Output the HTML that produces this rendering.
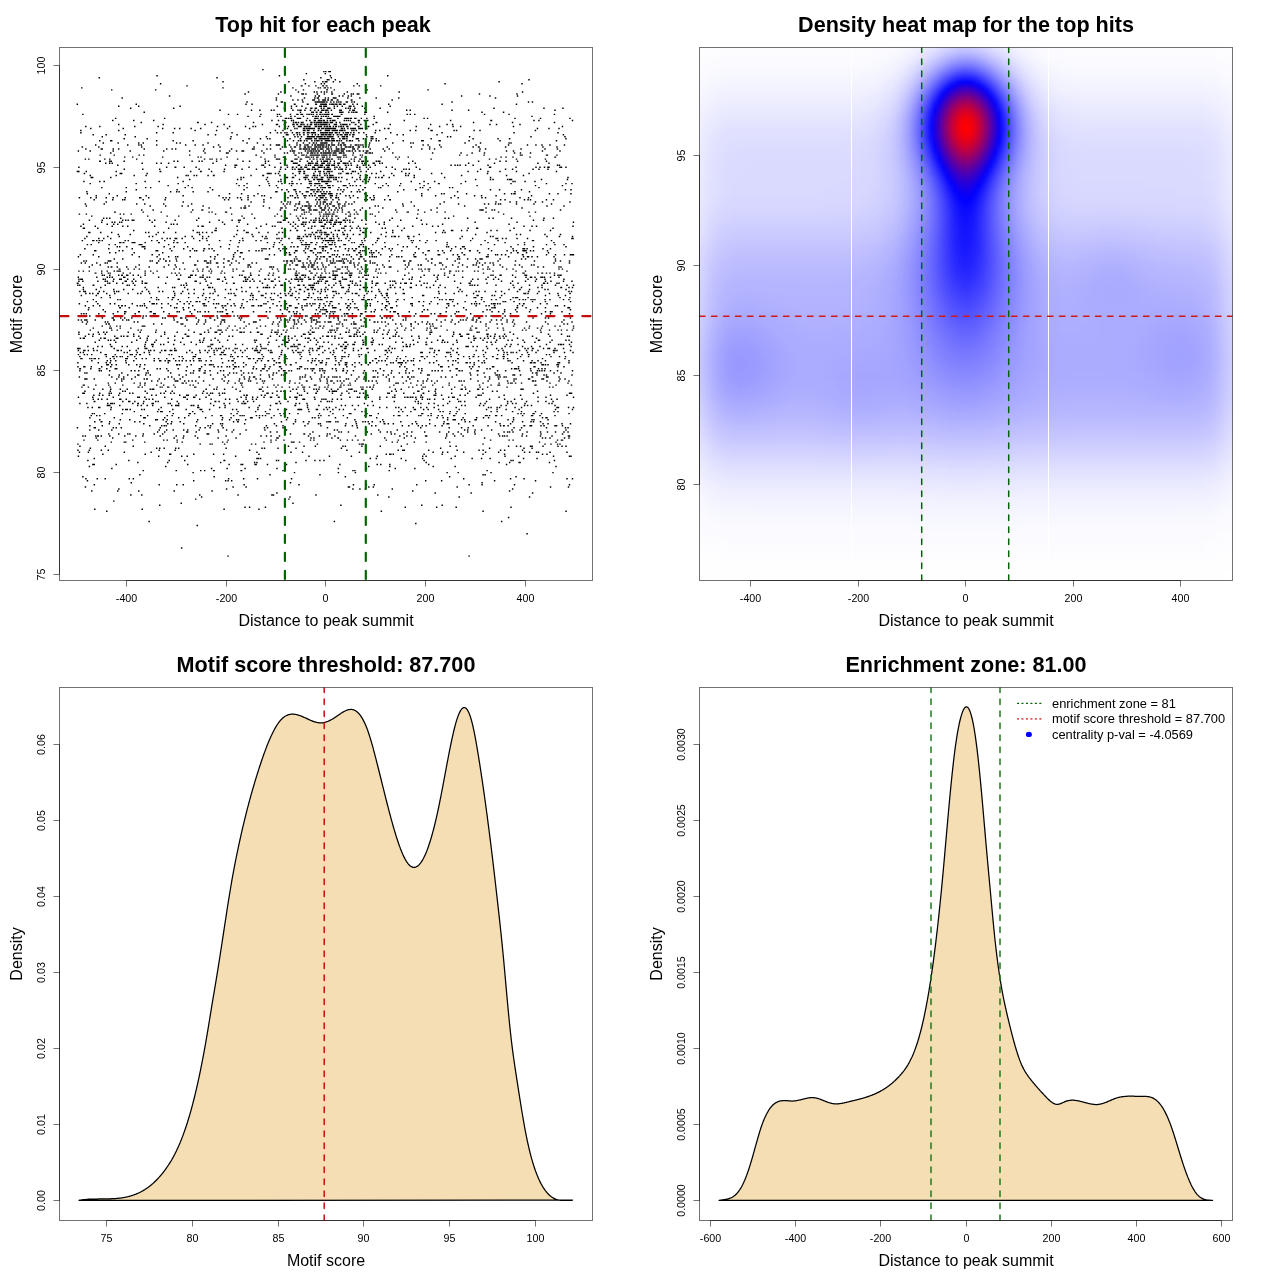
<!DOCTYPE html>
<html><head><meta charset="utf-8"><title>Motif centrality plots</title>
<style>html,body{margin:0;padding:0;background:#fff;width:1280px;height:1280px;overflow:hidden}svg{display:block}</style>
</head><body>
<svg width="1280" height="1280" viewBox="0 0 1280 1280" font-family='"Liberation Sans", Arial, sans-serif'><path d="M262.2 69.6h1.45m59.5 2h1.45m0.5 0h1.45m1.6 0h1.45m0 0h1.45m-25.4 2h1.45m17.5 0h1.45m-169.7 2.1h1.45m120.9 0h1.45m49.5 0h1.45m55.9 0h1.45m-289.9 2h1.45m116.3 0h1.45m102.4 0h1.45m9 0h1.45m-28.9 2h1.45m22 0h1.45m0.1 0h1.45m5 0h1.45m192.2 0h1.45m-307.4 2.1h1.45m64.4 0h1.45m24.5 0h1.45m6.6 0h1.45m1 0h1.45m-0.4 0h1.45m-1 0h1.45m5.1 0h1.45m5 0h1.45m157.8 0h1.45m-339.9 2h1.45m143.3 0h1.45m14.5 0h1.45m1.6 0h1.45m31.5 0h1.45m86.3 0h1.45m75.5 0h1.45m-336.4 2.1h1.45m112.9 0h1.45m-0.9 0h1.45m5.5 0h1.45m5.5 0h1.45m5.5 0h1.45m-0.9 0h1.45m1.5 0h1.45m-0.9 0h1.45m25.5 0h1.45m4.1 0h1.45m19.9 0h1.45m-300.4 2h1.45m139.8 0h1.45m68.4 0h1.45m24 0h1.45m0.6 0h1.45m2.5 0h1.45m-0.4 0h1.45m1 0h1.45m1.6 0h1.45m-220.6 2h1.45m42.5 0h1.45m138.8 0h1.45m6.1 0h1.45m21.9 0h1.45m-0.9 0h1.45m5.5 0h1.45m31.4 0h1.45m59.5 0h1.45m-181.1 2.1h1.45m31 0h1.45m16.1 0h1.45m14.4 0h1.45m1.1 0h1.45m3 0h1.45m1.6 0h1.45m1 0h1.45m3.6 0h1.45m14 0h1.45m50.4 0h1.45m121.9 0h1.45m-278.9 2h1.45m31.9 0h1.45m22.1 0h1.45m0 0h1.45m1.1 0h1.45m9.9 0h1.45m5.6 0h1.45m6 0h1.45m-0.9 0h1.45m10.5 0h1.45m5.6 0h1.45m0.5 0h1.45m2.6 0h1.45m0 0h1.45m119.2 0h1.45m36.1 0h1.45m-348.9 2h1.45m119.9 0h1.45m23 0h1.45m2 0h1.45m-0.9 0h1.45m18.5 0h1.45m2.1 0h1.45m4 0h1.45m1.6 0h1.45m108.8 0h1.45m26.9 0h1.45m26.1 0h1.45m-396.8 2.1h1.45m152.8 0h1.45m26.6 0h1.45m8.9 0h1.45m1.1 0h1.45m-0.5 0h1.45m5.6 0h1.45m1.5 0h1.45m3.6 0h1.45m0 0h1.45m-0.4 0h1.45m10.5 0h1.45m10.6 0h1.45m14.9 0h1.45m21.1 0h1.45m95.3 0h1.45m-220.6 2h1.45m15.1 0h1.45m3.6 0h1.45m3 0h1.45m9 0h1.45m0 0h1.45m3.1 0h1.45m2.5 0h1.45m-0.4 0h1.45m0 0h1.45m1.1 0h1.45m-1 0h1.45m1.6 0h1.45m-0.5 0h1.45m3.6 0h1.45m-1 0h1.45m12.1 0h1.45m-1 0h1.45m38.9 0h1.45m-146.6 2h1.45m32.9 0h1.45m-0.4 0h1.45m19.1 0h1.45m10.9 0h1.45m0.1 0h1.45m0 0h1.45m-0.9 0h1.45m-1 0h1.45m0.1 0h1.45m-0.5 0h1.45m-0.9 0h1.45m0 0h1.45m-0.9 0h1.45m-1 0h1.45m0.6 0h1.45m2.5 0h1.45m1.6 0h1.45m1.5 0h1.45m0.6 0h1.45m0.5 0h1.45m4.1 0h1.45m-0.5 0h1.45m3.1 0h1.45m1 0h1.45m96.3 0h1.45m75 0h1.45m2.5 0h1.45m-456.6 2.1h1.45m57.5 0h1.45m108.3 0h1.45m4.6 0h1.45m40.9 0h1.45m-0.9 0h1.45m11 0h1.45m-0.9 0h1.45m6.4 0h1.45m-0.9 0h1.45m3 0h1.45m0.1 0h1.45m-0.5 0h1.45m0.1 0h1.45m0 0h1.45m2.1 0h1.45m0.5 0h1.45m-0.9 0h1.45m-1 0h1.45m-0.4 0h1.45m0.5 0h1.45m-0.9 0h1.45m-1 0h1.45m1.1 0h1.45m0 0h1.45m1.6 0h1.45m-0.5 0h1.45m6.6 0h1.45m3 0h1.45m29.9 0h1.45m52 0h1.45m72.9 0h1.45m-399.2 2h1.45m18.5 0h1.45m40 0h1.45m95.8 0h1.45m12.6 0h1.45m3.6 0h1.45m4 0h1.45m16.5 0h1.45m0 0h1.45m1.1 0h1.45m0 0h1.45m-0.4 0h1.45m6.5 0h1.45m1.6 0h1.45m3.5 0h1.45m5.6 0h1.45m0 0h1.45m1.6 0h1.45m7 0h1.45m26.4 0h1.45m-260.9 2h1.45m41.5 0h1.45m109.3 0h1.45m5.6 0h1.45m13 0h1.45m3.6 0h1.45m-0.6 0h1.45m2.1 0h1.45m-1 0h1.45m-0.9 0h1.45m3.5 0h1.45m1.1 0h1.45m2.5 0h1.45m-0.9 0h1.45m0 0h1.45m3.1 0h1.45m10 0h1.45m1.1 0h1.45m0.5 0h1.45m3.1 0h1.45m8.5 0h1.45m13.9 0h1.45m112.4 0h1.45m48.5 0h1.45m17.5 0h1.45m-344.3 2.1h1.45m30 0h1.45m6.9 0h1.45m10.1 0h1.45m1.1 0h1.45m17.5 0h1.45m3.6 0h1.45m0.5 0h1.45m-0.4 0h1.45m2.5 0h1.45m4.1 0h1.45m2.9 0h1.45m2.1 0h1.45m2 0h1.45m-0.9 0h1.45m0 0h1.45m0.6 0h1.45m-1 0h1.45m-0.4 0h1.45m-1 0h1.45m2.1 0h1.45m7 0h1.45m0.1 0h1.45m7 0h1.45m1.6 0h1.45m0 0h1.45m50.9 0h1.45m2.1 0h1.45m40.4 0h1.45m15.1 0h1.45m84.9 0h1.45m-412.2 2h1.45m154.8 0h1.45m9.9 0h1.45m0.1 0h1.45m1.5 0h1.45m-0.9 0h1.45m2 0h1.45m-0.4 0h1.45m3 0h1.45m1.1 0h1.45m10 0h1.45m-0.9 0h1.45m-0.5 0h1.45m0.1 0h1.45m4.5 0h1.45m1.6 0h1.45m0.5 0h1.45m0.6 0h1.45m-0.5 0h1.45m6.6 0h1.45m0 0h1.45m19.9 0h1.45m92.9 0h1.45m20.1 0h1.45m-422.2 2.1h1.45m144.2 0h1.45m7.6 0h1.45m21.9 0h1.45m15.1 0h1.45m0.6 0h1.45m9.5 0h1.45m5.1 0h1.45m-0.5 0h1.45m1.6 0h1.45m0 0h1.45m3.1 0h1.45m0.5 0h1.45m-0.9 0h1.45m0.5 0h1.45m0.5 0h1.45m2 0h1.45m1.6 0h1.45m-0.5 0h1.45m0.6 0h1.45m0.5 0h1.45m0.1 0h1.45m-0.5 0h1.45m-0.9 0h1.45m-0.5 0h1.45m1.6 0h1.45m-1 0h1.45m7.6 0h1.45m-1 0h1.45m21.6 0h1.45m40.9 0h1.45m1.6 0h1.45m3 0h1.45m68.4 0h1.45m23 0h1.45m44 0h1.45m-307.9 2h1.45m10.4 0h1.45m16.1 0h1.45m2.1 0h1.45m8.5 0h1.45m2.6 0h1.45m7 0h1.45m8 0h1.45m1 0h1.45m-0.4 0h1.45m0.5 0h1.45m1.6 0h1.45m0.5 0h1.45m0.6 0h1.45m-0.5 0h1.45m0.6 0h1.45m4 0h1.45m-0.4 0h1.45m0 0h1.45m-0.9 0h1.45m-1 0h1.45m-0.4 0h1.45m0 0h1.45m32.9 0h1.45m156.4 0h1.45m-417.8 2h1.45m47.5 0h1.45m119.3 0h1.45m-0.4 0h1.45m0.6 0h1.45m0.5 0h1.45m-0.4 0h1.45m4.5 0h1.45m-0.4 0h1.45m0 0h1.45m-0.9 0h1.45m5.5 0h1.45m6 0h1.45m0 0h1.45m0.1 0h1.45m1.5 0h1.45m-0.9 0h1.45m4.5 0h1.45m0.1 0h1.45m-1 0h1.45m0.1 0h1.45m5.5 0h1.45m5.6 0h1.45m-1 0h1.45m-0.4 0h1.45m-0.5 0h1.45m-0.4 0h1.45m0.5 0h1.45m-0.9 0h1.45m-1 0h1.45m2.1 0h1.45m-0.5 0h1.45m4.1 0h1.45m4 0h1.45m5.9 0h1.45m48.5 0h1.45m2 0h1.45m86 0h1.45m24 0h1.45m28 0h1.45m-458.6 2.1h1.45m19.5 0h1.45m18.5 0h1.45m116.8 0h1.45m5.1 0h1.45m3 0h1.45m7.1 0h1.45m0.5 0h1.45m11.6 0h1.45m2 0h1.45m3 0h1.45m-0.5 0h1.45m1.6 0h1.45m-0.5 0h1.45m0.1 0h1.45m-1 0h1.45m0.6 0h1.45m-0.5 0h1.45m1.6 0h1.45m1.5 0h1.45m0.6 0h1.45m0 0h1.45m-0.4 0h1.45m8 0h1.45m0.6 0h1.45m0.5 0h1.45m0.6 0h1.45m6.5 0h1.45m-0.4 0h1.45m3.5 0h1.45m1.4 0h1.45m-0.9 0h1.45m35.1 0h1.45m44.9 0h1.45m38.9 0h1.45m-0.9 0h1.45m41 0h1.45m3.5 0h1.45m32.1 0h1.45m-432.7 2h1.45m55 0h1.45m-1 0h1.45m12 0h1.45m40.5 0h1.45m30.9 0h1.45m6.1 0h1.45m0.6 0h1.45m-0.5 0h1.45m0.6 0h1.45m1.5 0h1.45m0.1 0h1.45m6.5 0h1.45m-0.5 0h1.45m1 0h1.45m-0.9 0h1.45m0.5 0h1.45m-0.4 0h1.45m0 0h1.45m-0.4 0h1.45m-0.5 0h1.45m-0.9 0h1.45m0.5 0h1.45m-0.9 0h1.45m-0.5 0h1.45m-0.4 0h1.45m0 0h1.45m1.1 0h1.45m-0.5 0h1.45m-0.4 0h1.45m2.5 0h1.45m2.1 0h1.45m10.5 0h1.45m0.6 0h1.45m3.5 0h1.45m15.9 0h1.45m-0.9 0h1.45m95.4 0h1.45m37.5 0h1.45m40.5 0h1.45m-437.2 2h1.45m43 0h1.45m40.4 0h1.45m17.6 0h1.45m36.9 0h1.45m12.6 0h1.45m-0.5 0h1.45m5.6 0h1.45m7 0h1.45m-0.4 0h1.45m1.5 0h1.45m-0.9 0h1.45m2 0h1.45m-0.4 0h1.45m0.5 0h1.45m2.1 0h1.45m1.5 0h1.45m-0.4 0h1.45m1.9 0h1.45m0.1 0h1.45m-1 0h1.45m0.6 0h1.45m0.5 0h1.45m-0.4 0h1.45m-1 0h1.45m-0.4 0h1.45m-1 0h1.45m-0.4 0h1.45m-0.5 0h1.45m-0.4 0h1.45m1 0h1.45m3.6 0h1.45m-1 0h1.45m-0.4 0h1.45m-1 0h1.45m3.1 0h1.45m0.5 0h1.45m-0.9 0h1.45m-0.5 0h1.45m0.1 0h1.45m-1 0h1.45m-0.9 0h1.45m1.5 0h1.45m4.1 0h1.45m-1 0h1.45m3.6 0h1.45m10.9 0h1.45m15.6 0h1.45m38.9 0h1.45m15 0h1.45m4.1 0h1.45m35.9 0h1.45m5.1 0h1.45m22 0h1.45m-435.6 2.1h1.45m12.5 0h1.45m33.5 0h1.45m22 0h1.45m57.9 0h1.45m10.6 0h1.45m14.5 0h1.45m6.1 0h1.45m1 0h1.45m22.4 0h1.45m4.6 0h1.45m1.6 0h1.45m4 0h1.45m3.1 0h1.45m0 0h1.45m-0.4 0h1.45m2 0h1.45m-0.9 0h1.45m-1 0h1.45m0.1 0h1.45m0.5 0h1.45m-0.4 0h1.45m3.9 0h1.45m-0.9 0h1.45m-1 0h1.45m0.6 0h1.45m-1 0h1.45m0.1 0h1.45m-0.5 0h1.45m1.6 0h1.45m-1 0h1.45m0.6 0h1.45m-1 0h1.45m0.6 0h1.45m-0.5 0h1.45m1.6 0h1.45m1 0h1.45m-0.9 0h1.45m1 0h1.45m0.6 0h1.45m-1 0h1.45m0.6 0h1.45m2 0h1.45m-0.9 0h1.45m-1 0h1.45m9.1 0h1.45m-1 0h1.45m6.6 0h1.45m0.4 0h1.45m46.1 0h1.45m21.9 0h1.45m12 0h1.45m6.1 0h1.45m51.4 0h1.45m47.5 0h1.45m-473.1 2h1.45m31 0h1.45m38 0h1.45m10.5 0h1.45m3.6 0h1.45m10 0h1.45m8.1 0h1.45m25.4 0h1.45m20.6 0h1.45m33.4 0h1.45m1.6 0h1.45m6 0h1.45m0.6 0h1.45m5 0h1.45m-0.4 0h1.45m0.5 0h1.45m0.1 0h1.45m-1 0h1.45m-0.9 0h1.45m0 0h1.45m-0.4 0h1.45m-0.1 0h1.45m0.1 0h1.45m2.5 0h1.45m-0.9 0h1.45m-1 0h1.45m1.1 0h1.45m-0.5 0h1.45m-0.9 0h1.45m0.5 0h1.45m0.1 0h1.45m-0.5 0h1.45m-0.4 0h1.45m-1 0h1.45m-0.9 0h1.45m-1 0h1.45m-0.9 0h1.45m-0.5 0h1.45m0.1 0h1.45m-1 0h1.45m-0.9 0h1.45m-1 0h1.45m-0.9 0h1.45m4.5 0h1.45m-0.4 0h1.45m0.5 0h1.45m2.1 0h1.45m1.5 0h1.45m0.1 0h1.45m0 0h1.45m-0.4 0h1.45m-1 0h1.45m2.1 0h1.45m-0.5 0h1.45m-0.9 0h1.45m-1 0h1.45m0.1 0h1.45m3 0h1.45m16.4 0h1.45m2.1 0h1.45m-0.9 0h1.45m38.4 0h1.45m107.4 0h1.45m10 0h1.45m8.6 0h1.45m-479.6 2h1.45m36.5 0h1.45m74.9 0h1.45m20 0h1.45m57.4 0h1.45m6.1 0h1.45m6.5 0h1.45m11.1 0h1.45m0 0h1.45m1.1 0h1.45m0 0h1.45m3.5 0h1.45m3 0h1.45m0.6 0h1.45m-1 0h1.45m3.1 0h1.45m0 0h1.45m-0.9 0h1.45m0 0h1.45m-0.9 0h1.45m1.5 0h1.45m-0.9 0h1.45m0 0h1.45m-0.9 0h1.45m-1 0h1.45m-0.9 0h1.45m-0.5 0h1.45m-0.9 0h1.45m1 0h1.45m0.1 0h1.45m-0.5 0h1.45m-0.9 0h1.45m0.5 0h1.45m5.6 0h1.45m0.5 0h1.45m1.1 0h1.45m17.9 0h1.45m2.6 0h1.45m29 0h1.45m4.1 0h1.45m13.9 0h1.45m-0.5 0h1.45m20.6 0h1.45m1 0h1.45m16.1 0h1.45m4.4 0h1.45m54 0h1.45m-456 2.1h1.45m74.3 0h1.45m15.1 0h1.45m57.4 0h1.45m36.9 0h1.45m5.6 0h1.45m2.1 0h1.45m2.5 0h1.45m0.6 0h1.45m4 0h1.45m2.6 0h1.45m-0.5 0h1.45m0.6 0h1.45m2.5 0h1.45m-0.9 0h1.45m2 0h1.45m0.1 0h1.45m1 0h1.45m-0 0h1.45m-1 0h1.45m-0.9 0h1.45m-0.5 0h1.45m-0.9 0h1.45m4 0h1.45m-0.9 0h1.45m-0.5 0h1.45m-0.4 0h1.45m-1 0h1.45m0.1 0h1.45m-0.5 0h1.45m-0.4 0h1.45m0.5 0h1.45m-0.9 0h1.45m-1 0h1.45m0.1 0h1.45m-1 0h1.45m1.6 0h1.45m-1 0h1.45m-0.4 0h1.45m1 0h1.45m2.6 0h1.45m1 0h1.45m0.1 0h1.45m-0.5 0h1.45m1.1 0h1.45m1.5 0h1.45m3.6 0h1.45m3.5 0h1.45m9.9 0h1.45m14.1 0h1.45m49.9 0h1.45m70.5 0h1.45m42.5 0h1.45m-466.2 2h1.45m11.5 0h1.45m17.6 0h1.45m81.4 0h1.45m6 0h1.45m20.1 0h1.45m47.9 0h1.45m-0.4 0h1.45m-1 0h1.45m4.6 0h1.45m2 0h1.45m1.1 0h1.45m2.5 0h1.45m2.6 0h1.45m2.9 0h1.45m1.6 0h1.45m1.5 0h1.45m1.6 0h1.45m-1 0h1.45m-0.9 0h1.45m-0.5 0h1.45m-0.9 0h1.45m0.5 0h1.45m-0.9 0h1.45m-1 0h1.45m0.6 0h1.45m-0.5 0h1.45m-0.9 0h1.45m-1 0h1.45m1.1 0h1.45m2.5 0h1.45m-0.9 0h1.45m1 0h1.45m-0.9 0h1.45m-0.5 0h1.45m1.6 0h1.45m-1 0h1.45m0.1 0h1.45m-1 0h1.45m1.1 0h1.45m1.5 0h1.45m-0.4 0h1.45m11 0h1.45m29.4 0h1.45m4.6 0h1.45m32.4 0h1.45m124.9 0h1.45m-462.6 2h1.45m31.5 0h1.45m94.4 0h1.45m33.9 0h1.45m15.6 0h1.45m10 0h1.45m1.6 0h1.45m2 0h1.45m4.6 0h1.45m-1 0h1.45m-0.9 0h1.45m-0.5 0h1.45m0.1 0h1.45m-0.6 0h1.45m-0.4 0h1.45m-1 0h1.45m-0.4 0h1.45m1 0h1.45m0.1 0h1.45m0 0h1.45m-0.4 0h1.45m-1 0h1.45m-0.9 0h1.45m1 0h1.45m-0.9 0h1.45m1 0h1.45m0.1 0h1.45m0 0h1.45m0.1 0h1.45m-0.5 0h1.45m4.1 0h1.45m2.5 0h1.45m-0.9 0h1.45m0 0h1.45m0.6 0h1.45m-0.5 0h1.45m4.1 0h1.45m12.5 0h1.45m2.9 0h1.45m0.1 0h1.45m73.4 0h1.45m1.6 0h1.45m17.5 0h1.45m60 0h1.45m32.5 0h1.45m-442.2 2.1h1.45m21.5 0h1.45m81.9 0h1.45m17.1 0h1.45m9.9 0h1.45m5.6 0h1.45m1 0h1.45m18.6 0h1.45m9 0h1.45m4.1 0h1.45m-0.5 0h1.45m-0.9 0h1.45m0 0h1.45m-0.4 0h1.45m-0.5 0h1.45m-0.9 0h1.45m1.9 0h1.45m0.1 0h1.45m1.5 0h1.45m-0.4 0h1.45m-0.5 0h1.45m-0.4 0h1.45m0 0h1.45m-0.4 0h1.45m-0.5 0h1.45m-0.4 0h1.45m-0.5 0h1.45m-0.4 0h1.45m1.5 0h1.45m-0.9 0h1.45m0 0h1.45m4.6 0h1.45m1.5 0h1.45m-0.4 0h1.45m-0.5 0h1.45m0.6 0h1.45m8 0h1.45m-0.4 0h1.45m-0.5 0h1.45m3.6 0h1.45m6.4 0h1.45m0.1 0h1.45m2 0h1.45m8.1 0h1.45m43.9 0h1.45m40.5 0h1.45m23.5 0h1.45m10.1 0h1.45m54.9 0h1.45m-467.6 2h1.45m9.5 0h1.45m-0.5 0h1.45m43.5 0h1.45m15.1 0h1.45m18.5 0h1.45m48.5 0h1.45m42.9 0h1.45m4.6 0h1.45m3.5 0h1.45m0.6 0h1.45m-1 0h1.45m2.1 0h1.45m1 0h1.45m3.5 0h1.45m1.5 0h1.45m0.6 0h1.45m-1 0h1.45m0.1 0h1.45m1 0h1.45m-0.9 0h1.45m2 0h1.45m-0.9 0h1.45m-1 0h1.45m-0.4 0h1.45m-0.5 0h1.45m-0.4 0h1.45m-1 0h1.45m0.6 0h1.45m-1 0h1.45m-0.9 0h1.45m-1 0h1.45m-0.4 0h1.45m1 0h1.45m-0.9 0h1.45m0.5 0h1.45m0.6 0h1.45m4 0h1.45m1.1 0h1.45m-0.5 0h1.45m0.6 0h1.45m5 0h1.45m10.9 0h1.45m3.6 0h1.45m1.1 0h1.45m23 0h1.45m17.1 0h1.45m-0.1 0h1.45m14.5 0h1.45m-0.4 0h1.45m27.5 0h1.45m29.5 0h1.45m55 0h1.45m-454.7 2.1h1.45m13.5 0h1.45m19.1 0h1.45m3.1 0h1.45m31.9 0h1.45m2.1 0h1.45m26.4 0h1.45m37.6 0h1.45m8.9 0h1.45m38.1 0h1.45m5 0h1.45m4.6 0h1.45m2.4 0h1.45m-0.9 0h1.45m1 0h1.45m3.1 0h1.45m0 0h1.45m0.1 0h1.45m0 0h1.45m-0.9 0h1.45m-0.5 0h1.45m3.6 0h1.45m5.5 0h1.45m2.1 0h1.45m0 0h1.45m24.4 0h1.45m21.6 0h1.45m16.6 0h1.45m1 0h1.45m50.4 0h1.45m14 0h1.45m27.1 0h1.45m0.5 0h1.45m-416.8 2h1.45m30.6 0h1.45m9.6 0h1.45m1 0h1.45m14 0h1.45m27.5 0h1.45m8.1 0h1.45m6.4 0h1.45m14.1 0h1.45m43.4 0h1.45m5.6 0h1.45m4.5 0h1.45m0.1 0h1.45m0 0h1.45m8.6 0h1.45m6 0h1.45m1.6 0h1.45m-1 0h1.45m3.1 0h1.45m0.5 0h1.45m-0.4 0h1.45m2.9 0h1.45m1.1 0h1.45m-1 0h1.45m0.6 0h1.45m-0.5 0h1.45m0.1 0h1.45m-0.5 0h1.45m-0.4 0h1.45m0 0h1.45m-0.9 0h1.45m1 0h1.45m0.6 0h1.45m-0.5 0h1.45m1.1 0h1.45m-0.5 0h1.45m0.1 0h1.45m2.5 0h1.45m0.6 0h1.45m-0.5 0h1.45m1.1 0h1.45m-0.5 0h1.45m-0.9 0h1.45m4 0h1.45m3.1 0h1.45m-0.5 0h1.45m-0.9 0h1.45m0.5 0h1.45m0.6 0h1.45m0.5 0h1.45m4.9 0h1.45m52.5 0h1.45m3.5 0h1.45m10.1 0h1.45m35 0h1.45m31 0h1.45m17.5 0h1.45m7 0h1.45m4.6 0h1.45m6.5 0h1.45m13.1 0h1.45m-483.6 2h1.45m15 0h1.45m41.5 0h1.45m70.4 0h1.45m5 0h1.45m32.6 0h1.45m26.9 0h1.45m2.1 0h1.45m3.5 0h1.45m2.1 0h1.45m-0.5 0h1.45m3.1 0h1.45m3 0h1.45m-0.4 0h1.45m1 0h1.45m-0.4 0h1.45m0.5 0h1.45m2.5 0h1.45m-1 0h1.45m-0.9 0h1.45m-1 0h1.45m-0.9 0h1.45m0.5 0h1.45m0.1 0h1.45m0.5 0h1.45m-0.4 0h1.45m-1 0h1.45m0.6 0h1.45m-1 0h1.45m0.6 0h1.45m1 0h1.45m4.1 0h1.45m3.5 0h1.45m2.6 0h1.45m0 0h1.45m0.6 0h1.45m-1 0h1.45m-0.4 0h1.45m0.5 0h1.45m-0.4 0h1.45m3.5 0h1.45m-0.4 0h1.45m2.5 0h1.45m3.9 0h1.45m17.1 0h1.45m22.6 0h1.45m16.9 0h1.45m10 0h1.45m30.6 0h1.45m3.9 0h1.45m-0.9 0h1.45m25.1 0h1.45m35.9 0h1.45m12.6 0h1.45m-472.6 2.1h1.45m14 0h1.45m-1 0h1.45m-1 0h1.45m9.6 0h1.45m4 0h1.45m24.1 0h1.45m21 0h1.45m4 0h1.45m2.1 0h1.45m27.4 0h1.45m25.6 0h1.45m19.5 0h1.45m0.1 0h1.45m11.4 0h1.45m2.1 0h1.45m8.5 0h1.45m10.1 0h1.45m6.5 0h1.45m-0.4 0h1.45m1 0h1.45m-0.9 0h1.45m-0.5 0h1.45m0.1 0h1.45m-1 0h1.45m0.6 0h1.45m-1 0h1.45m1 0h1.45m-1 0h1.45m-0.4 0h1.45m0 0h1.45m-0.9 0h1.45m1 0h1.45m1.1 0h1.45m-1 0h1.45m-0.9 0h1.45m0 0h1.45m2.6 0h1.45m-0.5 0h1.45m-0.9 0h1.45m-1 0h1.45m1.1 0h1.45m3.5 0h1.45m-0.4 0h1.45m-0.5 0h1.45m-0.9 0h1.45m1 0h1.45m-0.4 0h1.45m0 0h1.45m-0.9 0h1.45m7 0h1.45m-0.9 0h1.45m-0.5 0h1.45m2.1 0h1.45m10.9 0h1.45m11.6 0h1.45m4.5 0h1.45m31.1 0h1.45m6.4 0h1.45m3.5 0h1.45m44 0h1.45m4.1 0h1.45m34 0h1.45m22.5 0h1.45m11 0h1.45m-480.5 2h1.45m10.4 0h1.45m21.5 0h1.45m15.6 0h1.45m32 0h1.45m24.5 0h1.45m12.5 0h1.45m15 0h1.45m8.1 0h1.45m5.5 0h1.45m4.1 0h1.45m0 0h1.45m16.9 0h1.45m27.1 0h1.45m0.6 0h1.45m-1 0h1.45m0.1 0h1.45m9.5 0h1.45m1.1 0h1.45m0.5 0h1.45m0.1 0h1.45m0.4 0h1.45m-0.9 0h1.45m0.5 0h1.45m-0.9 0h1.45m0.5 0h1.45m-0.9 0h1.45m-1 0h1.45m2.6 0h1.45m1 0h1.45m1.6 0h1.45m-1 0h1.45m1.1 0h1.45m1 0h1.45m0.1 0h1.45m0 0h1.45m0.1 0h1.45m1 0h1.45m-0.9 0h1.45m-0.5 0h1.45m-0.9 0h1.45m2 0h1.45m0.6 0h1.45m-1 0h1.45m-0.9 0h1.45m1 0h1.45m1.6 0h1.45m2.5 0h1.45m-0.9 0h1.45m2 0h1.45m1.6 0h1.45m-0.6 0h1.45m-0.9 0h1.45m15.5 0h1.45m93.4 0h1.45m25.5 0h1.45m5.5 0h1.45m27.5 0h1.45m16.1 0h1.45m-450.7 2h1.45m92.9 0h1.45m20 0h1.45m0.1 0h1.45m34.4 0h1.45m19.1 0h1.45m1.5 0h1.45m5.1 0h1.45m3.5 0h1.45m1.1 0h1.45m4.5 0h1.45m-0.9 0h1.45m1.5 0h1.45m-0.9 0h1.45m-0.1 0h1.45m0.6 0h1.45m1 0h1.45m-0.9 0h1.45m1.5 0h1.45m-0.9 0h1.45m0.5 0h1.45m0.1 0h1.45m-1 0h1.45m0.1 0h1.45m-0.5 0h1.45m-0.9 0h1.45m-0.5 0h1.45m0.1 0h1.45m1 0h1.45m0.1 0h1.45m-0.5 0h1.45m2.1 0h1.45m-0.5 0h1.45m-0.4 0h1.45m0.5 0h1.45m-0.9 0h1.45m8 0h1.45m10.6 0h1.45m0 0h1.45m0.9 0h1.45m-0.9 0h1.45m-0.9 0h1.45m0.5 0h1.45m19.1 0h1.45m38.4 0h1.45m27 0h1.45m9.6 0h1.45m10.9 0h1.45m28.6 0h1.45m4.5 0h1.45m8.6 0h1.45m-431.8 2.1h1.45m12.6 0h1.45m23.5 0h1.45m3.1 0h1.45m44.5 0h1.45m64.9 0h1.45m-1.1 0h1.45m17.1 0h1.45m18.6 0h1.45m-1 0h1.45m-0.9 0h1.45m4.5 0h1.45m0.1 0h1.45m-1 0h1.45m1.1 0h1.45m2.5 0h1.45m-0.4 0h1.45m-0.6 0h1.45m0.1 0h1.45m-0.5 0h1.45m-0.4 0h1.45m-0.5 0h1.45m-0.4 0h1.45m-1 0h1.45m-0.4 0h1.45m1 0h1.45m0.1 0h1.45m0 0h1.45m-0.9 0h1.45m-1 0h1.45m-0.9 0h1.45m-1 0h1.45m1.1 0h1.45m-0.5 0h1.45m1.1 0h1.45m-0.5 0h1.45m-0.4 0h1.45m0 0h1.45m5.6 0h1.45m0 0h1.45m-0.9 0h1.45m-1 0h1.45m5.6 0h1.45m6 0h1.45m0.6 0h1.45m95.8 0h1.45m6 0h1.45m15.5 0h1.45m35 0h1.45m0.1 0h1.45m23 0h1.45m-0.5 0h1.45m8.1 0h1.45m-433.7 2h1.45m6.5 0h1.45m28.5 0h1.45m34.1 0h1.45m1.4 0h1.45m24.6 0h1.45m32.4 0h1.45m12.6 0h1.45m7 0h1.45m13.6 0h1.45m6 0h1.45m-0.4 0h1.45m-0.5 0h1.45m-0.4 0h1.45m1 0h1.45m0.5 0h1.45m2 0h1.45m-0.4 0h1.45m3 0h1.45m-0.9 0h1.45m0 0h1.45m1.1 0h1.45m1.5 0h1.45m6.1 0h1.45m-1 0h1.45m-0.9 0h1.45m-1 0h1.45m-0.9 0h1.45m0 0h1.45m1.6 0h1.45m1 0h1.45m7.1 0h1.45m-0.5 0h1.45m4.6 0h1.45m2 0h1.45m14.4 0h1.45m13.1 0h1.45m2.1 0h1.45m7.5 0h1.45m91.4 0h1.45m3.5 0h1.45m5.5 0h1.45m15.6 0h1.45m23.5 0h1.45m-1 0h1.45m-471.5 2h1.45m2 0h1.45m14.5 0h1.45m3.5 0h1.45m25.5 0h1.45m66.4 0h1.45m4.1 0h1.45m0.5 0h1.45m3.1 0h1.45m3 0h1.45m15.1 0h1.45m25.9 0h1.45m10.1 0h1.45m0 0h1.45m0.1 0h1.45m5 0h1.45m7.6 0h1.45m-0.5 0h1.45m-0.4 0h1.45m2 0h1.45m-0.4 0h1.45m7 0h1.45m2 0h1.45m-1 0h1.45m1.6 0h1.45m2 0h1.45m0.6 0h1.45m-0.5 0h1.45m1.6 0h1.45m-1 0h1.45m-0.4 0h1.45m0 0h1.45m0.6 0h1.45m-0.5 0h1.45m4.6 0h1.45m0.5 0h1.45m9.6 0h1.45m1.5 0h1.45m4.1 0h1.45m-1 0h1.45m35.9 0h1.45m32 0h1.45m56.9 0h1.45m5.1 0h1.45m19 0h1.45m27.5 0h1.45m-447.1 2.1h1.45m-1 0h1.45m8 0h1.45m0.1 0h1.45m11.5 0h1.45m48.5 0h1.45m2.1 0h1.45m13 0h1.45m5.6 0h1.45m1.4 0h1.45m13.1 0h1.45m25 0h1.45m5.1 0h1.45m14.4 0h1.45m1.6 0h1.45m21.5 0h1.45m-0.4 0h1.45m6 0h1.45m6.1 0h1.45m2.9 0h1.45m4.1 0h1.45m2.5 0h1.45m1.1 0h1.45m-0.5 0h1.45m-0.4 0h1.45m0 0h1.45m1.6 0h1.45m2.5 0h1.45m5.1 0h1.45m-1 0h1.45m6.6 0h1.45m3.5 0h1.45m3.1 0h1.45m1.5 0h1.45m0.1 0h1.45m2.9 0h1.45m7.1 0h1.45m0.5 0h1.45m0.1 0h1.45m31.5 0h1.45m64.4 0h1.45m20 0h1.45m4.6 0h1.45m10 0h1.45m27.5 0h1.45m-442.2 2h1.45m2.5 0h1.45m1.1 0h1.45m28.5 0h1.45m13 0h1.45m3.1 0h1.45m6 0h1.45m43 0h1.45m50.9 0h1.45m13.6 0h1.45m3 0h1.45m7.1 0h1.45m-1 0h1.45m0.1 0h1.45m0 0h1.45m10.1 0h1.45m0 0h1.45m-0.4 0h1.45m0.4 0h1.45m1.6 0h1.45m0 0h1.45m3.1 0h1.45m-0.5 0h1.45m-0.4 0h1.45m-1 0h1.45m2.1 0h1.45m0.5 0h1.45m3.1 0h1.45m2 0h1.45m0.1 0h1.45m2.5 0h1.45m-0.4 0h1.45m-0.5 0h1.45m-0.9 0h1.45m0.5 0h1.45m1.6 0h1.45m10 0h1.45m1.1 0h1.45m6.9 0h1.45m-0.4 0h1.45m4 0h1.45m1.1 0h1.45m25 0h1.45m5.1 0h1.45m51.9 0h1.45m24.4 0h1.45m42 0h1.45m9.6 0h1.45m-432.7 2h1.45m106.4 0h1.45m8 0h1.45m0.1 0h1.45m23.9 0h1.45m0.1 0h1.45m4.5 0h1.45m16.1 0h1.45m10 0h1.45m-0.4 0h1.45m5 0h1.45m1.1 0h1.45m0.5 0h1.45m3 0h1.45m-1 0h1.45m0.1 0h1.45m-0.5 0h1.45m1.1 0h1.45m-0.5 0h1.45m-0.4 0h1.45m2.5 0h1.45m0.1 0h1.45m0 0h1.45m1.1 0h1.45m0 0h1.45m-0.4 0h1.45m2.5 0h1.45m5.6 0h1.45m-1 0h1.45m1.1 0h1.45m1.5 0h1.45m4.6 0h1.45m4.5 0h1.45m-0.9 0h1.45m3.4 0h1.45m5.1 0h1.45m74.4 0h1.45m2.5 0h1.45m1.1 0h1.45m1 0h1.45m4.1 0h1.45m6 0h1.45m13.5 0h1.45m68 0h1.45m0.5 0h1.45m-482 2.1h1.45m86.3 0h1.45m7.1 0h1.45m-1 0h1.45m7.1 0h1.45m10.5 0h1.45m37.5 0h1.45m12.5 0h1.45m14.4 0h1.45m8.6 0h1.45m4.6 0h1.45m5 0h1.45m3.6 0h1.45m-1 0h1.45m2.1 0h1.45m3 0h1.45m-0.9 0h1.45m2 0h1.45m0.1 0h1.45m4.9 0h1.45m-0.9 0h1.45m-0.5 0h1.45m2.6 0h1.45m-1 0h1.45m-0.4 0h1.45m-0.5 0h1.45m-0.4 0h1.45m1 0h1.45m1.6 0h1.45m-0.5 0h1.45m-0.9 0h1.45m4.5 0h1.45m0.6 0h1.45m1.5 0h1.45m5.1 0h1.45m9 0h1.45m-0.9 0h1.45m1 0h1.45m5.1 0h1.45m2.4 0h1.45m14.6 0h1.45m4.5 0h1.45m22.6 0h1.45m71.8 0h1.45m-0.4 0h1.45m24 0h1.45m18.5 0h1.45m2.5 0h1.45m3.1 0h1.45m2 0h1.45m-0.4 0h1.45m9.5 0h1.45m0.1 0h1.45m3 0h1.45m-443.1 2h1.45m17 0h1.45m15.5 0h1.45m38 0h1.45m8.5 0h1.45m14 0h1.45m16.1 0h1.45m12.9 0h1.45m22.6 0h1.45m3.5 0h1.45m5.6 0h1.45m1 0h1.45m2.1 0h1.45m-0.5 0h1.45m0.1 0h1.45m0.5 0h1.45m3.1 0h1.45m0 0h1.45m-0.9 0h1.45m1.4 0h1.45m0.6 0h1.45m-0.5 0h1.45m-0.9 0h1.45m0.5 0h1.45m5.1 0h1.45m-1 0h1.45m0.1 0h1.45m-1 0h1.45m-0.9 0h1.45m-0.5 0h1.45m0.1 0h1.45m-1 0h1.45m3.1 0h1.45m2.5 0h1.45m0.6 0h1.45m-0.5 0h1.45m-0.9 0h1.45m2 0h1.45m2.6 0h1.45m8.5 0h1.45m6.9 0h1.45m25.6 0h1.45m7.1 0h1.45m1 0h1.45m1.6 0h1.45m9 0h1.45m59.4 0h1.45m23.5 0h1.45m5.6 0h1.45m19 0h1.45m4.5 0h1.45m7.5 0h1.45m-472 2.1h1.45m0 0h1.45m6 0h1.45m28.5 0h1.45m42.5 0h1.45m-1 0h1.45m28.6 0h1.45m8.5 0h1.45m-1 0h1.45m9 0h1.45m11.1 0h1.45m53.9 0h1.45m18.1 0h1.45m0 0h1.45m2.1 0h1.45m-1 0h1.45m9.5 0h1.45m2 0h1.45m0.1 0h1.45m2 0h1.45m2.1 0h1.45m-0.5 0h1.45m-0.4 0h1.45m-1 0h1.45m0.6 0h1.45m9.5 0h1.45m8.1 0h1.45m-1 0h1.45m-0.9 0h1.45m0.5 0h1.45m4.1 0h1.45m4 0h1.45m12.9 0h1.45m19.6 0h1.45m64.9 0h1.45m8.1 0h1.45m8.9 0h1.45m10.6 0h1.45m15 0h1.45m38.5 0h1.45m-473.5 2h1.45m34.4 0h1.45m0 0h1.45m24 0h1.45m118.8 0h1.45m-0.9 0h1.45m-0.9 0h1.45m-0.5 0h1.45m0.1 0h1.45m3 0h1.45m1.6 0h1.45m13 0h1.45m5.1 0h1.45m3 0h1.45m-0.9 0h1.45m7.9 0h1.45m4.6 0h1.45m3 0h1.45m0.6 0h1.45m1.5 0h1.45m8.1 0h1.45m0.5 0h1.45m4.1 0h1.45m0 0h1.45m-0.9 0h1.45m1.5 0h1.45m5.6 0h1.45m11.9 0h1.45m3.1 0h1.45m14 0h1.45m12.6 0h1.45m2 0h1.45m20.9 0h1.45m8.6 0h1.45m44.4 0h1.45m40.1 0h1.45m-440.2 2h1.45m24.5 0h1.45m16.5 0h1.45m10.5 0h1.45m38.6 0h1.45m0.5 0h1.45m4.6 0h1.45m1 0h1.45m10 0h1.45m4 0h1.45m-0.9 0h1.45m35.5 0h1.45m10.4 0h1.45m-0.9 0h1.45m15.1 0h1.45m14 0h1.45m9.1 0h1.45m0.5 0h1.45m4 0h1.45m0 0h1.45m1.1 0h1.45m1 0h1.45m3.6 0h1.45m1 0h1.45m1.1 0h1.45m-1 0h1.45m0.1 0h1.45m-0.5 0h1.45m26.1 0h1.45m5 0h1.45m-1.1 0h1.45m15.1 0h1.45m8.6 0h1.45m10.5 0h1.45m1.1 0h1.45m4.5 0h1.45m45.9 0h1.45m43.5 0h1.45m15.5 0h1.45m-433.7 2.1h1.45m0 0h1.45m16.6 0h1.45m65.5 0h1.45m61.9 0h1.45m1.1 0h1.45m22.4 0h1.45m17.6 0h1.45m-0.5 0h1.45m3.6 0h1.45m-0.5 0h1.45m9.1 0h1.45m0 0h1.45m0.1 0h1.45m3.9 0h1.45m1.1 0h1.45m0.5 0h1.45m3.1 0h1.45m0 0h1.45m3.1 0h1.45m0.5 0h1.45m-0.9 0h1.45m-0.5 0h1.45m-0.4 0h1.45m0.5 0h1.45m0.6 0h1.45m-1 0h1.45m1.1 0h1.45m1.5 0h1.45m9.1 0h1.45m6 0h1.45m5.6 0h1.45m1.4 0h1.45m4.6 0h1.45m1.5 0h1.45m1.6 0h1.45m-1 0h1.45m5.6 0h1.45m23.5 0h1.45m28.9 0h1.45m44.5 0h1.45m76 0h1.45m-379.8 2h1.45m46.5 0h1.45m2 0h1.45m23.9 0h1.45m13.1 0h1.45m17.1 0h1.45m4.5 0h1.45m1.6 0h1.45m3.9 0h1.45m-0.9 0h1.45m1.5 0h1.45m-0.9 0h1.45m0 0h1.45m0.1 0h1.45m-1 0h1.45m-0.4 0h1.45m4.5 0h1.45m-0.9 0h1.45m3.5 0h1.45m0.6 0h1.45m-1 0h1.45m9.1 0h1.45m8.5 0h1.45m2.1 0h1.45m2.5 0h1.45m3.4 0h1.45m105 0h1.45m13.4 0h1.45m1.1 0h1.45m13.1 0h1.45m0.5 0h1.45m-0.9 0h1.45m0 0h1.45m28.5 0h1.45m24.5 0h1.45m-485 2h1.45m14.4 0h1.45m3 0h1.45m39.5 0h1.45m12.6 0h1.45m22.5 0h1.45m83.3 0h1.45m9.1 0h1.45m1.1 0h1.45m2.5 0h1.45m5.6 0h1.45m16 0h1.45m0.1 0h1.45m6.4 0h1.45m1.6 0h1.45m-0.5 0h1.45m-0.9 0h1.45m0 0h1.45m0.1 0h1.45m0 0h1.45m-0.4 0h1.45m0.5 0h1.45m5.6 0h1.45m1.5 0h1.45m12.6 0h1.45m6.5 0h1.45m3.9 0h1.45m41.6 0h1.45m11.4 0h1.45m9.1 0h1.45m29.5 0h1.45m46 0h1.45m0.5 0h1.45m8.6 0h1.45m8.5 0h1.45m-446.2 2.1h1.45m44.5 0h1.45m40.5 0h1.45m57 0h1.45m9 0h1.45m20.4 0h1.45m11.6 0h1.45m6.1 0h1.45m1 0h1.45m-0.4 0h1.45m2.5 0h1.45m2.6 0h1.45m7 0h1.45m0.1 0h1.45m-1 0h1.45m2 0h1.45m-0.5 0h1.45m-0.9 0h1.45m0 0h1.45m0.1 0h1.45m-1 0h1.45m4.6 0h1.45m-0.5 0h1.45m-0.9 0h1.45m20.5 0h1.45m14.6 0h1.45m8.4 0h1.45m9.6 0h1.45m13 0h1.45m17.6 0h1.45m6.9 0h1.45m9 0h1.45m-0.9 0h1.45m20.5 0h1.45m48.5 0h1.45m34 0h1.45m18 0h1.45m4.6 0h1.45m-405.3 2h1.45m18.6 0h1.45m49.4 0h1.45m3.6 0h1.45m13.9 0h1.45m8.6 0h1.45m5.5 0h1.45m13.6 0h1.45m18 0h1.45m2.5 0h1.45m3 0h1.45m0.6 0h1.45m-1 0h1.45m4.6 0h1.45m-1 0h1.45m-0.4 0h1.45m-1 0h1.45m1.6 0h1.45m9 0h1.45m-0.9 0h1.45m-1 0h1.45m0.1 0h1.45m3 0h1.45m1.1 0h1.45m2 0h1.45m2.6 0h1.45m20.9 0h1.45m4.1 0h1.45m10 0h1.45m22.9 0h1.45m51.6 0h1.45m56.9 0h1.45m25.5 0h1.45m-462.1 2h1.45m23 0h1.45m18 0h1.45m3.5 0h1.45m33.1 0h1.45m5.5 0h1.45m16.5 0h1.45m35.5 0h1.45m29.4 0h1.45m28.1 0h1.45m0.1 0h1.45m6.9 0h1.45m2.1 0h1.45m0.5 0h1.45m0.1 0h1.45m-1 0h1.45m-0.9 0h1.45m2 0h1.45m-0.4 0h1.45m-1 0h1.45m7.1 0h1.45m7 0h1.45m16.1 0h1.45m-1 0h1.45m11.9 0h1.45m0.6 0h1.45m38.1 0h1.45m0.9 0h1.45m6 0h1.45m18.1 0h1.45m1.5 0h1.45m84.9 0h1.45m-404.1 2.1h1.45m39.4 0h1.45m34 0h1.45m30 0h1.45m36.4 0h1.45m3.6 0h1.45m5.6 0h1.45m-1 0h1.45m-0.4 0h1.45m14 0h1.45m-0 0h1.45m-1 0h1.45m0.6 0h1.45m1.5 0h1.45m-0.4 0h1.45m2 0h1.45m14.1 0h1.45m1.5 0h1.45m1.6 0h1.45m13.5 0h1.45m2.6 0h1.45m39.4 0h1.45m10.6 0h1.45m10.9 0h1.45m60.9 0h1.45m7.6 0h1.45m20.5 0h1.45m42.5 0h1.45m4.1 0h1.45m-485.6 2h1.45m38 0h1.45m42.9 0h1.45m4.6 0h1.45m1 0h1.45m12.6 0h1.45m13.4 0h1.45m66.4 0h1.45m-0.4 0h1.45m10.1 0h1.45m6 0h1.45m2.6 0h1.45m5 0h1.45m0.1 0h1.45m4.4 0h1.45m1.6 0h1.45m-0.5 0h1.45m1.1 0h1.45m-1 0h1.45m1.6 0h1.45m1.5 0h1.45m1.6 0h1.45m11.5 0h1.45m7.1 0h1.45m4.5 0h1.45m1.1 0h1.45m36.4 0h1.45m58.4 0h1.45m56 0h1.45m13 0h1.45m-443.6 2h1.45m20.5 0h1.45m118.8 0h1.45m10.6 0h1.45m14.9 0h1.45m37.1 0h1.45m4.5 0h1.45m7.1 0h1.45m-1 0h1.45m2.5 0h1.45m5 0h1.45m-0.4 0h1.45m0.5 0h1.45m-0.4 0h1.45m1.5 0h1.45m-0.4 0h1.45m-1 0h1.45m-0.9 0h1.45m-0.5 0h1.45m3.6 0h1.45m2 0h1.45m23.1 0h1.45m55.4 0h1.45m18.4 0h1.45m1.1 0h1.45m21 0h1.45m36.5 0h1.45m5.6 0h1.45m1 0h1.45m-0.5 0h1.45m33 0h1.45m7.1 0h1.45m11.5 0h1.45m-476.1 2.1h1.45m19.5 0h1.45m27.5 0h1.45m35.5 0h1.45m34.5 0h1.45m27.5 0h1.45m4.6 0h1.45m6.4 0h1.45m1.1 0h1.45m24.5 0h1.45m0.6 0h1.45m3.5 0h1.45m5.1 0h1.45m-1 0h1.45m0.1 0h1.45m2 0h1.45m1.5 0h1.45m1 0h1.45m2.6 0h1.45m-0.5 0h1.45m-0.4 0h1.45m0.5 0h1.45m-0.4 0h1.45m-1 0h1.45m4.6 0h1.45m-0.5 0h1.45m-0.9 0h1.45m-1 0h1.45m2.6 0h1.45m8 0h1.45m2.1 0h1.45m2.5 0h1.45m12.4 0h1.45m5.1 0h1.45m13.1 0h1.45m32 0h1.45m12.4 0h1.45m17.6 0h1.45m18.5 0h1.45m5.5 0h1.45m13.1 0h1.45m34 0h1.45m-453.6 2h1.45m9.9 0h1.45m4 0h1.45m8.6 0h1.45m5.5 0h1.45m10.6 0h1.45m13 0h1.45m-0.4 0h1.45m6.5 0h1.45m15.5 0h1.45m56 0h1.45m1.5 0h1.45m2.1 0h1.45m6.5 0h1.45m1.6 0h1.45m6 0h1.45m21.4 0h1.45m15.6 0h1.45m5.6 0h1.45m-1 0h1.45m1.1 0h1.45m5.5 0h1.45m10.5 0h1.45m2 0h1.45m-0.4 0h1.45m-1 0h1.45m-0.4 0h1.45m1.5 0h1.45m3.6 0h1.45m3.5 0h1.45m-0.9 0h1.45m0.5 0h1.45m10.6 0h1.45m6 0h1.45m10.9 0h1.45m2.6 0h1.45m75.4 0h1.45m5.6 0h1.45m22.4 0h1.45m2.1 0h1.45m33 0h1.45m7.1 0h1.45m-435.8 2h1.45m17.1 0h1.45m8.5 0h1.45m0.6 0h1.45m17 0h1.45m20.5 0h1.45m58 0h1.45m2.5 0h1.45m11.6 0h1.45m5 0h1.45m14.4 0h1.45m50.5 0h1.45m1.6 0h1.45m-0.5 0h1.45m3.1 0h1.45m-1 0h1.45m0.6 0h1.45m4.5 0h1.45m4.6 0h1.45m24.5 0h1.45m0.9 0h1.45m3.1 0h1.45m0.6 0h1.45m9.5 0h1.45m3.6 0h1.45m-1 0h1.45m108.9 0h1.45m3 0h1.45m18 0h1.45m2.1 0h1.45m1 0h1.45m14.5 0h1.45m5.6 0h1.45m-448.7 2.1h1.45m75.5 0h1.45m66.4 0h1.45m11.4 0h1.45m16.1 0h1.45m5.1 0h1.45m1 0h1.45m7.6 0h1.45m6 0h1.45m-0.4 0h1.45m7.9 0h1.45m1.6 0h1.45m1.5 0h1.45m-0.9 0h1.45m0 0h1.45m4.6 0h1.45m4.5 0h1.45m7.1 0h1.45m7 0h1.45m55.4 0h1.45m31.5 0h1.45m50.4 0h1.45m12.6 0h1.45m5 0h1.45m17.5 0h1.45m5.6 0h1.45m26 0h1.45m-486 2h1.45m17.4 0h1.45m31 0h1.45m6.6 0h1.45m17.5 0h1.45m26.5 0h1.45m90.3 0h1.45m2.1 0h1.45m1.6 0h1.45m4.5 0h1.45m1.1 0h1.45m-1 0h1.45m-0.9 0h1.45m8 0h1.45m6.5 0h1.45m2 0h1.45m1.6 0h1.45m2 0h1.45m-0.9 0h1.45m1 0h1.45m-0.4 0h1.45m6 0h1.45m0.1 0h1.45m3.5 0h1.45m2.6 0h1.45m1.5 0h1.45m49.4 0h1.45m36 0h1.45m17 0h1.45m24.5 0h1.45m2.6 0h1.45m5.5 0h1.45m1.6 0h1.45m0.5 0h1.45m14.5 0h1.45m16 0h1.45m16.1 0h1.45m-466.6 2.1h1.45m62.4 0h1.45m14 0h1.45m15.1 0h1.45m4.5 0h1.45m13.5 0h1.45m40.5 0h1.45m2.6 0h1.45m12.9 0h1.45m20.1 0h1.45m8.5 0h1.45m6.1 0h1.45m1 0h1.45m-0.4 0h1.45m-0.5 0h1.45m0.6 0h1.45m-1 0h1.45m0.1 0h1.45m2.9 0h1.45m2.1 0h1.45m-0.5 0h1.45m4.1 0h1.45m1 0h1.45m3.6 0h1.45m0 0h1.45m3.1 0h1.45m2.5 0h1.45m0.6 0h1.45m28.9 0h1.45m1.6 0h1.45m23.5 0h1.45m9.6 0h1.45m48.9 0h1.45m80.9 0h1.45m15.5 0h1.45m-356.3 2h1.45m20 0h1.45m9.1 0h1.45m1.5 0h1.45m-0.9 0h1.45m-0.5 0h1.45m22.4 0h1.45m10.1 0h1.45m-0.4 0h1.45m2.5 0h1.45m10.1 0h1.45m2 0h1.45m6.1 0h1.45m-1 0h1.45m-0.4 0h1.45m8.9 0h1.45m-0.4 0h1.45m2 0h1.45m-0.9 0h1.45m2.5 0h1.45m5.1 0h1.45m-1 0h1.45m1.6 0h1.45m1 0h1.45m19.1 0h1.45m5.9 0h1.45m11.6 0h1.45m52.9 0h1.45m47.4 0h1.45m34.6 0h1.45m-381.8 2h1.45m10 0h1.45m38.1 0h1.45m7.9 0h1.45m-0.9 0h1.45m76.4 0h1.45m12.6 0h1.45m0.5 0h1.45m4.1 0h1.45m-0.5 0h1.45m-0.4 0h1.45m4 0h1.45m0.1 0h1.45m1.4 0h1.45m0.1 0h1.45m0 0h1.45m3.6 0h1.45m0 0h1.45m-0.4 0h1.45m2.5 0h1.45m1.6 0h1.45m2 0h1.45m1.6 0h1.45m3 0h1.45m10.6 0h1.45m4.5 0h1.45m33.9 0h1.45m21.1 0h1.45m11.4 0h1.45m47.5 0h1.45m0.1 0h1.45m0 0h1.45m7.6 0h1.45m1 0h1.45m64.5 0h1.45m-447.2 2.1h1.45m-1 0h1.45m26.6 0h1.45m16.5 0h1.45m28.5 0h1.45m16.5 0h1.45m1.5 0h1.45m12.1 0h1.45m-0.5 0h1.45m76.4 0h1.45m0.6 0h1.45m1.1 0h1.45m8.9 0h1.45m0.6 0h1.45m3 0h1.45m2.1 0h1.45m3 0h1.45m2.1 0h1.45m3.5 0h1.45m4.6 0h1.45m-0.5 0h1.45m5.6 0h1.45m20.9 0h1.45m16.6 0h1.45m9 0h1.45m-0.4 0h1.45m14.9 0h1.45m11 0h1.45m6.6 0h1.45m39.4 0h1.45m11.1 0h1.45m29 0h1.45m5 0h1.45m-457.5 2h1.45m5.5 0h1.45m32.5 0h1.45m2 0h1.45m6 0h1.45m82.9 0h1.45m14.6 0h1.45m19 0h1.45m23.9 0h1.45m11.6 0h1.45m10.1 0h1.45m1 0h1.45m5.1 0h1.45m7.4 0h1.45m2.6 0h1.45m0.5 0h1.45m-0.9 0h1.45m-1 0h1.45m-0.9 0h1.45m-0.5 0h1.45m0.1 0h1.45m1 0h1.45m-0.9 0h1.45m-0.5 0h1.45m10.6 0h1.45m3 0h1.45m2.6 0h1.45m1.5 0h1.45m-0.9 0h1.45m10.9 0h1.45m0.6 0h1.45m44 0h1.45m84.4 0h1.45m-413.3 2h1.45m54.5 0h1.45m18 0h1.45m10.1 0h1.45m61.9 0h1.45m31.4 0h1.45m5.1 0h1.45m13.6 0h1.45m2.5 0h1.45m18.5 0h1.45m1.5 0h1.45m-0.9 0h1.45m1 0h1.45m0.6 0h1.45m2 0h1.45m-0.9 0h1.45m2 0h1.45m-0.4 0h1.45m10.5 0h1.45m0.1 0h1.45m23.4 0h1.45m76.9 0h1.45m75 0h1.45m-427.8 2.1h1.45m1.6 0h1.45m1.5 0h1.45m9.6 0h1.45m76.5 0h1.45m43.9 0h1.45m9.1 0h1.45m29.9 0h1.45m-0.4 0h1.45m9.5 0h1.45m3.6 0h1.45m1.5 0h1.45m8.5 0h1.45m2 0h1.45m2.1 0h1.45m2.5 0h1.45m3.6 0h1.45m5 0h1.45m6.1 0h1.45m7.5 0h1.45m35.9 0h1.45m23.1 0h1.45m26.9 0h1.45m2.1 0h1.45m17.5 0h1.45m20 0h1.45m2.6 0h1.45m17 0h1.45m31 0h1.45m8 0h1.45m-465.5 2h1.45m11.4 0h1.45m19 0h1.45m1.6 0h1.45m1 0h1.45m2.6 0h1.45m0.1 0h1.45m14.4 0h1.45m3.6 0h1.45m19 0h1.45m20.1 0h1.45m20.9 0h1.45m11.6 0h1.45m5 0h1.45m0.1 0h1.45m41.9 0h1.45m0.1 0h1.45m12.5 0h1.45m10.6 0h1.45m1.4 0h1.45m0.6 0h1.45m2 0h1.45m0.6 0h1.45m1 0h1.45m-0.4 0h1.45m1 0h1.45m1.6 0h1.45m-0.5 0h1.45m-0.4 0h1.45m2.5 0h1.45m5.6 0h1.45m0 0h1.45m1.1 0h1.45m1 0h1.45m10.6 0h1.45m3 0h1.45m21.9 0h1.45m9.6 0h1.45m19.1 0h1.45m110.7 0h1.45m8.6 0h1.45m-443.2 2h1.45m9 0h1.45m1.1 0h1.45m3.5 0h1.45m0.6 0h1.45m29 0h1.45m12.5 0h1.45m42 0h1.45m11.5 0h1.45m15.1 0h1.45m37.4 0h1.45m0.6 0h1.45m-0.5 0h1.45m6.1 0h1.45m3.5 0h1.45m8.1 0h1.45m-0.5 0h1.45m0.6 0h1.45m2 0h1.45m2.5 0h1.45m-1 0h1.45m-0.4 0h1.45m3 0h1.45m-0.4 0h1.45m0 0h1.45m3.6 0h1.45m1 0h1.45m0.1 0h1.45m2.5 0h1.45m0.1 0h1.45m0.5 0h1.45m0.1 0h1.45m0 0h1.45m2.6 0h1.45m3 0h1.45m1.6 0h1.45m21.4 0h1.45m7.1 0h1.45m89.4 0h1.45m40.4 0h1.45m55 0h1.45m-491.5 2.1h1.45m22.4 0h1.45m5 0h1.45m2.6 0h1.45m52 0h1.45m1 0h1.45m2.1 0h1.45m45.9 0h1.45m21.6 0h1.45m17.4 0h1.45m22.6 0h1.45m3.5 0h1.45m4.6 0h1.45m0 0h1.45m1.1 0h1.45m17.9 0h1.45m-0.9 0h1.45m4 0h1.45m1.6 0h1.45m0 0h1.45m3.6 0h1.45m24 0h1.45m11.9 0h1.45m3.6 0h1.45m36.6 0h1.45m2.9 0h1.45m14.5 0h1.45m65 0h1.45m-429.6 2h1.45m12.9 0h1.45m15.5 0h1.45m9.1 0h1.45m3.5 0h1.45m25.5 0h1.45m42.1 0h1.45m2.4 0h1.45m-0.4 0h1.45m32.5 0h1.45m22.4 0h1.45m10.1 0h1.45m1.1 0h1.45m16.5 0h1.45m3.6 0h1.45m4.5 0h1.45m6.5 0h1.45m1.5 0h1.45m5.1 0h1.45m-0.5 0h1.45m0.1 0h1.45m8 0h1.45m10.1 0h1.45m-0.5 0h1.45m3.1 0h1.45m6.5 0h1.45m37.9 0h1.45m13.6 0h1.45m18.4 0h1.45m4.1 0h1.45m84.4 0h1.45m6.6 0h1.45m3 0h1.45m35 0h1.45m-491 2h1.45m-0.5 0h1.45m12 0h1.45m69.4 0h1.45m46 0h1.45m38.9 0h1.45m24.1 0h1.45m12 0h1.45m11.6 0h1.45m1.5 0h1.45m11 0h1.45m2 0h1.45m1.1 0h1.45m-1 0h1.45m10.1 0h1.45m0.5 0h1.45m6.6 0h1.45m3.5 0h1.45m1.6 0h1.45m2.5 0h1.45m1.6 0h1.45m13.9 0h1.45m1.6 0h1.45m17.5 0h1.45m62.4 0h1.45m7.1 0h1.45m-0.5 0h1.45m35 0h1.45m37.5 0h1.45m-420.7 2.1h1.45m58 0h1.45m20.4 0h1.45m-0.4 0h1.45m20 0h1.45m5.1 0h1.45m39.9 0h1.45m3.6 0h1.45m5 0h1.45m-0.9 0h1.45m6 0h1.45m11.5 0h1.45m1 0h1.45m-0.9 0h1.45m13 0h1.45m1.6 0h1.45m-0.5 0h1.45m4.1 0h1.45m4 0h1.45m8.6 0h1.45m30.9 0h1.45m7.6 0h1.45m40.4 0h1.45m6.5 0h1.45m-0.4 0h1.45m7.5 0h1.45m4.1 0h1.45m22.4 0h1.45m4.6 0h1.45m11.6 0h1.45m18.5 0h1.45m19 0h1.45m-463.1 2h1.45m-0.5 0h1.45m9.5 0h1.45m9.5 0h1.45m32.5 0h1.45m1.6 0h1.45m8 0h1.45m4.1 0h1.45m10.5 0h1.45m20.1 0h1.45m0.5 0h1.45m2 0h1.45m2.5 0h1.45m4.1 0h1.45m33 0h1.45m0.1 0h1.45m9.4 0h1.45m7.6 0h1.45m9.5 0h1.45m2.1 0h1.45m28.4 0h1.45m2.1 0h1.45m-0.5 0h1.45m1.6 0h1.45m0.5 0h1.45m1.1 0h1.45m-0.5 0h1.45m-0.9 0h1.45m4 0h1.45m10.1 0h1.45m18.5 0h1.45m-0.4 0h1.45m5.4 0h1.45m14.1 0h1.45m5 0h1.45m41.4 0h1.45m5.6 0h1.45m1 0h1.45m40.5 0h1.45m-370.2 2.1h1.45m10.5 0h1.45m24.5 0h1.45m42 0h1.45m35.5 0h1.45m14 0h1.45m23.4 0h1.45m27.1 0h1.45m2.1 0h1.45m0.5 0h1.45m1.5 0h1.45m6 0h1.45m2.1 0h1.45m0.5 0h1.45m-0.9 0h1.45m0 0h1.45m3.1 0h1.45m2.5 0h1.45m4.6 0h1.45m-0.5 0h1.45m1.6 0h1.45m4.5 0h1.45m4.6 0h1.45m-1 0h1.45m19.9 0h1.45m36.6 0h1.45m54.9 0h1.45m39.5 0h1.45m2.5 0h1.45m23 0h1.45m14.1 0h1.45m-475.1 2h1.45m19.5 0h1.45m10 0h1.45m28.5 0h1.45m2 0h1.45m31.1 0h1.45m5.5 0h1.45m9 0h1.45m4.5 0h1.45m24.1 0h1.45m17.5 0h1.45m7.9 0h1.45m2.1 0h1.45m18.1 0h1.45m11 0h1.45m0.1 0h1.45m2.5 0h1.45m1.6 0h1.45m-0.5 0h1.45m1.6 0h1.45m3.4 0h1.45m1.1 0h1.45m0.5 0h1.45m5.6 0h1.45m-1 0h1.45m4.6 0h1.45m2.5 0h1.45m8.6 0h1.45m36.9 0h1.45m4.6 0h1.45m1 0h1.45m-0.4 0h1.45m2 0h1.45m7.6 0h1.45m-0.5 0h1.45m3.6 0h1.45m46.9 0h1.45m26.9 0h1.45m1.1 0h1.45m52.5 0h1.45m11 0h1.45m11.6 0h1.45m-489.1 2h1.45m12.5 0h1.45m3.5 0h1.45m5.5 0h1.45m50 0h1.45m3.6 0h1.45m1.5 0h1.45m3.6 0h1.45m0 0h1.45m4.1 0h1.45m10 0h1.45m7.5 0h1.45m2.5 0h1.45m34.6 0h1.45m20.9 0h1.45m0.6 0h1.45m8.5 0h1.45m0.6 0h1.45m1.5 0h1.45m5.6 0h1.45m7 0h1.45m-0.9 0h1.45m0 0h1.45m0.6 0h1.45m12.4 0h1.45m1.6 0h1.45m1.5 0h1.45m-0.9 0h1.45m-1 0h1.45m1.1 0h1.45m3.5 0h1.45m-0.9 0h1.45m-0.5 0h1.45m1.1 0h1.45m3.5 0h1.45m5.6 0h1.45m3 0h1.45m12.6 0h1.45m11.9 0h1.45m-0.9 0h1.45m-1 0h1.45m28.6 0h1.45m49.9 0h1.45m11 0h1.45m22 0h1.45m0.1 0h1.45m3.5 0h1.45m2.1 0h1.45m9.5 0h1.45m9 0h1.45m43 0h1.45m-0.4 0h1.45m-492.1 2.1h1.45m9 0h1.45m-0.5 0h1.45m1.5 0h1.45m1.1 0h1.45m-1 0h1.45m1.1 0h1.45m21.5 0h1.45m1.6 0h1.45m22 0h1.45m4 0h1.45m6.1 0h1.45m8 0h1.45m24.1 0h1.45m5.9 0h1.45m11.1 0h1.45m9.5 0h1.45m7.6 0h1.45m2 0h1.45m11.6 0h1.45m3.4 0h1.45m18.6 0h1.45m18 0h1.45m1.1 0h1.45m18.9 0h1.45m0.6 0h1.45m0 0h1.45m-0.4 0h1.45m0 0h1.45m0.1 0h1.45m0 0h1.45m0.1 0h1.45m3 0h1.45m-0.9 0h1.45m1 0h1.45m6.1 0h1.45m11.5 0h1.45m1.6 0h1.45m10.9 0h1.45m32.6 0h1.45m0.5 0h1.45m5.1 0h1.45m5.9 0h1.45m7.5 0h1.45m33.1 0h1.45m12.9 0h1.45m11.6 0h1.45m33 0h1.45m-0.5 0h1.45m16.6 0h1.45m-454.2 2h1.45m19.5 0h1.45m-0.4 0h1.45m1 0h1.45m-0.9 0h1.45m7 0h1.45m0.1 0h1.45m-0.4 0h1.45m8.9 0h1.45m12.1 0h1.45m-1 0h1.45m13.1 0h1.45m2 0h1.45m-0.9 0h1.45m6 0h1.45m52.5 0h1.45m26.9 0h1.45m5.6 0h1.45m3.5 0h1.45m11.1 0h1.45m8 0h1.45m3.1 0h1.45m3.5 0h1.45m-0.5 0h1.45m3.5 0h1.45m4.1 0h1.45m4.5 0h1.45m2.6 0h1.45m1 0h1.45m15.6 0h1.45m1 0h1.45m6.6 0h1.45m11.9 0h1.45m7.6 0h1.45m26 0h1.45m11.9 0h1.45m20.1 0h1.45m39.4 0h1.45m15.6 0h1.45m18 0h1.45m28 0h1.45m-468 2h1.45m2.4 0h1.45m16.5 0h1.45m4.6 0h1.45m22.5 0h1.45m0.1 0h1.45m-0.4 0h1.45m25.4 0h1.45m39 0h1.45m19 0h1.45m42.9 0h1.45m7.1 0h1.45m18.1 0h1.45m-0.5 0h1.45m0.6 0h1.45m-0.5 0h1.45m-0.9 0h1.45m0 0h1.45m0.1 0h1.45m4.9 0h1.45m8.1 0h1.45m2.5 0h1.45m-0.4 0h1.45m-0.5 0h1.45m-0.9 0h1.45m1.5 0h1.45m7.6 0h1.45m0 0h1.45m13.6 0h1.45m-0.5 0h1.45m0.6 0h1.45m7.9 0h1.45m23.6 0h1.45m47.9 0h1.45m32.4 0h1.45m12.1 0h1.45m22 0h1.45m5.1 0h1.45m20.5 0h1.45m7 0h1.45m7.6 0h1.45m-448.2 2.1h1.45m1 0h1.45m5.6 0h1.45m14 0h1.45m0.1 0h1.45m-0.4 0h1.45m17.9 0h1.45m8.6 0h1.45m12 0h1.45m31.5 0h1.45m16 0h1.45m33.9 0h1.45m9.6 0h1.45m5.1 0h1.45m1.5 0h1.45m2.1 0h1.45m-1 0h1.45m6.6 0h1.45m1.5 0h1.45m9.5 0h1.45m1 0h1.45m-0.4 0h1.45m0.5 0h1.45m-0.4 0h1.45m-1 0h1.45m7.6 0h1.45m2.5 0h1.45m17.6 0h1.45m-1 0h1.45m2.6 0h1.45m20.4 0h1.45m16.6 0h1.45m2.5 0h1.45m7.6 0h1.45m28.9 0h1.45m0.5 0h1.45m5.6 0h1.45m5.5 0h1.45m0.1 0h1.45m45.4 0h1.45m21 0h1.45m31.1 0h1.45m-482.6 2h1.45m22.5 0h1.45m22 0h1.45m11.1 0h1.45m23.9 0h1.45m12.1 0h1.45m7.5 0h1.45m10 0h1.45m-1 0h1.45m3.1 0h1.45m1.5 0h1.45m15.6 0h1.45m31.4 0h1.45m0.6 0h1.45m0.5 0h1.45m2.1 0h1.45m8 0h1.45m2.6 0h1.45m2 0h1.45m17.6 0h1.45m1 0h1.45m5 0h1.45m-0.5 0h1.45m5.6 0h1.45m-0.5 0h1.45m6.1 0h1.45m-1 0h1.45m12.6 0h1.45m2 0h1.45m2.1 0h1.45m2 0h1.45m-0.9 0h1.45m10.9 0h1.45m12.1 0h1.45m5.5 0h1.45m1.6 0h1.45m25 0h1.45m31.4 0h1.45m7.6 0h1.45m3 0h1.45m22 0h1.45m23 0h1.45m8.6 0h1.45m0 0h1.45m1.1 0h1.45m14.5 0h1.45m6 0h1.45m-457.1 2h1.45m-0.5 0h1.45m22 0h1.45m2.1 0h1.45m32 0h1.45m0 0h1.45m12.6 0h1.45m17 0h1.45m3.1 0h1.45m0.5 0h1.45m5.5 0h1.45m9 0h1.45m22.1 0h1.45m10 0h1.45m5.6 0h1.45m1.4 0h1.45m1.6 0h1.45m17 0h1.45m13.6 0h1.45m0 0h1.45m5.6 0h1.45m5 0h1.45m-0 0h1.45m9.5 0h1.45m1.1 0h1.45m8 0h1.45m1.6 0h1.45m9 0h1.45m4.1 0h1.45m-0.5 0h1.45m4.1 0h1.45m1 0h1.45m0.6 0h1.45m4.9 0h1.45m3.6 0h1.45m13 0h1.45m9.6 0h1.45m24.9 0h1.45m-0.5 0h1.45m7.6 0h1.45m3 0h1.45m6.6 0h1.45m17.5 0h1.45m-0.9 0h1.45m6 0h1.45m12.5 0h1.45m14.1 0h1.45m5 0h1.45m1.5 0h1.45m5.1 0h1.45m0 0h1.45m0.1 0h1.45m3 0h1.45m1.5 0h1.45m12.6 0h1.45m-439.2 2.1h1.45m4.5 0h1.45m17.1 0h1.45m27 0h1.45m70.9 0h1.45m4.1 0h1.45m0 0h1.45m42.9 0h1.45m1.6 0h1.45m3.6 0h1.45m9.5 0h1.45m6.5 0h1.45m3 0h1.45m0.6 0h1.45m-0.5 0h1.45m5.6 0h1.45m29.5 0h1.45m-0.4 0h1.45m8.4 0h1.45m0.6 0h1.45m0.5 0h1.45m3.6 0h1.45m35 0h1.45m6.4 0h1.45m19.6 0h1.45m16.5 0h1.45m16 0h1.45m30.1 0h1.45m5 0h1.45m-1 0h1.45m7.1 0h1.45m20.5 0h1.45m-469.6 2h1.45m11.5 0h1.45m37.5 0h1.45m18.5 0h1.45m5.5 0h1.45m57 0h1.45m14.5 0h1.45m34.4 0h1.45m3.6 0h1.45m9.6 0h1.45m2.5 0h1.45m-0.4 0h1.45m23.9 0h1.45m15.1 0h1.45m0.5 0h1.45m1.6 0h1.45m4.5 0h1.45m2.1 0h1.45m1 0h1.45m6.1 0h1.45m2.5 0h1.45m9.9 0h1.45m7.1 0h1.45m9.6 0h1.45m20.5 0h1.45m10.4 0h1.45m11.1 0h1.45m0 0h1.45m12.1 0h1.45m3 0h1.45m5.1 0h1.45m-1 0h1.45m22 0h1.45m6.1 0h1.45m0.5 0h1.45m2.6 0h1.45m2.5 0h1.45m15.5 0h1.45m-0.9 0h1.45m22 0h1.45m7.5 0h1.45m7.6 0h1.45m4.5 0h1.45m0.1 0h1.45m0 0h1.45m-496.5 2h1.45m18.9 0h1.45m39 0h1.45m16.5 0h1.45m10.1 0h1.45m5.5 0h1.45m0.6 0h1.45m11 0h1.45m19 0h1.45m3 0h1.45m17.1 0h1.45m5 0h1.45m54.4 0h1.45m11.1 0h1.45m-0.9 0h1.45m6.9 0h1.45m2.1 0h1.45m1 0h1.45m-0.4 0h1.45m3.5 0h1.45m-0.4 0h1.45m4.5 0h1.45m1.6 0h1.45m10.5 0h1.45m7.6 0h1.45m0 0h1.45m6.4 0h1.45m1.1 0h1.45m0.6 0h1.45m0.5 0h1.45m12.1 0h1.45m5.5 0h1.45m0.6 0h1.45m1.5 0h1.45m11.1 0h1.45m0 0h1.45m41.4 0h1.45m-0.9 0h1.45m25.9 0h1.45m0.1 0h1.45m19.1 0h1.45m13.5 0h1.45m2.5 0h1.45m-0.4 0h1.45m2 0h1.45m4 0h1.45m15.1 0h1.45m-441.2 2.1h1.45m7 0h1.45m36 0h1.45m2.1 0h1.45m11 0h1.45m37 0h1.45m8 0h1.45m7.1 0h1.45m9.5 0h1.45m20.4 0h1.45m-0.9 0h1.45m0.1 0h1.45m-1 0h1.45m25.1 0h1.45m1 0h1.45m9.1 0h1.45m7.4 0h1.45m-0.9 0h1.45m1.5 0h1.45m5.6 0h1.45m5 0h1.45m7.6 0h1.45m0.5 0h1.45m0.6 0h1.45m5.5 0h1.45m4.1 0h1.45m-1 0h1.45m3.1 0h1.45m60.8 0h1.45m4 0h1.45m-0.9 0h1.45m13.5 0h1.45m9.1 0h1.45m0.5 0h1.45m6.6 0h1.45m6.5 0h1.45m3 0h1.45m-0.9 0h1.45m0 0h1.45m16.6 0h1.45m20 0h1.45m2.5 0h1.45m28.5 0h1.45m-473 2h1.45m1 0h1.45m20.5 0h1.45m-0.5 0h1.45m0 0h1.45m38 0h1.45m0.6 0h1.45m5 0h1.45m5.6 0h1.45m-1 0h1.45m2.1 0h1.45m5.5 0h1.45m19.6 0h1.45m5.4 0h1.45m0.1 0h1.45m3 0h1.45m16.1 0h1.45m-0.5 0h1.45m5.6 0h1.45m46.4 0h1.45m1.1 0h1.45m-0.5 0h1.45m1.6 0h1.45m0 0h1.45m1.1 0h1.45m2.5 0h1.45m-0.9 0h1.45m0 0h1.45m8.1 0h1.45m3.9 0h1.45m10.1 0h1.45m2 0h1.45m1.6 0h1.45m2 0h1.45m0.6 0h1.45m-0.5 0h1.45m0.1 0h1.45m0.5 0h1.45m3.1 0h1.45m1.5 0h1.45m12.6 0h1.45m-0.5 0h1.45m2.9 0h1.45m17.6 0h1.45m13.1 0h1.45m-0.5 0h1.45m3.6 0h1.45m-0.5 0h1.45m15.9 0h1.45m25.6 0h1.45m21 0h1.45m19 0h1.45m16 0h1.45m17.5 0h1.45m19.6 0h1.45m3.5 0h1.45m7.6 0h1.45m-489.6 2.1h1.45m2.5 0h1.45m10 0h1.45m7 0h1.45m0.6 0h1.45m8.5 0h1.45m38 0h1.45m-0.9 0h1.45m24.5 0h1.45m22.5 0h1.45m0 0h1.45m0.6 0h1.45m4.5 0h1.45m-0.4 0h1.45m4.5 0h1.45m6.6 0h1.45m6 0h1.45m11.6 0h1.45m2.9 0h1.45m29.1 0h1.45m4 0h1.45m9.1 0h1.45m2.5 0h1.45m2.1 0h1.45m-1 0h1.45m2 0h1.45m1.5 0h1.45m3.1 0h1.45m7.5 0h1.45m0.1 0h1.45m-1 0h1.45m0.6 0h1.45m7 0h1.45m-0.4 0h1.45m4 0h1.45m-0.4 0h1.45m1.5 0h1.45m3.6 0h1.45m9.9 0h1.45m1.1 0h1.45m0.5 0h1.45m32.6 0h1.45m21.4 0h1.45m6.5 0h1.45m0.1 0h1.45m16.5 0h1.45m16.1 0h1.45m1.4 0h1.45m4.1 0h1.45m3.6 0h1.45m1.5 0h1.45m59.5 0h1.45m14 0h1.45m-478.6 2h1.45m6.5 0h1.45m37.5 0h1.45m28 0h1.45m5.1 0h1.45m18 0h1.45m-0.4 0h1.45m32.9 0h1.45m16.6 0h1.45m0 0h1.45m34.9 0h1.45m2.6 0h1.45m4.6 0h1.45m0 0h1.45m4.6 0h1.45m4 0h1.45m1.5 0h1.45m0 0h1.45m-0.9 0h1.45m7.5 0h1.45m4.6 0h1.45m24 0h1.45m2.1 0h1.45m7.5 0h1.45m8.9 0h1.45m4.1 0h1.45m21.1 0h1.45m2 0h1.45m8.1 0h1.45m1 0h1.45m-0.9 0h1.45m12.4 0h1.45m6 0h1.45m8.6 0h1.45m8.5 0h1.45m9.1 0h1.45m-1 0h1.45m1.1 0h1.45m4.9 0h1.45m9.6 0h1.45m5.1 0h1.45m13.5 0h1.45m3 0h1.45m10.6 0h1.45m1 0h1.45m-446.1 2h1.45m17.5 0h1.45m1.5 0h1.45m-1 0h1.45m4.1 0h1.45m8 0h1.45m7.6 0h1.45m12 0h1.45m13.5 0h1.45m10.6 0h1.45m29.4 0h1.45m-0.9 0h1.45m9 0h1.45m4.6 0h1.45m22.5 0h1.45m1.1 0h1.45m17.9 0h1.45m0.1 0h1.45m0.5 0h1.45m27.1 0h1.45m0 0h1.45m0.1 0h1.45m2 0h1.45m1.6 0h1.45m-0.1 0h1.45m3.1 0h1.45m4.5 0h1.45m1.1 0h1.45m8 0h1.45m5.6 0h1.45m1.5 0h1.45m0.6 0h1.45m6 0h1.45m5.1 0h1.45m21.4 0h1.45m3.6 0h1.45m0 0h1.45m15.1 0h1.45m37.4 0h1.45m10.5 0h1.45m7.6 0h1.45m9.9 0h1.45m8.1 0h1.45m13.1 0h1.45m18 0h1.45m14.5 0h1.45m4 0h1.45m14.1 0h1.45m0.5 0h1.45m-443.1 2.1h1.45m-1 0h1.45m7 0h1.45m4.6 0h1.45m3.6 0h1.45m33.4 0h1.45m4.1 0h1.45m3.5 0h1.45m11.1 0h1.45m4.4 0h1.45m6.1 0h1.45m21 0h1.45m2.1 0h1.45m22.9 0h1.45m10.1 0h1.45m3.5 0h1.45m9.6 0h1.45m0.5 0h1.45m2.1 0h1.45m10.5 0h1.45m6.5 0h1.45m0 0h1.45m1.6 0h1.45m1.5 0h1.45m2.1 0h1.45m11 0h1.45m-0.4 0h1.45m0 0h1.45m6.1 0h1.45m9 0h1.45m3.1 0h1.45m2.5 0h1.45m-0.9 0h1.45m-0.6 0h1.45m7.1 0h1.45m1.5 0h1.45m24.6 0h1.45m5.5 0h1.45m5.1 0h1.45m1 0h1.45m2.4 0h1.45m1.6 0h1.45m0 0h1.45m10.1 0h1.45m1.5 0h1.45m37.5 0h1.45m3.1 0h1.45m0.5 0h1.45m15.6 0h1.45m5 0h1.45m44.5 0h1.45m2 0h1.45m-485 2h1.45m3 0h1.45m4.5 0h1.45m11 0h1.45m4 0h1.45m5.6 0h1.45m1.5 0h1.45m0.1 0h1.45m0 0h1.45m23.5 0h1.45m4.1 0h1.45m5 0h1.45m34.6 0h1.45m3.5 0h1.45m3 0h1.45m5 0h1.45m1.1 0h1.45m9 0h1.45m9.6 0h1.45m8.5 0h1.45m-0.9 0h1.45m14.4 0h1.45m17.6 0h1.45m16.5 0h1.45m11.6 0h1.45m-1 0h1.45m13.5 0h1.45m6.5 0h1.45m-0.4 0h1.45m0.5 0h1.45m-0.9 0h1.45m-1 0h1.45m10.1 0h1.45m-1 0h1.45m9.6 0h1.45m3.5 0h1.45m0.9 0h1.45m7.1 0h1.45m20.6 0h1.45m23 0h1.45m5.4 0h1.45m19.1 0h1.45m-0.5 0h1.45m4.1 0h1.45m1 0h1.45m2.6 0h1.45m10.5 0h1.45m2 0h1.45m13.6 0h1.45m21.5 0h1.45m8 0h1.45m40 0h1.45m-473.1 2h1.45m-1 0h1.45m4.5 0h1.45m5.1 0h1.45m0.5 0h1.45m11.6 0h1.45m5.5 0h1.45m13.5 0h1.45m6.6 0h1.45m17 0h1.45m2.1 0h1.45m2.5 0h1.45m30.5 0h1.45m8.5 0h1.45m2.1 0h1.45m24.5 0h1.45m17.4 0h1.45m2.6 0h1.45m9.1 0h1.45m-1 0h1.45m9.6 0h1.45m-0.5 0h1.45m1.1 0h1.45m10.5 0h1.45m-0.5 0h1.45m3.5 0h1.45m3.6 0h1.45m2.5 0h1.45m2.1 0h1.45m2.5 0h1.45m6.6 0h1.45m-0.5 0h1.45m1.6 0h1.45m-0.5 0h1.45m-0.4 0h1.45m1 0h1.45m-0.9 0h1.45m0 0h1.45m6.1 0h1.45m0.5 0h1.45m15.4 0h1.45m1.1 0h1.45m3.6 0h1.45m21.5 0h1.45m34.4 0h1.45m3.6 0h1.45m32.4 0h1.45m38.1 0h1.45m-0.5 0h1.45m12.5 0h1.45m2.6 0h1.45m-1 0h1.45m2.6 0h1.45m2 0h1.45m3.1 0h1.45m-453.7 2.1h1.45m0.5 0h1.45m4.1 0h1.45m7.5 0h1.45m1.6 0h1.45m-1 0h1.45m3.1 0h1.45m-0.5 0h1.45m4.1 0h1.45m3.6 0h1.45m5.4 0h1.45m30.1 0h1.45m2.5 0h1.45m8.6 0h1.45m0 0h1.45m2.1 0h1.45m5.9 0h1.45m35.1 0h1.45m1 0h1.45m7.1 0h1.45m-1 0h1.45m6.4 0h1.45m8.1 0h1.45m3.1 0h1.45m21 0h1.45m-0.9 0h1.45m0 0h1.45m3.1 0h1.45m-0.5 0h1.45m-0.9 0h1.45m0.5 0h1.45m8.5 0h1.45m4 0h1.45m10.6 0h1.45m-0.5 0h1.45m-0.4 0h1.45m-1 0h1.45m0.1 0h1.45m-1 0h1.45m10.6 0h1.45m0 0h1.45m-0.9 0h1.45m12 0h1.45m0.1 0h1.45m0.4 0h1.45m35.1 0h1.45m17.9 0h1.45m8.5 0h1.45m2.6 0h1.45m5 0h1.45m8.1 0h1.45m35.4 0h1.45m0.6 0h1.45m5.6 0h1.45m-0.5 0h1.45m10.1 0h1.45m11 0h1.45m0 0h1.45m26.5 0h1.45m2.1 0h1.45m0.5 0h1.45m-0.4 0h1.45m-484.1 2h1.45m17 0h1.45m9 0h1.45m1 0h1.45m1.1 0h1.45m10 0h1.45m-0.4 0h1.45m14.5 0h1.45m16.5 0h1.45m7.1 0h1.45m20 0h1.45m0.1 0h1.45m8.5 0h1.45m0.5 0h1.45m-0.5 0h1.45m2.6 0h1.45m1 0h1.45m13.6 0h1.45m6.5 0h1.45m10.6 0h1.45m-1 0h1.45m-0.9 0h1.45m2 0h1.45m28.4 0h1.45m16.1 0h1.45m2.1 0h1.45m3.5 0h1.45m2.1 0h1.45m3.9 0h1.45m3.1 0h1.45m0.5 0h1.45m0.1 0h1.45m0.5 0h1.45m-0.4 0h1.45m-1 0h1.45m2.6 0h1.45m-1 0h1.45m4.1 0h1.45m5.5 0h1.45m6.6 0h1.45m7 0h1.45m2.6 0h1.45m9.4 0h1.45m2.1 0h1.45m33.5 0h1.45m7.1 0h1.45m14.9 0h1.45m9.5 0h1.45m13.1 0h1.45m23.9 0h1.45m6.1 0h1.45m18.5 0h1.45m9.1 0h1.45m3 0h1.45m-0.4 0h1.45m2 0h1.45m4.5 0h1.45m0.1 0h1.45m0.5 0h1.45m4.6 0h1.45m7 0h1.45m-481.5 2h1.45m0.5 0h1.45m0 0h1.45m19.5 0h1.45m0.5 0h1.45m7.1 0h1.45m4.5 0h1.45m0.1 0h1.45m5 0h1.45m4.6 0h1.45m43 0h1.45m-0.5 0h1.45m24.5 0h1.45m11 0h1.45m0.1 0h1.45m5 0h1.45m18.6 0h1.45m0.5 0h1.45m3.6 0h1.45m10.9 0h1.45m-0.9 0h1.45m2 0h1.45m4.6 0h1.45m9.5 0h1.45m4.1 0h1.45m2 0h1.45m0.1 0h1.45m0 0h1.45m0.6 0h1.45m-0.5 0h1.45m0.1 0h1.45m5 0h1.45m0.1 0h1.45m1.9 0h1.45m4.6 0h1.45m1 0h1.45m-0.9 0h1.45m9 0h1.45m0.1 0h1.45m-1 0h1.45m6.1 0h1.45m0.5 0h1.45m0.1 0h1.45m18 0h1.45m-0.4 0h1.45m34.4 0h1.45m5.1 0h1.45m1 0h1.45m24.4 0h1.45m33.6 0h1.45m3.9 0h1.45m6.6 0h1.45m6.1 0h1.45m3.5 0h1.45m28 0h1.45m7 0h1.45m7.1 0h1.45m17.5 0h1.45m-486.5 2.1h1.45m2.5 0h1.45m13.5 0h1.45m6 0h1.45m0.5 0h1.45m4.6 0h1.45m10.5 0h1.45m-0.4 0h1.45m4.5 0h1.45m2.1 0h1.45m5.1 0h1.45m51.4 0h1.45m-0.4 0h1.45m8.4 0h1.45m15.1 0h1.45m19.5 0h1.45m0.6 0h1.45m-0.5 0h1.45m2.1 0h1.45m2.5 0h1.45m4.4 0h1.45m10.1 0h1.45m0.1 0h1.45m5 0h1.45m8.1 0h1.45m8 0h1.45m2.1 0h1.45m14.4 0h1.45m-0.4 0h1.45m1 0h1.45m3.1 0h1.45m-0.5 0h1.45m-0.9 0h1.45m10.5 0h1.45m-0.4 0h1.45m8.5 0h1.45m0.6 0h1.45m6.5 0h1.45m10.4 0h1.45m16.6 0h1.45m1.1 0h1.45m0.5 0h1.45m23.6 0h1.45m14.4 0h1.45m17.5 0h1.45m15.1 0h1.45m28.9 0h1.45m9.6 0h1.45m11.5 0h1.45m8.5 0h1.45m8.6 0h1.45m4 0h1.45m11.1 0h1.45m7 0h1.45m-496 2h1.45m-1 0h1.45m28.5 0h1.45m0.5 0h1.45m5.5 0h1.45m4.6 0h1.45m9 0h1.45m7.6 0h1.45m1.5 0h1.45m0 0h1.45m17.6 0h1.45m19 0h1.45m12.6 0h1.45m9.4 0h1.45m14.1 0h1.45m5.5 0h1.45m-0.9 0h1.45m26.9 0h1.45m26.6 0h1.45m22.4 0h1.45m0.6 0h1.45m0.5 0h1.45m5.6 0h1.45m9 0h1.45m3.1 0h1.45m10.5 0h1.45m2.1 0h1.45m14.9 0h1.45m2.6 0h1.45m-1 0h1.45m-0.4 0h1.45m6 0h1.45m9.1 0h1.45m3.5 0h1.45m2.6 0h1.45m0 0h1.45m3.1 0h1.45m-1 0h1.45m11.4 0h1.45m1.6 0h1.45m32 0h1.45m7.1 0h1.45m-0.5 0h1.45m15.5 0h1.45m22.1 0h1.45m6 0h1.45m24 0h1.45m-0.5 0h1.45m1.6 0h1.45m8 0h1.45m0.6 0h1.45m-482.6 2h1.45m0.5 0h1.45m12 0h1.45m-1 0h1.45m10.1 0h1.45m20.5 0h1.45m0.6 0h1.45m4.1 0h1.45m44.9 0h1.45m1.1 0h1.45m1.5 0h1.45m19.5 0h1.45m58.4 0h1.45m6.6 0h1.45m4 0h1.45m-0.9 0h1.45m-0.5 0h1.45m14.1 0h1.45m0 0h1.45m2.6 0h1.45m-1 0h1.45m3.6 0h1.45m-1 0h1.45m-0.4 0h1.45m0.4 0h1.45m0.1 0h1.45m13.5 0h1.45m3.6 0h1.45m5.5 0h1.45m6.1 0h1.45m-0.5 0h1.45m4.1 0h1.45m1 0h1.45m1.6 0h1.45m13.9 0h1.45m13.1 0h1.45m1 0h1.45m22.1 0h1.45m3.5 0h1.45m10.9 0h1.45m5.1 0h1.45m28.5 0h1.45m0.6 0h1.45m1 0h1.45m1.6 0h1.45m16.9 0h1.45m15.6 0h1.45m15 0h1.45m11 0h1.45m12.1 0h1.45m10 0h1.45m5.1 0h1.45m-491.6 2.1h1.45m16 0h1.45m42.9 0h1.45m11.6 0h1.45m13 0h1.45m0.6 0h1.45m8.5 0h1.45m22.5 0h1.45m-0.5 0h1.45m-0.9 0h1.45m1 0h1.45m27.6 0h1.45m7 0h1.45m5.9 0h1.45m4.6 0h1.45m0.6 0h1.45m-0.5 0h1.45m-0.4 0h1.45m0.5 0h1.45m3.1 0h1.45m14.5 0h1.45m3.1 0h1.45m9.5 0h1.45m4.1 0h1.45m-1 0h1.45m-0.5 0h1.45m-0.5 0h1.45m11.1 0h1.45m4.5 0h1.45m8.6 0h1.45m-1 0h1.45m-0.4 0h1.45m4.5 0h1.45m12.6 0h1.45m0 0h1.45m0.9 0h1.45m3.1 0h1.45m17.1 0h1.45m-1 0h1.45m2.6 0h1.45m4 0h1.45m8.6 0h1.45m-0.5 0h1.45m13.9 0h1.45m2.1 0h1.45m7 0h1.45m5.1 0h1.45m11 0h1.45m55 0h1.45m6 0h1.45m15 0h1.45m2.6 0h1.45m17.5 0h1.45m-0.9 0h1.45m6 0h1.45m2.1 0h1.45m-490.6 2h1.45m11.5 0h1.45m16 0h1.45m8.5 0h1.45m7.6 0h1.45m12.5 0h1.45m39.5 0h1.45m5.1 0h1.45m7.9 0h1.45m9.6 0h1.45m9.5 0h1.45m3.6 0h1.45m4.5 0h1.45m52.9 0h1.45m7.1 0h1.45m-0.4 0h1.45m5.5 0h1.45m-0.4 0h1.45m2.4 0h1.45m1.1 0h1.45m5 0h1.45m2.1 0h1.45m1.5 0h1.45m19.1 0h1.45m10 0h1.45m17.4 0h1.45m7.6 0h1.45m14.1 0h1.45m55.4 0h1.45m47.4 0h1.45m9.1 0h1.45m-1 0h1.45m8.1 0h1.45m14 0h1.45m1.5 0h1.45m16.6 0h1.45m-487.6 2.1h1.45m2.5 0h1.45m0.1 0h1.45m12.5 0h1.45m3 0h1.45m9 0h1.45m1.1 0h1.45m0.5 0h1.45m22.1 0h1.45m5 0h1.45m9 0h1.45m2.1 0h1.45m9.5 0h1.45m7.6 0h1.45m30.9 0h1.45m25.6 0h1.45m2.5 0h1.45m11.4 0h1.45m29.6 0h1.45m4.6 0h1.45m7 0h1.45m12 0h1.45m2 0h1.45m2.6 0h1.45m6 0h1.45m-0.4 0h1.45m0.5 0h1.45m9.6 0h1.45m0.5 0h1.45m17.9 0h1.45m2.1 0h1.45m6.1 0h1.45m-1 0h1.45m57.4 0h1.45m18.6 0h1.45m2 0h1.45m12.6 0h1.45m1.4 0h1.45m4.6 0h1.45m9.1 0h1.45m4.5 0h1.45m14.5 0h1.45m9.6 0h1.45m9 0h1.45m28.5 0h1.45m1.1 0h1.45m-487.1 2h1.45m2.5 0h1.45m1.5 0h1.45m3.5 0h1.45m-0.9 0h1.45m7 0h1.45m6.6 0h1.45m12 0h1.45m8.1 0h1.45m1.6 0h1.45m7.4 0h1.45m23.6 0h1.45m5 0h1.45m6.1 0h1.45m4 0h1.45m8 0h1.45m5 0h1.45m1.6 0h1.45m14 0h1.45m1.1 0h1.45m1.5 0h1.45m16.1 0h1.45m12.9 0h1.45m4.1 0h1.45m1.5 0h1.45m4.6 0h1.45m3 0h1.45m2.1 0h1.45m2.5 0h1.45m5.1 0h1.45m8.5 0h1.45m3 0h1.45m5.5 0h1.45m14.6 0h1.45m1 0h1.45m5.1 0h1.45m5.5 0h1.45m1.6 0h1.45m0 0h1.45m8.6 0h1.45m12.9 0h1.45m3.6 0h1.45m-0.5 0h1.45m7.1 0h1.45m6 0h1.45m-0.4 0h1.45m33.4 0h1.45m5 0h1.45m7.1 0h1.45m18 0h1.45m29.5 0h1.45m18 0h1.45m0.1 0h1.45m1 0h1.45m8 0h1.45m10.6 0h1.45m7 0h1.45m10.6 0h1.45m-490.1 2h1.45m13.5 0h1.45m12 0h1.45m63.5 0h1.45m26.4 0h1.45m14.1 0h1.45m15.5 0h1.45m-0.9 0h1.45m13.5 0h1.45m0.6 0h1.45m-1 0h1.45m6.9 0h1.45m-0.9 0h1.45m-0.4 0h1.45m13.5 0h1.45m6.1 0h1.45m-1 0h1.45m3.1 0h1.45m0 0h1.45m15.6 0h1.45m16.4 0h1.45m5.6 0h1.45m23.5 0h1.45m4.1 0h1.45m9.9 0h1.45m5.1 0h1.45m3 0h1.45m-0.9 0h1.45m33.9 0h1.45m-0.5 0h1.45m41.6 0h1.45m9 0h1.45m-0.5 0h1.45m12.6 0h1.45m1 0h1.45m5.6 0h1.45m42.4 0h1.45m11.6 0h1.45m5.5 0h1.45m-465.6 2.1h1.45m7.5 0h1.45m39.5 0h1.45m4 0h1.45m10.1 0h1.45m3 0h1.45m-0.4 0h1.45m13.5 0h1.45m8.1 0h1.45m6.4 0h1.45m2.1 0h1.45m14 0h1.45m26.6 0h1.45m10.9 0h1.45m3.6 0h1.45m8.5 0h1.45m-0.9 0h1.45m13 0h1.45m2.1 0h1.45m7 0h1.45m-0.9 0h1.45m-1 0h1.45m1.6 0h1.45m4.9 0h1.45m1.1 0h1.45m3 0h1.45m-0.9 0h1.45m0.5 0h1.45m4.1 0h1.45m7 0h1.45m21.1 0h1.45m9.9 0h1.45m7.6 0h1.45m-1 0h1.45m2.1 0h1.45m22.5 0h1.45m20.9 0h1.45m1.6 0h1.45m35 0h1.45m0.1 0h1.45m4.4 0h1.45m-0.9 0h1.45m16.6 0h1.45m11.5 0h1.45m1 0h1.45m0.1 0h1.45m-1 0h1.45m9.1 0h1.45m30.5 0h1.45m8.5 0h1.45m-478.1 2h1.45m23 0h1.45m1 0h1.45m35 0h1.45m0.6 0h1.45m12 0h1.45m4.6 0h1.45m25.9 0h1.45m7.1 0h1.45m14.5 0h1.45m11.6 0h1.45m5.5 0h1.45m1.1 0h1.45m2.4 0h1.45m13.6 0h1.45m0.5 0h1.45m22.1 0h1.45m5.5 0h1.45m0.1 0h1.45m-1 0h1.45m7.5 0h1.45m2 0h1.45m0.6 0h1.45m0 0h1.45m25.1 0h1.45m2.5 0h1.45m8.1 0h1.45m0 0h1.45m-0.9 0h1.45m2.4 0h1.45m0.1 0h1.45m1 0h1.45m13.1 0h1.45m9.5 0h1.45m-0.9 0h1.45m5 0h1.45m33.9 0h1.45m1.1 0h1.45m2.5 0h1.45m2.1 0h1.45m0 0h1.45m0.6 0h1.45m26.9 0h1.45m8.6 0h1.45m3.1 0h1.45m13 0h1.45m7.5 0h1.45m2.1 0h1.45m1 0h1.45m4.1 0h1.45m0.5 0h1.45m0.5 0h1.45m8.6 0h1.45m3.5 0h1.45m12.1 0h1.45m4 0h1.45m-483 2h1.45m7.4 0h1.45m52 0h1.45m29 0h1.45m5.6 0h1.45m2 0h1.45m4.1 0h1.45m-0.5 0h1.45m1.1 0h1.45m7.4 0h1.45m37.1 0h1.45m19.4 0h1.45m10.1 0h1.45m4.5 0h1.45m40 0h1.45m2 0h1.45m0.1 0h1.45m19.5 0h1.45m23.4 0h1.45m7.6 0h1.45m0.1 0h1.45m6.5 0h1.45m21.1 0h1.45m-1 0h1.45m2.9 0h1.45m6.1 0h1.45m20 0h1.45m11.1 0h1.45m9 0h1.45m7 0h1.45m17.6 0h1.45m0.5 0h1.45m-0.9 0h1.45m7 0h1.45m17 0h1.45m11.5 0h1.45m23.6 0h1.45m-492.6 2.1h1.45m17 0h1.45m11 0h1.45m3 0h1.45m16.1 0h1.45m10.6 0h1.45m6.4 0h1.45m-0.9 0h1.45m0 0h1.45m1.1 0h1.45m3.5 0h1.45m5.1 0h1.45m7.5 0h1.45m5.6 0h1.45m3.5 0h1.45m12.5 0h1.45m0 0h1.45m7.6 0h1.45m1.5 0h1.45m0.6 0h1.45m7.5 0h1.45m5.1 0h1.45m6.5 0h1.45m20.4 0h1.45m0.6 0h1.45m5.6 0h1.45m12 0h1.45m10.6 0h1.45m7 0h1.45m1.6 0h1.45m1.4 0h1.45m0.6 0h1.45m3.5 0h1.45m2.6 0h1.45m4.5 0h1.45m7.6 0h1.45m5.5 0h1.45m3.1 0h1.45m3 0h1.45m10.9 0h1.45m1.6 0h1.45m10.6 0h1.45m5.5 0h1.45m20.1 0h1.45m0 0h1.45m15.9 0h1.45m6.6 0h1.45m8 0h1.45m0.1 0h1.45m7.5 0h1.45m12.6 0h1.45m1.5 0h1.45m0.6 0h1.45m1.4 0h1.45m10.6 0h1.45m0.6 0h1.45m0 0h1.45m1.1 0h1.45m1 0h1.45m18 0h1.45m2.6 0h1.45m-1 0h1.45m15 0h1.45m5.1 0h1.45m-463.1 2h1.45m6.5 0h1.45m5 0h1.45m17.5 0h1.45m1.6 0h1.45m-1 0h1.45m1.6 0h1.45m10.5 0h1.45m1.6 0h1.45m0.6 0h1.45m1 0h1.45m24.5 0h1.45m20.5 0h1.45m10 0h1.45m0.5 0h1.45m14.6 0h1.45m-1 0h1.45m1.1 0h1.45m-1 0h1.45m4.1 0h1.45m2.5 0h1.45m5.1 0h1.45m9 0h1.45m0.1 0h1.45m3.4 0h1.45m0.6 0h1.45m-1 0h1.45m-0.9 0h1.45m14 0h1.45m2.6 0h1.45m2.5 0h1.45m3.1 0h1.45m0 0h1.45m9.6 0h1.45m1.5 0h1.45m0.6 0h1.45m3 0h1.45m6.5 0h1.45m4.5 0h1.45m2.1 0h1.45m2 0h1.45m14.1 0h1.45m-0.5 0h1.45m15.1 0h1.45m0.4 0h1.45m1.6 0h1.45m14 0h1.45m-0.4 0h1.45m8.5 0h1.45m14.1 0h1.45m9.4 0h1.45m24 0h1.45m4.1 0h1.45m20.5 0h1.45m8.5 0h1.45m1.6 0h1.45m4 0h1.45m21.5 0h1.45m3.6 0h1.45m31.5 0h1.45m0.5 0h1.45m5.6 0h1.45m-477.1 2h1.45m29.5 0h1.45m-1 0h1.45m7.5 0h1.45m16 0h1.45m13.6 0h1.45m11.5 0h1.45m0.6 0h1.45m5 0h1.45m4.1 0h1.45m25.4 0h1.45m6.1 0h1.45m16 0h1.45m1.6 0h1.45m24.9 0h1.45m16.1 0h1.45m6.5 0h1.45m0.1 0h1.45m3.5 0h1.45m15.5 0h1.45m3 0h1.45m8.1 0h1.45m-1 0h1.45m-0.4 0h1.45m0 0h1.45m9.6 0h1.45m-1 0h1.45m1.6 0h1.45m3 0h1.45m0.6 0h1.45m26.9 0h1.45m4.1 0h1.45m0 0h1.45m52.9 0h1.45m15.6 0h1.45m26.9 0h1.45m0.6 0h1.45m-0.4 0h1.45m20.5 0h1.45m-1 0h1.45m7.1 0h1.45m10 0h1.45m6.5 0h1.45m21.1 0h1.45m0 0h1.45m-482.5 2.1h1.45m13.4 0h1.45m79 0h1.45m9.5 0h1.45m30 0h1.45m52.9 0h1.45m5.1 0h1.45m14.5 0h1.45m12 0h1.45m3 0h1.45m0.6 0h1.45m0.5 0h1.45m0.1 0h1.45m12.5 0h1.45m7.1 0h1.45m8 0h1.45m15.4 0h1.45m5.1 0h1.45m3.6 0h1.45m35.9 0h1.45m2 0h1.45m37.1 0h1.45m19.4 0h1.45m1.6 0h1.45m13.1 0h1.45m9.5 0h1.45m13.5 0h1.45m38.5 0h1.45m-466.6 2h1.45m11 0h1.45m5.5 0h1.45m-0.4 0h1.45m11.5 0h1.45m-0.9 0h1.45m9.5 0h1.45m-0.5 0h1.45m11.1 0h1.45m12 0h1.45m0.6 0h1.45m9.5 0h1.45m6.1 0h1.45m1 0h1.45m3.5 0h1.45m2 0h1.45m7.6 0h1.45m1 0h1.45m0.6 0h1.45m-1 0h1.45m8.6 0h1.45m19.5 0h1.45m11.4 0h1.45m2.1 0h1.45m17.6 0h1.45m-1 0h1.45m2.6 0h1.45m2 0h1.45m21.5 0h1.45m5 0h1.45m-0.4 0h1.45m2 0h1.45m0.6 0h1.45m0.5 0h1.45m29.1 0h1.45m-1 0h1.45m3.9 0h1.45m1.6 0h1.45m14.6 0h1.45m2 0h1.45m0.1 0h1.45m12.5 0h1.45m11.6 0h1.45m22.4 0h1.45m9 0h1.45m0.6 0h1.45m22.9 0h1.45m7.6 0h1.45m5.1 0h1.45m4.5 0h1.45m11 0h1.45m11.1 0h1.45m14.5 0h1.45m3.5 0h1.45m0.1 0h1.45m8.5 0h1.45m-482 2h1.45m1 0h1.45m1 0h1.45m11 0h1.45m13 0h1.45m10.1 0h1.45m9 0h1.45m17 0h1.45m0.1 0h1.45m12.5 0h1.45m21.1 0h1.45m33.4 0h1.45m-0.4 0h1.45m53.4 0h1.45m10.6 0h1.45m0.5 0h1.45m2.1 0h1.45m13.9 0h1.45m1.1 0h1.45m3.5 0h1.45m0.6 0h1.45m3.5 0h1.45m2.1 0h1.45m9.5 0h1.45m0.6 0h1.45m0 0h1.45m3.1 0h1.45m7 0h1.45m-0.4 0h1.45m34.4 0h1.45m-0.9 0h1.45m16 0h1.45m13.9 0h1.45m2.1 0h1.45m4 0h1.45m-0.9 0h1.45m13 0h1.45m14.1 0h1.45m30.9 0h1.45m6.1 0h1.45m29.5 0h1.45m7.5 0h1.45m17.6 0h1.45m-481.2 2.1h1.45m8.5 0h1.45m36.1 0h1.45m4.6 0h1.45m1.4 0h1.45m6.1 0h1.45m13 0h1.45m33 0h1.45m9.5 0h1.45m2.1 0h1.45m2.5 0h1.45m-0.4 0h1.45m10.5 0h1.45m2.1 0h1.45m9 0h1.45m13.4 0h1.45m14.1 0h1.45m-0.9 0h1.45m5.5 0h1.45m4.1 0h1.45m2 0h1.45m3.6 0h1.45m4 0h1.45m0.1 0h1.45m10.4 0h1.45m6.1 0h1.45m1.5 0h1.45m2.6 0h1.45m3 0h1.45m2.6 0h1.45m1.5 0h1.45m6.1 0h1.45m6.5 0h1.45m6.9 0h1.45m3.1 0h1.45m5.6 0h1.45m5 0h1.45m-0.9 0h1.45m1.5 0h1.45m7.1 0h1.45m14 0h1.45m25.9 0h1.45m8.1 0h1.45m6 0h1.45m0.1 0h1.45m24.4 0h1.45m3.6 0h1.45m12.6 0h1.45m11.5 0h1.45m28.5 0h1.45m0.5 0h1.45m13.1 0h1.45m0.5 0h1.45m-465.6 2h1.45m8.5 0h1.45m-0.5 0h1.45m6.1 0h1.45m2.5 0h1.45m5.6 0h1.45m9.6 0h1.45m18.4 0h1.45m1.1 0h1.45m7 0h1.45m5.6 0h1.45m-1 0h1.45m-0.9 0h1.45m2.5 0h1.45m9.1 0h1.45m12.4 0h1.45m-0.9 0h1.45m5.5 0h1.45m20.1 0h1.45m-1 0h1.45m0.6 0h1.45m24.9 0h1.45m8.1 0h1.45m1.5 0h1.45m8.1 0h1.45m8 0h1.45m1.1 0h1.45m7 0h1.45m-0 0h1.45m5.5 0h1.45m9.1 0h1.45m3 0h1.45m2.6 0h1.45m-1 0h1.45m12.6 0h1.45m10.5 0h1.45m15.9 0h1.45m-0.9 0h1.45m3.1 0h1.45m2 0h1.45m14.1 0h1.45m59.9 0h1.45m4.5 0h1.45m4 0h1.45m-0.4 0h1.45m21.5 0h1.45m29 0h1.45m11 0h1.45m1.6 0h1.45m20.5 0h1.45m-493.5 2.1h1.45m1.5 0h1.45m2 0h1.45m0.1 0h1.45m-1 0h1.45m7 0h1.45m17 0h1.45m-0.9 0h1.45m7 0h1.45m2.6 0h1.45m0.5 0h1.45m44 0h1.45m11.1 0h1.45m-1 0h1.45m10.1 0h1.45m5.4 0h1.45m7.6 0h1.45m6 0h1.45m-0.4 0h1.45m0 0h1.45m14.6 0h1.45m17.9 0h1.45m19.6 0h1.45m4.5 0h1.45m1.1 0h1.45m2.5 0h1.45m-0.4 0h1.45m2 0h1.45m5.1 0h1.45m5.5 0h1.45m0.5 0h1.45m-0.5 0h1.45m0.6 0h1.45m20.5 0h1.45m4.6 0h1.45m0.5 0h1.45m13.1 0h1.45m7.4 0h1.45m21.6 0h1.45m9 0h1.45m1.1 0h1.45m29.4 0h1.45m7 0h1.45m5.6 0h1.45m7 0h1.45m1.1 0h1.45m1.5 0h1.45m4.6 0h1.45m-0.5 0h1.45m2.1 0h1.45m13.4 0h1.45m3.6 0h1.45m3.1 0h1.45m4.5 0h1.45m5 0h1.45m49 0h1.45m-483 2h1.45m3.5 0h1.45m16.5 0h1.45m1 0h1.45m25 0h1.45m2.1 0h1.45m38 0h1.45m-1 0h1.45m19.1 0h1.45m5.9 0h1.45m14.1 0h1.45m2 0h1.45m18.1 0h1.45m8 0h1.45m0.1 0h1.45m-0.5 0h1.45m15.9 0h1.45m4.6 0h1.45m7.1 0h1.45m5 0h1.45m2.6 0h1.45m6 0h1.45m4.1 0h1.45m3.9 0h1.45m-0.4 0h1.45m0.5 0h1.45m3.6 0h1.45m2 0h1.45m0.1 0h1.45m-0.5 0h1.45m7.6 0h1.45m12.5 0h1.45m9.1 0h1.45m8.4 0h1.45m-0.9 0h1.45m1.5 0h1.45m2.6 0h1.45m2 0h1.45m28.6 0h1.45m5.5 0h1.45m3.9 0h1.45m12.1 0h1.45m8.5 0h1.45m6.1 0h1.45m16 0h1.45m3 0h1.45m8.1 0h1.45m15.5 0h1.45m4.1 0h1.45m12.5 0h1.45m17.5 0h1.45m15 0h1.45m8.6 0h1.45m-487.1 2h1.45m18.5 0h1.45m1 0h1.45m-1 0h1.45m43 0h1.45m6.6 0h1.45m18 0h1.45m0.1 0h1.45m12.5 0h1.45m6 0h1.45m15 0h1.45m27.1 0h1.45m21.9 0h1.45m4.1 0h1.45m15 0h1.45m0.6 0h1.45m3.5 0h1.45m13 0h1.45m19.5 0h1.45m0.6 0h1.45m2 0h1.45m7.6 0h1.45m1 0h1.45m-0.4 0h1.45m-0.5 0h1.45m30.9 0h1.45m6.1 0h1.45m3.6 0h1.45m8.5 0h1.45m-0.9 0h1.45m5.5 0h1.45m6.9 0h1.45m1.6 0h1.45m1.5 0h1.45m21.1 0h1.45m29.4 0h1.45m9.6 0h1.45m3.6 0h1.45m11 0h1.45m32 0h1.45m14.5 0h1.45m2.1 0h1.45m-466.7 2.1h1.45m6.5 0h1.45m5.1 0h1.45m2 0h1.45m20.6 0h1.45m-0.4 0h1.45m0 0h1.45m39 0h1.45m31.4 0h1.45m9.6 0h1.45m4.5 0h1.45m9.6 0h1.45m12.9 0h1.45m3.6 0h1.45m11.5 0h1.45m6.1 0h1.45m6 0h1.45m16.1 0h1.45m7.4 0h1.45m-0.9 0h1.45m2 0h1.45m6.6 0h1.45m9.5 0h1.45m17.1 0h1.45m0.5 0h1.45m1.6 0h1.45m17.9 0h1.45m14.6 0h1.45m8 0h1.45m17.9 0h1.45m1.1 0h1.45m6.5 0h1.45m29.6 0h1.45m12.4 0h1.45m26.1 0h1.45m14.5 0h1.45m11.5 0h1.45m11.1 0h1.45m3.5 0h1.45m12.1 0h1.45m-481.7 2h1.45m15 0h1.45m0.1 0h1.45m7.5 0h1.45m9.1 0h1.45m78.4 0h1.45m15.5 0h1.45m11.1 0h1.45m2.5 0h1.45m11.4 0h1.45m32.6 0h1.45m1.1 0h1.45m2.5 0h1.45m13.5 0h1.45m2 0h1.45m1.1 0h1.45m3 0h1.45m12.6 0h1.45m-1 0h1.45m-0.9 0h1.45m7.5 0h1.45m5.6 0h1.45m0.5 0h1.45m2.1 0h1.45m18.9 0h1.45m16.1 0h1.45m7 0h1.45m6.6 0h1.45m11.9 0h1.45m1.5 0h1.45m3.1 0h1.45m-1 0h1.45m0.1 0h1.45m32.5 0h1.45m3.6 0h1.45m-0.5 0h1.45m10.5 0h1.45m7.6 0h1.45m4 0h1.45m20 0h1.45m3.1 0h1.45m7 0h1.45m2.5 0h1.45m30.6 0h1.45m-484.7 2h1.45m20 0h1.45m4.1 0h1.45m19.5 0h1.45m1.6 0h1.45m13.5 0h1.45m31 0h1.45m18 0h1.45m8.5 0h1.45m0.1 0h1.45m0 0h1.45m3.6 0h1.45m5 0h1.45m3.1 0h1.45m33.4 0h1.45m4.6 0h1.45m4 0h1.45m2.1 0h1.45m22 0h1.45m18 0h1.45m0 0h1.45m-0.4 0h1.45m0.5 0h1.45m1.1 0h1.45m11 0h1.45m6.6 0h1.45m-1 0h1.45m14.9 0h1.45m2.1 0h1.45m4.6 0h1.45m4 0h1.45m4.6 0h1.45m8 0h1.45m5.1 0h1.45m13.9 0h1.45m3 0h1.45m14.6 0h1.45m21.5 0h1.45m0.1 0h1.45m13.4 0h1.45m15.6 0h1.45m17.5 0h1.45m2.1 0h1.45m13 0h1.45m7.5 0h1.45m7.1 0h1.45m2 0h1.45m4.1 0h1.45m4 0h1.45m-495 2.1h1.45m17.9 0h1.45m4 0h1.45m1.6 0h1.45m20 0h1.45m10.6 0h1.45m14 0h1.45m7.5 0h1.45m11.1 0h1.45m15.5 0h1.45m9 0h1.45m2.5 0h1.45m5.1 0h1.45m0 0h1.45m4.1 0h1.45m16.5 0h1.45m0.1 0h1.45m1 0h1.45m5.1 0h1.45m5.4 0h1.45m-0.4 0h1.45m11.5 0h1.45m2.1 0h1.45m-0.5 0h1.45m0.6 0h1.45m6.5 0h1.45m21.1 0h1.45m2.4 0h1.45m0.1 0h1.45m13 0h1.45m1.1 0h1.45m3 0h1.45m9.1 0h1.45m-1 0h1.45m1.1 0h1.45m6.5 0h1.45m1.1 0h1.45m4 0h1.45m7.9 0h1.45m1.1 0h1.45m10.1 0h1.45m7 0h1.45m31.9 0h1.45m0.1 0h1.45m20.5 0h1.45m22.1 0h1.45m0.4 0h1.45m29.6 0h1.45m29.5 0h1.45m-463.6 2h1.45m8.5 0h1.45m3 0h1.45m4.5 0h1.45m4.6 0h1.45m27 0h1.45m29.5 0h1.45m19.1 0h1.45m-1 0h1.45m13.1 0h1.45m-0.6 0h1.45m17.6 0h1.45m39.4 0h1.45m-0.4 0h1.45m13.5 0h1.45m3.1 0h1.45m20.5 0h1.45m0.1 0h1.45m3 0h1.45m-0.4 0h1.45m28.4 0h1.45m12.6 0h1.45m0.5 0h1.45m5.1 0h1.45m18.4 0h1.45m3.1 0h1.45m7 0h1.45m32.9 0h1.45m22.1 0h1.45m4.5 0h1.45m-0.9 0h1.45m5.5 0h1.45m0.1 0h1.45m16.9 0h1.45m-0.4 0h1.45m5.6 0h1.45m8 0h1.45m7.5 0h1.45m33.5 0h1.45m11.6 0h1.45m-477.6 2h1.45m6 0h1.45m20.5 0h1.45m5 0h1.45m1.1 0h1.45m2 0h1.45m-0.9 0h1.45m4.6 0h1.45m3.5 0h1.45m8 0h1.45m11.5 0h1.45m12.1 0h1.45m11 0h1.45m0.1 0h1.45m38.9 0h1.45m2.1 0h1.45m36.4 0h1.45m7.6 0h1.45m4.5 0h1.45m1.6 0h1.45m5 0h1.45m5.1 0h1.45m19.9 0h1.45m2.6 0h1.45m0 0h1.45m2.1 0h1.45m1.5 0h1.45m13.1 0h1.45m0 0h1.45m1.6 0h1.45m-1 0h1.45m1.6 0h1.45m1.5 0h1.45m31.4 0h1.45m0.6 0h1.45m2.1 0h1.45m11.5 0h1.45m5.6 0h1.45m19.9 0h1.45m11 0h1.45m6.6 0h1.45m0 0h1.45m10.1 0h1.45m12.4 0h1.45m1.6 0h1.45m2.6 0h1.45m3.5 0h1.45m2.1 0h1.45m1.5 0h1.45m25 0h1.45m16 0h1.45m16.1 0h1.45m0.5 0h1.45m-490.5 2.1h1.45m1.5 0h1.45m-0.5 0h1.45m15 0h1.45m2 0h1.45m-0.9 0h1.45m-1 0h1.45m9.6 0h1.45m0 0h1.45m21.1 0h1.45m5.5 0h1.45m19.5 0h1.45m13.1 0h1.45m19.9 0h1.45m9.6 0h1.45m51.4 0h1.45m15.6 0h1.45m2 0h1.45m2.1 0h1.45m12 0h1.45m1.1 0h1.45m-0.5 0h1.45m4 0h1.45m4.5 0h1.45m13.1 0h1.45m2.5 0h1.45m1.6 0h1.45m28.9 0h1.45m9.6 0h1.45m5 0h1.45m10.6 0h1.45m16 0h1.45m6.4 0h1.45m40.1 0h1.45m4 0h1.45m0.1 0h1.45m3.4 0h1.45m2.6 0h1.45m2.1 0h1.45m4.5 0h1.45m4.6 0h1.45m2.5 0h1.45m12 0h1.45m17.5 0h1.45m-438.6 2h1.45m7.5 0h1.45m1 0h1.45m2.1 0h1.45m21 0h1.45m9 0h1.45m7.6 0h1.45m17 0h1.45m23.6 0h1.45m2.4 0h1.45m6.1 0h1.45m5.5 0h1.45m8.1 0h1.45m25.5 0h1.45m0.4 0h1.45m18.6 0h1.45m5.1 0h1.45m4.5 0h1.45m6.6 0h1.45m12 0h1.45m4.5 0h1.45m45 0h1.45m8.9 0h1.45m38.6 0h1.45m22.9 0h1.45m3.6 0h1.45m-1 0h1.45m12.1 0h1.45m16 0h1.45m7.5 0h1.45m12.1 0h1.45m10 0h1.45m2.6 0h1.45m9.5 0h1.45m14 0h1.45m-0.5 0h1.45m11.1 0h1.45m12.5 0h1.45m1.6 0h1.45m-475.2 2h1.45m19 0h1.45m14.6 0h1.45m12.5 0h1.45m7.5 0h1.45m12.1 0h1.45m11 0h1.45m9.1 0h1.45m7.5 0h1.45m1 0h1.45m15.5 0h1.45m34.1 0h1.45m12.4 0h1.45m16.1 0h1.45m0 0h1.45m18.6 0h1.45m8.4 0h1.45m4.6 0h1.45m3 0h1.45m15.1 0h1.45m0 0h1.45m7.1 0h1.45m7 0h1.45m0.6 0h1.45m4.4 0h1.45m0.1 0h1.45m21.5 0h1.45m5.6 0h1.45m13.5 0h1.45m6.9 0h1.45m4.1 0h1.45m9 0h1.45m1.1 0h1.45m1.5 0h1.45m8.1 0h1.45m12.5 0h1.45m14.5 0h1.45m2.6 0h1.45m3 0h1.45m27.5 0h1.45m9 0h1.45m13.6 0h1.45m20 0h1.45m-462.6 2.1h1.45m33.4 0h1.45m5.1 0h1.45m0 0h1.45m6.1 0h1.45m1.5 0h1.45m8.6 0h1.45m9 0h1.45m10.6 0h1.45m13.4 0h1.45m0.1 0h1.45m21.5 0h1.45m5.6 0h1.45m16.4 0h1.45m6.1 0h1.45m12.5 0h1.45m10.6 0h1.45m3 0h1.45m0.1 0h1.45m14.9 0h1.45m14.1 0h1.45m5.5 0h1.45m3.1 0h1.45m3 0h1.45m3.6 0h1.45m0 0h1.45m7.1 0h1.45m-1 0h1.45m7.4 0h1.45m5.6 0h1.45m1.6 0h1.45m22.5 0h1.45m2.6 0h1.45m2 0h1.45m10.9 0h1.45m-0.9 0h1.45m25 0h1.45m37.5 0h1.45m13.1 0h1.45m3 0h1.45m5.5 0h1.45m27 0h1.45m10.6 0h1.45m0.5 0h1.45m-0.4 0h1.45m0.5 0h1.45m4.6 0h1.45m-483.1 2h1.45m8.5 0h1.45m3 0h1.45m7.5 0h1.45m-0.9 0h1.45m9 0h1.45m3.6 0h1.45m16 0h1.45m6.5 0h1.45m54 0h1.45m0.5 0h1.45m11.1 0h1.45m32.9 0h1.45m2.6 0h1.45m16.5 0h1.45m5.1 0h1.45m4 0h1.45m0.1 0h1.45m0.5 0h1.45m-0.9 0h1.45m0.5 0h1.45m6.1 0h1.45m13.9 0h1.45m1.1 0h1.45m17 0h1.45m-0.4 0h1.45m2 0h1.45m-0.4 0h1.45m41.9 0h1.45m12.1 0h1.45m1.5 0h1.45m-0.4 0h1.45m1 0h1.45m54.9 0h1.45m-0.9 0h1.45m-0.5 0h1.45m-0.9 0h1.45m3.5 0h1.45m2.6 0h1.45m7.9 0h1.45m17.1 0h1.45m3.6 0h1.45m11 0h1.45m7.5 0h1.45m7 0h1.45m29.6 0h1.45m-494.6 2h1.45m-1 0h1.45m0.1 0h1.45m12 0h1.45m19.5 0h1.45m22.5 0h1.45m5.5 0h1.45m0.1 0h1.45m26.5 0h1.45m35.5 0h1.45m3 0h1.45m1.1 0h1.45m0.5 0h1.45m4.1 0h1.45m1.5 0h1.45m4.6 0h1.45m0.5 0h1.45m8.6 0h1.45m4 0h1.45m2.1 0h1.45m4.4 0h1.45m0.6 0h1.45m0.5 0h1.45m20.6 0h1.45m8.5 0h1.45m10.6 0h1.45m0.9 0h1.45m4.1 0h1.45m0 0h1.45m8.1 0h1.45m6 0h1.45m6.6 0h1.45m0 0h1.45m6.1 0h1.45m6.5 0h1.45m4.1 0h1.45m-0.6 0h1.45m19.1 0h1.45m2.5 0h1.45m1.1 0h1.45m33.9 0h1.45m0.5 0h1.45m17.6 0h1.45m5 0h1.45m28.5 0h1.45m7.6 0h1.45m4 0h1.45m21.5 0h1.45m1.6 0h1.45m3 0h1.45m-0.9 0h1.45m9 0h1.45m3 0h1.45m0.1 0h1.45m4 0h1.45m7.1 0h1.45m-486.6 2.1h1.45m4 0h1.45m-0.4 0h1.45m2 0h1.45m4 0h1.45m2 0h1.45m18.6 0h1.45m-0.5 0h1.45m1.6 0h1.45m7 0h1.45m5.1 0h1.45m11 0h1.45m0.5 0h1.45m2.1 0h1.45m6 0h1.45m1.6 0h1.45m-0.5 0h1.45m3.1 0h1.45m0 0h1.45m1.6 0h1.45m0 0h1.45m12.1 0h1.45m8.5 0h1.45m4 0h1.45m2.5 0h1.45m3.6 0h1.45m1.5 0h1.45m5.6 0h1.45m7.5 0h1.45m6.1 0h1.45m3 0h1.45m8.1 0h1.45m0 0h1.45m-0.1 0h1.45m1.6 0h1.45m6.6 0h1.45m1 0h1.45m9.6 0h1.45m9 0h1.45m2.1 0h1.45m5.5 0h1.45m4.6 0h1.45m2.4 0h1.45m2.6 0h1.45m6.5 0h1.45m7.1 0h1.45m7.5 0h1.45m9.6 0h1.45m3.5 0h1.45m14.9 0h1.45m9.1 0h1.45m-0.4 0h1.45m1.5 0h1.45m11.6 0h1.45m30.9 0h1.45m2.5 0h1.45m-0.9 0h1.45m12.5 0h1.45m21.6 0h1.45m5.4 0h1.45m14.1 0h1.45m3.1 0h1.45m15 0h1.45m5.5 0h1.45m4.1 0h1.45m4.5 0h1.45m14 0h1.45m0.1 0h1.45m0.5 0h1.45m12.1 0h1.45m-491.6 2h1.45m1.5 0h1.45m16 0h1.45m22 0h1.45m1.6 0h1.45m8.5 0h1.45m5.6 0h1.45m3.5 0h1.45m9.5 0h1.45m25.1 0h1.45m4 0h1.45m6.6 0h1.45m5.9 0h1.45m5.1 0h1.45m6 0h1.45m0.1 0h1.45m10.5 0h1.45m6.1 0h1.45m13.9 0h1.45m0.1 0h1.45m9.5 0h1.45m0.1 0h1.45m8 0h1.45m10.6 0h1.45m3 0h1.45m-0.4 0h1.45m0.5 0h1.45m7.1 0h1.45m11.9 0h1.45m6.1 0h1.45m2 0h1.45m9.6 0h1.45m21.9 0h1.45m17.6 0h1.45m2.5 0h1.45m28.1 0h1.45m0 0h1.45m5.9 0h1.45m3.1 0h1.45m11 0h1.45m0.1 0h1.45m0.5 0h1.45m5.1 0h1.45m-1 0h1.45m27 0h1.45m17.1 0h1.45m1.5 0h1.45m2.6 0h1.45m0.5 0h1.45m2 0h1.45m9.6 0h1.45m7 0h1.45m16.5 0h1.45m9.1 0h1.45m7 0h1.45m-496 2.1h1.45m4.5 0h1.45m1.5 0h1.45m3 0h1.45m12 0h1.45m-0.4 0h1.45m7.5 0h1.45m13.6 0h1.45m0.1 0h1.45m-1 0h1.45m2.6 0h1.45m2 0h1.45m-0.9 0h1.45m7.9 0h1.45m18.1 0h1.45m1 0h1.45m22.6 0h1.45m17.4 0h1.45m4.1 0h1.45m-0.5 0h1.45m1.6 0h1.45m0 0h1.45m4.1 0h1.45m29.4 0h1.45m17.6 0h1.45m-1 0h1.45m17.1 0h1.45m8.5 0h1.45m7.5 0h1.45m12.5 0h1.45m14.6 0h1.45m8.5 0h1.45m1.1 0h1.45m22.4 0h1.45m49.9 0h1.45m12.6 0h1.45m6.5 0h1.45m14.1 0h1.45m7.9 0h1.45m12.6 0h1.45m4.6 0h1.45m2.5 0h1.45m13 0h1.45m5.1 0h1.45m-1 0h1.45m16 0h1.45m1.6 0h1.45m-471.1 2h1.45m25 0h1.45m5 0h1.45m-0.5 0h1.45m1.6 0h1.45m2 0h1.45m0.6 0h1.45m4 0h1.45m5.6 0h1.45m43 0h1.45m1.5 0h1.45m9.6 0h1.45m0 0h1.45m-0.9 0h1.45m13.4 0h1.45m19.1 0h1.45m0.5 0h1.45m3.6 0h1.45m-1 0h1.45m2.6 0h1.45m3.5 0h1.45m14.9 0h1.45m14.6 0h1.45m4.6 0h1.45m-1 0h1.45m14.1 0h1.45m31.9 0h1.45m-0.9 0h1.45m5 0h1.45m-0.4 0h1.45m0.5 0h1.45m2.1 0h1.45m9.5 0h1.45m18.9 0h1.45m6.6 0h1.45m8.6 0h1.45m6.5 0h1.45m14.1 0h1.45m-0.1 0h1.45m3 0h1.45m5.6 0h1.45m10 0h1.45m4.1 0h1.45m11 0h1.45m4.1 0h1.45m2.5 0h1.45m-0.9 0h1.45m3.4 0h1.45m4.1 0h1.45m7.1 0h1.45m-1 0h1.45m8.6 0h1.45m-1 0h1.45m-0.9 0h1.45m15 0h1.45m6.5 0h1.45m21 0h1.45m7.1 0h1.45m4.5 0h1.45m-486 2h1.45m-0.5 0h1.45m6.5 0h1.45m0.5 0h1.45m1 0h1.45m-0.4 0h1.45m2 0h1.45m10.1 0h1.45m2.5 0h1.45m10.1 0h1.45m0 0h1.45m7.6 0h1.45m4.6 0h1.45m2.4 0h1.45m6.6 0h1.45m3 0h1.45m6.6 0h1.45m5.5 0h1.45m8.1 0h1.45m8.5 0h1.45m4.1 0h1.45m0 0h1.45m20 0h1.45m11 0h1.45m13.1 0h1.45m0 0h1.45m2.1 0h1.45m3.4 0h1.45m0.1 0h1.45m1 0h1.45m8.6 0h1.45m5 0h1.45m6.6 0h1.45m12 0h1.45m10.5 0h1.45m2 0h1.45m9.6 0h1.45m0.5 0h1.45m5.1 0h1.45m5 0h1.45m31.9 0h1.45m-0.4 0h1.45m9.1 0h1.45m8.5 0h1.45m2.1 0h1.45m12 0h1.45m9.4 0h1.45m31.6 0h1.45m-1 0h1.45m10.1 0h1.45m15.4 0h1.45m8.6 0h1.45m-0.4 0h1.45m4.5 0h1.45m2.6 0h1.45m8.5 0h1.45m23.5 0h1.45m21 0h1.45m-474.6 2.1h1.45m14 0h1.45m2 0h1.45m3.6 0h1.45m8.5 0h1.45m6.6 0h1.45m19 0h1.45m4 0h1.45m-0.4 0h1.45m3 0h1.45m1.6 0h1.45m0 0h1.45m4.6 0h1.45m2 0h1.45m1.6 0h1.45m2.5 0h1.45m2.6 0h1.45m2 0h1.45m4.1 0h1.45m0.4 0h1.45m3.6 0h1.45m3.5 0h1.45m16.1 0h1.45m2 0h1.45m-0.9 0h1.45m-1 0h1.45m22.9 0h1.45m2.6 0h1.45m5.1 0h1.45m-1 0h1.45m4.1 0h1.45m-1 0h1.45m8.6 0h1.45m22 0h1.45m3 0h1.45m1 0h1.45m2.6 0h1.45m2 0h1.45m12.1 0h1.45m3.5 0h1.45m30.4 0h1.45m4.6 0h1.45m1.6 0h1.45m2 0h1.45m9.6 0h1.45m6 0h1.45m2.6 0h1.45m2 0h1.45m0.6 0h1.45m5 0h1.45m15.4 0h1.45m10.1 0h1.45m3.5 0h1.45m1.1 0h1.45m21.4 0h1.45m4.1 0h1.45m22.6 0h1.45m0.5 0h1.45m12 0h1.45m7.1 0h1.45m4.5 0h1.45m6 0h1.45m22.1 0h1.45m-492.6 2h1.45m19 0h1.45m6.5 0h1.45m2.5 0h1.45m14.6 0h1.45m40.5 0h1.45m52.9 0h1.45m11.1 0h1.45m7 0h1.45m10.6 0h1.45m19.4 0h1.45m1.1 0h1.45m-0.5 0h1.45m14.6 0h1.45m14 0h1.45m7.5 0h1.45m0 0h1.45m3.1 0h1.45m11 0h1.45m5.1 0h1.45m0 0h1.45m6.6 0h1.45m3 0h1.45m5.6 0h1.45m1.9 0h1.45m-0.9 0h1.45m5 0h1.45m12.6 0h1.45m1 0h1.45m3.6 0h1.45m0 0h1.45m-0.9 0h1.45m-0.5 0h1.45m-0.4 0h1.45m2 0h1.45m22.4 0h1.45m2.6 0h1.45m23 0h1.45m6.6 0h1.45m-0.5 0h1.45m1.6 0h1.45m2.5 0h1.45m6.5 0h1.45m1.1 0h1.45m26 0h1.45m17 0h1.45m-0.4 0h1.45m1 0h1.45m-0.5 0h1.45m4.6 0h1.45m15.5 0h1.45m0.1 0h1.45m8 0h1.45m-463.6 2h1.45m0 0h1.45m2 0h1.45m3.1 0h1.45m11 0h1.45m6.6 0h1.45m2.1 0h1.45m3 0h1.45m30.5 0h1.45m-0.5 0h1.45m0.6 0h1.45m10 0h1.45m12.5 0h1.45m3 0h1.45m0.1 0h1.45m0.5 0h1.45m18.6 0h1.45m11.5 0h1.45m17.4 0h1.45m7.6 0h1.45m10.6 0h1.45m3 0h1.45m-0.9 0h1.45m23.9 0h1.45m8.1 0h1.45m8 0h1.45m2.6 0h1.45m4.5 0h1.45m-0.4 0h1.45m4.5 0h1.45m7.6 0h1.45m5.4 0h1.45m17.1 0h1.45m13 0h1.45m11.1 0h1.45m23.4 0h1.45m12.5 0h1.45m20.1 0h1.45m66.4 0h1.45m0 0h1.45m0.6 0h1.45m1 0h1.45m7.6 0h1.45m0 0h1.45m-482 2.1h1.45m4.5 0h1.45m-0.5 0h1.45m5 0h1.45m9 0h1.45m7.6 0h1.45m27.5 0h1.45m46 0h1.45m13 0h1.45m11 0h1.45m2.6 0h1.45m2 0h1.45m4.1 0h1.45m1 0h1.45m3.6 0h1.45m0 0h1.45m1.1 0h1.45m3.5 0h1.45m8.6 0h1.45m9.9 0h1.45m3.6 0h1.45m8 0h1.45m-0.4 0h1.45m18 0h1.45m0.1 0h1.45m43.9 0h1.45m6.6 0h1.45m43.4 0h1.45m3.6 0h1.45m34.4 0h1.45m0 0h1.45m5.1 0h1.45m19.5 0h1.45m1.6 0h1.45m4.9 0h1.45m12.1 0h1.45m-0.4 0h1.45m23.5 0h1.45m14 0h1.45m-0.5 0h1.45m21.6 0h1.45m4.5 0h1.45m-485.5 2h1.45m-1 0h1.45m9 0h1.45m7 0h1.45m-1 0h1.45m5.6 0h1.45m7 0h1.45m0.1 0h1.45m26 0h1.45m11.5 0h1.45m1.6 0h1.45m5 0h1.45m10.1 0h1.45m19.5 0h1.45m-0.4 0h1.45m31.9 0h1.45m18.1 0h1.45m1.9 0h1.45m4.6 0h1.45m0 0h1.45m3.6 0h1.45m11 0h1.45m14.6 0h1.45m0.5 0h1.45m4.1 0h1.45m1 0h1.45m2.1 0h1.45m0.4 0h1.45m-0.4 0h1.45m4.5 0h1.45m0.6 0h1.45m-1 0h1.45m8.6 0h1.45m2 0h1.45m6.1 0h1.45m35.4 0h1.45m25.1 0h1.45m10.5 0h1.45m1.6 0h1.45m32.9 0h1.45m-0.5 0h1.45m12.6 0h1.45m14.4 0h1.45m1.6 0h1.45m20.1 0h1.45m1.5 0h1.45m0 0h1.45m-0.9 0h1.45m0.5 0h1.45m10.6 0h1.45m6.5 0h1.45m2 0h1.45m1.6 0h1.45m-466.6 2h1.45m18 0h1.45m0.5 0h1.45m7 0h1.45m20.1 0h1.45m2.1 0h1.45m2.5 0h1.45m7.5 0h1.45m19 0h1.45m16.6 0h1.45m6 0h1.45m4.1 0h1.45m-1 0h1.45m4 0h1.45m3.5 0h1.45m9.1 0h1.45m1.5 0h1.45m16.1 0h1.45m18.4 0h1.45m4.6 0h1.45m10.5 0h1.45m3.1 0h1.45m0 0h1.45m2.6 0h1.45m1 0h1.45m19.5 0h1.45m6 0h1.45m1.6 0h1.45m0.5 0h1.45m10.1 0h1.45m5 0h1.45m-0.9 0h1.45m2.5 0h1.45m4.6 0h1.45m9.5 0h1.45m7.4 0h1.45m1.1 0h1.45m6.6 0h1.45m6.5 0h1.45m12.6 0h1.45m5.5 0h1.45m7.6 0h1.45m8.9 0h1.45m1.5 0h1.45m1.6 0h1.45m2.5 0h1.45m6.6 0h1.45m7.5 0h1.45m-0.9 0h1.45m1 0h1.45m13.6 0h1.45m-0.6 0h1.45m18.1 0h1.45m6.6 0h1.45m12.5 0h1.45m10 0h1.45m5 0h1.45m0.6 0h1.45m1 0h1.45m1.1 0h1.45m4.5 0h1.45m5.6 0h1.45m13.5 0h1.45m-489 2.1h1.45m0.5 0h1.45m33.5 0h1.45m22.9 0h1.45m0.6 0h1.45m21 0h1.45m18.6 0h1.45m1 0h1.45m9.5 0h1.45m-0.5 0h1.45m11.1 0h1.45m10.5 0h1.45m2.6 0h1.45m1.5 0h1.45m5.6 0h1.45m3.5 0h1.45m2.1 0h1.45m19.9 0h1.45m1.6 0h1.45m8.5 0h1.45m27 0h1.45m8 0h1.45m20.6 0h1.45m15.5 0h1.45m12.9 0h1.45m12.1 0h1.45m6.6 0h1.45m5 0h1.45m2.1 0h1.45m10 0h1.45m47.9 0h1.45m12.5 0h1.45m9.6 0h1.45m36 0h1.45m2 0h1.45m-0.5 0h1.45m15.6 0h1.45m5.5 0h1.45m-453.1 2h1.45m8.5 0h1.45m7 0h1.45m8.6 0h1.45m-0.4 0h1.45m5.4 0h1.45m3.1 0h1.45m27.5 0h1.45m5.6 0h1.45m22.9 0h1.45m11.6 0h1.45m3 0h1.45m12.1 0h1.45m17.4 0h1.45m7.1 0h1.45m2.5 0h1.45m7.1 0h1.45m1 0h1.45m-0.9 0h1.45m19.5 0h1.45m14.5 0h1.45m28.5 0h1.45m30.4 0h1.45m3.6 0h1.45m37.9 0h1.45m0.1 0h1.45m26 0h1.45m12.6 0h1.45m5.5 0h1.45m17 0h1.45m0.1 0h1.45m0.5 0h1.45m12 0h1.45m0.1 0h1.45m4.5 0h1.45m15 0h1.45m5.6 0h1.45m1 0h1.45m24.1 0h1.45m-494.1 2h1.45m31 0h1.45m5.5 0h1.45m3.5 0h1.45m10.1 0h1.45m31.5 0h1.45m2 0h1.45m9.6 0h1.45m15 0h1.45m24.5 0h1.45m17.5 0h1.45m4.1 0h1.45m2.5 0h1.45m-0.4 0h1.45m13.4 0h1.45m29.1 0h1.45m1 0h1.45m1.1 0h1.45m4 0h1.45m9.5 0h1.45m1.5 0h1.45m2.6 0h1.45m3 0h1.45m0.6 0h1.45m0.5 0h1.45m1.6 0h1.45m17.5 0h1.45m4.1 0h1.45m7.4 0h1.45m0.1 0h1.45m1.5 0h1.45m7.1 0h1.45m6 0h1.45m7.1 0h1.45m4 0h1.45m-0.9 0h1.45m2 0h1.45m0.6 0h1.45m25.9 0h1.45m3 0h1.45m5.1 0h1.45m31.4 0h1.45m3.1 0h1.45m7.1 0h1.45m0.5 0h1.45m2.6 0h1.45m0.5 0h1.45m24.5 0h1.45m-0.9 0h1.45m12.5 0h1.45m0 0h1.45m9.6 0h1.45m-475.6 2.1h1.45m-0.5 0h1.45m-0.4 0h1.45m6 0h1.45m21 0h1.45m3.5 0h1.45m0.6 0h1.45m6.5 0h1.45m11.1 0h1.45m1 0h1.45m-1 0h1.45m10.6 0h1.45m4 0h1.45m8.1 0h1.45m4.5 0h1.45m31.5 0h1.45m7.5 0h1.45m16.1 0h1.45m3.5 0h1.45m3.1 0h1.45m5.5 0h1.45m2.9 0h1.45m10.6 0h1.45m10.6 0h1.45m14 0h1.45m10.1 0h1.45m6.9 0h1.45m5.6 0h1.45m18 0h1.45m0.6 0h1.45m7 0h1.45m5.6 0h1.45m23.9 0h1.45m19.1 0h1.45m16.4 0h1.45m41.5 0h1.45m17.5 0h1.45m7.6 0h1.45m14 0h1.45m0.5 0h1.45m11.1 0h1.45m-0.5 0h1.45m11 0h1.45m0.1 0h1.45m15 0h1.45m3.6 0h1.45m-444.7 2h1.45m28.5 0h1.45m4.5 0h1.45m16.1 0h1.45m-0.5 0h1.45m0.1 0h1.45m5.5 0h1.45m2.6 0h1.45m2 0h1.45m2.1 0h1.45m6.4 0h1.45m19.1 0h1.45m3 0h1.45m9.1 0h1.45m8 0h1.45m0.6 0h1.45m10.4 0h1.45m0.6 0h1.45m24 0h1.45m15.1 0h1.45m-1 0h1.45m12 0h1.45m5.5 0h1.45m2.1 0h1.45m-0.5 0h1.45m4.1 0h1.45m1.5 0h1.45m2.1 0h1.45m10 0h1.45m11.9 0h1.45m2.1 0h1.45m2.6 0h1.45m11.5 0h1.45m15.6 0h1.45m10 0h1.45m3.9 0h1.45m2.1 0h1.45m3.5 0h1.45m4.1 0h1.45m20.5 0h1.45m0.6 0h1.45m1.5 0h1.45m12.5 0h1.45m8.6 0h1.45m18 0h1.45m5 0h1.45m17.1 0h1.45m-1 0h1.45m-1 0h1.45m0.6 0h1.45m10 0h1.45m10.6 0h1.45m8.5 0h1.45m-462.1 2.1h1.45m5.5 0h1.45m17.5 0h1.45m4.6 0h1.45m3.1 0h1.45m-1.1 0h1.45m14.6 0h1.45m19.5 0h1.45m-0.4 0h1.45m1.5 0h1.45m10.6 0h1.45m27.9 0h1.45m6.1 0h1.45m4 0h1.45m0.1 0h1.45m13.4 0h1.45m5.1 0h1.45m24.5 0h1.45m4.1 0h1.45m3 0h1.45m26 0h1.45m-1 0h1.45m5.1 0h1.45m6.5 0h1.45m6.6 0h1.45m25.9 0h1.45m17.1 0h1.45m-0.5 0h1.45m0.1 0h1.45m3.5 0h1.45m6.1 0h1.45m10.9 0h1.45m10 0h1.45m13.1 0h1.45m32.4 0h1.45m14.6 0h1.45m7.6 0h1.45m1 0h1.45m0.1 0h1.45m2 0h1.45m4.5 0h1.45m27 0h1.45m16.6 0h1.45m-486.1 2h1.45m-0.5 0h1.45m10 0h1.45m11.5 0h1.45m12.6 0h1.45m16 0h1.45m3.1 0h1.45m10.5 0h1.45m5.5 0h1.45m8.6 0h1.45m15 0h1.45m1.6 0h1.45m14.9 0h1.45m30.6 0h1.45m30.9 0h1.45m2.6 0h1.45m22.5 0h1.45m11 0h1.45m0 0h1.45m11.1 0h1.45m11 0h1.45m1.6 0h1.45m3 0h1.45m0.6 0h1.45m21.9 0h1.45m18.6 0h1.45m21.5 0h1.45m3.1 0h1.45m9.9 0h1.45m15 0h1.45m11.6 0h1.45m15.9 0h1.45m10.1 0h1.45m5.6 0h1.45m0 0h1.45m34 0h1.45m-0.5 0h1.45m18.6 0h1.45m14 0h1.45m-491 2h1.45m5 0h1.45m20.5 0h1.45m26.5 0h1.45m-0.9 0h1.45m2 0h1.45m16.5 0h1.45m0.5 0h1.45m4.1 0h1.45m-0.5 0h1.45m5.1 0h1.45m18 0h1.45m-0.9 0h1.45m-1 0h1.45m20 0h1.45m14 0h1.45m8.6 0h1.45m18.4 0h1.45m3.6 0h1.45m7 0h1.45m4.6 0h1.45m6 0h1.45m7.1 0h1.45m3.5 0h1.45m0.1 0h1.45m3.5 0h1.45m8.5 0h1.45m4 0h1.45m1.6 0h1.45m10.5 0h1.45m-0.4 0h1.45m18.5 0h1.45m0.6 0h1.45m2.5 0h1.45m1.4 0h1.45m-0.9 0h1.45m1.6 0h1.45m15 0h1.45m17.6 0h1.45m2.5 0h1.45m8.9 0h1.45m0.6 0h1.45m16 0h1.45m10.6 0h1.45m9 0h1.45m13.5 0h1.45m6.1 0h1.45m18 0h1.45m41 0h1.45m2 0h1.45m-460.6 2.1h1.45m7.5 0h1.45m6.5 0h1.45m8.1 0h1.45m5.5 0h1.45m21.5 0h1.45m0.6 0h1.45m0 0h1.45m51 0h1.45m6.5 0h1.45m1.1 0h1.45m6.5 0h1.45m10.1 0h1.45m21.9 0h1.45m0.1 0h1.45m30.5 0h1.45m2.1 0h1.45m6 0h1.45m8.5 0h1.45m1 0h1.45m1.1 0h1.45m6.5 0h1.45m3.1 0h1.45m5 0h1.45m9.6 0h1.45m0.5 0h1.45m-0.4 0h1.45m8.5 0h1.45m-0.4 0h1.45m7.9 0h1.45m21.6 0h1.45m4.5 0h1.45m19.1 0h1.45m12.4 0h1.45m14.5 0h1.45m8.1 0h1.45m-0.5 0h1.45m2.1 0h1.45m10.5 0h1.45m-0.5 0h1.45m2.6 0h1.45m37 0h1.45m-1 0h1.45m0.1 0h1.45m-439.6 2h1.45m23.9 0h1.45m11 0h1.45m1.1 0h1.45m18.5 0h1.45m19 0h1.45m5.1 0h1.45m29.9 0h1.45m35.1 0h1.45m21.4 0h1.45m12.6 0h1.45m2.5 0h1.45m1.6 0h1.45m5 0h1.45m12.6 0h1.45m11.4 0h1.45m10.6 0h1.45m1.5 0h1.45m-0.4 0h1.45m0 0h1.45m0.1 0h1.45m9 0h1.45m6.1 0h1.45m0.5 0h1.45m33.9 0h1.45m3.1 0h1.45m20.1 0h1.45m-1 0h1.45m-0.9 0h1.45m8.4 0h1.45m5 0h1.45m33.1 0h1.45m21.4 0h1.45m3.1 0h1.45m39 0h1.45m-456.1 2h1.45m0 0h1.45m14 0h1.45m8 0h1.45m0.6 0h1.45m7 0h1.45m8.6 0h1.45m1.6 0h1.45m12.9 0h1.45m12.1 0h1.45m2 0h1.45m5.1 0h1.45m2 0h1.45m27 0h1.45m3 0h1.45m2.1 0h1.45m0.5 0h1.45m5.1 0h1.45m2 0h1.45m0.6 0h1.45m40.9 0h1.45m-0.4 0h1.45m3 0h1.45m23.6 0h1.45m8.5 0h1.45m7 0h1.45m-1 0h1.45m14.6 0h1.45m8 0h1.45m5.6 0h1.45m9.5 0h1.45m2.1 0h1.45m22.9 0h1.45m0.1 0h1.45m13 0h1.45m8.6 0h1.45m7.9 0h1.45m-1 0h1.45m10.6 0h1.45m14.5 0h1.45m14.6 0h1.45m13.9 0h1.45m49 0h1.45m34.6 0h1.45m-0.5 0h1.45m-0.4 0h1.45m-479.2 2.1h1.45m4 0h1.45m2.1 0h1.45m5 0h1.45m8.1 0h1.45m31.5 0h1.45m3 0h1.45m22.1 0h1.45m5.5 0h1.45m0.1 0h1.45m6.5 0h1.45m11.5 0h1.45m9 0h1.45m23.1 0h1.45m1 0h1.45m-0.9 0h1.45m12.9 0h1.45m2.1 0h1.45m10.5 0h1.45m21.1 0h1.45m0.5 0h1.45m38 0h1.45m24 0h1.45m-0.9 0h1.45m-0.6 0h1.45m25.6 0h1.45m25 0h1.45m11.4 0h1.45m0.1 0h1.45m4.5 0h1.45m17.1 0h1.45m3.5 0h1.45m11.5 0h1.45m-0.4 0h1.45m0.5 0h1.45m21.6 0h1.45m15 0h1.45m28.5 0h1.45m15 0h1.45m-490 2h1.45m12.9 0h1.45m19 0h1.45m23.1 0h1.45m0.1 0h1.45m4 0h1.45m18.5 0h1.45m17.5 0h1.45m0.1 0h1.45m7 0h1.45m-0.4 0h1.45m9.9 0h1.45m33.6 0h1.45m3.5 0h1.45m5.1 0h1.45m3.4 0h1.45m5.1 0h1.45m5 0h1.45m-0.4 0h1.45m5.5 0h1.45m-0.9 0h1.45m9.5 0h1.45m3.6 0h1.45m-0.5 0h1.45m-0.9 0h1.45m-1 0h1.45m16 0h1.45m34 0h1.45m6.1 0h1.45m0.5 0h1.45m4.1 0h1.45m1.9 0h1.45m10.1 0h1.45m5.5 0h1.45m4.6 0h1.45m0.5 0h1.45m8.6 0h1.45m1 0h1.45m-0.9 0h1.45m1 0h1.45m-0.9 0h1.45m0.5 0h1.45m1.6 0h1.45m3.5 0h1.45m0.4 0h1.45m24.6 0h1.45m2.5 0h1.45m0.1 0h1.45m20.5 0h1.45m21.5 0h1.45m37.5 0h1.45m6.5 0h1.45m26.1 0h1.45m-481.7 2h1.45m3.5 0h1.45m2.1 0h1.45m4 0h1.45m11.1 0h1.45m-0.5 0h1.45m4.1 0h1.45m18.5 0h1.45m1.5 0h1.45m2.1 0h1.45m17.5 0h1.45m14.1 0h1.45m11 0h1.45m10 0h1.45m13 0h1.45m2.6 0h1.45m6 0h1.45m7.6 0h1.45m5 0h1.45m2.4 0h1.45m28.1 0h1.45m9.1 0h1.45m5 0h1.45m-0.9 0h1.45m-0.5 0h1.45m9 0h1.45m5.5 0h1.45m0.6 0h1.45m0.5 0h1.45m5.1 0h1.45m3.5 0h1.45m2.6 0h1.45m36.9 0h1.45m35.1 0h1.45m4.5 0h1.45m3.9 0h1.45m0.6 0h1.45m3.5 0h1.45m7.1 0h1.45m13 0h1.45m30.5 0h1.45m13.6 0h1.45m8.5 0h1.45m6 0h1.45m28 0h1.45m4.1 0h1.45m-464.2 2.1h1.45m-1 0h1.45m26.6 0h1.45m4.5 0h1.45m-0.4 0h1.45m3.6 0h1.45m7.5 0h1.45m10.5 0h1.45m1 0h1.45m17.6 0h1.45m36.4 0h1.45m-0.9 0h1.45m2 0h1.45m17.6 0h1.45m4 0h1.45m2.6 0h1.45m4.5 0h1.45m24.4 0h1.45m7.1 0h1.45m31.5 0h1.45m5 0h1.45m0.6 0h1.45m1 0h1.45m38.9 0h1.45m20.6 0h1.45m19.6 0h1.45m1.5 0h1.45m29.9 0h1.45m7.6 0h1.45m0.5 0h1.45m2.6 0h1.45m20.4 0h1.45m19.6 0h1.45m2.1 0h1.45m14 0h1.45m10 0h1.45m6.5 0h1.45m5.6 0h1.45m-474.6 2h1.45m5.5 0h1.45m19.5 0h1.45m1.5 0h1.45m0.1 0h1.45m0.5 0h1.45m17.1 0h1.45m3.6 0h1.45m-1 0h1.45m3.6 0h1.45m7.4 0h1.45m-0.4 0h1.45m13.5 0h1.45m0.6 0h1.45m7 0h1.45m30.5 0h1.45m12 0h1.45m4.1 0h1.45m11 0h1.45m0.6 0h1.45m0 0h1.45m28.9 0h1.45m-0.4 0h1.45m2.1 0h1.45m14 0h1.45m2.1 0h1.45m6 0h1.45m56 0h1.45m52.4 0h1.45m1.1 0h1.45m6.4 0h1.45m4 0h1.45m12.1 0h1.45m31.4 0h1.45m3.1 0h1.45m21.1 0h1.45m3.5 0h1.45m2 0h1.45m7.6 0h1.45m22.5 0h1.45m1.5 0h1.45m-446.1 2h1.45m-0.5 0h1.45m0 0h1.45m8.6 0h1.45m16.5 0h1.45m2.1 0h1.45m4.5 0h1.45m4 0h1.45m17.6 0h1.45m2.5 0h1.45m0.1 0h1.45m0 0h1.45m11.1 0h1.45m0.5 0h1.45m-0.9 0h1.45m3 0h1.45m14 0h1.45m10 0h1.45m32.9 0h1.45m9.6 0h1.45m23.1 0h1.45m-1 0h1.45m10.6 0h1.45m9.9 0h1.45m21.1 0h1.45m2.5 0h1.45m5.6 0h1.45m4.5 0h1.45m7.9 0h1.45m4.1 0h1.45m63.4 0h1.45m3.6 0h1.45m17 0h1.45m2.1 0h1.45m12.9 0h1.45m2.6 0h1.45m16.1 0h1.45m3.5 0h1.45m17 0h1.45m1.6 0h1.45m2.5 0h1.45m22 0h1.45m-468.5 2.1h1.45m2.9 0h1.45m5 0h1.45m-0.4 0h1.45m10 0h1.45m48.5 0h1.45m35.1 0h1.45m-0.5 0h1.45m19.5 0h1.45m4 0h1.45m22.6 0h1.45m7.4 0h1.45m48.1 0h1.45m17.4 0h1.45m1.6 0h1.45m5 0h1.45m42.4 0h1.45m5.6 0h1.45m7.6 0h1.45m1.5 0h1.45m5.1 0h1.45m6.5 0h1.45m6.1 0h1.45m4.4 0h1.45m6 0h1.45m20.6 0h1.45m30.9 0h1.45m1.1 0h1.45m4.6 0h1.45m1 0h1.45m14 0h1.45m5.1 0h1.45m34 0h1.45m0 0h1.45m8.6 0h1.45m3.5 0h1.45m-464.1 2h1.45m10.5 0h1.45m1.5 0h1.45m0.1 0h1.45m1.5 0h1.45m10.1 0h1.45m1.1 0h1.45m12.9 0h1.45m12.6 0h1.45m12 0h1.45m12.6 0h1.45m-1 0h1.45m-0.5 0h1.45m6.5 0h1.45m21.6 0h1.45m2.5 0h1.45m19.9 0h1.45m10.6 0h1.45m6.6 0h1.45m7 0h1.45m10.1 0h1.45m-0.5 0h1.45m-0.4 0h1.45m0 0h1.45m5.6 0h1.45m6.4 0h1.45m-0.4 0h1.45m5 0h1.45m2.1 0h1.45m4 0h1.45m5.1 0h1.45m2.5 0h1.45m10.1 0h1.45m44.9 0h1.45m11.6 0h1.45m-0.5 0h1.45m6.9 0h1.45m3.1 0h1.45m9 0h1.45m19.1 0h1.45m25.9 0h1.45m9.1 0h1.45m7.6 0h1.45m11.5 0h1.45m35 0h1.45m15.5 0h1.45m-439.6 2.1h1.45m21.9 0h1.45m1.6 0h1.45m0 0h1.45m6.1 0h1.45m21.5 0h1.45m8.5 0h1.45m34 0h1.45m16.1 0h1.45m8.4 0h1.45m42.1 0h1.45m19.9 0h1.45m30.1 0h1.45m2 0h1.45m31.9 0h1.45m2.6 0h1.45m6.6 0h1.45m27.9 0h1.45m1.5 0h1.45m5.6 0h1.45m5.5 0h1.45m32.5 0h1.45m4.6 0h1.45m14 0h1.45m7.5 0h1.45m12.5 0h1.45m17.1 0h1.45m2.5 0h1.45m-467.1 2h1.45m0.5 0h1.45m9 0h1.45m16.1 0h1.45m49.5 0h1.45m14.5 0h1.45m-0.4 0h1.45m3 0h1.45m35 0h1.45m4.5 0h1.45m28.4 0h1.45m0.6 0h1.45m9.6 0h1.45m2.5 0h1.45m4.1 0h1.45m7 0h1.45m20 0h1.45m12 0h1.45m15.1 0h1.45m0 0h1.45m14.6 0h1.45m9.9 0h1.45m42.1 0h1.45m-0.6 0h1.45m7 0h1.45m17.1 0h1.45m5 0h1.45m7.6 0h1.45m51.4 0h1.45m1.6 0h1.45m1.5 0h1.45m7.6 0h1.45m-0.5 0h1.45m6 0h1.45m26.1 0h1.45m-479.2 2h1.45m4 0h1.45m1.6 0h1.45m39.5 0h1.45m5.5 0h1.45m18.1 0h1.45m3.5 0h1.45m15.1 0h1.45m21.9 0h1.45m7.1 0h1.45m-0.5 0h1.45m10.6 0h1.45m5 0h1.45m0.6 0h1.45m0.5 0h1.45m10.9 0h1.45m1.6 0h1.45m1.6 0h1.45m1.5 0h1.45m7.1 0h1.45m5.5 0h1.45m36 0h1.45m1 0h1.45m6.6 0h1.45m13 0h1.45m20.1 0h1.45m3.4 0h1.45m0.1 0h1.45m21 0h1.45m3.1 0h1.45m0 0h1.45m6.1 0h1.45m10 0h1.45m0.6 0h1.45m5.9 0h1.45m1.5 0h1.45m5.6 0h1.45m2.5 0h1.45m10.1 0h1.45m-0.5 0h1.45m29.5 0h1.45m0.1 0h1.45m1 0h1.45m4.6 0h1.45m-0.5 0h1.45m3.6 0h1.45m19.5 0h1.45m7.5 0h1.45m-0.4 0h1.45m6 0h1.45m13.5 0h1.45m-466.6 2.1h1.45m23 0h1.45m28 0h1.45m0 0h1.45m18.1 0h1.45m12.5 0h1.45m4.6 0h1.45m19.4 0h1.45m15.6 0h1.45m7 0h1.45m18.1 0h1.45m0 0h1.45m5.9 0h1.45m10.6 0h1.45m14.6 0h1.45m23.4 0h1.45m1.1 0h1.45m2.5 0h1.45m15.1 0h1.45m10.5 0h1.45m27.9 0h1.45m59 0h1.45m4.5 0h1.45m3.1 0h1.45m14 0h1.45m12.1 0h1.45m5.4 0h1.45m3.6 0h1.45m23.5 0h1.45m27.5 0h1.45m2.1 0h1.45m-0.5 0h1.45m-448.6 2h1.45m19 0h1.45m8 0h1.45m24.5 0h1.45m0.1 0h1.45m4.5 0h1.45m2.6 0h1.45m29 0h1.45m23 0h1.45m6 0h1.45m5.6 0h1.45m0.5 0h1.45m5.6 0h1.45m39.4 0h1.45m7.6 0h1.45m57.9 0h1.45m26.4 0h1.45m45.5 0h1.45m16.5 0h1.45m4.1 0h1.45m0 0h1.45m-0.9 0h1.45m5 0h1.45m1.6 0h1.45m9 0h1.45m-0.4 0h1.45m30.4 0h1.45m4.1 0h1.45m17 0h1.45m0.5 0h1.45m12.6 0h1.45m-454.7 2h1.45m5 0h1.45m-0.9 0h1.45m6.5 0h1.45m23.6 0h1.45m3.6 0h1.45m24.9 0h1.45m4.1 0h1.45m7 0h1.45m15.1 0h1.45m35.4 0h1.45m2.6 0h1.45m-1 0h1.45m41.9 0h1.45m12.6 0h1.45m6.6 0h1.45m4 0h1.45m16.5 0h1.45m0.5 0h1.45m0.1 0h1.45m4 0h1.45m0.6 0h1.45m16.5 0h1.45m5.6 0h1.45m1 0h1.45m1.4 0h1.45m2.6 0h1.45m6.6 0h1.45m2 0h1.45m15.6 0h1.45m13.5 0h1.45m26.9 0h1.45m19.6 0h1.45m3 0h1.45m24.5 0h1.45m15.6 0h1.45m8.5 0h1.45m7 0h1.45m1 0h1.45m5.6 0h1.45m-432.7 2.1h1.45m8.5 0h1.45m23.1 0h1.45m22.5 0h1.45m2 0h1.45m11.1 0h1.45m27.4 0h1.45m6.6 0h1.45m0.5 0h1.45m20.6 0h1.45m28.4 0h1.45m17.6 0h1.45m13 0h1.45m9 0h1.45m0.5 0h1.45m24.1 0h1.45m9 0h1.45m11.4 0h1.45m13.6 0h1.45m-0.9 0h1.45m2 0h1.45m3.6 0h1.45m17.5 0h1.45m3.1 0h1.45m11.4 0h1.45m12.5 0h1.45m2.1 0h1.45m0 0h1.45m8.6 0h1.45m39.9 0h1.45m9.1 0h1.45m31 0h1.45m3.5 0h1.45m12.6 0h1.45m7 0h1.45m-482.1 2h1.45m11 0h1.45m46 0h1.45m10.5 0h1.45m1.1 0h1.45m0.5 0h1.45m28.1 0h1.45m10.9 0h1.45m1.1 0h1.45m10 0h1.45m42.9 0h1.45m8.6 0h1.45m5.1 0h1.45m20.5 0h1.45m14.5 0h1.45m23 0h1.45m5.6 0h1.45m3 0h1.45m13.4 0h1.45m2.6 0h1.45m25.1 0h1.45m5 0h1.45m8.1 0h1.45m2.5 0h1.45m2.4 0h1.45m7.6 0h1.45m5.5 0h1.45m29.6 0h1.45m13.4 0h1.45m11.1 0h1.45m1.6 0h1.45m-1 0h1.45m2.6 0h1.45m14.5 0h1.45m-1 0h1.45m4.1 0h1.45m0 0h1.45m8 0h1.45m1.6 0h1.45m9.5 0h1.45m0.1 0h1.45m4.5 0h1.45m-486.5 2h1.45m15.4 0h1.45m-0.5 0h1.45m16.6 0h1.45m1.5 0h1.45m3.6 0h1.45m37.5 0h1.45m38.5 0h1.45m3.5 0h1.45m3.5 0h1.45m11.6 0h1.45m39.9 0h1.45m1.6 0h1.45m14 0h1.45m43 0h1.45m28.5 0h1.45m61.9 0h1.45m27 0h1.45m11 0h1.45m5.1 0h1.45m44.4 0h1.45m6.1 0h1.45m23.5 0h1.45m17.5 0h1.45m1.1 0h1.45m-479.7 2.1h1.45m7.5 0h1.45m11.6 0h1.45m46 0h1.45m6 0h1.45m5.1 0h1.45m9 0h1.45m2.6 0h1.45m10 0h1.45m17.5 0h1.45m7 0h1.45m5.6 0h1.45m11 0h1.45m17.4 0h1.45m20.1 0h1.45m46.5 0h1.45m1.5 0h1.45m39.9 0h1.45m17.1 0h1.45m65.9 0h1.45m1.6 0h1.45m6 0h1.45m5 0h1.45m8.6 0h1.45m19 0h1.45m6.5 0h1.45m44.5 0h1.45m-409.8 2h1.45m5.6 0h1.45m20.6 0h1.45m-0.5 0h1.45m7.1 0h1.45m20.9 0h1.45m12.1 0h1.45m36.9 0h1.45m5.1 0h1.45m34.4 0h1.45m24.6 0h1.45m1 0h1.45m5.6 0h1.45m17.4 0h1.45m11.6 0h1.45m5.5 0h1.45m2.1 0h1.45m15 0h1.45m3.1 0h1.45m11.4 0h1.45m13.5 0h1.45m7.6 0h1.45m8 0h1.45m8.1 0h1.45m5.5 0h1.45m28 0h1.45m2.1 0h1.45m0.5 0h1.45m2 0h1.45m12.6 0h1.45m12 0h1.45m5.5 0h1.45m6.6 0h1.45m7 0h1.45m2.6 0h1.45m-460.7 2h1.45m8.5 0h1.45m7.6 0h1.45m0.6 0h1.45m12 0h1.45m9.5 0h1.45m7 0h1.45m43 0h1.45m0 0h1.45m30.1 0h1.45m48.9 0h1.45m12.1 0h1.45m-1 0h1.45m4.1 0h1.45m15.9 0h1.45m1.1 0h1.45m39.9 0h1.45m18.6 0h1.45m2 0h1.45m7.6 0h1.45m41.4 0h1.45m5 0h1.45m6.6 0h1.45m12.5 0h1.45m22 0h1.45m22.5 0h1.45m17 0h1.45m20.1 0h1.45m-481.1 2.1h1.45m1 0h1.45m9 0h1.45m0.5 0h1.45m-0.9 0h1.45m1.5 0h1.45m7.1 0h1.45m13.5 0h1.45m9.6 0h1.45m5.6 0h1.45m15.9 0h1.45m14.6 0h1.45m6 0h1.45m10.1 0h1.45m29.4 0h1.45m33.4 0h1.45m4.1 0h1.45m3.1 0h1.45m7 0h1.45m27.6 0h1.45m9.4 0h1.45m6.1 0h1.45m6.5 0h1.45m19.1 0h1.45m42.9 0h1.45m5.6 0h1.45m3 0h1.45m12.9 0h1.45m-0.4 0h1.45m18.5 0h1.45m6.6 0h1.45m7 0h1.45m35 0h1.45m1.6 0h1.45m0.5 0h1.45m1.1 0h1.45m13.5 0h1.45m3 0h1.45m12.5 0h1.45m10.1 0h1.45m15 0h1.45m-0.4 0h1.45m-474.7 2h1.45m15 0h1.45m60 0h1.45m7.6 0h1.45m13 0h1.45m19 0h1.45m16.5 0h1.45m39.4 0h1.45m-0.9 0h1.45m-0.9 0h1.45m31.5 0h1.45m1.5 0h1.45m16.5 0h1.45m4.6 0h1.45m-1 0h1.45m44.9 0h1.45m18.1 0h1.45m9.6 0h1.45m28.9 0h1.45m37.4 0h1.45m56.5 0h1.45m1.6 0h1.45m3 0h1.45m13.1 0h1.45m3 0h1.45m-486.5 2.1h1.45m12.4 0h1.45m33.5 0h1.45m29.5 0h1.45m2.1 0h1.45m8.5 0h1.45m49.5 0h1.45m41.4 0h1.45m3.6 0h1.45m6.5 0h1.45m25.1 0h1.45m1.9 0h1.45m25.1 0h1.45m5.5 0h1.45m3.6 0h1.45m4 0h1.45m4.6 0h1.45m20.9 0h1.45m10.6 0h1.45m90.8 0h1.45m17.1 0h1.45m2.5 0h1.45m43 0h1.45m2.5 0h1.45m-0.4 0h1.45m-452.7 2h1.45m11.5 0h1.45m0.1 0h1.45m17.5 0h1.45m31 0h1.45m3.6 0h1.45m38.9 0h1.45m3.1 0h1.45m35.4 0h1.45m5.6 0h1.45m19 0h1.45m0.1 0h1.45m-0.5 0h1.45m4.1 0h1.45m91.3 0h1.45m3.6 0h1.45m15.5 0h1.45m10.4 0h1.45m22.1 0h1.45m88.4 0h1.45m15 0h1.45m-479.5 2h1.45m120.8 0h1.45m8.5 0h1.45m0.5 0h1.45m11.1 0h1.45m25.5 0h1.45m2.6 0h1.45m60.3 0h1.45m40.6 0h1.45m0.5 0h1.45m-0.4 0h1.45m-0.5 0h1.45m42.4 0h1.45m74.4 0h1.45m60.5 0h1.45m4.5 0h1.45m5.1 0h1.45m1 0h1.45m-481.5 2.1h1.45m23.9 0h1.45m26.5 0h1.45m153.8 0h1.45m14.1 0h1.45m9.9 0h1.45m26.1 0h1.45m1 0h1.45m15.1 0h1.45m16.9 0h1.45m19.6 0h1.45m47.4 0h1.45m4.5 0h1.45m51 0h1.45m6.5 0h1.45m2.6 0h1.45m8.5 0h1.45m0.1 0h1.45m9.5 0h1.45m13.5 0h1.45m2.6 0h1.45m2.5 0h1.45m-477.1 2h1.45m64.9 0h1.45m1.6 0h1.45m3 0h1.45m10.1 0h1.45m1.5 0h1.45m46 0h1.45m34.4 0h1.45m1.1 0h1.45m12 0h1.45m16.6 0h1.45m43.9 0h1.45m97.8 0h1.45m47.5 0h1.45m33 0h1.45m6.6 0h1.45m-455.6 2h1.45m10 0h1.45m10.5 0h1.45m5.5 0h1.45m49.5 0h1.45m14.5 0h1.45m73 0h1.45m95.8 0h1.45m49.9 0h1.45m3.1 0h1.45m0.1 0h1.45m22.9 0h1.45m27 0h1.45m20.5 0h1.45m2.6 0h1.45m16 0h1.45m2.6 0h1.45m16.5 0h1.45m-444.6 2.1h1.45m7.5 0h1.45m34.5 0h1.45m25.4 0h1.45m104.3 0h1.45m32.6 0h1.45m10.1 0h1.45m55.4 0h1.45m72.3 0h1.45m8.1 0h1.45m3.5 0h1.45m14.6 0h1.45m20.4 0h1.45m11.6 0h1.45m24.5 0h1.45m3.6 0h1.45m5.5 0h1.45m0.5 0h1.45m10.1 0h1.45m15.5 0h1.45m-465.6 2h1.45m40.9 0h1.45m23.1 0h1.45m-0.5 0h1.45m21.6 0h1.45m18.4 0h1.45m8.6 0h1.45m33.9 0h1.45m125.9 0h1.45m2 0h1.45m-0.4 0h1.45m1 0h1.45m29.4 0h1.45m16.6 0h1.45m39.4 0h1.45m20.1 0h1.45m36.5 0h1.45m3 0h1.45m-470 2h1.45m78.8 0h1.45m21.6 0h1.45m4 0h1.45m47 0h1.45m71.9 0h1.45m19 0h1.45m20.5 0h1.45m24.4 0h1.45m44 0h1.45m2 0h1.45m27.6 0h1.45m48.4 0h1.45m12.1 0h1.45m33.5 0h1.45m14.5 0h1.45m0.1 0h1.45m-478.2 2.1h1.45m161.2 0h1.45m0.1 0h1.45m0.6 0h1.45m108.3 0h1.45m4.6 0h1.45m23.5 0h1.45m19.9 0h1.45m27.1 0h1.45m19.5 0h1.45m8 0h1.45m7.1 0h1.45m32 0h1.45m12 0h1.45m-450.6 2h1.45m39.5 0h1.45m38.9 0h1.45m14.1 0h1.45m37.9 0h1.45m-0.9 0h1.45m50.4 0h1.45m0.6 0h1.45m26 0h1.45m7.5 0h1.45m3.5 0h1.45m2.6 0h1.45m80.4 0h1.45m16.9 0h1.45m85.5 0h1.45m0.5 0h1.45m40 0h1.45m-418.1 2h1.45m28.4 0h1.45m51.5 0h1.45m32.5 0h1.45m0.9 0h1.45m37.6 0h1.45m128.8 0h1.45m71.4 0h1.45m9.1 0h1.45m8 0h1.45m-0.5 0h1.45m28 0h1.45m-458.1 2.1h1.45m0 0h1.45m20.5 0h1.45m70 0h1.45m40 0h1.45m10.5 0h1.45m0.1 0h1.45m11 0h1.45m-0.4 0h1.45m9.9 0h1.45m17.6 0h1.45m51.9 0h1.45m35.9 0h1.45m2.1 0h1.45m7.6 0h1.45m37.4 0h1.45m76.4 0h1.45m-418.6 2h1.45m74.9 0h1.45m201.6 0h1.45m19.6 0h1.45m41.9 0h1.45m20.5 0h1.45m99.4 0h1.45m-445.6 2h1.45m98.3 0h1.45m14.1 0h1.45m16.5 0h1.45m30.4 0h1.45m60 0h1.45m26.6 0h1.45m27.4 0h1.45m18.1 0h1.45m-273 2.1h1.45m31.5 0h1.45m23 0h1.45m2.5 0h1.45m7.5 0h1.45m-0.9 0h1.45m25.5 0h1.45m-0.9 0h1.45m39.9 0h1.45m68.5 0h1.45m0.5 0h1.45m32.9 0h1.45m96.4 0h1.45m-295.4 2h1.45m99.9 0h1.45m42.5 0h1.45m15.5 0h1.45m90.3 0h1.45m9.6 0h1.45m31.4 0h1.45m60.5 0h1.45m-414.6 2.1h1.45m128.7 0h1.45m48.5 0h1.45m161.7 0h1.45m0.6 0h1.45m-403.7 2h1.45m129.8 0h1.45m129.8 0h1.45m102.8 0h1.45m65 0h1.45m-431.6 2h1.45m9.9 0h1.45m6.5 0h1.45m22.6 0h1.45m2.6 0h1.45m93.8 0h1.45m13.6 0h1.45m12.4 0h1.45m32.6 0h1.45m170.7 0h1.45m45.4 0h1.45m12.1 0h1.45m41.5 0h1.45m4 0h1.45m-486.5 2.1h1.45m104.8 0h1.45m30.5 0h1.45m1 0h1.45m2.1 0h1.45m192.6 0h1.45m14.5 0h1.45m51.5 0h1.45m39.5 0h1.45m-405.7 2h1.45m157.8 0h1.45m190.1 0h1.45m-389.2 2h1.45m63.4 0h1.45m16.1 0h1.45m5 0h1.45m59.5 0h1.45m53.4 0h1.45m53 0h1.45m11.5 0h1.45m6.4 0h1.45m41.1 0h1.45m50.9 0h1.45m11.5 0h1.45m31 0h1.45m53.5 0h1.45m-485.5 2.1h1.45m146.2 0h1.45m11.6 0h1.45m100.8 0h1.45m-0.4 0h1.45m17.9 0h1.45m3.1 0h1.45m82.4 0h1.45m91.9 0h1.45m16.5 0h1.45m-451.1 2h1.45m106.3 0h1.45m124.9 0h1.45m5.5 0h1.45m4.1 0h1.45m25.4 0h1.45m118.9 0h1.45m-422.3 2h1.45m24.5 0h1.45m19.6 0h1.45m34 0h1.45m36.4 0h1.45m199.2 0h1.45m95.4 0h1.45m-234.1 2.1h1.45m156.8 0h1.45m34.5 0h1.45m60 0h1.45m-403.2 2h1.45m9.5 0h1.45m56.5 0h1.45m36.9 0h1.45m32.4 0h1.45m0.1 0h1.45m41 0h1.45m60.4 0h1.45m-177.6 2h1.45m86.9 0h1.45m97.4 0h1.45m68.9 0h1.45m68.9 0h1.45m-335.3 2.1h1.45m91.8 0h1.45m-176.6 2h1.45m66 2.1h1.45m110.3 0h1.45m-134.7 2h1.45m179.7 0h1.45m79.4 0h1.45m19 0h1.45m-198.6 2h1.45m3.1 0h1.45m14.4 0h1.45m138.4 0h1.45m29.9 0h1.45m18.1 0h1.45m53.4 0h1.45m-417.7 2.1h1.45m46 0h1.45m80.4 0h1.45m33.4 0h1.45m-153.6 2h1.45m273.1 0h1.45m100.3 0h1.45m81.5 0h1.45m-58.9 6.1h1.45m-360.9 4.1h1.45m183.8 0h1.45m165.8 0h1.45m-87.3 2h1.45m-220 2h1.45m328.4 8.2h1.45m-346.9 14.2h1.45m45 8.2h1.45m239.6 0h1.45" stroke="#000" stroke-width="1.45" fill="none"/><clipPath id="c1"><rect x="59.5" y="47.5" width="533.0" height="533.0"/></clipPath><g clip-path="url(#c1)"><path d="M60.3 316.1H592.5" stroke="#c80c0c" stroke-width="2.2" stroke-dasharray="8.2 9.8" stroke-linecap="round" fill="none"/><path d="M284.9 579.0V47.5" stroke="#006400" stroke-width="2.2" stroke-dasharray="8.2 9.8" stroke-linecap="round" fill="none"/><path d="M365.8 579.0V47.5" stroke="#006400" stroke-width="2.2" stroke-dasharray="8.2 9.8" stroke-linecap="round" fill="none"/></g>
<rect x="59.5" y="47.5" width="533.0" height="533.0" fill="none" stroke="#000" stroke-opacity="0.55" stroke-width="1"/>
<clipPath id="c2h"><rect x="699.5" y="47.5" width="533.0" height="533.0"/></clipPath><clipPath id="c2f"><rect x="888.5" y="47.5" width="156.0" height="272.0"/></clipPath><g clip-path="url(#c2h)"><filter id="fhm" x="-10%" y="-10%" width="120%" height="120%" color-interpolation-filters="sRGB"><feGaussianBlur stdDeviation="4.5"/></filter><style>#hm rect{width:10.12px;height:10.12px}</style><g filter="url(#fhm)" style="shape-rendering:crispEdges"><g id="hm"><g transform="translate(0 28.5)"><rect x="680.5" fill="#fefeff"/><rect x="690.0" fill="#fefeff"/><rect x="699.5" fill="#fefeff"/><rect x="709.0" fill="#fdfdff"/><rect x="718.5" fill="#fdfdff"/><rect x="728.1" fill="#fdfdff"/><rect x="737.6" fill="#fdfdff"/><rect x="747.1" fill="#fdfdff"/><rect x="756.6" fill="#fdfdff"/><rect x="766.1" fill="#fdfdff"/><rect x="775.6" fill="#fdfdff"/><rect x="785.2" fill="#fdfdff"/><rect x="794.7" fill="#fdfdff"/><rect x="804.2" fill="#fdfdff"/><rect x="813.7" fill="#fdfdff"/><rect x="823.2" fill="#fdfdff"/><rect x="832.8" fill="#fdfdff"/><rect x="842.3" fill="#fdfdff"/><rect x="851.8" fill="#fdfdff"/><rect x="861.3" fill="#fdfdff"/><rect x="870.8" fill="#fcfcff"/><rect x="880.3" fill="#fcfcff"/><rect x="889.9" fill="#fafaff"/><rect x="899.4" fill="#f8f8ff"/><rect x="908.9" fill="#f4f4ff"/><rect x="918.4" fill="#eeeeff"/><rect x="927.9" fill="#e5e5ff"/><rect x="937.4" fill="#dbdbff"/><rect x="947.0" fill="#d2d2ff"/><rect x="956.5" fill="#cbcbff"/><rect x="966.0" fill="#ccccff"/><rect x="975.5" fill="#d3d3ff"/><rect x="985.0" fill="#ddddff"/><rect x="994.6" fill="#e6e6ff"/><rect x="1004.1" fill="#eeeeff"/><rect x="1013.6" fill="#f4f4ff"/><rect x="1023.1" fill="#f8f8ff"/><rect x="1032.6" fill="#fafaff"/><rect x="1042.1" fill="#fcfcff"/><rect x="1051.7" fill="#fcfcff"/><rect x="1061.2" fill="#fdfdff"/><rect x="1070.7" fill="#fdfdff"/><rect x="1080.2" fill="#fdfdff"/><rect x="1089.7" fill="#fdfdff"/><rect x="1099.2" fill="#fdfdff"/><rect x="1108.8" fill="#fdfdff"/><rect x="1118.3" fill="#fdfdff"/><rect x="1127.8" fill="#fdfdff"/><rect x="1137.3" fill="#fdfdff"/><rect x="1146.8" fill="#fdfdff"/><rect x="1156.4" fill="#fdfdff"/><rect x="1165.9" fill="#fdfdff"/><rect x="1175.4" fill="#fdfdff"/><rect x="1184.9" fill="#fdfdff"/><rect x="1194.4" fill="#fdfdff"/><rect x="1203.9" fill="#fdfdff"/><rect x="1213.5" fill="#fdfdff"/><rect x="1223.0" fill="#fefeff"/><rect x="1232.5" fill="#fefeff"/><rect x="1242.0" fill="#fefeff"/></g><g transform="translate(0 38.0)"><rect x="680.5" fill="#fefeff"/><rect x="690.0" fill="#fefeff"/><rect x="699.5" fill="#fefeff"/><rect x="709.0" fill="#fdfdff"/><rect x="718.5" fill="#fdfdff"/><rect x="728.1" fill="#fdfdff"/><rect x="737.6" fill="#fdfdff"/><rect x="747.1" fill="#fdfdff"/><rect x="756.6" fill="#fdfdff"/><rect x="766.1" fill="#fdfdff"/><rect x="775.6" fill="#fdfdff"/><rect x="785.2" fill="#fdfdff"/><rect x="794.7" fill="#fdfdff"/><rect x="804.2" fill="#fdfdff"/><rect x="813.7" fill="#fdfdff"/><rect x="823.2" fill="#fdfdff"/><rect x="832.8" fill="#fdfdff"/><rect x="842.3" fill="#fdfdff"/><rect x="851.8" fill="#fdfdff"/><rect x="861.3" fill="#fdfdff"/><rect x="870.8" fill="#fcfcff"/><rect x="880.3" fill="#fcfcff"/><rect x="889.9" fill="#fafaff"/><rect x="899.4" fill="#f8f8ff"/><rect x="908.9" fill="#f4f4ff"/><rect x="918.4" fill="#eeeeff"/><rect x="927.9" fill="#e5e5ff"/><rect x="937.4" fill="#dbdbff"/><rect x="947.0" fill="#d2d2ff"/><rect x="956.5" fill="#cbcbff"/><rect x="966.0" fill="#ccccff"/><rect x="975.5" fill="#d3d3ff"/><rect x="985.0" fill="#ddddff"/><rect x="994.6" fill="#e6e6ff"/><rect x="1004.1" fill="#eeeeff"/><rect x="1013.6" fill="#f4f4ff"/><rect x="1023.1" fill="#f8f8ff"/><rect x="1032.6" fill="#fafaff"/><rect x="1042.1" fill="#fcfcff"/><rect x="1051.7" fill="#fcfcff"/><rect x="1061.2" fill="#fdfdff"/><rect x="1070.7" fill="#fdfdff"/><rect x="1080.2" fill="#fdfdff"/><rect x="1089.7" fill="#fdfdff"/><rect x="1099.2" fill="#fdfdff"/><rect x="1108.8" fill="#fdfdff"/><rect x="1118.3" fill="#fdfdff"/><rect x="1127.8" fill="#fdfdff"/><rect x="1137.3" fill="#fdfdff"/><rect x="1146.8" fill="#fdfdff"/><rect x="1156.4" fill="#fdfdff"/><rect x="1165.9" fill="#fdfdff"/><rect x="1175.4" fill="#fdfdff"/><rect x="1184.9" fill="#fdfdff"/><rect x="1194.4" fill="#fdfdff"/><rect x="1203.9" fill="#fdfdff"/><rect x="1213.5" fill="#fdfdff"/><rect x="1223.0" fill="#fefeff"/><rect x="1232.5" fill="#fefeff"/><rect x="1242.0" fill="#fefeff"/></g><g transform="translate(0 47.5)"><rect x="680.5" fill="#fefeff"/><rect x="690.0" fill="#fefeff"/><rect x="699.5" fill="#fdfdff"/><rect x="709.0" fill="#fdfdff"/><rect x="718.5" fill="#fcfcff"/><rect x="728.1" fill="#fcfcff"/><rect x="737.6" fill="#fcfcff"/><rect x="747.1" fill="#fcfcff"/><rect x="756.6" fill="#fcfcff"/><rect x="766.1" fill="#fcfcff"/><rect x="775.6" fill="#fcfcff"/><rect x="785.2" fill="#fcfcff"/><rect x="794.7" fill="#fcfcff"/><rect x="804.2" fill="#fcfcff"/><rect x="813.7" fill="#fcfcff"/><rect x="823.2" fill="#fcfcff"/><rect x="832.8" fill="#fcfcff"/><rect x="842.3" fill="#fcfcff"/><rect x="851.8" fill="#fcfcff"/><rect x="861.3" fill="#fcfcff"/><rect x="870.8" fill="#fbfbff"/><rect x="880.3" fill="#fafaff"/><rect x="889.9" fill="#f9f9ff"/><rect x="899.4" fill="#f5f5ff"/><rect x="908.9" fill="#f0f0ff"/><rect x="918.4" fill="#e8e8ff"/><rect x="927.9" fill="#ddddff"/><rect x="937.4" fill="#cfcfff"/><rect x="947.0" fill="#c2c2ff"/><rect x="956.5" fill="#babaff"/><rect x="966.0" fill="#babaff"/><rect x="975.5" fill="#c3c3ff"/><rect x="985.0" fill="#d1d1ff"/><rect x="994.6" fill="#dedeff"/><rect x="1004.1" fill="#e8e8ff"/><rect x="1013.6" fill="#f0f0ff"/><rect x="1023.1" fill="#f6f6ff"/><rect x="1032.6" fill="#f9f9ff"/><rect x="1042.1" fill="#fbfbff"/><rect x="1051.7" fill="#fbfbff"/><rect x="1061.2" fill="#fcfcff"/><rect x="1070.7" fill="#fcfcff"/><rect x="1080.2" fill="#fcfcff"/><rect x="1089.7" fill="#fcfcff"/><rect x="1099.2" fill="#fcfcff"/><rect x="1108.8" fill="#fcfcff"/><rect x="1118.3" fill="#fcfcff"/><rect x="1127.8" fill="#fcfcff"/><rect x="1137.3" fill="#fcfcff"/><rect x="1146.8" fill="#fcfcff"/><rect x="1156.4" fill="#fcfcff"/><rect x="1165.9" fill="#fcfcff"/><rect x="1175.4" fill="#fcfcff"/><rect x="1184.9" fill="#fcfcff"/><rect x="1194.4" fill="#fcfcff"/><rect x="1203.9" fill="#fcfcff"/><rect x="1213.5" fill="#fdfdff"/><rect x="1223.0" fill="#fdfdff"/><rect x="1232.5" fill="#fefeff"/><rect x="1242.0" fill="#fefeff"/></g><g transform="translate(0 57.0)"><rect x="680.5" fill="#fdfdff"/><rect x="690.0" fill="#fdfdff"/><rect x="699.5" fill="#fcfcff"/><rect x="709.0" fill="#fbfbff"/><rect x="718.5" fill="#fbfbff"/><rect x="728.1" fill="#fafaff"/><rect x="737.6" fill="#fafaff"/><rect x="747.1" fill="#fafaff"/><rect x="756.6" fill="#fafaff"/><rect x="766.1" fill="#fafaff"/><rect x="775.6" fill="#fafaff"/><rect x="785.2" fill="#fafaff"/><rect x="794.7" fill="#fafaff"/><rect x="804.2" fill="#fafaff"/><rect x="813.7" fill="#fafaff"/><rect x="823.2" fill="#fafaff"/><rect x="832.8" fill="#fafaff"/><rect x="842.3" fill="#fafaff"/><rect x="851.8" fill="#fafaff"/><rect x="861.3" fill="#fafaff"/><rect x="870.8" fill="#f9f9ff"/><rect x="880.3" fill="#f8f8ff"/><rect x="889.9" fill="#f4f4ff"/><rect x="899.4" fill="#efefff"/><rect x="908.9" fill="#e5e5ff"/><rect x="918.4" fill="#d7d7ff"/><rect x="927.9" fill="#c5c5ff"/><rect x="937.4" fill="#aeaeff"/><rect x="947.0" fill="#9999ff"/><rect x="956.5" fill="#8c8cff"/><rect x="966.0" fill="#8d8dff"/><rect x="975.5" fill="#9b9bff"/><rect x="985.0" fill="#b1b1ff"/><rect x="994.6" fill="#c6c6ff"/><rect x="1004.1" fill="#d9d9ff"/><rect x="1013.6" fill="#e6e6ff"/><rect x="1023.1" fill="#efefff"/><rect x="1032.6" fill="#f5f5ff"/><rect x="1042.1" fill="#f8f8ff"/><rect x="1051.7" fill="#f9f9ff"/><rect x="1061.2" fill="#fafaff"/><rect x="1070.7" fill="#fafaff"/><rect x="1080.2" fill="#fafaff"/><rect x="1089.7" fill="#fafaff"/><rect x="1099.2" fill="#fafaff"/><rect x="1108.8" fill="#fafaff"/><rect x="1118.3" fill="#fafaff"/><rect x="1127.8" fill="#fafaff"/><rect x="1137.3" fill="#fafaff"/><rect x="1146.8" fill="#fafaff"/><rect x="1156.4" fill="#fafaff"/><rect x="1165.9" fill="#fafaff"/><rect x="1175.4" fill="#fafaff"/><rect x="1184.9" fill="#fafaff"/><rect x="1194.4" fill="#fafaff"/><rect x="1203.9" fill="#fbfbff"/><rect x="1213.5" fill="#fbfbff"/><rect x="1223.0" fill="#fcfcff"/><rect x="1232.5" fill="#fdfdff"/><rect x="1242.0" fill="#fdfdff"/></g><g transform="translate(0 66.5)"><rect x="680.5" fill="#fcfcff"/><rect x="690.0" fill="#fcfcff"/><rect x="699.5" fill="#fafaff"/><rect x="709.0" fill="#f9f9ff"/><rect x="718.5" fill="#f8f8ff"/><rect x="728.1" fill="#f8f8ff"/><rect x="737.6" fill="#f8f8ff"/><rect x="747.1" fill="#f8f8ff"/><rect x="756.6" fill="#f8f8ff"/><rect x="766.1" fill="#f8f8ff"/><rect x="775.6" fill="#f8f8ff"/><rect x="785.2" fill="#f8f8ff"/><rect x="794.7" fill="#f8f8ff"/><rect x="804.2" fill="#f8f8ff"/><rect x="813.7" fill="#f8f8ff"/><rect x="823.2" fill="#f8f8ff"/><rect x="832.8" fill="#f8f8ff"/><rect x="842.3" fill="#f8f8ff"/><rect x="851.8" fill="#f8f8ff"/><rect x="861.3" fill="#f7f7ff"/><rect x="870.8" fill="#f6f6ff"/><rect x="880.3" fill="#f4f4ff"/><rect x="889.9" fill="#efefff"/><rect x="899.4" fill="#e6e6ff"/><rect x="908.9" fill="#d7d7ff"/><rect x="918.4" fill="#c2c2ff"/><rect x="927.9" fill="#a5a5ff"/><rect x="937.4" fill="#8383ff"/><rect x="947.0" fill="#6363ff"/><rect x="956.5" fill="#4f4fff"/><rect x="966.0" fill="#5050ff"/><rect x="975.5" fill="#6666ff"/><rect x="985.0" fill="#8686ff"/><rect x="994.6" fill="#a7a7ff"/><rect x="1004.1" fill="#c3c3ff"/><rect x="1013.6" fill="#d9d9ff"/><rect x="1023.1" fill="#e7e7ff"/><rect x="1032.6" fill="#efefff"/><rect x="1042.1" fill="#f4f4ff"/><rect x="1051.7" fill="#f6f6ff"/><rect x="1061.2" fill="#f7f7ff"/><rect x="1070.7" fill="#f8f8ff"/><rect x="1080.2" fill="#f8f8ff"/><rect x="1089.7" fill="#f8f8ff"/><rect x="1099.2" fill="#f8f8ff"/><rect x="1108.8" fill="#f8f8ff"/><rect x="1118.3" fill="#f8f8ff"/><rect x="1127.8" fill="#f8f8ff"/><rect x="1137.3" fill="#f8f8ff"/><rect x="1146.8" fill="#f8f8ff"/><rect x="1156.4" fill="#f8f8ff"/><rect x="1165.9" fill="#f8f8ff"/><rect x="1175.4" fill="#f8f8ff"/><rect x="1184.9" fill="#f8f8ff"/><rect x="1194.4" fill="#f8f8ff"/><rect x="1203.9" fill="#f8f8ff"/><rect x="1213.5" fill="#f9f9ff"/><rect x="1223.0" fill="#fbfbff"/><rect x="1232.5" fill="#fcfcff"/><rect x="1242.0" fill="#fcfcff"/></g><g transform="translate(0 76.1)"><rect x="680.5" fill="#fafaff"/><rect x="690.0" fill="#fafaff"/><rect x="699.5" fill="#f8f8ff"/><rect x="709.0" fill="#f7f7ff"/><rect x="718.5" fill="#f6f6ff"/><rect x="728.1" fill="#f5f5ff"/><rect x="737.6" fill="#f5f5ff"/><rect x="747.1" fill="#f5f5ff"/><rect x="756.6" fill="#f5f5ff"/><rect x="766.1" fill="#f5f5ff"/><rect x="775.6" fill="#f5f5ff"/><rect x="785.2" fill="#f5f5ff"/><rect x="794.7" fill="#f5f5ff"/><rect x="804.2" fill="#f5f5ff"/><rect x="813.7" fill="#f5f5ff"/><rect x="823.2" fill="#f5f5ff"/><rect x="832.8" fill="#f5f5ff"/><rect x="842.3" fill="#f5f5ff"/><rect x="851.8" fill="#f5f5ff"/><rect x="861.3" fill="#f4f4ff"/><rect x="870.8" fill="#f3f3ff"/><rect x="880.3" fill="#efefff"/><rect x="889.9" fill="#e8e8ff"/><rect x="899.4" fill="#dbdbff"/><rect x="908.9" fill="#c6c6ff"/><rect x="918.4" fill="#a7a7ff"/><rect x="927.9" fill="#7e7eff"/><rect x="937.4" fill="#4f4fff"/><rect x="947.0" fill="#2222ff"/><rect x="956.5" fill="#0707ff"/><rect x="966.0" fill="#0808ff"/><rect x="975.5" fill="#2626ff"/><rect x="985.0" fill="#5353ff"/><rect x="994.6" fill="#8282ff"/><rect x="1004.1" fill="#aaaaff"/><rect x="1013.6" fill="#c8c8ff"/><rect x="1023.1" fill="#dcdcff"/><rect x="1032.6" fill="#e9e9ff"/><rect x="1042.1" fill="#efefff"/><rect x="1051.7" fill="#f3f3ff"/><rect x="1061.2" fill="#f4f4ff"/><rect x="1070.7" fill="#f5f5ff"/><rect x="1080.2" fill="#f5f5ff"/><rect x="1089.7" fill="#f5f5ff"/><rect x="1099.2" fill="#f5f5ff"/><rect x="1108.8" fill="#f5f5ff"/><rect x="1118.3" fill="#f5f5ff"/><rect x="1127.8" fill="#f5f5ff"/><rect x="1137.3" fill="#f5f5ff"/><rect x="1146.8" fill="#f5f5ff"/><rect x="1156.4" fill="#f5f5ff"/><rect x="1165.9" fill="#f5f5ff"/><rect x="1175.4" fill="#f5f5ff"/><rect x="1184.9" fill="#f5f5ff"/><rect x="1194.4" fill="#f5f5ff"/><rect x="1203.9" fill="#f6f6ff"/><rect x="1213.5" fill="#f7f7ff"/><rect x="1223.0" fill="#f9f9ff"/><rect x="1232.5" fill="#fafaff"/><rect x="1242.0" fill="#fafaff"/></g><g transform="translate(0 85.6)"><rect x="680.5" fill="#f8f8ff"/><rect x="690.0" fill="#f8f8ff"/><rect x="699.5" fill="#f6f6ff"/><rect x="709.0" fill="#f4f4ff"/><rect x="718.5" fill="#f2f2ff"/><rect x="728.1" fill="#f2f2ff"/><rect x="737.6" fill="#f2f2ff"/><rect x="747.1" fill="#f2f2ff"/><rect x="756.6" fill="#f2f2ff"/><rect x="766.1" fill="#f2f2ff"/><rect x="775.6" fill="#f2f2ff"/><rect x="785.2" fill="#f2f2ff"/><rect x="794.7" fill="#f2f2ff"/><rect x="804.2" fill="#f2f2ff"/><rect x="813.7" fill="#f2f2ff"/><rect x="823.2" fill="#f2f2ff"/><rect x="832.8" fill="#f2f2ff"/><rect x="842.3" fill="#f2f2ff"/><rect x="851.8" fill="#f1f1ff"/><rect x="861.3" fill="#f0f0ff"/><rect x="870.8" fill="#eeeeff"/><rect x="880.3" fill="#eaeaff"/><rect x="889.9" fill="#e1e1ff"/><rect x="899.4" fill="#d0d0ff"/><rect x="908.9" fill="#b4b4ff"/><rect x="918.4" fill="#8b8bff"/><rect x="927.9" fill="#5555ff"/><rect x="937.4" fill="#1616ff"/><rect x="947.0" fill="#2400db"/><rect x="956.5" fill="#4700b8"/><rect x="966.0" fill="#4500ba"/><rect x="975.5" fill="#1f00e0"/><rect x="985.0" fill="#1c1cff"/><rect x="994.6" fill="#5959ff"/><rect x="1004.1" fill="#8e8eff"/><rect x="1013.6" fill="#b6b6ff"/><rect x="1023.1" fill="#d1d1ff"/><rect x="1032.6" fill="#e1e1ff"/><rect x="1042.1" fill="#eaeaff"/><rect x="1051.7" fill="#efefff"/><rect x="1061.2" fill="#f1f1ff"/><rect x="1070.7" fill="#f1f1ff"/><rect x="1080.2" fill="#f2f2ff"/><rect x="1089.7" fill="#f2f2ff"/><rect x="1099.2" fill="#f2f2ff"/><rect x="1108.8" fill="#f2f2ff"/><rect x="1118.3" fill="#f2f2ff"/><rect x="1127.8" fill="#f2f2ff"/><rect x="1137.3" fill="#f2f2ff"/><rect x="1146.8" fill="#f2f2ff"/><rect x="1156.4" fill="#f2f2ff"/><rect x="1165.9" fill="#f2f2ff"/><rect x="1175.4" fill="#f2f2ff"/><rect x="1184.9" fill="#f2f2ff"/><rect x="1194.4" fill="#f2f2ff"/><rect x="1203.9" fill="#f3f3ff"/><rect x="1213.5" fill="#f4f4ff"/><rect x="1223.0" fill="#f7f7ff"/><rect x="1232.5" fill="#f8f8ff"/><rect x="1242.0" fill="#f8f8ff"/></g><g transform="translate(0 95.1)"><rect x="680.5" fill="#f6f6ff"/><rect x="690.0" fill="#f6f6ff"/><rect x="699.5" fill="#f4f4ff"/><rect x="709.0" fill="#f1f1ff"/><rect x="718.5" fill="#efefff"/><rect x="728.1" fill="#eeeeff"/><rect x="737.6" fill="#eeeeff"/><rect x="747.1" fill="#eeeeff"/><rect x="756.6" fill="#eeeeff"/><rect x="766.1" fill="#eeeeff"/><rect x="775.6" fill="#eeeeff"/><rect x="785.2" fill="#eeeeff"/><rect x="794.7" fill="#eeeeff"/><rect x="804.2" fill="#eeeeff"/><rect x="813.7" fill="#eeeeff"/><rect x="823.2" fill="#eeeeff"/><rect x="832.8" fill="#eeeeff"/><rect x="842.3" fill="#eeeeff"/><rect x="851.8" fill="#ededff"/><rect x="861.3" fill="#ececff"/><rect x="870.8" fill="#eaeaff"/><rect x="880.3" fill="#e4e4ff"/><rect x="889.9" fill="#d9d9ff"/><rect x="899.4" fill="#c4c4ff"/><rect x="908.9" fill="#a2a2ff"/><rect x="918.4" fill="#6f6fff"/><rect x="927.9" fill="#2d2dff"/><rect x="937.4" fill="#1f00e0"/><rect x="947.0" fill="#65009a"/><rect x="956.5" fill="#90006f"/><rect x="966.0" fill="#8e0071"/><rect x="975.5" fill="#60009f"/><rect x="985.0" fill="#1800e7"/><rect x="994.6" fill="#3333ff"/><rect x="1004.1" fill="#7474ff"/><rect x="1013.6" fill="#a5a5ff"/><rect x="1023.1" fill="#c6c6ff"/><rect x="1032.6" fill="#dadaff"/><rect x="1042.1" fill="#e5e5ff"/><rect x="1051.7" fill="#eaeaff"/><rect x="1061.2" fill="#ececff"/><rect x="1070.7" fill="#ededff"/><rect x="1080.2" fill="#eeeeff"/><rect x="1089.7" fill="#eeeeff"/><rect x="1099.2" fill="#eeeeff"/><rect x="1108.8" fill="#eeeeff"/><rect x="1118.3" fill="#eeeeff"/><rect x="1127.8" fill="#eeeeff"/><rect x="1137.3" fill="#eeeeff"/><rect x="1146.8" fill="#eeeeff"/><rect x="1156.4" fill="#eeeeff"/><rect x="1165.9" fill="#eeeeff"/><rect x="1175.4" fill="#eeeeff"/><rect x="1184.9" fill="#eeeeff"/><rect x="1194.4" fill="#eeeeff"/><rect x="1203.9" fill="#efefff"/><rect x="1213.5" fill="#f1f1ff"/><rect x="1223.0" fill="#f4f4ff"/><rect x="1232.5" fill="#f6f6ff"/><rect x="1242.0" fill="#f6f6ff"/></g><g transform="translate(0 104.6)"><rect x="680.5" fill="#f4f4ff"/><rect x="690.0" fill="#f4f4ff"/><rect x="699.5" fill="#f1f1ff"/><rect x="709.0" fill="#ededff"/><rect x="718.5" fill="#ebebff"/><rect x="728.1" fill="#eaeaff"/><rect x="737.6" fill="#eaeaff"/><rect x="747.1" fill="#eaeaff"/><rect x="756.6" fill="#eaeaff"/><rect x="766.1" fill="#eaeaff"/><rect x="775.6" fill="#eaeaff"/><rect x="785.2" fill="#eaeaff"/><rect x="794.7" fill="#eaeaff"/><rect x="804.2" fill="#eaeaff"/><rect x="813.7" fill="#eaeaff"/><rect x="823.2" fill="#eaeaff"/><rect x="832.8" fill="#eaeaff"/><rect x="842.3" fill="#eaeaff"/><rect x="851.8" fill="#e9e9ff"/><rect x="861.3" fill="#e8e8ff"/><rect x="870.8" fill="#e5e5ff"/><rect x="880.3" fill="#dfdfff"/><rect x="889.9" fill="#d2d2ff"/><rect x="899.4" fill="#babaff"/><rect x="908.9" fill="#9393ff"/><rect x="918.4" fill="#5959ff"/><rect x="927.9" fill="#0d0dff"/><rect x="937.4" fill="#4a00b5"/><rect x="947.0" fill="#9a0065"/><rect x="956.5" fill="#cb0034"/><rect x="966.0" fill="#c90036"/><rect x="975.5" fill="#94006b"/><rect x="985.0" fill="#4200bd"/><rect x="994.6" fill="#1313ff"/><rect x="1004.1" fill="#5e5eff"/><rect x="1013.6" fill="#9696ff"/><rect x="1023.1" fill="#bcbcff"/><rect x="1032.6" fill="#d3d3ff"/><rect x="1042.1" fill="#dfdfff"/><rect x="1051.7" fill="#e5e5ff"/><rect x="1061.2" fill="#e8e8ff"/><rect x="1070.7" fill="#e9e9ff"/><rect x="1080.2" fill="#eaeaff"/><rect x="1089.7" fill="#eaeaff"/><rect x="1099.2" fill="#eaeaff"/><rect x="1108.8" fill="#eaeaff"/><rect x="1118.3" fill="#eaeaff"/><rect x="1127.8" fill="#eaeaff"/><rect x="1137.3" fill="#eaeaff"/><rect x="1146.8" fill="#eaeaff"/><rect x="1156.4" fill="#eaeaff"/><rect x="1165.9" fill="#eaeaff"/><rect x="1175.4" fill="#eaeaff"/><rect x="1184.9" fill="#eaeaff"/><rect x="1194.4" fill="#eaeaff"/><rect x="1203.9" fill="#ebebff"/><rect x="1213.5" fill="#eeeeff"/><rect x="1223.0" fill="#f2f2ff"/><rect x="1232.5" fill="#f4f4ff"/><rect x="1242.0" fill="#f4f4ff"/></g><g transform="translate(0 114.1)"><rect x="680.5" fill="#f2f2ff"/><rect x="690.0" fill="#f2f2ff"/><rect x="699.5" fill="#eeeeff"/><rect x="709.0" fill="#eaeaff"/><rect x="718.5" fill="#e7e7ff"/><rect x="728.1" fill="#e6e6ff"/><rect x="737.6" fill="#e6e6ff"/><rect x="747.1" fill="#e6e6ff"/><rect x="756.6" fill="#e6e6ff"/><rect x="766.1" fill="#e6e6ff"/><rect x="775.6" fill="#e6e6ff"/><rect x="785.2" fill="#e6e6ff"/><rect x="794.7" fill="#e6e6ff"/><rect x="804.2" fill="#e6e6ff"/><rect x="813.7" fill="#e6e6ff"/><rect x="823.2" fill="#e6e6ff"/><rect x="832.8" fill="#e6e6ff"/><rect x="842.3" fill="#e5e5ff"/><rect x="851.8" fill="#e5e5ff"/><rect x="861.3" fill="#e4e4ff"/><rect x="870.8" fill="#e0e0ff"/><rect x="880.3" fill="#d9d9ff"/><rect x="889.9" fill="#cbcbff"/><rect x="899.4" fill="#b2b2ff"/><rect x="908.9" fill="#8888ff"/><rect x="918.4" fill="#4a4aff"/><rect x="927.9" fill="#0700f8"/><rect x="937.4" fill="#64009b"/><rect x="947.0" fill="#bb0044"/><rect x="956.5" fill="#ef0010"/><rect x="966.0" fill="#ec0013"/><rect x="975.5" fill="#b4004b"/><rect x="985.0" fill="#5c00a3"/><rect x="994.6" fill="#0000ff"/><rect x="1004.1" fill="#4f4fff"/><rect x="1013.6" fill="#8b8bff"/><rect x="1023.1" fill="#b4b4ff"/><rect x="1032.6" fill="#cdcdff"/><rect x="1042.1" fill="#dadaff"/><rect x="1051.7" fill="#e1e1ff"/><rect x="1061.2" fill="#e4e4ff"/><rect x="1070.7" fill="#e5e5ff"/><rect x="1080.2" fill="#e6e6ff"/><rect x="1089.7" fill="#e6e6ff"/><rect x="1099.2" fill="#e6e6ff"/><rect x="1108.8" fill="#e6e6ff"/><rect x="1118.3" fill="#e6e6ff"/><rect x="1127.8" fill="#e6e6ff"/><rect x="1137.3" fill="#e6e6ff"/><rect x="1146.8" fill="#e6e6ff"/><rect x="1156.4" fill="#e6e6ff"/><rect x="1165.9" fill="#e6e6ff"/><rect x="1175.4" fill="#e6e6ff"/><rect x="1184.9" fill="#e6e6ff"/><rect x="1194.4" fill="#e6e6ff"/><rect x="1203.9" fill="#e7e7ff"/><rect x="1213.5" fill="#eaeaff"/><rect x="1223.0" fill="#efefff"/><rect x="1232.5" fill="#f2f2ff"/><rect x="1242.0" fill="#f2f2ff"/></g><g transform="translate(0 123.6)"><rect x="680.5" fill="#f0f0ff"/><rect x="690.0" fill="#f0f0ff"/><rect x="699.5" fill="#ececff"/><rect x="709.0" fill="#e6e6ff"/><rect x="718.5" fill="#e3e3ff"/><rect x="728.1" fill="#e2e2ff"/><rect x="737.6" fill="#e2e2ff"/><rect x="747.1" fill="#e2e2ff"/><rect x="756.6" fill="#e2e2ff"/><rect x="766.1" fill="#e2e2ff"/><rect x="775.6" fill="#e2e2ff"/><rect x="785.2" fill="#e2e2ff"/><rect x="794.7" fill="#e2e2ff"/><rect x="804.2" fill="#e2e2ff"/><rect x="813.7" fill="#e2e2ff"/><rect x="823.2" fill="#e2e2ff"/><rect x="832.8" fill="#e2e2ff"/><rect x="842.3" fill="#e2e2ff"/><rect x="851.8" fill="#e1e1ff"/><rect x="861.3" fill="#e0e0ff"/><rect x="870.8" fill="#dcdcff"/><rect x="880.3" fill="#d5d5ff"/><rect x="889.9" fill="#c7c7ff"/><rect x="899.4" fill="#adadff"/><rect x="908.9" fill="#8383ff"/><rect x="918.4" fill="#4545ff"/><rect x="927.9" fill="#0d00f2"/><rect x="937.4" fill="#6b0094"/><rect x="947.0" fill="#c3003c"/><rect x="956.5" fill="#f80007"/><rect x="966.0" fill="#f5000a"/><rect x="975.5" fill="#bb0044"/><rect x="985.0" fill="#62009d"/><rect x="994.6" fill="#0500fa"/><rect x="1004.1" fill="#4a4aff"/><rect x="1013.6" fill="#8787ff"/><rect x="1023.1" fill="#afafff"/><rect x="1032.6" fill="#c8c8ff"/><rect x="1042.1" fill="#d6d6ff"/><rect x="1051.7" fill="#ddddff"/><rect x="1061.2" fill="#e0e0ff"/><rect x="1070.7" fill="#e1e1ff"/><rect x="1080.2" fill="#e2e2ff"/><rect x="1089.7" fill="#e2e2ff"/><rect x="1099.2" fill="#e2e2ff"/><rect x="1108.8" fill="#e2e2ff"/><rect x="1118.3" fill="#e2e2ff"/><rect x="1127.8" fill="#e2e2ff"/><rect x="1137.3" fill="#e2e2ff"/><rect x="1146.8" fill="#e2e2ff"/><rect x="1156.4" fill="#e2e2ff"/><rect x="1165.9" fill="#e2e2ff"/><rect x="1175.4" fill="#e2e2ff"/><rect x="1184.9" fill="#e2e2ff"/><rect x="1194.4" fill="#e2e2ff"/><rect x="1203.9" fill="#e4e4ff"/><rect x="1213.5" fill="#e7e7ff"/><rect x="1223.0" fill="#ededff"/><rect x="1232.5" fill="#f0f0ff"/><rect x="1242.0" fill="#f0f0ff"/></g><g transform="translate(0 133.2)"><rect x="680.5" fill="#efefff"/><rect x="690.0" fill="#efefff"/><rect x="699.5" fill="#eaeaff"/><rect x="709.0" fill="#e4e4ff"/><rect x="718.5" fill="#e0e0ff"/><rect x="728.1" fill="#dfdfff"/><rect x="737.6" fill="#dfdfff"/><rect x="747.1" fill="#dfdfff"/><rect x="756.6" fill="#dfdfff"/><rect x="766.1" fill="#dfdfff"/><rect x="775.6" fill="#dfdfff"/><rect x="785.2" fill="#dfdfff"/><rect x="794.7" fill="#dfdfff"/><rect x="804.2" fill="#dfdfff"/><rect x="813.7" fill="#dfdfff"/><rect x="823.2" fill="#dfdfff"/><rect x="832.8" fill="#dfdfff"/><rect x="842.3" fill="#dedeff"/><rect x="851.8" fill="#dedeff"/><rect x="861.3" fill="#dcdcff"/><rect x="870.8" fill="#d9d9ff"/><rect x="880.3" fill="#d2d2ff"/><rect x="889.9" fill="#c4c4ff"/><rect x="899.4" fill="#ababff"/><rect x="908.9" fill="#8383ff"/><rect x="918.4" fill="#4949ff"/><rect x="927.9" fill="#0500fa"/><rect x="937.4" fill="#5f00a0"/><rect x="947.0" fill="#b4004b"/><rect x="956.5" fill="#e80017"/><rect x="966.0" fill="#e5001a"/><rect x="975.5" fill="#ac0053"/><rect x="985.0" fill="#5600a9"/><rect x="994.6" fill="#0303ff"/><rect x="1004.1" fill="#4e4eff"/><rect x="1013.6" fill="#8787ff"/><rect x="1023.1" fill="#aeaeff"/><rect x="1032.6" fill="#c6c6ff"/><rect x="1042.1" fill="#d3d3ff"/><rect x="1051.7" fill="#d9d9ff"/><rect x="1061.2" fill="#ddddff"/><rect x="1070.7" fill="#dedeff"/><rect x="1080.2" fill="#dedeff"/><rect x="1089.7" fill="#dfdfff"/><rect x="1099.2" fill="#dfdfff"/><rect x="1108.8" fill="#dfdfff"/><rect x="1118.3" fill="#dfdfff"/><rect x="1127.8" fill="#dfdfff"/><rect x="1137.3" fill="#dfdfff"/><rect x="1146.8" fill="#dfdfff"/><rect x="1156.4" fill="#dfdfff"/><rect x="1165.9" fill="#dfdfff"/><rect x="1175.4" fill="#dfdfff"/><rect x="1184.9" fill="#dfdfff"/><rect x="1194.4" fill="#dfdfff"/><rect x="1203.9" fill="#e1e1ff"/><rect x="1213.5" fill="#e5e5ff"/><rect x="1223.0" fill="#ebebff"/><rect x="1232.5" fill="#efefff"/><rect x="1242.0" fill="#efefff"/></g><g transform="translate(0 142.7)"><rect x="680.5" fill="#eeeeff"/><rect x="690.0" fill="#eeeeff"/><rect x="699.5" fill="#e8e8ff"/><rect x="709.0" fill="#e2e2ff"/><rect x="718.5" fill="#dedeff"/><rect x="728.1" fill="#ddddff"/><rect x="737.6" fill="#dcdcff"/><rect x="747.1" fill="#dcdcff"/><rect x="756.6" fill="#dcdcff"/><rect x="766.1" fill="#dcdcff"/><rect x="775.6" fill="#dcdcff"/><rect x="785.2" fill="#dcdcff"/><rect x="794.7" fill="#dcdcff"/><rect x="804.2" fill="#dcdcff"/><rect x="813.7" fill="#dcdcff"/><rect x="823.2" fill="#dcdcff"/><rect x="832.8" fill="#dcdcff"/><rect x="842.3" fill="#dcdcff"/><rect x="851.8" fill="#dbdbff"/><rect x="861.3" fill="#dadaff"/><rect x="870.8" fill="#d7d7ff"/><rect x="880.3" fill="#d0d0ff"/><rect x="889.9" fill="#c3c3ff"/><rect x="899.4" fill="#adadff"/><rect x="908.9" fill="#8989ff"/><rect x="918.4" fill="#5454ff"/><rect x="927.9" fill="#0e0eff"/><rect x="937.4" fill="#4500ba"/><rect x="947.0" fill="#94006b"/><rect x="956.5" fill="#c4003b"/><rect x="966.0" fill="#c1003e"/><rect x="975.5" fill="#8c0073"/><rect x="985.0" fill="#3c00c3"/><rect x="994.6" fill="#1515ff"/><rect x="1004.1" fill="#5959ff"/><rect x="1013.6" fill="#8c8cff"/><rect x="1023.1" fill="#afafff"/><rect x="1032.6" fill="#c5c5ff"/><rect x="1042.1" fill="#d1d1ff"/><rect x="1051.7" fill="#d7d7ff"/><rect x="1061.2" fill="#dadaff"/><rect x="1070.7" fill="#dcdcff"/><rect x="1080.2" fill="#dcdcff"/><rect x="1089.7" fill="#dcdcff"/><rect x="1099.2" fill="#dcdcff"/><rect x="1108.8" fill="#dcdcff"/><rect x="1118.3" fill="#dcdcff"/><rect x="1127.8" fill="#dcdcff"/><rect x="1137.3" fill="#dcdcff"/><rect x="1146.8" fill="#dcdcff"/><rect x="1156.4" fill="#dcdcff"/><rect x="1165.9" fill="#dcdcff"/><rect x="1175.4" fill="#dcdcff"/><rect x="1184.9" fill="#ddddff"/><rect x="1194.4" fill="#ddddff"/><rect x="1203.9" fill="#dfdfff"/><rect x="1213.5" fill="#e3e3ff"/><rect x="1223.0" fill="#e9e9ff"/><rect x="1232.5" fill="#eeeeff"/><rect x="1242.0" fill="#eeeeff"/></g><g transform="translate(0 152.2)"><rect x="680.5" fill="#ededff"/><rect x="690.0" fill="#ededff"/><rect x="699.5" fill="#e7e7ff"/><rect x="709.0" fill="#e1e1ff"/><rect x="718.5" fill="#ddddff"/><rect x="728.1" fill="#dcdcff"/><rect x="737.6" fill="#dbdbff"/><rect x="747.1" fill="#dbdbff"/><rect x="756.6" fill="#dbdbff"/><rect x="766.1" fill="#dbdbff"/><rect x="775.6" fill="#dbdbff"/><rect x="785.2" fill="#dbdbff"/><rect x="794.7" fill="#dbdbff"/><rect x="804.2" fill="#dbdbff"/><rect x="813.7" fill="#dbdbff"/><rect x="823.2" fill="#dbdbff"/><rect x="832.8" fill="#dbdbff"/><rect x="842.3" fill="#dbdbff"/><rect x="851.8" fill="#dadaff"/><rect x="861.3" fill="#d9d9ff"/><rect x="870.8" fill="#d6d6ff"/><rect x="880.3" fill="#d0d0ff"/><rect x="889.9" fill="#c4c4ff"/><rect x="899.4" fill="#b0b0ff"/><rect x="908.9" fill="#9090ff"/><rect x="918.4" fill="#6363ff"/><rect x="927.9" fill="#2626ff"/><rect x="937.4" fill="#2300dc"/><rect x="947.0" fill="#6a0095"/><rect x="956.5" fill="#960069"/><rect x="966.0" fill="#93006c"/><rect x="975.5" fill="#63009c"/><rect x="985.0" fill="#1b00e4"/><rect x="994.6" fill="#2c2cff"/><rect x="1004.1" fill="#6868ff"/><rect x="1013.6" fill="#9494ff"/><rect x="1023.1" fill="#b2b2ff"/><rect x="1032.6" fill="#c5c5ff"/><rect x="1042.1" fill="#d0d0ff"/><rect x="1051.7" fill="#d6d6ff"/><rect x="1061.2" fill="#d9d9ff"/><rect x="1070.7" fill="#dadaff"/><rect x="1080.2" fill="#dbdbff"/><rect x="1089.7" fill="#dbdbff"/><rect x="1099.2" fill="#dbdbff"/><rect x="1108.8" fill="#dbdbff"/><rect x="1118.3" fill="#dbdbff"/><rect x="1127.8" fill="#dbdbff"/><rect x="1137.3" fill="#dbdbff"/><rect x="1146.8" fill="#dbdbff"/><rect x="1156.4" fill="#dbdbff"/><rect x="1165.9" fill="#dbdbff"/><rect x="1175.4" fill="#dbdbff"/><rect x="1184.9" fill="#dbdbff"/><rect x="1194.4" fill="#dcdcff"/><rect x="1203.9" fill="#ddddff"/><rect x="1213.5" fill="#e2e2ff"/><rect x="1223.0" fill="#e9e9ff"/><rect x="1232.5" fill="#ededff"/><rect x="1242.0" fill="#ededff"/></g><g transform="translate(0 161.7)"><rect x="680.5" fill="#ededff"/><rect x="690.0" fill="#ededff"/><rect x="699.5" fill="#e7e7ff"/><rect x="709.0" fill="#e0e0ff"/><rect x="718.5" fill="#dcdcff"/><rect x="728.1" fill="#dbdbff"/><rect x="737.6" fill="#dbdbff"/><rect x="747.1" fill="#dadaff"/><rect x="756.6" fill="#dadaff"/><rect x="766.1" fill="#dadaff"/><rect x="775.6" fill="#dadaff"/><rect x="785.2" fill="#dadaff"/><rect x="794.7" fill="#dadaff"/><rect x="804.2" fill="#dadaff"/><rect x="813.7" fill="#dadaff"/><rect x="823.2" fill="#dadaff"/><rect x="832.8" fill="#dadaff"/><rect x="842.3" fill="#dadaff"/><rect x="851.8" fill="#d9d9ff"/><rect x="861.3" fill="#d8d8ff"/><rect x="870.8" fill="#d5d5ff"/><rect x="880.3" fill="#d0d0ff"/><rect x="889.9" fill="#c5c5ff"/><rect x="899.4" fill="#b4b4ff"/><rect x="908.9" fill="#9999ff"/><rect x="918.4" fill="#7272ff"/><rect x="927.9" fill="#3e3eff"/><rect x="937.4" fill="#0100fe"/><rect x="947.0" fill="#3f00c0"/><rect x="956.5" fill="#670098"/><rect x="966.0" fill="#64009b"/><rect x="975.5" fill="#3800c7"/><rect x="985.0" fill="#0707ff"/><rect x="994.6" fill="#4444ff"/><rect x="1004.1" fill="#7777ff"/><rect x="1013.6" fill="#9c9cff"/><rect x="1023.1" fill="#b6b6ff"/><rect x="1032.6" fill="#c7c7ff"/><rect x="1042.1" fill="#d0d0ff"/><rect x="1051.7" fill="#d6d6ff"/><rect x="1061.2" fill="#d8d8ff"/><rect x="1070.7" fill="#dadaff"/><rect x="1080.2" fill="#dadaff"/><rect x="1089.7" fill="#dadaff"/><rect x="1099.2" fill="#dadaff"/><rect x="1108.8" fill="#dadaff"/><rect x="1118.3" fill="#dadaff"/><rect x="1127.8" fill="#dadaff"/><rect x="1137.3" fill="#dadaff"/><rect x="1146.8" fill="#dadaff"/><rect x="1156.4" fill="#dadaff"/><rect x="1165.9" fill="#dadaff"/><rect x="1175.4" fill="#dadaff"/><rect x="1184.9" fill="#dbdbff"/><rect x="1194.4" fill="#dbdbff"/><rect x="1203.9" fill="#ddddff"/><rect x="1213.5" fill="#e1e1ff"/><rect x="1223.0" fill="#e8e8ff"/><rect x="1232.5" fill="#ededff"/><rect x="1242.0" fill="#ededff"/></g><g transform="translate(0 171.2)"><rect x="680.5" fill="#ededff"/><rect x="690.0" fill="#ededff"/><rect x="699.5" fill="#e7e7ff"/><rect x="709.0" fill="#e0e0ff"/><rect x="718.5" fill="#dcdcff"/><rect x="728.1" fill="#dbdbff"/><rect x="737.6" fill="#dadaff"/><rect x="747.1" fill="#dadaff"/><rect x="756.6" fill="#dadaff"/><rect x="766.1" fill="#dadaff"/><rect x="775.6" fill="#dadaff"/><rect x="785.2" fill="#dadaff"/><rect x="794.7" fill="#dadaff"/><rect x="804.2" fill="#dadaff"/><rect x="813.7" fill="#dadaff"/><rect x="823.2" fill="#dadaff"/><rect x="832.8" fill="#dadaff"/><rect x="842.3" fill="#dadaff"/><rect x="851.8" fill="#d9d9ff"/><rect x="861.3" fill="#d8d8ff"/><rect x="870.8" fill="#d5d5ff"/><rect x="880.3" fill="#d0d0ff"/><rect x="889.9" fill="#c6c6ff"/><rect x="899.4" fill="#b7b7ff"/><rect x="908.9" fill="#a0a0ff"/><rect x="918.4" fill="#7f7fff"/><rect x="927.9" fill="#5353ff"/><rect x="937.4" fill="#1d1dff"/><rect x="947.0" fill="#1a00e5"/><rect x="956.5" fill="#3d00c2"/><rect x="966.0" fill="#3a00c5"/><rect x="975.5" fill="#1300ec"/><rect x="985.0" fill="#2424ff"/><rect x="994.6" fill="#5959ff"/><rect x="1004.1" fill="#8383ff"/><rect x="1013.6" fill="#a3a3ff"/><rect x="1023.1" fill="#b9b9ff"/><rect x="1032.6" fill="#c8c8ff"/><rect x="1042.1" fill="#d1d1ff"/><rect x="1051.7" fill="#d6d6ff"/><rect x="1061.2" fill="#d8d8ff"/><rect x="1070.7" fill="#d9d9ff"/><rect x="1080.2" fill="#dadaff"/><rect x="1089.7" fill="#dadaff"/><rect x="1099.2" fill="#dadaff"/><rect x="1108.8" fill="#dadaff"/><rect x="1118.3" fill="#dadaff"/><rect x="1127.8" fill="#dadaff"/><rect x="1137.3" fill="#dadaff"/><rect x="1146.8" fill="#dadaff"/><rect x="1156.4" fill="#dadaff"/><rect x="1165.9" fill="#dadaff"/><rect x="1175.4" fill="#dadaff"/><rect x="1184.9" fill="#dadaff"/><rect x="1194.4" fill="#dbdbff"/><rect x="1203.9" fill="#ddddff"/><rect x="1213.5" fill="#e1e1ff"/><rect x="1223.0" fill="#e8e8ff"/><rect x="1232.5" fill="#ededff"/><rect x="1242.0" fill="#ededff"/></g><g transform="translate(0 180.8)"><rect x="680.5" fill="#ececff"/><rect x="690.0" fill="#ececff"/><rect x="699.5" fill="#e6e6ff"/><rect x="709.0" fill="#dfdfff"/><rect x="718.5" fill="#dcdcff"/><rect x="728.1" fill="#dadaff"/><rect x="737.6" fill="#dadaff"/><rect x="747.1" fill="#dadaff"/><rect x="756.6" fill="#dadaff"/><rect x="766.1" fill="#dadaff"/><rect x="775.6" fill="#dadaff"/><rect x="785.2" fill="#dadaff"/><rect x="794.7" fill="#dadaff"/><rect x="804.2" fill="#dadaff"/><rect x="813.7" fill="#dadaff"/><rect x="823.2" fill="#dadaff"/><rect x="832.8" fill="#d9d9ff"/><rect x="842.3" fill="#d9d9ff"/><rect x="851.8" fill="#d9d9ff"/><rect x="861.3" fill="#d7d7ff"/><rect x="870.8" fill="#d5d5ff"/><rect x="880.3" fill="#d0d0ff"/><rect x="889.9" fill="#c7c7ff"/><rect x="899.4" fill="#b9b9ff"/><rect x="908.9" fill="#a5a5ff"/><rect x="918.4" fill="#8888ff"/><rect x="927.9" fill="#6262ff"/><rect x="937.4" fill="#3333ff"/><rect x="947.0" fill="#0202ff"/><rect x="956.5" fill="#1d00e2"/><rect x="966.0" fill="#1a00e5"/><rect x="975.5" fill="#0909ff"/><rect x="985.0" fill="#3a3aff"/><rect x="994.6" fill="#6868ff"/><rect x="1004.1" fill="#8c8cff"/><rect x="1013.6" fill="#a8a8ff"/><rect x="1023.1" fill="#bbbbff"/><rect x="1032.6" fill="#c8c8ff"/><rect x="1042.1" fill="#d0d0ff"/><rect x="1051.7" fill="#d5d5ff"/><rect x="1061.2" fill="#d7d7ff"/><rect x="1070.7" fill="#d9d9ff"/><rect x="1080.2" fill="#d9d9ff"/><rect x="1089.7" fill="#d9d9ff"/><rect x="1099.2" fill="#d9d9ff"/><rect x="1108.8" fill="#d9d9ff"/><rect x="1118.3" fill="#d9d9ff"/><rect x="1127.8" fill="#d9d9ff"/><rect x="1137.3" fill="#d9d9ff"/><rect x="1146.8" fill="#dadaff"/><rect x="1156.4" fill="#dadaff"/><rect x="1165.9" fill="#dadaff"/><rect x="1175.4" fill="#dadaff"/><rect x="1184.9" fill="#dadaff"/><rect x="1194.4" fill="#dadaff"/><rect x="1203.9" fill="#dcdcff"/><rect x="1213.5" fill="#e0e0ff"/><rect x="1223.0" fill="#e8e8ff"/><rect x="1232.5" fill="#ececff"/><rect x="1242.0" fill="#ececff"/></g><g transform="translate(0 190.3)"><rect x="680.5" fill="#ececff"/><rect x="690.0" fill="#ececff"/><rect x="699.5" fill="#e6e6ff"/><rect x="709.0" fill="#dfdfff"/><rect x="718.5" fill="#dbdbff"/><rect x="728.1" fill="#d9d9ff"/><rect x="737.6" fill="#d9d9ff"/><rect x="747.1" fill="#d9d9ff"/><rect x="756.6" fill="#d9d9ff"/><rect x="766.1" fill="#d9d9ff"/><rect x="775.6" fill="#d9d9ff"/><rect x="785.2" fill="#d9d9ff"/><rect x="794.7" fill="#d9d9ff"/><rect x="804.2" fill="#d9d9ff"/><rect x="813.7" fill="#d9d9ff"/><rect x="823.2" fill="#d8d8ff"/><rect x="832.8" fill="#d8d8ff"/><rect x="842.3" fill="#d8d8ff"/><rect x="851.8" fill="#d7d7ff"/><rect x="861.3" fill="#d6d6ff"/><rect x="870.8" fill="#d3d3ff"/><rect x="880.3" fill="#ceceff"/><rect x="889.9" fill="#c6c6ff"/><rect x="899.4" fill="#b9b9ff"/><rect x="908.9" fill="#a7a7ff"/><rect x="918.4" fill="#8d8dff"/><rect x="927.9" fill="#6b6bff"/><rect x="937.4" fill="#4141ff"/><rect x="947.0" fill="#1616ff"/><rect x="956.5" fill="#0700f8"/><rect x="966.0" fill="#0400fb"/><rect x="975.5" fill="#1c1cff"/><rect x="985.0" fill="#4848ff"/><rect x="994.6" fill="#7171ff"/><rect x="1004.1" fill="#9191ff"/><rect x="1013.6" fill="#aaaaff"/><rect x="1023.1" fill="#bcbcff"/><rect x="1032.6" fill="#c8c8ff"/><rect x="1042.1" fill="#cfcfff"/><rect x="1051.7" fill="#d4d4ff"/><rect x="1061.2" fill="#d6d6ff"/><rect x="1070.7" fill="#d7d7ff"/><rect x="1080.2" fill="#d8d8ff"/><rect x="1089.7" fill="#d8d8ff"/><rect x="1099.2" fill="#d8d8ff"/><rect x="1108.8" fill="#d8d8ff"/><rect x="1118.3" fill="#d8d8ff"/><rect x="1127.8" fill="#d8d8ff"/><rect x="1137.3" fill="#d8d8ff"/><rect x="1146.8" fill="#d8d8ff"/><rect x="1156.4" fill="#d8d8ff"/><rect x="1165.9" fill="#d8d8ff"/><rect x="1175.4" fill="#d9d9ff"/><rect x="1184.9" fill="#d9d9ff"/><rect x="1194.4" fill="#d9d9ff"/><rect x="1203.9" fill="#dbdbff"/><rect x="1213.5" fill="#e0e0ff"/><rect x="1223.0" fill="#e7e7ff"/><rect x="1232.5" fill="#ececff"/><rect x="1242.0" fill="#ececff"/></g><g transform="translate(0 199.8)"><rect x="680.5" fill="#ebebff"/><rect x="690.0" fill="#ebebff"/><rect x="699.5" fill="#e4e4ff"/><rect x="709.0" fill="#ddddff"/><rect x="718.5" fill="#d9d9ff"/><rect x="728.1" fill="#d7d7ff"/><rect x="737.6" fill="#d7d7ff"/><rect x="747.1" fill="#d7d7ff"/><rect x="756.6" fill="#d7d7ff"/><rect x="766.1" fill="#d7d7ff"/><rect x="775.6" fill="#d7d7ff"/><rect x="785.2" fill="#d7d7ff"/><rect x="794.7" fill="#d7d7ff"/><rect x="804.2" fill="#d7d7ff"/><rect x="813.7" fill="#d7d7ff"/><rect x="823.2" fill="#d6d6ff"/><rect x="832.8" fill="#d6d6ff"/><rect x="842.3" fill="#d6d6ff"/><rect x="851.8" fill="#d5d5ff"/><rect x="861.3" fill="#d4d4ff"/><rect x="870.8" fill="#d1d1ff"/><rect x="880.3" fill="#ccccff"/><rect x="889.9" fill="#c4c4ff"/><rect x="899.4" fill="#b8b8ff"/><rect x="908.9" fill="#a6a6ff"/><rect x="918.4" fill="#8f8fff"/><rect x="927.9" fill="#6f6fff"/><rect x="937.4" fill="#4949ff"/><rect x="947.0" fill="#2121ff"/><rect x="956.5" fill="#0707ff"/><rect x="966.0" fill="#0a0aff"/><rect x="975.5" fill="#2727ff"/><rect x="985.0" fill="#4f4fff"/><rect x="994.6" fill="#7575ff"/><rect x="1004.1" fill="#9393ff"/><rect x="1013.6" fill="#a9a9ff"/><rect x="1023.1" fill="#babaff"/><rect x="1032.6" fill="#c6c6ff"/><rect x="1042.1" fill="#cdcdff"/><rect x="1051.7" fill="#d2d2ff"/><rect x="1061.2" fill="#d4d4ff"/><rect x="1070.7" fill="#d5d5ff"/><rect x="1080.2" fill="#d5d5ff"/><rect x="1089.7" fill="#d5d5ff"/><rect x="1099.2" fill="#d5d5ff"/><rect x="1108.8" fill="#d5d5ff"/><rect x="1118.3" fill="#d6d6ff"/><rect x="1127.8" fill="#d6d6ff"/><rect x="1137.3" fill="#d6d6ff"/><rect x="1146.8" fill="#d6d6ff"/><rect x="1156.4" fill="#d6d6ff"/><rect x="1165.9" fill="#d6d6ff"/><rect x="1175.4" fill="#d7d7ff"/><rect x="1184.9" fill="#d7d7ff"/><rect x="1194.4" fill="#d7d7ff"/><rect x="1203.9" fill="#d9d9ff"/><rect x="1213.5" fill="#dedeff"/><rect x="1223.0" fill="#e6e6ff"/><rect x="1232.5" fill="#ebebff"/><rect x="1242.0" fill="#ebebff"/></g><g transform="translate(0 209.3)"><rect x="680.5" fill="#e9e9ff"/><rect x="690.0" fill="#e9e9ff"/><rect x="699.5" fill="#e2e2ff"/><rect x="709.0" fill="#dadaff"/><rect x="718.5" fill="#d6d6ff"/><rect x="728.1" fill="#d4d4ff"/><rect x="737.6" fill="#d4d4ff"/><rect x="747.1" fill="#d4d4ff"/><rect x="756.6" fill="#d4d4ff"/><rect x="766.1" fill="#d4d4ff"/><rect x="775.6" fill="#d4d4ff"/><rect x="785.2" fill="#d4d4ff"/><rect x="794.7" fill="#d4d4ff"/><rect x="804.2" fill="#d4d4ff"/><rect x="813.7" fill="#d4d4ff"/><rect x="823.2" fill="#d4d4ff"/><rect x="832.8" fill="#d3d3ff"/><rect x="842.3" fill="#d3d3ff"/><rect x="851.8" fill="#d2d2ff"/><rect x="861.3" fill="#d1d1ff"/><rect x="870.8" fill="#ceceff"/><rect x="880.3" fill="#c9c9ff"/><rect x="889.9" fill="#c1c1ff"/><rect x="899.4" fill="#b5b5ff"/><rect x="908.9" fill="#a4a4ff"/><rect x="918.4" fill="#8d8dff"/><rect x="927.9" fill="#7070ff"/><rect x="937.4" fill="#4b4bff"/><rect x="947.0" fill="#2727ff"/><rect x="956.5" fill="#0f0fff"/><rect x="966.0" fill="#1111ff"/><rect x="975.5" fill="#2c2cff"/><rect x="985.0" fill="#5252ff"/><rect x="994.6" fill="#7575ff"/><rect x="1004.1" fill="#9191ff"/><rect x="1013.6" fill="#a7a7ff"/><rect x="1023.1" fill="#b7b7ff"/><rect x="1032.6" fill="#c3c3ff"/><rect x="1042.1" fill="#cacaff"/><rect x="1051.7" fill="#cfcfff"/><rect x="1061.2" fill="#d1d1ff"/><rect x="1070.7" fill="#d2d2ff"/><rect x="1080.2" fill="#d2d2ff"/><rect x="1089.7" fill="#d2d2ff"/><rect x="1099.2" fill="#d2d2ff"/><rect x="1108.8" fill="#d2d2ff"/><rect x="1118.3" fill="#d2d2ff"/><rect x="1127.8" fill="#d2d2ff"/><rect x="1137.3" fill="#d3d3ff"/><rect x="1146.8" fill="#d3d3ff"/><rect x="1156.4" fill="#d3d3ff"/><rect x="1165.9" fill="#d3d3ff"/><rect x="1175.4" fill="#d4d4ff"/><rect x="1184.9" fill="#d4d4ff"/><rect x="1194.4" fill="#d4d4ff"/><rect x="1203.9" fill="#d7d7ff"/><rect x="1213.5" fill="#dbdbff"/><rect x="1223.0" fill="#e4e4ff"/><rect x="1232.5" fill="#e9e9ff"/><rect x="1242.0" fill="#e9e9ff"/></g><g transform="translate(0 218.8)"><rect x="680.5" fill="#e7e7ff"/><rect x="690.0" fill="#e7e7ff"/><rect x="699.5" fill="#e0e0ff"/><rect x="709.0" fill="#d7d7ff"/><rect x="718.5" fill="#d2d2ff"/><rect x="728.1" fill="#d0d0ff"/><rect x="737.6" fill="#d0d0ff"/><rect x="747.1" fill="#d0d0ff"/><rect x="756.6" fill="#d0d0ff"/><rect x="766.1" fill="#d0d0ff"/><rect x="775.6" fill="#d0d0ff"/><rect x="785.2" fill="#d0d0ff"/><rect x="794.7" fill="#d0d0ff"/><rect x="804.2" fill="#d0d0ff"/><rect x="813.7" fill="#d0d0ff"/><rect x="823.2" fill="#d0d0ff"/><rect x="832.8" fill="#d0d0ff"/><rect x="842.3" fill="#cfcfff"/><rect x="851.8" fill="#ceceff"/><rect x="861.3" fill="#cdcdff"/><rect x="870.8" fill="#cacaff"/><rect x="880.3" fill="#c5c5ff"/><rect x="889.9" fill="#bdbdff"/><rect x="899.4" fill="#b1b1ff"/><rect x="908.9" fill="#a0a0ff"/><rect x="918.4" fill="#8a8aff"/><rect x="927.9" fill="#6d6dff"/><rect x="937.4" fill="#4b4bff"/><rect x="947.0" fill="#2929ff"/><rect x="956.5" fill="#1313ff"/><rect x="966.0" fill="#1515ff"/><rect x="975.5" fill="#2e2eff"/><rect x="985.0" fill="#5151ff"/><rect x="994.6" fill="#7373ff"/><rect x="1004.1" fill="#8e8eff"/><rect x="1013.6" fill="#a3a3ff"/><rect x="1023.1" fill="#b3b3ff"/><rect x="1032.6" fill="#bfbfff"/><rect x="1042.1" fill="#c6c6ff"/><rect x="1051.7" fill="#cacaff"/><rect x="1061.2" fill="#cdcdff"/><rect x="1070.7" fill="#cdcdff"/><rect x="1080.2" fill="#cdcdff"/><rect x="1089.7" fill="#cdcdff"/><rect x="1099.2" fill="#ccccff"/><rect x="1108.8" fill="#ccccff"/><rect x="1118.3" fill="#cdcdff"/><rect x="1127.8" fill="#cdcdff"/><rect x="1137.3" fill="#ceceff"/><rect x="1146.8" fill="#cfcfff"/><rect x="1156.4" fill="#cfcfff"/><rect x="1165.9" fill="#cfcfff"/><rect x="1175.4" fill="#d0d0ff"/><rect x="1184.9" fill="#d0d0ff"/><rect x="1194.4" fill="#d1d1ff"/><rect x="1203.9" fill="#d3d3ff"/><rect x="1213.5" fill="#d8d8ff"/><rect x="1223.0" fill="#e1e1ff"/><rect x="1232.5" fill="#e7e7ff"/><rect x="1242.0" fill="#e7e7ff"/></g><g transform="translate(0 228.3)"><rect x="680.5" fill="#e5e5ff"/><rect x="690.0" fill="#e5e5ff"/><rect x="699.5" fill="#ddddff"/><rect x="709.0" fill="#d3d3ff"/><rect x="718.5" fill="#ceceff"/><rect x="728.1" fill="#ccccff"/><rect x="737.6" fill="#cbcbff"/><rect x="747.1" fill="#cbcbff"/><rect x="756.6" fill="#cbcbff"/><rect x="766.1" fill="#cbcbff"/><rect x="775.6" fill="#cbcbff"/><rect x="785.2" fill="#cbcbff"/><rect x="794.7" fill="#cbcbff"/><rect x="804.2" fill="#cbcbff"/><rect x="813.7" fill="#cbcbff"/><rect x="823.2" fill="#cbcbff"/><rect x="832.8" fill="#cbcbff"/><rect x="842.3" fill="#cbcbff"/><rect x="851.8" fill="#cacaff"/><rect x="861.3" fill="#c8c8ff"/><rect x="870.8" fill="#c6c6ff"/><rect x="880.3" fill="#c1c1ff"/><rect x="889.9" fill="#b8b8ff"/><rect x="899.4" fill="#acacff"/><rect x="908.9" fill="#9b9bff"/><rect x="918.4" fill="#8686ff"/><rect x="927.9" fill="#6a6aff"/><rect x="937.4" fill="#4a4aff"/><rect x="947.0" fill="#2a2aff"/><rect x="956.5" fill="#1616ff"/><rect x="966.0" fill="#1818ff"/><rect x="975.5" fill="#2f2fff"/><rect x="985.0" fill="#4f4fff"/><rect x="994.6" fill="#6f6fff"/><rect x="1004.1" fill="#8a8aff"/><rect x="1013.6" fill="#9f9fff"/><rect x="1023.1" fill="#afafff"/><rect x="1032.6" fill="#babaff"/><rect x="1042.1" fill="#c1c1ff"/><rect x="1051.7" fill="#c6c6ff"/><rect x="1061.2" fill="#c8c8ff"/><rect x="1070.7" fill="#c8c8ff"/><rect x="1080.2" fill="#c8c8ff"/><rect x="1089.7" fill="#c7c7ff"/><rect x="1099.2" fill="#c6c6ff"/><rect x="1108.8" fill="#c6c6ff"/><rect x="1118.3" fill="#c6c6ff"/><rect x="1127.8" fill="#c7c7ff"/><rect x="1137.3" fill="#c8c8ff"/><rect x="1146.8" fill="#c9c9ff"/><rect x="1156.4" fill="#cacaff"/><rect x="1165.9" fill="#cbcbff"/><rect x="1175.4" fill="#cbcbff"/><rect x="1184.9" fill="#cbcbff"/><rect x="1194.4" fill="#ccccff"/><rect x="1203.9" fill="#cfcfff"/><rect x="1213.5" fill="#d4d4ff"/><rect x="1223.0" fill="#dfdfff"/><rect x="1232.5" fill="#e5e5ff"/><rect x="1242.0" fill="#e5e5ff"/></g><g transform="translate(0 237.9)"><rect x="680.5" fill="#e3e3ff"/><rect x="690.0" fill="#e3e3ff"/><rect x="699.5" fill="#d9d9ff"/><rect x="709.0" fill="#cfcfff"/><rect x="718.5" fill="#c9c9ff"/><rect x="728.1" fill="#c7c7ff"/><rect x="737.6" fill="#c6c6ff"/><rect x="747.1" fill="#c6c6ff"/><rect x="756.6" fill="#c6c6ff"/><rect x="766.1" fill="#c6c6ff"/><rect x="775.6" fill="#c6c6ff"/><rect x="785.2" fill="#c6c6ff"/><rect x="794.7" fill="#c6c6ff"/><rect x="804.2" fill="#c6c6ff"/><rect x="813.7" fill="#c6c6ff"/><rect x="823.2" fill="#c6c6ff"/><rect x="832.8" fill="#c6c6ff"/><rect x="842.3" fill="#c6c6ff"/><rect x="851.8" fill="#c5c5ff"/><rect x="861.3" fill="#c3c3ff"/><rect x="870.8" fill="#c1c1ff"/><rect x="880.3" fill="#bcbcff"/><rect x="889.9" fill="#b4b4ff"/><rect x="899.4" fill="#a7a7ff"/><rect x="908.9" fill="#9797ff"/><rect x="918.4" fill="#8181ff"/><rect x="927.9" fill="#6767ff"/><rect x="937.4" fill="#4848ff"/><rect x="947.0" fill="#2b2bff"/><rect x="956.5" fill="#1818ff"/><rect x="966.0" fill="#1a1aff"/><rect x="975.5" fill="#2f2fff"/><rect x="985.0" fill="#4d4dff"/><rect x="994.6" fill="#6c6cff"/><rect x="1004.1" fill="#8585ff"/><rect x="1013.6" fill="#9a9aff"/><rect x="1023.1" fill="#aaaaff"/><rect x="1032.6" fill="#b5b5ff"/><rect x="1042.1" fill="#bcbcff"/><rect x="1051.7" fill="#c0c0ff"/><rect x="1061.2" fill="#c2c2ff"/><rect x="1070.7" fill="#c2c2ff"/><rect x="1080.2" fill="#c1c1ff"/><rect x="1089.7" fill="#c0c0ff"/><rect x="1099.2" fill="#bfbfff"/><rect x="1108.8" fill="#bfbfff"/><rect x="1118.3" fill="#c0c0ff"/><rect x="1127.8" fill="#c1c1ff"/><rect x="1137.3" fill="#c2c2ff"/><rect x="1146.8" fill="#c4c4ff"/><rect x="1156.4" fill="#c5c5ff"/><rect x="1165.9" fill="#c5c5ff"/><rect x="1175.4" fill="#c6c6ff"/><rect x="1184.9" fill="#c6c6ff"/><rect x="1194.4" fill="#c7c7ff"/><rect x="1203.9" fill="#cacaff"/><rect x="1213.5" fill="#d0d0ff"/><rect x="1223.0" fill="#dbdbff"/><rect x="1232.5" fill="#e3e3ff"/><rect x="1242.0" fill="#e3e3ff"/></g><g transform="translate(0 247.4)"><rect x="680.5" fill="#e0e0ff"/><rect x="690.0" fill="#e0e0ff"/><rect x="699.5" fill="#d6d6ff"/><rect x="709.0" fill="#cbcbff"/><rect x="718.5" fill="#c5c5ff"/><rect x="728.1" fill="#c2c2ff"/><rect x="737.6" fill="#c1c1ff"/><rect x="747.1" fill="#c1c1ff"/><rect x="756.6" fill="#c1c1ff"/><rect x="766.1" fill="#c1c1ff"/><rect x="775.6" fill="#c1c1ff"/><rect x="785.2" fill="#c1c1ff"/><rect x="794.7" fill="#c1c1ff"/><rect x="804.2" fill="#c1c1ff"/><rect x="813.7" fill="#c1c1ff"/><rect x="823.2" fill="#c1c1ff"/><rect x="832.8" fill="#c1c1ff"/><rect x="842.3" fill="#c1c1ff"/><rect x="851.8" fill="#c0c0ff"/><rect x="861.3" fill="#bfbfff"/><rect x="870.8" fill="#bcbcff"/><rect x="880.3" fill="#b7b7ff"/><rect x="889.9" fill="#afafff"/><rect x="899.4" fill="#a3a3ff"/><rect x="908.9" fill="#9393ff"/><rect x="918.4" fill="#7e7eff"/><rect x="927.9" fill="#6464ff"/><rect x="937.4" fill="#4848ff"/><rect x="947.0" fill="#2c2cff"/><rect x="956.5" fill="#1c1cff"/><rect x="966.0" fill="#1d1dff"/><rect x="975.5" fill="#3131ff"/><rect x="985.0" fill="#4d4dff"/><rect x="994.6" fill="#6969ff"/><rect x="1004.1" fill="#8282ff"/><rect x="1013.6" fill="#9696ff"/><rect x="1023.1" fill="#a5a5ff"/><rect x="1032.6" fill="#b0b0ff"/><rect x="1042.1" fill="#b7b7ff"/><rect x="1051.7" fill="#bbbbff"/><rect x="1061.2" fill="#bdbdff"/><rect x="1070.7" fill="#bdbdff"/><rect x="1080.2" fill="#bbbbff"/><rect x="1089.7" fill="#babaff"/><rect x="1099.2" fill="#b8b8ff"/><rect x="1108.8" fill="#b8b8ff"/><rect x="1118.3" fill="#b9b9ff"/><rect x="1127.8" fill="#babaff"/><rect x="1137.3" fill="#bcbcff"/><rect x="1146.8" fill="#bebeff"/><rect x="1156.4" fill="#bfbfff"/><rect x="1165.9" fill="#c0c0ff"/><rect x="1175.4" fill="#c1c1ff"/><rect x="1184.9" fill="#c1c1ff"/><rect x="1194.4" fill="#c2c2ff"/><rect x="1203.9" fill="#c5c5ff"/><rect x="1213.5" fill="#ccccff"/><rect x="1223.0" fill="#d8d8ff"/><rect x="1232.5" fill="#e0e0ff"/><rect x="1242.0" fill="#e0e0ff"/></g><g transform="translate(0 256.9)"><rect x="680.5" fill="#dedeff"/><rect x="690.0" fill="#dedeff"/><rect x="699.5" fill="#d3d3ff"/><rect x="709.0" fill="#c7c7ff"/><rect x="718.5" fill="#c0c0ff"/><rect x="728.1" fill="#bebeff"/><rect x="737.6" fill="#bdbdff"/><rect x="747.1" fill="#bdbdff"/><rect x="756.6" fill="#bdbdff"/><rect x="766.1" fill="#bdbdff"/><rect x="775.6" fill="#bdbdff"/><rect x="785.2" fill="#bdbdff"/><rect x="794.7" fill="#bdbdff"/><rect x="804.2" fill="#bdbdff"/><rect x="813.7" fill="#bdbdff"/><rect x="823.2" fill="#bdbdff"/><rect x="832.8" fill="#bdbdff"/><rect x="842.3" fill="#bcbcff"/><rect x="851.8" fill="#bcbcff"/><rect x="861.3" fill="#babaff"/><rect x="870.8" fill="#b8b8ff"/><rect x="880.3" fill="#b3b3ff"/><rect x="889.9" fill="#ababff"/><rect x="899.4" fill="#9f9fff"/><rect x="908.9" fill="#9090ff"/><rect x="918.4" fill="#7b7bff"/><rect x="927.9" fill="#6363ff"/><rect x="937.4" fill="#4848ff"/><rect x="947.0" fill="#3030ff"/><rect x="956.5" fill="#2121ff"/><rect x="966.0" fill="#2222ff"/><rect x="975.5" fill="#3333ff"/><rect x="985.0" fill="#4d4dff"/><rect x="994.6" fill="#6767ff"/><rect x="1004.1" fill="#7f7fff"/><rect x="1013.6" fill="#9393ff"/><rect x="1023.1" fill="#a2a2ff"/><rect x="1032.6" fill="#acacff"/><rect x="1042.1" fill="#b3b3ff"/><rect x="1051.7" fill="#b7b7ff"/><rect x="1061.2" fill="#b8b8ff"/><rect x="1070.7" fill="#b8b8ff"/><rect x="1080.2" fill="#b6b6ff"/><rect x="1089.7" fill="#b4b4ff"/><rect x="1099.2" fill="#b3b3ff"/><rect x="1108.8" fill="#b2b2ff"/><rect x="1118.3" fill="#b3b3ff"/><rect x="1127.8" fill="#b5b5ff"/><rect x="1137.3" fill="#b7b7ff"/><rect x="1146.8" fill="#b9b9ff"/><rect x="1156.4" fill="#babaff"/><rect x="1165.9" fill="#bbbbff"/><rect x="1175.4" fill="#bcbcff"/><rect x="1184.9" fill="#bcbcff"/><rect x="1194.4" fill="#bebeff"/><rect x="1203.9" fill="#c1c1ff"/><rect x="1213.5" fill="#c9c9ff"/><rect x="1223.0" fill="#d6d6ff"/><rect x="1232.5" fill="#dedeff"/><rect x="1242.0" fill="#dedeff"/></g><g transform="translate(0 266.4)"><rect x="680.5" fill="#dcdcff"/><rect x="690.0" fill="#dcdcff"/><rect x="699.5" fill="#d1d1ff"/><rect x="709.0" fill="#c4c4ff"/><rect x="718.5" fill="#bdbdff"/><rect x="728.1" fill="#babaff"/><rect x="737.6" fill="#b9b9ff"/><rect x="747.1" fill="#b9b9ff"/><rect x="756.6" fill="#b9b9ff"/><rect x="766.1" fill="#b9b9ff"/><rect x="775.6" fill="#b9b9ff"/><rect x="785.2" fill="#b9b9ff"/><rect x="794.7" fill="#b9b9ff"/><rect x="804.2" fill="#b9b9ff"/><rect x="813.7" fill="#b9b9ff"/><rect x="823.2" fill="#b9b9ff"/><rect x="832.8" fill="#b9b9ff"/><rect x="842.3" fill="#b9b9ff"/><rect x="851.8" fill="#b8b8ff"/><rect x="861.3" fill="#b7b7ff"/><rect x="870.8" fill="#b4b4ff"/><rect x="880.3" fill="#b0b0ff"/><rect x="889.9" fill="#a8a8ff"/><rect x="899.4" fill="#9d9dff"/><rect x="908.9" fill="#8e8eff"/><rect x="918.4" fill="#7a7aff"/><rect x="927.9" fill="#6464ff"/><rect x="937.4" fill="#4b4bff"/><rect x="947.0" fill="#3535ff"/><rect x="956.5" fill="#2727ff"/><rect x="966.0" fill="#2828ff"/><rect x="975.5" fill="#3838ff"/><rect x="985.0" fill="#4f4fff"/><rect x="994.6" fill="#6868ff"/><rect x="1004.1" fill="#7e7eff"/><rect x="1013.6" fill="#9191ff"/><rect x="1023.1" fill="#9f9fff"/><rect x="1032.6" fill="#a9a9ff"/><rect x="1042.1" fill="#b0b0ff"/><rect x="1051.7" fill="#b3b3ff"/><rect x="1061.2" fill="#b4b4ff"/><rect x="1070.7" fill="#b4b4ff"/><rect x="1080.2" fill="#b2b2ff"/><rect x="1089.7" fill="#b0b0ff"/><rect x="1099.2" fill="#aeaeff"/><rect x="1108.8" fill="#aeaeff"/><rect x="1118.3" fill="#aeaeff"/><rect x="1127.8" fill="#b0b0ff"/><rect x="1137.3" fill="#b3b3ff"/><rect x="1146.8" fill="#b5b5ff"/><rect x="1156.4" fill="#b6b6ff"/><rect x="1165.9" fill="#b7b7ff"/><rect x="1175.4" fill="#b8b8ff"/><rect x="1184.9" fill="#b8b8ff"/><rect x="1194.4" fill="#babaff"/><rect x="1203.9" fill="#bdbdff"/><rect x="1213.5" fill="#c6c6ff"/><rect x="1223.0" fill="#d3d3ff"/><rect x="1232.5" fill="#dcdcff"/><rect x="1242.0" fill="#dcdcff"/></g><g transform="translate(0 275.9)"><rect x="680.5" fill="#dadaff"/><rect x="690.0" fill="#dadaff"/><rect x="699.5" fill="#cfcfff"/><rect x="709.0" fill="#c1c1ff"/><rect x="718.5" fill="#babaff"/><rect x="728.1" fill="#b7b7ff"/><rect x="737.6" fill="#b6b6ff"/><rect x="747.1" fill="#b6b6ff"/><rect x="756.6" fill="#b6b6ff"/><rect x="766.1" fill="#b6b6ff"/><rect x="775.6" fill="#b6b6ff"/><rect x="785.2" fill="#b6b6ff"/><rect x="794.7" fill="#b6b6ff"/><rect x="804.2" fill="#b6b6ff"/><rect x="813.7" fill="#b6b6ff"/><rect x="823.2" fill="#b6b6ff"/><rect x="832.8" fill="#b6b6ff"/><rect x="842.3" fill="#b6b6ff"/><rect x="851.8" fill="#b5b5ff"/><rect x="861.3" fill="#b4b4ff"/><rect x="870.8" fill="#b2b2ff"/><rect x="880.3" fill="#adadff"/><rect x="889.9" fill="#a6a6ff"/><rect x="899.4" fill="#9c9cff"/><rect x="908.9" fill="#8d8dff"/><rect x="918.4" fill="#7b7bff"/><rect x="927.9" fill="#6666ff"/><rect x="937.4" fill="#4f4fff"/><rect x="947.0" fill="#3b3bff"/><rect x="956.5" fill="#2f2fff"/><rect x="966.0" fill="#3030ff"/><rect x="975.5" fill="#3e3eff"/><rect x="985.0" fill="#5353ff"/><rect x="994.6" fill="#6a6aff"/><rect x="1004.1" fill="#7e7eff"/><rect x="1013.6" fill="#9090ff"/><rect x="1023.1" fill="#9e9eff"/><rect x="1032.6" fill="#a7a7ff"/><rect x="1042.1" fill="#aeaeff"/><rect x="1051.7" fill="#b1b1ff"/><rect x="1061.2" fill="#b2b2ff"/><rect x="1070.7" fill="#b1b1ff"/><rect x="1080.2" fill="#afafff"/><rect x="1089.7" fill="#adadff"/><rect x="1099.2" fill="#ababff"/><rect x="1108.8" fill="#ababff"/><rect x="1118.3" fill="#acacff"/><rect x="1127.8" fill="#aeaeff"/><rect x="1137.3" fill="#b0b0ff"/><rect x="1146.8" fill="#b2b2ff"/><rect x="1156.4" fill="#b3b3ff"/><rect x="1165.9" fill="#b4b4ff"/><rect x="1175.4" fill="#b4b4ff"/><rect x="1184.9" fill="#b5b5ff"/><rect x="1194.4" fill="#b7b7ff"/><rect x="1203.9" fill="#babaff"/><rect x="1213.5" fill="#c3c3ff"/><rect x="1223.0" fill="#d1d1ff"/><rect x="1232.5" fill="#dbdbff"/><rect x="1242.0" fill="#dbdbff"/></g><g transform="translate(0 285.4)"><rect x="680.5" fill="#d9d9ff"/><rect x="690.0" fill="#d9d9ff"/><rect x="699.5" fill="#cdcdff"/><rect x="709.0" fill="#bfbfff"/><rect x="718.5" fill="#b7b7ff"/><rect x="728.1" fill="#b4b4ff"/><rect x="737.6" fill="#b3b3ff"/><rect x="747.1" fill="#b3b3ff"/><rect x="756.6" fill="#b3b3ff"/><rect x="766.1" fill="#b4b4ff"/><rect x="775.6" fill="#b4b4ff"/><rect x="785.2" fill="#b4b4ff"/><rect x="794.7" fill="#b4b4ff"/><rect x="804.2" fill="#b5b5ff"/><rect x="813.7" fill="#b5b5ff"/><rect x="823.2" fill="#b5b5ff"/><rect x="832.8" fill="#b4b4ff"/><rect x="842.3" fill="#b4b4ff"/><rect x="851.8" fill="#b4b4ff"/><rect x="861.3" fill="#b2b2ff"/><rect x="870.8" fill="#b0b0ff"/><rect x="880.3" fill="#acacff"/><rect x="889.9" fill="#a5a5ff"/><rect x="899.4" fill="#9b9bff"/><rect x="908.9" fill="#8e8eff"/><rect x="918.4" fill="#7d7dff"/><rect x="927.9" fill="#6a6aff"/><rect x="937.4" fill="#5555ff"/><rect x="947.0" fill="#4343ff"/><rect x="956.5" fill="#3939ff"/><rect x="966.0" fill="#3a3aff"/><rect x="975.5" fill="#4646ff"/><rect x="985.0" fill="#5858ff"/><rect x="994.6" fill="#6d6dff"/><rect x="1004.1" fill="#8080ff"/><rect x="1013.6" fill="#9191ff"/><rect x="1023.1" fill="#9d9dff"/><rect x="1032.6" fill="#a6a6ff"/><rect x="1042.1" fill="#acacff"/><rect x="1051.7" fill="#afafff"/><rect x="1061.2" fill="#b0b0ff"/><rect x="1070.7" fill="#afafff"/><rect x="1080.2" fill="#aeaeff"/><rect x="1089.7" fill="#acacff"/><rect x="1099.2" fill="#aaaaff"/><rect x="1108.8" fill="#aaaaff"/><rect x="1118.3" fill="#aaaaff"/><rect x="1127.8" fill="#acacff"/><rect x="1137.3" fill="#aeaeff"/><rect x="1146.8" fill="#afafff"/><rect x="1156.4" fill="#b0b0ff"/><rect x="1165.9" fill="#b1b1ff"/><rect x="1175.4" fill="#b1b1ff"/><rect x="1184.9" fill="#b2b2ff"/><rect x="1194.4" fill="#b4b4ff"/><rect x="1203.9" fill="#b8b8ff"/><rect x="1213.5" fill="#c1c1ff"/><rect x="1223.0" fill="#d0d0ff"/><rect x="1232.5" fill="#d9d9ff"/><rect x="1242.0" fill="#d9d9ff"/></g><g transform="translate(0 295.0)"><rect x="680.5" fill="#d8d8ff"/><rect x="690.0" fill="#d8d8ff"/><rect x="699.5" fill="#cbcbff"/><rect x="709.0" fill="#bdbdff"/><rect x="718.5" fill="#b5b5ff"/><rect x="728.1" fill="#b1b1ff"/><rect x="737.6" fill="#b0b0ff"/><rect x="747.1" fill="#b0b0ff"/><rect x="756.6" fill="#b1b1ff"/><rect x="766.1" fill="#b2b2ff"/><rect x="775.6" fill="#b2b2ff"/><rect x="785.2" fill="#b3b3ff"/><rect x="794.7" fill="#b3b3ff"/><rect x="804.2" fill="#b3b3ff"/><rect x="813.7" fill="#b3b3ff"/><rect x="823.2" fill="#b3b3ff"/><rect x="832.8" fill="#b3b3ff"/><rect x="842.3" fill="#b3b3ff"/><rect x="851.8" fill="#b2b2ff"/><rect x="861.3" fill="#b1b1ff"/><rect x="870.8" fill="#afafff"/><rect x="880.3" fill="#ababff"/><rect x="889.9" fill="#a5a5ff"/><rect x="899.4" fill="#9c9cff"/><rect x="908.9" fill="#8f8fff"/><rect x="918.4" fill="#8080ff"/><rect x="927.9" fill="#6e6eff"/><rect x="937.4" fill="#5c5cff"/><rect x="947.0" fill="#4c4cff"/><rect x="956.5" fill="#4343ff"/><rect x="966.0" fill="#4444ff"/><rect x="975.5" fill="#4e4eff"/><rect x="985.0" fill="#5f5fff"/><rect x="994.6" fill="#7171ff"/><rect x="1004.1" fill="#8383ff"/><rect x="1013.6" fill="#9292ff"/><rect x="1023.1" fill="#9e9eff"/><rect x="1032.6" fill="#a6a6ff"/><rect x="1042.1" fill="#acacff"/><rect x="1051.7" fill="#aeaeff"/><rect x="1061.2" fill="#afafff"/><rect x="1070.7" fill="#afafff"/><rect x="1080.2" fill="#adadff"/><rect x="1089.7" fill="#acacff"/><rect x="1099.2" fill="#aaaaff"/><rect x="1108.8" fill="#aaaaff"/><rect x="1118.3" fill="#aaaaff"/><rect x="1127.8" fill="#ababff"/><rect x="1137.3" fill="#adadff"/><rect x="1146.8" fill="#aeaeff"/><rect x="1156.4" fill="#aeaeff"/><rect x="1165.9" fill="#aeaeff"/><rect x="1175.4" fill="#afafff"/><rect x="1184.9" fill="#afafff"/><rect x="1194.4" fill="#b1b1ff"/><rect x="1203.9" fill="#b6b6ff"/><rect x="1213.5" fill="#bfbfff"/><rect x="1223.0" fill="#cfcfff"/><rect x="1232.5" fill="#d8d8ff"/><rect x="1242.0" fill="#d8d8ff"/></g><g transform="translate(0 304.5)"><rect x="680.5" fill="#d7d7ff"/><rect x="690.0" fill="#d7d7ff"/><rect x="699.5" fill="#cacaff"/><rect x="709.0" fill="#bbbbff"/><rect x="718.5" fill="#b2b2ff"/><rect x="728.1" fill="#aeaeff"/><rect x="737.6" fill="#adadff"/><rect x="747.1" fill="#adadff"/><rect x="756.6" fill="#aeaeff"/><rect x="766.1" fill="#afafff"/><rect x="775.6" fill="#b0b0ff"/><rect x="785.2" fill="#b1b1ff"/><rect x="794.7" fill="#b2b2ff"/><rect x="804.2" fill="#b2b2ff"/><rect x="813.7" fill="#b2b2ff"/><rect x="823.2" fill="#b2b2ff"/><rect x="832.8" fill="#b2b2ff"/><rect x="842.3" fill="#b1b1ff"/><rect x="851.8" fill="#b1b1ff"/><rect x="861.3" fill="#b0b0ff"/><rect x="870.8" fill="#aeaeff"/><rect x="880.3" fill="#ababff"/><rect x="889.9" fill="#a5a5ff"/><rect x="899.4" fill="#9d9dff"/><rect x="908.9" fill="#9191ff"/><rect x="918.4" fill="#8383ff"/><rect x="927.9" fill="#7373ff"/><rect x="937.4" fill="#6363ff"/><rect x="947.0" fill="#5555ff"/><rect x="956.5" fill="#4d4dff"/><rect x="966.0" fill="#4e4eff"/><rect x="975.5" fill="#5757ff"/><rect x="985.0" fill="#6666ff"/><rect x="994.6" fill="#7676ff"/><rect x="1004.1" fill="#8686ff"/><rect x="1013.6" fill="#9494ff"/><rect x="1023.1" fill="#9e9eff"/><rect x="1032.6" fill="#a6a6ff"/><rect x="1042.1" fill="#ababff"/><rect x="1051.7" fill="#aeaeff"/><rect x="1061.2" fill="#afafff"/><rect x="1070.7" fill="#aeaeff"/><rect x="1080.2" fill="#adadff"/><rect x="1089.7" fill="#acacff"/><rect x="1099.2" fill="#ababff"/><rect x="1108.8" fill="#ababff"/><rect x="1118.3" fill="#ababff"/><rect x="1127.8" fill="#ababff"/><rect x="1137.3" fill="#acacff"/><rect x="1146.8" fill="#acacff"/><rect x="1156.4" fill="#acacff"/><rect x="1165.9" fill="#acacff"/><rect x="1175.4" fill="#acacff"/><rect x="1184.9" fill="#acacff"/><rect x="1194.4" fill="#afafff"/><rect x="1203.9" fill="#b4b4ff"/><rect x="1213.5" fill="#bebeff"/><rect x="1223.0" fill="#ceceff"/><rect x="1232.5" fill="#d8d8ff"/><rect x="1242.0" fill="#d8d8ff"/></g><g transform="translate(0 314.0)"><rect x="680.5" fill="#d5d5ff"/><rect x="690.0" fill="#d5d5ff"/><rect x="699.5" fill="#c8c8ff"/><rect x="709.0" fill="#b8b8ff"/><rect x="718.5" fill="#aeaeff"/><rect x="728.1" fill="#aaaaff"/><rect x="737.6" fill="#a9a9ff"/><rect x="747.1" fill="#a9a9ff"/><rect x="756.6" fill="#ababff"/><rect x="766.1" fill="#adadff"/><rect x="775.6" fill="#aeaeff"/><rect x="785.2" fill="#afafff"/><rect x="794.7" fill="#b0b0ff"/><rect x="804.2" fill="#b1b1ff"/><rect x="813.7" fill="#b1b1ff"/><rect x="823.2" fill="#b1b1ff"/><rect x="832.8" fill="#b0b0ff"/><rect x="842.3" fill="#b0b0ff"/><rect x="851.8" fill="#b0b0ff"/><rect x="861.3" fill="#afafff"/><rect x="870.8" fill="#adadff"/><rect x="880.3" fill="#aaaaff"/><rect x="889.9" fill="#a5a5ff"/><rect x="899.4" fill="#9e9eff"/><rect x="908.9" fill="#9494ff"/><rect x="918.4" fill="#8787ff"/><rect x="927.9" fill="#7878ff"/><rect x="937.4" fill="#6a6aff"/><rect x="947.0" fill="#5e5eff"/><rect x="956.5" fill="#5757ff"/><rect x="966.0" fill="#5858ff"/><rect x="975.5" fill="#6060ff"/><rect x="985.0" fill="#6c6cff"/><rect x="994.6" fill="#7b7bff"/><rect x="1004.1" fill="#8989ff"/><rect x="1013.6" fill="#9595ff"/><rect x="1023.1" fill="#9f9fff"/><rect x="1032.6" fill="#a6a6ff"/><rect x="1042.1" fill="#ababff"/><rect x="1051.7" fill="#adadff"/><rect x="1061.2" fill="#aeaeff"/><rect x="1070.7" fill="#aeaeff"/><rect x="1080.2" fill="#aeaeff"/><rect x="1089.7" fill="#adadff"/><rect x="1099.2" fill="#acacff"/><rect x="1108.8" fill="#ababff"/><rect x="1118.3" fill="#ababff"/><rect x="1127.8" fill="#ababff"/><rect x="1137.3" fill="#ababff"/><rect x="1146.8" fill="#aaaaff"/><rect x="1156.4" fill="#a9a9ff"/><rect x="1165.9" fill="#a9a9ff"/><rect x="1175.4" fill="#a8a8ff"/><rect x="1184.9" fill="#a9a9ff"/><rect x="1194.4" fill="#acacff"/><rect x="1203.9" fill="#b1b1ff"/><rect x="1213.5" fill="#bcbcff"/><rect x="1223.0" fill="#ccccff"/><rect x="1232.5" fill="#d7d7ff"/><rect x="1242.0" fill="#d7d7ff"/></g><g transform="translate(0 323.5)"><rect x="680.5" fill="#d4d4ff"/><rect x="690.0" fill="#d4d4ff"/><rect x="699.5" fill="#c5c5ff"/><rect x="709.0" fill="#b5b5ff"/><rect x="718.5" fill="#aaaaff"/><rect x="728.1" fill="#a5a5ff"/><rect x="737.6" fill="#a4a4ff"/><rect x="747.1" fill="#a5a5ff"/><rect x="756.6" fill="#a7a7ff"/><rect x="766.1" fill="#aaaaff"/><rect x="775.6" fill="#acacff"/><rect x="785.2" fill="#aeaeff"/><rect x="794.7" fill="#afafff"/><rect x="804.2" fill="#afafff"/><rect x="813.7" fill="#afafff"/><rect x="823.2" fill="#afafff"/><rect x="832.8" fill="#afafff"/><rect x="842.3" fill="#afafff"/><rect x="851.8" fill="#aeaeff"/><rect x="861.3" fill="#adadff"/><rect x="870.8" fill="#acacff"/><rect x="880.3" fill="#a9a9ff"/><rect x="889.9" fill="#a5a5ff"/><rect x="899.4" fill="#9f9fff"/><rect x="908.9" fill="#9696ff"/><rect x="918.4" fill="#8a8aff"/><rect x="927.9" fill="#7e7eff"/><rect x="937.4" fill="#7171ff"/><rect x="947.0" fill="#6767ff"/><rect x="956.5" fill="#6161ff"/><rect x="966.0" fill="#6161ff"/><rect x="975.5" fill="#6868ff"/><rect x="985.0" fill="#7373ff"/><rect x="994.6" fill="#8080ff"/><rect x="1004.1" fill="#8c8cff"/><rect x="1013.6" fill="#9797ff"/><rect x="1023.1" fill="#a0a0ff"/><rect x="1032.6" fill="#a6a6ff"/><rect x="1042.1" fill="#aaaaff"/><rect x="1051.7" fill="#adadff"/><rect x="1061.2" fill="#aeaeff"/><rect x="1070.7" fill="#aeaeff"/><rect x="1080.2" fill="#adadff"/><rect x="1089.7" fill="#adadff"/><rect x="1099.2" fill="#acacff"/><rect x="1108.8" fill="#acacff"/><rect x="1118.3" fill="#acacff"/><rect x="1127.8" fill="#ababff"/><rect x="1137.3" fill="#aaaaff"/><rect x="1146.8" fill="#a9a9ff"/><rect x="1156.4" fill="#a7a7ff"/><rect x="1165.9" fill="#a6a6ff"/><rect x="1175.4" fill="#a6a6ff"/><rect x="1184.9" fill="#a6a6ff"/><rect x="1194.4" fill="#a9a9ff"/><rect x="1203.9" fill="#afafff"/><rect x="1213.5" fill="#babaff"/><rect x="1223.0" fill="#cbcbff"/><rect x="1232.5" fill="#d6d6ff"/><rect x="1242.0" fill="#d6d6ff"/></g><g transform="translate(0 333.0)"><rect x="680.5" fill="#d2d2ff"/><rect x="690.0" fill="#d2d2ff"/><rect x="699.5" fill="#c3c3ff"/><rect x="709.0" fill="#b1b1ff"/><rect x="718.5" fill="#a6a6ff"/><rect x="728.1" fill="#a0a0ff"/><rect x="737.6" fill="#9f9fff"/><rect x="747.1" fill="#a0a0ff"/><rect x="756.6" fill="#a3a3ff"/><rect x="766.1" fill="#a7a7ff"/><rect x="775.6" fill="#aaaaff"/><rect x="785.2" fill="#acacff"/><rect x="794.7" fill="#adadff"/><rect x="804.2" fill="#aeaeff"/><rect x="813.7" fill="#aeaeff"/><rect x="823.2" fill="#aeaeff"/><rect x="832.8" fill="#adadff"/><rect x="842.3" fill="#adadff"/><rect x="851.8" fill="#adadff"/><rect x="861.3" fill="#acacff"/><rect x="870.8" fill="#ababff"/><rect x="880.3" fill="#a8a8ff"/><rect x="889.9" fill="#a5a5ff"/><rect x="899.4" fill="#9f9fff"/><rect x="908.9" fill="#9797ff"/><rect x="918.4" fill="#8e8eff"/><rect x="927.9" fill="#8383ff"/><rect x="937.4" fill="#7878ff"/><rect x="947.0" fill="#6f6fff"/><rect x="956.5" fill="#6a6aff"/><rect x="966.0" fill="#6a6aff"/><rect x="975.5" fill="#7070ff"/><rect x="985.0" fill="#7a7aff"/><rect x="994.6" fill="#8585ff"/><rect x="1004.1" fill="#8f8fff"/><rect x="1013.6" fill="#9999ff"/><rect x="1023.1" fill="#a1a1ff"/><rect x="1032.6" fill="#a6a6ff"/><rect x="1042.1" fill="#aaaaff"/><rect x="1051.7" fill="#acacff"/><rect x="1061.2" fill="#adadff"/><rect x="1070.7" fill="#adadff"/><rect x="1080.2" fill="#adadff"/><rect x="1089.7" fill="#adadff"/><rect x="1099.2" fill="#acacff"/><rect x="1108.8" fill="#acacff"/><rect x="1118.3" fill="#ababff"/><rect x="1127.8" fill="#ababff"/><rect x="1137.3" fill="#a9a9ff"/><rect x="1146.8" fill="#a7a7ff"/><rect x="1156.4" fill="#a5a5ff"/><rect x="1165.9" fill="#a4a4ff"/><rect x="1175.4" fill="#a3a3ff"/><rect x="1184.9" fill="#a4a4ff"/><rect x="1194.4" fill="#a7a7ff"/><rect x="1203.9" fill="#adadff"/><rect x="1213.5" fill="#b9b9ff"/><rect x="1223.0" fill="#cacaff"/><rect x="1232.5" fill="#d5d5ff"/><rect x="1242.0" fill="#d5d5ff"/></g><g transform="translate(0 342.6)"><rect x="680.5" fill="#d1d1ff"/><rect x="690.0" fill="#d1d1ff"/><rect x="699.5" fill="#c1c1ff"/><rect x="709.0" fill="#aeaeff"/><rect x="718.5" fill="#a2a2ff"/><rect x="728.1" fill="#9c9cff"/><rect x="737.6" fill="#9b9bff"/><rect x="747.1" fill="#9c9cff"/><rect x="756.6" fill="#a0a0ff"/><rect x="766.1" fill="#a4a4ff"/><rect x="775.6" fill="#a7a7ff"/><rect x="785.2" fill="#aaaaff"/><rect x="794.7" fill="#acacff"/><rect x="804.2" fill="#acacff"/><rect x="813.7" fill="#acacff"/><rect x="823.2" fill="#acacff"/><rect x="832.8" fill="#acacff"/><rect x="842.3" fill="#ababff"/><rect x="851.8" fill="#ababff"/><rect x="861.3" fill="#aaaaff"/><rect x="870.8" fill="#a9a9ff"/><rect x="880.3" fill="#a8a8ff"/><rect x="889.9" fill="#a5a5ff"/><rect x="899.4" fill="#a0a0ff"/><rect x="908.9" fill="#9999ff"/><rect x="918.4" fill="#9191ff"/><rect x="927.9" fill="#8787ff"/><rect x="937.4" fill="#7e7eff"/><rect x="947.0" fill="#7777ff"/><rect x="956.5" fill="#7272ff"/><rect x="966.0" fill="#7373ff"/><rect x="975.5" fill="#7878ff"/><rect x="985.0" fill="#8080ff"/><rect x="994.6" fill="#8989ff"/><rect x="1004.1" fill="#9393ff"/><rect x="1013.6" fill="#9b9bff"/><rect x="1023.1" fill="#a1a1ff"/><rect x="1032.6" fill="#a6a6ff"/><rect x="1042.1" fill="#a9a9ff"/><rect x="1051.7" fill="#ababff"/><rect x="1061.2" fill="#acacff"/><rect x="1070.7" fill="#acacff"/><rect x="1080.2" fill="#acacff"/><rect x="1089.7" fill="#acacff"/><rect x="1099.2" fill="#acacff"/><rect x="1108.8" fill="#acacff"/><rect x="1118.3" fill="#ababff"/><rect x="1127.8" fill="#aaaaff"/><rect x="1137.3" fill="#a8a8ff"/><rect x="1146.8" fill="#a6a6ff"/><rect x="1156.4" fill="#a4a4ff"/><rect x="1165.9" fill="#a2a2ff"/><rect x="1175.4" fill="#a2a2ff"/><rect x="1184.9" fill="#a3a3ff"/><rect x="1194.4" fill="#a6a6ff"/><rect x="1203.9" fill="#acacff"/><rect x="1213.5" fill="#b8b8ff"/><rect x="1223.0" fill="#cacaff"/><rect x="1232.5" fill="#d4d4ff"/><rect x="1242.0" fill="#d4d4ff"/></g><g transform="translate(0 352.1)"><rect x="680.5" fill="#d0d0ff"/><rect x="690.0" fill="#d0d0ff"/><rect x="699.5" fill="#c0c0ff"/><rect x="709.0" fill="#acacff"/><rect x="718.5" fill="#a0a0ff"/><rect x="728.1" fill="#9999ff"/><rect x="737.6" fill="#9898ff"/><rect x="747.1" fill="#9a9aff"/><rect x="756.6" fill="#9e9eff"/><rect x="766.1" fill="#a2a2ff"/><rect x="775.6" fill="#a6a6ff"/><rect x="785.2" fill="#a9a9ff"/><rect x="794.7" fill="#ababff"/><rect x="804.2" fill="#ababff"/><rect x="813.7" fill="#ababff"/><rect x="823.2" fill="#ababff"/><rect x="832.8" fill="#aaaaff"/><rect x="842.3" fill="#a9a9ff"/><rect x="851.8" fill="#a9a9ff"/><rect x="861.3" fill="#a8a8ff"/><rect x="870.8" fill="#a8a8ff"/><rect x="880.3" fill="#a7a7ff"/><rect x="889.9" fill="#a4a4ff"/><rect x="899.4" fill="#a1a1ff"/><rect x="908.9" fill="#9b9bff"/><rect x="918.4" fill="#9494ff"/><rect x="927.9" fill="#8c8cff"/><rect x="937.4" fill="#8484ff"/><rect x="947.0" fill="#7e7eff"/><rect x="956.5" fill="#7b7bff"/><rect x="966.0" fill="#7b7bff"/><rect x="975.5" fill="#7f7fff"/><rect x="985.0" fill="#8686ff"/><rect x="994.6" fill="#8e8eff"/><rect x="1004.1" fill="#9696ff"/><rect x="1013.6" fill="#9d9dff"/><rect x="1023.1" fill="#a2a2ff"/><rect x="1032.6" fill="#a6a6ff"/><rect x="1042.1" fill="#a9a9ff"/><rect x="1051.7" fill="#ababff"/><rect x="1061.2" fill="#acacff"/><rect x="1070.7" fill="#acacff"/><rect x="1080.2" fill="#acacff"/><rect x="1089.7" fill="#acacff"/><rect x="1099.2" fill="#acacff"/><rect x="1108.8" fill="#acacff"/><rect x="1118.3" fill="#ababff"/><rect x="1127.8" fill="#aaaaff"/><rect x="1137.3" fill="#a8a8ff"/><rect x="1146.8" fill="#a6a6ff"/><rect x="1156.4" fill="#a4a4ff"/><rect x="1165.9" fill="#a2a2ff"/><rect x="1175.4" fill="#a1a1ff"/><rect x="1184.9" fill="#a2a2ff"/><rect x="1194.4" fill="#a5a5ff"/><rect x="1203.9" fill="#acacff"/><rect x="1213.5" fill="#b7b7ff"/><rect x="1223.0" fill="#c9c9ff"/><rect x="1232.5" fill="#d4d4ff"/><rect x="1242.0" fill="#d4d4ff"/></g><g transform="translate(0 361.6)"><rect x="680.5" fill="#cfcfff"/><rect x="690.0" fill="#cfcfff"/><rect x="699.5" fill="#bfbfff"/><rect x="709.0" fill="#acacff"/><rect x="718.5" fill="#9f9fff"/><rect x="728.1" fill="#9999ff"/><rect x="737.6" fill="#9797ff"/><rect x="747.1" fill="#9999ff"/><rect x="756.6" fill="#9d9dff"/><rect x="766.1" fill="#a2a2ff"/><rect x="775.6" fill="#a6a6ff"/><rect x="785.2" fill="#a9a9ff"/><rect x="794.7" fill="#aaaaff"/><rect x="804.2" fill="#ababff"/><rect x="813.7" fill="#ababff"/><rect x="823.2" fill="#aaaaff"/><rect x="832.8" fill="#a9a9ff"/><rect x="842.3" fill="#a8a8ff"/><rect x="851.8" fill="#a7a7ff"/><rect x="861.3" fill="#a7a7ff"/><rect x="870.8" fill="#a7a7ff"/><rect x="880.3" fill="#a6a6ff"/><rect x="889.9" fill="#a5a5ff"/><rect x="899.4" fill="#a2a2ff"/><rect x="908.9" fill="#9d9dff"/><rect x="918.4" fill="#9898ff"/><rect x="927.9" fill="#9191ff"/><rect x="937.4" fill="#8a8aff"/><rect x="947.0" fill="#8585ff"/><rect x="956.5" fill="#8282ff"/><rect x="966.0" fill="#8383ff"/><rect x="975.5" fill="#8686ff"/><rect x="985.0" fill="#8b8bff"/><rect x="994.6" fill="#9292ff"/><rect x="1004.1" fill="#9999ff"/><rect x="1013.6" fill="#9f9fff"/><rect x="1023.1" fill="#a4a4ff"/><rect x="1032.6" fill="#a7a7ff"/><rect x="1042.1" fill="#a9a9ff"/><rect x="1051.7" fill="#ababff"/><rect x="1061.2" fill="#acacff"/><rect x="1070.7" fill="#acacff"/><rect x="1080.2" fill="#acacff"/><rect x="1089.7" fill="#acacff"/><rect x="1099.2" fill="#acacff"/><rect x="1108.8" fill="#acacff"/><rect x="1118.3" fill="#ababff"/><rect x="1127.8" fill="#aaaaff"/><rect x="1137.3" fill="#a9a9ff"/><rect x="1146.8" fill="#a7a7ff"/><rect x="1156.4" fill="#a5a5ff"/><rect x="1165.9" fill="#a3a3ff"/><rect x="1175.4" fill="#a3a3ff"/><rect x="1184.9" fill="#a3a3ff"/><rect x="1194.4" fill="#a6a6ff"/><rect x="1203.9" fill="#acacff"/><rect x="1213.5" fill="#b8b8ff"/><rect x="1223.0" fill="#c9c9ff"/><rect x="1232.5" fill="#d4d4ff"/><rect x="1242.0" fill="#d4d4ff"/></g><g transform="translate(0 371.1)"><rect x="680.5" fill="#d0d0ff"/><rect x="690.0" fill="#d0d0ff"/><rect x="699.5" fill="#c0c0ff"/><rect x="709.0" fill="#adadff"/><rect x="718.5" fill="#a1a1ff"/><rect x="728.1" fill="#9a9aff"/><rect x="737.6" fill="#9999ff"/><rect x="747.1" fill="#9b9bff"/><rect x="756.6" fill="#9e9eff"/><rect x="766.1" fill="#a3a3ff"/><rect x="775.6" fill="#a6a6ff"/><rect x="785.2" fill="#a9a9ff"/><rect x="794.7" fill="#ababff"/><rect x="804.2" fill="#ababff"/><rect x="813.7" fill="#ababff"/><rect x="823.2" fill="#aaaaff"/><rect x="832.8" fill="#a8a8ff"/><rect x="842.3" fill="#a7a7ff"/><rect x="851.8" fill="#a6a6ff"/><rect x="861.3" fill="#a6a6ff"/><rect x="870.8" fill="#a6a6ff"/><rect x="880.3" fill="#a6a6ff"/><rect x="889.9" fill="#a5a5ff"/><rect x="899.4" fill="#a3a3ff"/><rect x="908.9" fill="#a0a0ff"/><rect x="918.4" fill="#9b9bff"/><rect x="927.9" fill="#9696ff"/><rect x="937.4" fill="#9191ff"/><rect x="947.0" fill="#8c8cff"/><rect x="956.5" fill="#8a8aff"/><rect x="966.0" fill="#8a8aff"/><rect x="975.5" fill="#8d8dff"/><rect x="985.0" fill="#9191ff"/><rect x="994.6" fill="#9797ff"/><rect x="1004.1" fill="#9d9dff"/><rect x="1013.6" fill="#a2a2ff"/><rect x="1023.1" fill="#a6a6ff"/><rect x="1032.6" fill="#a9a9ff"/><rect x="1042.1" fill="#aaaaff"/><rect x="1051.7" fill="#acacff"/><rect x="1061.2" fill="#acacff"/><rect x="1070.7" fill="#adadff"/><rect x="1080.2" fill="#adadff"/><rect x="1089.7" fill="#adadff"/><rect x="1099.2" fill="#adadff"/><rect x="1108.8" fill="#acacff"/><rect x="1118.3" fill="#acacff"/><rect x="1127.8" fill="#ababff"/><rect x="1137.3" fill="#aaaaff"/><rect x="1146.8" fill="#a8a8ff"/><rect x="1156.4" fill="#a7a7ff"/><rect x="1165.9" fill="#a5a5ff"/><rect x="1175.4" fill="#a5a5ff"/><rect x="1184.9" fill="#a6a6ff"/><rect x="1194.4" fill="#a8a8ff"/><rect x="1203.9" fill="#aeaeff"/><rect x="1213.5" fill="#b9b9ff"/><rect x="1223.0" fill="#cacaff"/><rect x="1232.5" fill="#d5d5ff"/><rect x="1242.0" fill="#d5d5ff"/></g><g transform="translate(0 380.6)"><rect x="680.5" fill="#d1d1ff"/><rect x="690.0" fill="#d1d1ff"/><rect x="699.5" fill="#c2c2ff"/><rect x="709.0" fill="#b0b0ff"/><rect x="718.5" fill="#a4a4ff"/><rect x="728.1" fill="#9e9eff"/><rect x="737.6" fill="#9d9dff"/><rect x="747.1" fill="#9f9fff"/><rect x="756.6" fill="#a2a2ff"/><rect x="766.1" fill="#a5a5ff"/><rect x="775.6" fill="#a9a9ff"/><rect x="785.2" fill="#ababff"/><rect x="794.7" fill="#acacff"/><rect x="804.2" fill="#acacff"/><rect x="813.7" fill="#acacff"/><rect x="823.2" fill="#ababff"/><rect x="832.8" fill="#a9a9ff"/><rect x="842.3" fill="#a8a8ff"/><rect x="851.8" fill="#a7a7ff"/><rect x="861.3" fill="#a7a7ff"/><rect x="870.8" fill="#a7a7ff"/><rect x="880.3" fill="#a7a7ff"/><rect x="889.9" fill="#a7a7ff"/><rect x="899.4" fill="#a6a6ff"/><rect x="908.9" fill="#a3a3ff"/><rect x="918.4" fill="#a0a0ff"/><rect x="927.9" fill="#9b9bff"/><rect x="937.4" fill="#9797ff"/><rect x="947.0" fill="#9393ff"/><rect x="956.5" fill="#9292ff"/><rect x="966.0" fill="#9292ff"/><rect x="975.5" fill="#9494ff"/><rect x="985.0" fill="#9898ff"/><rect x="994.6" fill="#9c9cff"/><rect x="1004.1" fill="#a1a1ff"/><rect x="1013.6" fill="#a5a5ff"/><rect x="1023.1" fill="#a8a8ff"/><rect x="1032.6" fill="#ababff"/><rect x="1042.1" fill="#acacff"/><rect x="1051.7" fill="#adadff"/><rect x="1061.2" fill="#aeaeff"/><rect x="1070.7" fill="#aeaeff"/><rect x="1080.2" fill="#aeaeff"/><rect x="1089.7" fill="#aeaeff"/><rect x="1099.2" fill="#aeaeff"/><rect x="1108.8" fill="#aeaeff"/><rect x="1118.3" fill="#aeaeff"/><rect x="1127.8" fill="#adadff"/><rect x="1137.3" fill="#acacff"/><rect x="1146.8" fill="#ababff"/><rect x="1156.4" fill="#aaaaff"/><rect x="1165.9" fill="#a9a9ff"/><rect x="1175.4" fill="#a8a8ff"/><rect x="1184.9" fill="#a9a9ff"/><rect x="1194.4" fill="#ababff"/><rect x="1203.9" fill="#b0b0ff"/><rect x="1213.5" fill="#bbbbff"/><rect x="1223.0" fill="#cbcbff"/><rect x="1232.5" fill="#d6d6ff"/><rect x="1242.0" fill="#d6d6ff"/></g><g transform="translate(0 390.1)"><rect x="680.5" fill="#d4d4ff"/><rect x="690.0" fill="#d4d4ff"/><rect x="699.5" fill="#c5c5ff"/><rect x="709.0" fill="#b4b4ff"/><rect x="718.5" fill="#a9a9ff"/><rect x="728.1" fill="#a4a4ff"/><rect x="737.6" fill="#a3a3ff"/><rect x="747.1" fill="#a4a4ff"/><rect x="756.6" fill="#a6a6ff"/><rect x="766.1" fill="#a9a9ff"/><rect x="775.6" fill="#acacff"/><rect x="785.2" fill="#aeaeff"/><rect x="794.7" fill="#afafff"/><rect x="804.2" fill="#afafff"/><rect x="813.7" fill="#aeaeff"/><rect x="823.2" fill="#adadff"/><rect x="832.8" fill="#ababff"/><rect x="842.3" fill="#a9a9ff"/><rect x="851.8" fill="#a9a9ff"/><rect x="861.3" fill="#a8a8ff"/><rect x="870.8" fill="#a9a9ff"/><rect x="880.3" fill="#aaaaff"/><rect x="889.9" fill="#aaaaff"/><rect x="899.4" fill="#a9a9ff"/><rect x="908.9" fill="#a7a7ff"/><rect x="918.4" fill="#a5a5ff"/><rect x="927.9" fill="#a1a1ff"/><rect x="937.4" fill="#9e9eff"/><rect x="947.0" fill="#9b9bff"/><rect x="956.5" fill="#9999ff"/><rect x="966.0" fill="#9999ff"/><rect x="975.5" fill="#9b9bff"/><rect x="985.0" fill="#9e9eff"/><rect x="994.6" fill="#a2a2ff"/><rect x="1004.1" fill="#a6a6ff"/><rect x="1013.6" fill="#a9a9ff"/><rect x="1023.1" fill="#acacff"/><rect x="1032.6" fill="#aeaeff"/><rect x="1042.1" fill="#afafff"/><rect x="1051.7" fill="#b0b0ff"/><rect x="1061.2" fill="#b0b0ff"/><rect x="1070.7" fill="#b0b0ff"/><rect x="1080.2" fill="#b0b0ff"/><rect x="1089.7" fill="#b0b0ff"/><rect x="1099.2" fill="#b0b0ff"/><rect x="1108.8" fill="#b0b0ff"/><rect x="1118.3" fill="#b0b0ff"/><rect x="1127.8" fill="#b0b0ff"/><rect x="1137.3" fill="#afafff"/><rect x="1146.8" fill="#aeaeff"/><rect x="1156.4" fill="#adadff"/><rect x="1165.9" fill="#adadff"/><rect x="1175.4" fill="#acacff"/><rect x="1184.9" fill="#adadff"/><rect x="1194.4" fill="#afafff"/><rect x="1203.9" fill="#b3b3ff"/><rect x="1213.5" fill="#bdbdff"/><rect x="1223.0" fill="#cdcdff"/><rect x="1232.5" fill="#d7d7ff"/><rect x="1242.0" fill="#d7d7ff"/></g><g transform="translate(0 399.7)"><rect x="680.5" fill="#d6d6ff"/><rect x="690.0" fill="#d6d6ff"/><rect x="699.5" fill="#c9c9ff"/><rect x="709.0" fill="#b9b9ff"/><rect x="718.5" fill="#afafff"/><rect x="728.1" fill="#ababff"/><rect x="737.6" fill="#aaaaff"/><rect x="747.1" fill="#ababff"/><rect x="756.6" fill="#acacff"/><rect x="766.1" fill="#afafff"/><rect x="775.6" fill="#b0b0ff"/><rect x="785.2" fill="#b2b2ff"/><rect x="794.7" fill="#b2b2ff"/><rect x="804.2" fill="#b2b2ff"/><rect x="813.7" fill="#b1b1ff"/><rect x="823.2" fill="#b0b0ff"/><rect x="832.8" fill="#aeaeff"/><rect x="842.3" fill="#adadff"/><rect x="851.8" fill="#acacff"/><rect x="861.3" fill="#acacff"/><rect x="870.8" fill="#acacff"/><rect x="880.3" fill="#adadff"/><rect x="889.9" fill="#aeaeff"/><rect x="899.4" fill="#aeaeff"/><rect x="908.9" fill="#acacff"/><rect x="918.4" fill="#aaaaff"/><rect x="927.9" fill="#a7a7ff"/><rect x="937.4" fill="#a5a5ff"/><rect x="947.0" fill="#a2a2ff"/><rect x="956.5" fill="#a1a1ff"/><rect x="966.0" fill="#a1a1ff"/><rect x="975.5" fill="#a3a3ff"/><rect x="985.0" fill="#a5a5ff"/><rect x="994.6" fill="#a8a8ff"/><rect x="1004.1" fill="#ababff"/><rect x="1013.6" fill="#aeaeff"/><rect x="1023.1" fill="#b0b0ff"/><rect x="1032.6" fill="#b1b1ff"/><rect x="1042.1" fill="#b2b2ff"/><rect x="1051.7" fill="#b3b3ff"/><rect x="1061.2" fill="#b3b3ff"/><rect x="1070.7" fill="#b4b4ff"/><rect x="1080.2" fill="#b4b4ff"/><rect x="1089.7" fill="#b4b4ff"/><rect x="1099.2" fill="#b4b4ff"/><rect x="1108.8" fill="#b4b4ff"/><rect x="1118.3" fill="#b3b3ff"/><rect x="1127.8" fill="#b3b3ff"/><rect x="1137.3" fill="#b3b3ff"/><rect x="1146.8" fill="#b2b2ff"/><rect x="1156.4" fill="#b2b2ff"/><rect x="1165.9" fill="#b1b1ff"/><rect x="1175.4" fill="#b1b1ff"/><rect x="1184.9" fill="#b2b2ff"/><rect x="1194.4" fill="#b3b3ff"/><rect x="1203.9" fill="#b7b7ff"/><rect x="1213.5" fill="#c0c0ff"/><rect x="1223.0" fill="#cfcfff"/><rect x="1232.5" fill="#d9d9ff"/><rect x="1242.0" fill="#d9d9ff"/></g><g transform="translate(0 409.2)"><rect x="680.5" fill="#d9d9ff"/><rect x="690.0" fill="#d9d9ff"/><rect x="699.5" fill="#cdcdff"/><rect x="709.0" fill="#bfbfff"/><rect x="718.5" fill="#b6b6ff"/><rect x="728.1" fill="#b2b2ff"/><rect x="737.6" fill="#b1b1ff"/><rect x="747.1" fill="#b2b2ff"/><rect x="756.6" fill="#b3b3ff"/><rect x="766.1" fill="#b4b4ff"/><rect x="775.6" fill="#b6b6ff"/><rect x="785.2" fill="#b7b7ff"/><rect x="794.7" fill="#b7b7ff"/><rect x="804.2" fill="#b7b7ff"/><rect x="813.7" fill="#b6b6ff"/><rect x="823.2" fill="#b4b4ff"/><rect x="832.8" fill="#b3b3ff"/><rect x="842.3" fill="#b2b2ff"/><rect x="851.8" fill="#b1b1ff"/><rect x="861.3" fill="#b1b1ff"/><rect x="870.8" fill="#b1b1ff"/><rect x="880.3" fill="#b2b2ff"/><rect x="889.9" fill="#b3b3ff"/><rect x="899.4" fill="#b3b3ff"/><rect x="908.9" fill="#b2b2ff"/><rect x="918.4" fill="#b0b0ff"/><rect x="927.9" fill="#aeaeff"/><rect x="937.4" fill="#acacff"/><rect x="947.0" fill="#aaaaff"/><rect x="956.5" fill="#a9a9ff"/><rect x="966.0" fill="#a9a9ff"/><rect x="975.5" fill="#aaaaff"/><rect x="985.0" fill="#acacff"/><rect x="994.6" fill="#afafff"/><rect x="1004.1" fill="#b1b1ff"/><rect x="1013.6" fill="#b3b3ff"/><rect x="1023.1" fill="#b5b5ff"/><rect x="1032.6" fill="#b6b6ff"/><rect x="1042.1" fill="#b7b7ff"/><rect x="1051.7" fill="#b7b7ff"/><rect x="1061.2" fill="#b8b8ff"/><rect x="1070.7" fill="#b8b8ff"/><rect x="1080.2" fill="#b8b8ff"/><rect x="1089.7" fill="#b8b8ff"/><rect x="1099.2" fill="#b8b8ff"/><rect x="1108.8" fill="#b8b8ff"/><rect x="1118.3" fill="#b8b8ff"/><rect x="1127.8" fill="#b8b8ff"/><rect x="1137.3" fill="#b7b7ff"/><rect x="1146.8" fill="#b7b7ff"/><rect x="1156.4" fill="#b7b7ff"/><rect x="1165.9" fill="#b7b7ff"/><rect x="1175.4" fill="#b7b7ff"/><rect x="1184.9" fill="#b7b7ff"/><rect x="1194.4" fill="#b8b8ff"/><rect x="1203.9" fill="#bcbcff"/><rect x="1213.5" fill="#c4c4ff"/><rect x="1223.0" fill="#d2d2ff"/><rect x="1232.5" fill="#dbdbff"/><rect x="1242.0" fill="#dbdbff"/></g><g transform="translate(0 418.7)"><rect x="680.5" fill="#ddddff"/><rect x="690.0" fill="#ddddff"/><rect x="699.5" fill="#d2d2ff"/><rect x="709.0" fill="#c5c5ff"/><rect x="718.5" fill="#bdbdff"/><rect x="728.1" fill="#babaff"/><rect x="737.6" fill="#b9b9ff"/><rect x="747.1" fill="#b9b9ff"/><rect x="756.6" fill="#babaff"/><rect x="766.1" fill="#bbbbff"/><rect x="775.6" fill="#bcbcff"/><rect x="785.2" fill="#bcbcff"/><rect x="794.7" fill="#bcbcff"/><rect x="804.2" fill="#bcbcff"/><rect x="813.7" fill="#bbbbff"/><rect x="823.2" fill="#babaff"/><rect x="832.8" fill="#b9b9ff"/><rect x="842.3" fill="#b8b8ff"/><rect x="851.8" fill="#b7b7ff"/><rect x="861.3" fill="#b7b7ff"/><rect x="870.8" fill="#b8b8ff"/><rect x="880.3" fill="#b9b9ff"/><rect x="889.9" fill="#b9b9ff"/><rect x="899.4" fill="#b9b9ff"/><rect x="908.9" fill="#b8b8ff"/><rect x="918.4" fill="#b7b7ff"/><rect x="927.9" fill="#b6b6ff"/><rect x="937.4" fill="#b4b4ff"/><rect x="947.0" fill="#b3b3ff"/><rect x="956.5" fill="#b2b2ff"/><rect x="966.0" fill="#b2b2ff"/><rect x="975.5" fill="#b3b3ff"/><rect x="985.0" fill="#b4b4ff"/><rect x="994.6" fill="#b6b6ff"/><rect x="1004.1" fill="#b8b8ff"/><rect x="1013.6" fill="#babaff"/><rect x="1023.1" fill="#bbbbff"/><rect x="1032.6" fill="#bcbcff"/><rect x="1042.1" fill="#bcbcff"/><rect x="1051.7" fill="#bdbdff"/><rect x="1061.2" fill="#bdbdff"/><rect x="1070.7" fill="#bdbdff"/><rect x="1080.2" fill="#bdbdff"/><rect x="1089.7" fill="#bdbdff"/><rect x="1099.2" fill="#bdbdff"/><rect x="1108.8" fill="#bdbdff"/><rect x="1118.3" fill="#bdbdff"/><rect x="1127.8" fill="#bdbdff"/><rect x="1137.3" fill="#bdbdff"/><rect x="1146.8" fill="#bdbdff"/><rect x="1156.4" fill="#bdbdff"/><rect x="1165.9" fill="#bdbdff"/><rect x="1175.4" fill="#bdbdff"/><rect x="1184.9" fill="#bdbdff"/><rect x="1194.4" fill="#bebeff"/><rect x="1203.9" fill="#c1c1ff"/><rect x="1213.5" fill="#c9c9ff"/><rect x="1223.0" fill="#d6d6ff"/><rect x="1232.5" fill="#dedeff"/><rect x="1242.0" fill="#dedeff"/></g><g transform="translate(0 428.2)"><rect x="680.5" fill="#e1e1ff"/><rect x="690.0" fill="#e1e1ff"/><rect x="699.5" fill="#d7d7ff"/><rect x="709.0" fill="#cbcbff"/><rect x="718.5" fill="#c5c5ff"/><rect x="728.1" fill="#c2c2ff"/><rect x="737.6" fill="#c1c1ff"/><rect x="747.1" fill="#c1c1ff"/><rect x="756.6" fill="#c2c2ff"/><rect x="766.1" fill="#c2c2ff"/><rect x="775.6" fill="#c3c3ff"/><rect x="785.2" fill="#c3c3ff"/><rect x="794.7" fill="#c3c3ff"/><rect x="804.2" fill="#c3c3ff"/><rect x="813.7" fill="#c2c2ff"/><rect x="823.2" fill="#c1c1ff"/><rect x="832.8" fill="#c0c0ff"/><rect x="842.3" fill="#bfbfff"/><rect x="851.8" fill="#bfbfff"/><rect x="861.3" fill="#bfbfff"/><rect x="870.8" fill="#bfbfff"/><rect x="880.3" fill="#c0c0ff"/><rect x="889.9" fill="#c0c0ff"/><rect x="899.4" fill="#c0c0ff"/><rect x="908.9" fill="#c0c0ff"/><rect x="918.4" fill="#bfbfff"/><rect x="927.9" fill="#bebeff"/><rect x="937.4" fill="#bcbcff"/><rect x="947.0" fill="#bbbbff"/><rect x="956.5" fill="#bbbbff"/><rect x="966.0" fill="#bbbbff"/><rect x="975.5" fill="#bbbbff"/><rect x="985.0" fill="#bdbdff"/><rect x="994.6" fill="#bebeff"/><rect x="1004.1" fill="#bfbfff"/><rect x="1013.6" fill="#c1c1ff"/><rect x="1023.1" fill="#c2c2ff"/><rect x="1032.6" fill="#c2c2ff"/><rect x="1042.1" fill="#c3c3ff"/><rect x="1051.7" fill="#c3c3ff"/><rect x="1061.2" fill="#c3c3ff"/><rect x="1070.7" fill="#c4c4ff"/><rect x="1080.2" fill="#c4c4ff"/><rect x="1089.7" fill="#c4c4ff"/><rect x="1099.2" fill="#c4c4ff"/><rect x="1108.8" fill="#c4c4ff"/><rect x="1118.3" fill="#c4c4ff"/><rect x="1127.8" fill="#c4c4ff"/><rect x="1137.3" fill="#c3c3ff"/><rect x="1146.8" fill="#c3c3ff"/><rect x="1156.4" fill="#c3c3ff"/><rect x="1165.9" fill="#c3c3ff"/><rect x="1175.4" fill="#c3c3ff"/><rect x="1184.9" fill="#c3c3ff"/><rect x="1194.4" fill="#c4c4ff"/><rect x="1203.9" fill="#c7c7ff"/><rect x="1213.5" fill="#ceceff"/><rect x="1223.0" fill="#dadaff"/><rect x="1232.5" fill="#e1e1ff"/><rect x="1242.0" fill="#e1e1ff"/></g><g transform="translate(0 437.7)"><rect x="680.5" fill="#e4e4ff"/><rect x="690.0" fill="#e4e4ff"/><rect x="699.5" fill="#dcdcff"/><rect x="709.0" fill="#d2d2ff"/><rect x="718.5" fill="#ccccff"/><rect x="728.1" fill="#cacaff"/><rect x="737.6" fill="#cacaff"/><rect x="747.1" fill="#cacaff"/><rect x="756.6" fill="#cacaff"/><rect x="766.1" fill="#cacaff"/><rect x="775.6" fill="#cacaff"/><rect x="785.2" fill="#cacaff"/><rect x="794.7" fill="#cacaff"/><rect x="804.2" fill="#cacaff"/><rect x="813.7" fill="#cacaff"/><rect x="823.2" fill="#c9c9ff"/><rect x="832.8" fill="#c8c8ff"/><rect x="842.3" fill="#c8c8ff"/><rect x="851.8" fill="#c7c7ff"/><rect x="861.3" fill="#c7c7ff"/><rect x="870.8" fill="#c8c8ff"/><rect x="880.3" fill="#c8c8ff"/><rect x="889.9" fill="#c8c8ff"/><rect x="899.4" fill="#c8c8ff"/><rect x="908.9" fill="#c8c8ff"/><rect x="918.4" fill="#c7c7ff"/><rect x="927.9" fill="#c6c6ff"/><rect x="937.4" fill="#c5c5ff"/><rect x="947.0" fill="#c4c4ff"/><rect x="956.5" fill="#c4c4ff"/><rect x="966.0" fill="#c4c4ff"/><rect x="975.5" fill="#c4c4ff"/><rect x="985.0" fill="#c5c5ff"/><rect x="994.6" fill="#c6c6ff"/><rect x="1004.1" fill="#c8c8ff"/><rect x="1013.6" fill="#c9c9ff"/><rect x="1023.1" fill="#c9c9ff"/><rect x="1032.6" fill="#cacaff"/><rect x="1042.1" fill="#cacaff"/><rect x="1051.7" fill="#cacaff"/><rect x="1061.2" fill="#cbcbff"/><rect x="1070.7" fill="#cbcbff"/><rect x="1080.2" fill="#cbcbff"/><rect x="1089.7" fill="#cbcbff"/><rect x="1099.2" fill="#cbcbff"/><rect x="1108.8" fill="#cbcbff"/><rect x="1118.3" fill="#cbcbff"/><rect x="1127.8" fill="#cbcbff"/><rect x="1137.3" fill="#cbcbff"/><rect x="1146.8" fill="#cbcbff"/><rect x="1156.4" fill="#cbcbff"/><rect x="1165.9" fill="#cbcbff"/><rect x="1175.4" fill="#cbcbff"/><rect x="1184.9" fill="#cbcbff"/><rect x="1194.4" fill="#ccccff"/><rect x="1203.9" fill="#ceceff"/><rect x="1213.5" fill="#d4d4ff"/><rect x="1223.0" fill="#dedeff"/><rect x="1232.5" fill="#e5e5ff"/><rect x="1242.0" fill="#e5e5ff"/></g><g transform="translate(0 447.2)"><rect x="680.5" fill="#e8e8ff"/><rect x="690.0" fill="#e8e8ff"/><rect x="699.5" fill="#e1e1ff"/><rect x="709.0" fill="#d9d9ff"/><rect x="718.5" fill="#d4d4ff"/><rect x="728.1" fill="#d2d2ff"/><rect x="737.6" fill="#d2d2ff"/><rect x="747.1" fill="#d2d2ff"/><rect x="756.6" fill="#d2d2ff"/><rect x="766.1" fill="#d2d2ff"/><rect x="775.6" fill="#d2d2ff"/><rect x="785.2" fill="#d2d2ff"/><rect x="794.7" fill="#d2d2ff"/><rect x="804.2" fill="#d2d2ff"/><rect x="813.7" fill="#d2d2ff"/><rect x="823.2" fill="#d1d1ff"/><rect x="832.8" fill="#d1d1ff"/><rect x="842.3" fill="#d0d0ff"/><rect x="851.8" fill="#d0d0ff"/><rect x="861.3" fill="#d0d0ff"/><rect x="870.8" fill="#d0d0ff"/><rect x="880.3" fill="#d0d0ff"/><rect x="889.9" fill="#d1d1ff"/><rect x="899.4" fill="#d1d1ff"/><rect x="908.9" fill="#d0d0ff"/><rect x="918.4" fill="#d0d0ff"/><rect x="927.9" fill="#cfcfff"/><rect x="937.4" fill="#ceceff"/><rect x="947.0" fill="#cdcdff"/><rect x="956.5" fill="#cdcdff"/><rect x="966.0" fill="#cdcdff"/><rect x="975.5" fill="#ceceff"/><rect x="985.0" fill="#ceceff"/><rect x="994.6" fill="#cfcfff"/><rect x="1004.1" fill="#d0d0ff"/><rect x="1013.6" fill="#d1d1ff"/><rect x="1023.1" fill="#d1d1ff"/><rect x="1032.6" fill="#d2d2ff"/><rect x="1042.1" fill="#d2d2ff"/><rect x="1051.7" fill="#d2d2ff"/><rect x="1061.2" fill="#d2d2ff"/><rect x="1070.7" fill="#d2d2ff"/><rect x="1080.2" fill="#d2d2ff"/><rect x="1089.7" fill="#d2d2ff"/><rect x="1099.2" fill="#d2d2ff"/><rect x="1108.8" fill="#d2d2ff"/><rect x="1118.3" fill="#d2d2ff"/><rect x="1127.8" fill="#d2d2ff"/><rect x="1137.3" fill="#d2d2ff"/><rect x="1146.8" fill="#d2d2ff"/><rect x="1156.4" fill="#d2d2ff"/><rect x="1165.9" fill="#d2d2ff"/><rect x="1175.4" fill="#d2d2ff"/><rect x="1184.9" fill="#d2d2ff"/><rect x="1194.4" fill="#d3d3ff"/><rect x="1203.9" fill="#d5d5ff"/><rect x="1213.5" fill="#dadaff"/><rect x="1223.0" fill="#e3e3ff"/><rect x="1232.5" fill="#e9e9ff"/><rect x="1242.0" fill="#e9e9ff"/></g><g transform="translate(0 456.8)"><rect x="680.5" fill="#ececff"/><rect x="690.0" fill="#ececff"/><rect x="699.5" fill="#e6e6ff"/><rect x="709.0" fill="#dfdfff"/><rect x="718.5" fill="#dcdcff"/><rect x="728.1" fill="#dadaff"/><rect x="737.6" fill="#dadaff"/><rect x="747.1" fill="#dadaff"/><rect x="756.6" fill="#dadaff"/><rect x="766.1" fill="#dadaff"/><rect x="775.6" fill="#dadaff"/><rect x="785.2" fill="#dadaff"/><rect x="794.7" fill="#dadaff"/><rect x="804.2" fill="#dadaff"/><rect x="813.7" fill="#d9d9ff"/><rect x="823.2" fill="#d9d9ff"/><rect x="832.8" fill="#d9d9ff"/><rect x="842.3" fill="#d9d9ff"/><rect x="851.8" fill="#d8d8ff"/><rect x="861.3" fill="#d8d8ff"/><rect x="870.8" fill="#d9d9ff"/><rect x="880.3" fill="#d9d9ff"/><rect x="889.9" fill="#d9d9ff"/><rect x="899.4" fill="#d9d9ff"/><rect x="908.9" fill="#d8d8ff"/><rect x="918.4" fill="#d8d8ff"/><rect x="927.9" fill="#d7d7ff"/><rect x="937.4" fill="#d7d7ff"/><rect x="947.0" fill="#d6d6ff"/><rect x="956.5" fill="#d6d6ff"/><rect x="966.0" fill="#d6d6ff"/><rect x="975.5" fill="#d6d6ff"/><rect x="985.0" fill="#d7d7ff"/><rect x="994.6" fill="#d7d7ff"/><rect x="1004.1" fill="#d8d8ff"/><rect x="1013.6" fill="#d9d9ff"/><rect x="1023.1" fill="#d9d9ff"/><rect x="1032.6" fill="#d9d9ff"/><rect x="1042.1" fill="#dadaff"/><rect x="1051.7" fill="#dadaff"/><rect x="1061.2" fill="#dadaff"/><rect x="1070.7" fill="#dadaff"/><rect x="1080.2" fill="#dadaff"/><rect x="1089.7" fill="#dadaff"/><rect x="1099.2" fill="#dadaff"/><rect x="1108.8" fill="#dadaff"/><rect x="1118.3" fill="#dadaff"/><rect x="1127.8" fill="#dadaff"/><rect x="1137.3" fill="#dadaff"/><rect x="1146.8" fill="#dadaff"/><rect x="1156.4" fill="#dadaff"/><rect x="1165.9" fill="#dadaff"/><rect x="1175.4" fill="#dadaff"/><rect x="1184.9" fill="#dadaff"/><rect x="1194.4" fill="#dadaff"/><rect x="1203.9" fill="#dcdcff"/><rect x="1213.5" fill="#e1e1ff"/><rect x="1223.0" fill="#e8e8ff"/><rect x="1232.5" fill="#ececff"/><rect x="1242.0" fill="#ececff"/></g><g transform="translate(0 466.3)"><rect x="680.5" fill="#f0f0ff"/><rect x="690.0" fill="#f0f0ff"/><rect x="699.5" fill="#ebebff"/><rect x="709.0" fill="#e6e6ff"/><rect x="718.5" fill="#e3e3ff"/><rect x="728.1" fill="#e1e1ff"/><rect x="737.6" fill="#e1e1ff"/><rect x="747.1" fill="#e1e1ff"/><rect x="756.6" fill="#e1e1ff"/><rect x="766.1" fill="#e1e1ff"/><rect x="775.6" fill="#e1e1ff"/><rect x="785.2" fill="#e1e1ff"/><rect x="794.7" fill="#e1e1ff"/><rect x="804.2" fill="#e1e1ff"/><rect x="813.7" fill="#e1e1ff"/><rect x="823.2" fill="#e1e1ff"/><rect x="832.8" fill="#e0e0ff"/><rect x="842.3" fill="#e0e0ff"/><rect x="851.8" fill="#e0e0ff"/><rect x="861.3" fill="#e0e0ff"/><rect x="870.8" fill="#e0e0ff"/><rect x="880.3" fill="#e0e0ff"/><rect x="889.9" fill="#e0e0ff"/><rect x="899.4" fill="#e0e0ff"/><rect x="908.9" fill="#e0e0ff"/><rect x="918.4" fill="#e0e0ff"/><rect x="927.9" fill="#dfdfff"/><rect x="937.4" fill="#dfdfff"/><rect x="947.0" fill="#dedeff"/><rect x="956.5" fill="#dedeff"/><rect x="966.0" fill="#dedeff"/><rect x="975.5" fill="#dedeff"/><rect x="985.0" fill="#dfdfff"/><rect x="994.6" fill="#dfdfff"/><rect x="1004.1" fill="#e0e0ff"/><rect x="1013.6" fill="#e0e0ff"/><rect x="1023.1" fill="#e0e0ff"/><rect x="1032.6" fill="#e1e1ff"/><rect x="1042.1" fill="#e1e1ff"/><rect x="1051.7" fill="#e1e1ff"/><rect x="1061.2" fill="#e1e1ff"/><rect x="1070.7" fill="#e1e1ff"/><rect x="1080.2" fill="#e1e1ff"/><rect x="1089.7" fill="#e1e1ff"/><rect x="1099.2" fill="#e1e1ff"/><rect x="1108.8" fill="#e1e1ff"/><rect x="1118.3" fill="#e1e1ff"/><rect x="1127.8" fill="#e1e1ff"/><rect x="1137.3" fill="#e1e1ff"/><rect x="1146.8" fill="#e1e1ff"/><rect x="1156.4" fill="#e1e1ff"/><rect x="1165.9" fill="#e1e1ff"/><rect x="1175.4" fill="#e1e1ff"/><rect x="1184.9" fill="#e1e1ff"/><rect x="1194.4" fill="#e2e2ff"/><rect x="1203.9" fill="#e3e3ff"/><rect x="1213.5" fill="#e6e6ff"/><rect x="1223.0" fill="#ececff"/><rect x="1232.5" fill="#f0f0ff"/><rect x="1242.0" fill="#f0f0ff"/></g><g transform="translate(0 475.8)"><rect x="680.5" fill="#f3f3ff"/><rect x="690.0" fill="#f3f3ff"/><rect x="699.5" fill="#efefff"/><rect x="709.0" fill="#ebebff"/><rect x="718.5" fill="#e9e9ff"/><rect x="728.1" fill="#e8e8ff"/><rect x="737.6" fill="#e7e7ff"/><rect x="747.1" fill="#e7e7ff"/><rect x="756.6" fill="#e7e7ff"/><rect x="766.1" fill="#e7e7ff"/><rect x="775.6" fill="#e7e7ff"/><rect x="785.2" fill="#e7e7ff"/><rect x="794.7" fill="#e7e7ff"/><rect x="804.2" fill="#e7e7ff"/><rect x="813.7" fill="#e7e7ff"/><rect x="823.2" fill="#e7e7ff"/><rect x="832.8" fill="#e7e7ff"/><rect x="842.3" fill="#e7e7ff"/><rect x="851.8" fill="#e7e7ff"/><rect x="861.3" fill="#e7e7ff"/><rect x="870.8" fill="#e7e7ff"/><rect x="880.3" fill="#e7e7ff"/><rect x="889.9" fill="#e7e7ff"/><rect x="899.4" fill="#e7e7ff"/><rect x="908.9" fill="#e7e7ff"/><rect x="918.4" fill="#e6e6ff"/><rect x="927.9" fill="#e6e6ff"/><rect x="937.4" fill="#e6e6ff"/><rect x="947.0" fill="#e5e5ff"/><rect x="956.5" fill="#e5e5ff"/><rect x="966.0" fill="#e5e5ff"/><rect x="975.5" fill="#e6e6ff"/><rect x="985.0" fill="#e6e6ff"/><rect x="994.6" fill="#e6e6ff"/><rect x="1004.1" fill="#e6e6ff"/><rect x="1013.6" fill="#e7e7ff"/><rect x="1023.1" fill="#e7e7ff"/><rect x="1032.6" fill="#e7e7ff"/><rect x="1042.1" fill="#e7e7ff"/><rect x="1051.7" fill="#e7e7ff"/><rect x="1061.2" fill="#e7e7ff"/><rect x="1070.7" fill="#e7e7ff"/><rect x="1080.2" fill="#e7e7ff"/><rect x="1089.7" fill="#e7e7ff"/><rect x="1099.2" fill="#e7e7ff"/><rect x="1108.8" fill="#e7e7ff"/><rect x="1118.3" fill="#e7e7ff"/><rect x="1127.8" fill="#e7e7ff"/><rect x="1137.3" fill="#e7e7ff"/><rect x="1146.8" fill="#e7e7ff"/><rect x="1156.4" fill="#e7e7ff"/><rect x="1165.9" fill="#e7e7ff"/><rect x="1175.4" fill="#e7e7ff"/><rect x="1184.9" fill="#e7e7ff"/><rect x="1194.4" fill="#e8e8ff"/><rect x="1203.9" fill="#e9e9ff"/><rect x="1213.5" fill="#ececff"/><rect x="1223.0" fill="#f0f0ff"/><rect x="1232.5" fill="#f3f3ff"/><rect x="1242.0" fill="#f3f3ff"/></g><g transform="translate(0 485.3)"><rect x="680.5" fill="#f6f6ff"/><rect x="690.0" fill="#f6f6ff"/><rect x="699.5" fill="#f3f3ff"/><rect x="709.0" fill="#f0f0ff"/><rect x="718.5" fill="#eeeeff"/><rect x="728.1" fill="#ededff"/><rect x="737.6" fill="#ededff"/><rect x="747.1" fill="#ededff"/><rect x="756.6" fill="#ededff"/><rect x="766.1" fill="#ededff"/><rect x="775.6" fill="#ededff"/><rect x="785.2" fill="#ededff"/><rect x="794.7" fill="#ededff"/><rect x="804.2" fill="#ededff"/><rect x="813.7" fill="#ededff"/><rect x="823.2" fill="#ededff"/><rect x="832.8" fill="#ededff"/><rect x="842.3" fill="#ededff"/><rect x="851.8" fill="#ededff"/><rect x="861.3" fill="#ededff"/><rect x="870.8" fill="#ededff"/><rect x="880.3" fill="#ededff"/><rect x="889.9" fill="#ededff"/><rect x="899.4" fill="#ececff"/><rect x="908.9" fill="#ececff"/><rect x="918.4" fill="#ececff"/><rect x="927.9" fill="#ececff"/><rect x="937.4" fill="#ececff"/><rect x="947.0" fill="#ebebff"/><rect x="956.5" fill="#ebebff"/><rect x="966.0" fill="#ebebff"/><rect x="975.5" fill="#ebebff"/><rect x="985.0" fill="#ececff"/><rect x="994.6" fill="#ececff"/><rect x="1004.1" fill="#ececff"/><rect x="1013.6" fill="#ececff"/><rect x="1023.1" fill="#ededff"/><rect x="1032.6" fill="#ededff"/><rect x="1042.1" fill="#ededff"/><rect x="1051.7" fill="#ededff"/><rect x="1061.2" fill="#ededff"/><rect x="1070.7" fill="#ededff"/><rect x="1080.2" fill="#ededff"/><rect x="1089.7" fill="#ededff"/><rect x="1099.2" fill="#ededff"/><rect x="1108.8" fill="#ededff"/><rect x="1118.3" fill="#ededff"/><rect x="1127.8" fill="#ededff"/><rect x="1137.3" fill="#ededff"/><rect x="1146.8" fill="#ededff"/><rect x="1156.4" fill="#ededff"/><rect x="1165.9" fill="#ededff"/><rect x="1175.4" fill="#ededff"/><rect x="1184.9" fill="#ededff"/><rect x="1194.4" fill="#ededff"/><rect x="1203.9" fill="#eeeeff"/><rect x="1213.5" fill="#f0f0ff"/><rect x="1223.0" fill="#f4f4ff"/><rect x="1232.5" fill="#f6f6ff"/><rect x="1242.0" fill="#f6f6ff"/></g><g transform="translate(0 494.8)"><rect x="680.5" fill="#f8f8ff"/><rect x="690.0" fill="#f8f8ff"/><rect x="699.5" fill="#f6f6ff"/><rect x="709.0" fill="#f3f3ff"/><rect x="718.5" fill="#f2f2ff"/><rect x="728.1" fill="#f1f1ff"/><rect x="737.6" fill="#f1f1ff"/><rect x="747.1" fill="#f1f1ff"/><rect x="756.6" fill="#f1f1ff"/><rect x="766.1" fill="#f1f1ff"/><rect x="775.6" fill="#f1f1ff"/><rect x="785.2" fill="#f1f1ff"/><rect x="794.7" fill="#f1f1ff"/><rect x="804.2" fill="#f1f1ff"/><rect x="813.7" fill="#f1f1ff"/><rect x="823.2" fill="#f1f1ff"/><rect x="832.8" fill="#f1f1ff"/><rect x="842.3" fill="#f1f1ff"/><rect x="851.8" fill="#f1f1ff"/><rect x="861.3" fill="#f1f1ff"/><rect x="870.8" fill="#f1f1ff"/><rect x="880.3" fill="#f1f1ff"/><rect x="889.9" fill="#f1f1ff"/><rect x="899.4" fill="#f1f1ff"/><rect x="908.9" fill="#f1f1ff"/><rect x="918.4" fill="#f1f1ff"/><rect x="927.9" fill="#f1f1ff"/><rect x="937.4" fill="#f0f0ff"/><rect x="947.0" fill="#f0f0ff"/><rect x="956.5" fill="#f0f0ff"/><rect x="966.0" fill="#f0f0ff"/><rect x="975.5" fill="#f0f0ff"/><rect x="985.0" fill="#f0f0ff"/><rect x="994.6" fill="#f1f1ff"/><rect x="1004.1" fill="#f1f1ff"/><rect x="1013.6" fill="#f1f1ff"/><rect x="1023.1" fill="#f1f1ff"/><rect x="1032.6" fill="#f1f1ff"/><rect x="1042.1" fill="#f1f1ff"/><rect x="1051.7" fill="#f1f1ff"/><rect x="1061.2" fill="#f1f1ff"/><rect x="1070.7" fill="#f1f1ff"/><rect x="1080.2" fill="#f1f1ff"/><rect x="1089.7" fill="#f1f1ff"/><rect x="1099.2" fill="#f1f1ff"/><rect x="1108.8" fill="#f1f1ff"/><rect x="1118.3" fill="#f1f1ff"/><rect x="1127.8" fill="#f1f1ff"/><rect x="1137.3" fill="#f1f1ff"/><rect x="1146.8" fill="#f1f1ff"/><rect x="1156.4" fill="#f1f1ff"/><rect x="1165.9" fill="#f1f1ff"/><rect x="1175.4" fill="#f1f1ff"/><rect x="1184.9" fill="#f1f1ff"/><rect x="1194.4" fill="#f2f2ff"/><rect x="1203.9" fill="#f2f2ff"/><rect x="1213.5" fill="#f4f4ff"/><rect x="1223.0" fill="#f6f6ff"/><rect x="1232.5" fill="#f8f8ff"/><rect x="1242.0" fill="#f8f8ff"/></g><g transform="translate(0 504.4)"><rect x="680.5" fill="#fafaff"/><rect x="690.0" fill="#fafaff"/><rect x="699.5" fill="#f8f8ff"/><rect x="709.0" fill="#f6f6ff"/><rect x="718.5" fill="#f5f5ff"/><rect x="728.1" fill="#f5f5ff"/><rect x="737.6" fill="#f5f5ff"/><rect x="747.1" fill="#f5f5ff"/><rect x="756.6" fill="#f5f5ff"/><rect x="766.1" fill="#f5f5ff"/><rect x="775.6" fill="#f5f5ff"/><rect x="785.2" fill="#f5f5ff"/><rect x="794.7" fill="#f5f5ff"/><rect x="804.2" fill="#f5f5ff"/><rect x="813.7" fill="#f5f5ff"/><rect x="823.2" fill="#f5f5ff"/><rect x="832.8" fill="#f5f5ff"/><rect x="842.3" fill="#f5f5ff"/><rect x="851.8" fill="#f5f5ff"/><rect x="861.3" fill="#f5f5ff"/><rect x="870.8" fill="#f5f5ff"/><rect x="880.3" fill="#f5f5ff"/><rect x="889.9" fill="#f5f5ff"/><rect x="899.4" fill="#f5f5ff"/><rect x="908.9" fill="#f5f5ff"/><rect x="918.4" fill="#f4f4ff"/><rect x="927.9" fill="#f4f4ff"/><rect x="937.4" fill="#f4f4ff"/><rect x="947.0" fill="#f4f4ff"/><rect x="956.5" fill="#f4f4ff"/><rect x="966.0" fill="#f4f4ff"/><rect x="975.5" fill="#f4f4ff"/><rect x="985.0" fill="#f4f4ff"/><rect x="994.6" fill="#f4f4ff"/><rect x="1004.1" fill="#f4f4ff"/><rect x="1013.6" fill="#f5f5ff"/><rect x="1023.1" fill="#f5f5ff"/><rect x="1032.6" fill="#f5f5ff"/><rect x="1042.1" fill="#f5f5ff"/><rect x="1051.7" fill="#f5f5ff"/><rect x="1061.2" fill="#f5f5ff"/><rect x="1070.7" fill="#f5f5ff"/><rect x="1080.2" fill="#f5f5ff"/><rect x="1089.7" fill="#f5f5ff"/><rect x="1099.2" fill="#f5f5ff"/><rect x="1108.8" fill="#f5f5ff"/><rect x="1118.3" fill="#f5f5ff"/><rect x="1127.8" fill="#f5f5ff"/><rect x="1137.3" fill="#f5f5ff"/><rect x="1146.8" fill="#f5f5ff"/><rect x="1156.4" fill="#f5f5ff"/><rect x="1165.9" fill="#f5f5ff"/><rect x="1175.4" fill="#f5f5ff"/><rect x="1184.9" fill="#f5f5ff"/><rect x="1194.4" fill="#f5f5ff"/><rect x="1203.9" fill="#f5f5ff"/><rect x="1213.5" fill="#f7f7ff"/><rect x="1223.0" fill="#f9f9ff"/><rect x="1232.5" fill="#fafaff"/><rect x="1242.0" fill="#fafaff"/></g><g transform="translate(0 513.9)"><rect x="680.5" fill="#fbfbff"/><rect x="690.0" fill="#fbfbff"/><rect x="699.5" fill="#fafaff"/><rect x="709.0" fill="#f9f9ff"/><rect x="718.5" fill="#f8f8ff"/><rect x="728.1" fill="#f8f8ff"/><rect x="737.6" fill="#f8f8ff"/><rect x="747.1" fill="#f8f8ff"/><rect x="756.6" fill="#f7f7ff"/><rect x="766.1" fill="#f7f7ff"/><rect x="775.6" fill="#f7f7ff"/><rect x="785.2" fill="#f7f7ff"/><rect x="794.7" fill="#f7f7ff"/><rect x="804.2" fill="#f7f7ff"/><rect x="813.7" fill="#f7f7ff"/><rect x="823.2" fill="#f7f7ff"/><rect x="832.8" fill="#f7f7ff"/><rect x="842.3" fill="#f7f7ff"/><rect x="851.8" fill="#f7f7ff"/><rect x="861.3" fill="#f7f7ff"/><rect x="870.8" fill="#f7f7ff"/><rect x="880.3" fill="#f7f7ff"/><rect x="889.9" fill="#f7f7ff"/><rect x="899.4" fill="#f7f7ff"/><rect x="908.9" fill="#f7f7ff"/><rect x="918.4" fill="#f7f7ff"/><rect x="927.9" fill="#f7f7ff"/><rect x="937.4" fill="#f7f7ff"/><rect x="947.0" fill="#f7f7ff"/><rect x="956.5" fill="#f7f7ff"/><rect x="966.0" fill="#f7f7ff"/><rect x="975.5" fill="#f7f7ff"/><rect x="985.0" fill="#f7f7ff"/><rect x="994.6" fill="#f7f7ff"/><rect x="1004.1" fill="#f7f7ff"/><rect x="1013.6" fill="#f7f7ff"/><rect x="1023.1" fill="#f7f7ff"/><rect x="1032.6" fill="#f7f7ff"/><rect x="1042.1" fill="#f7f7ff"/><rect x="1051.7" fill="#f7f7ff"/><rect x="1061.2" fill="#f7f7ff"/><rect x="1070.7" fill="#f7f7ff"/><rect x="1080.2" fill="#f7f7ff"/><rect x="1089.7" fill="#f7f7ff"/><rect x="1099.2" fill="#f7f7ff"/><rect x="1108.8" fill="#f7f7ff"/><rect x="1118.3" fill="#f7f7ff"/><rect x="1127.8" fill="#f7f7ff"/><rect x="1137.3" fill="#f7f7ff"/><rect x="1146.8" fill="#f7f7ff"/><rect x="1156.4" fill="#f7f7ff"/><rect x="1165.9" fill="#f7f7ff"/><rect x="1175.4" fill="#f8f8ff"/><rect x="1184.9" fill="#f8f8ff"/><rect x="1194.4" fill="#f8f8ff"/><rect x="1203.9" fill="#f8f8ff"/><rect x="1213.5" fill="#f9f9ff"/><rect x="1223.0" fill="#fafaff"/><rect x="1232.5" fill="#fbfbff"/><rect x="1242.0" fill="#fbfbff"/></g><g transform="translate(0 523.4)"><rect x="680.5" fill="#fcfcff"/><rect x="690.0" fill="#fcfcff"/><rect x="699.5" fill="#fbfbff"/><rect x="709.0" fill="#fafaff"/><rect x="718.5" fill="#fafaff"/><rect x="728.1" fill="#fafaff"/><rect x="737.6" fill="#fafaff"/><rect x="747.1" fill="#fafaff"/><rect x="756.6" fill="#fafaff"/><rect x="766.1" fill="#fafaff"/><rect x="775.6" fill="#fafaff"/><rect x="785.2" fill="#fafaff"/><rect x="794.7" fill="#fafaff"/><rect x="804.2" fill="#fafaff"/><rect x="813.7" fill="#fafaff"/><rect x="823.2" fill="#fafaff"/><rect x="832.8" fill="#fafaff"/><rect x="842.3" fill="#fafaff"/><rect x="851.8" fill="#fafaff"/><rect x="861.3" fill="#fafaff"/><rect x="870.8" fill="#fafaff"/><rect x="880.3" fill="#fafaff"/><rect x="889.9" fill="#fafaff"/><rect x="899.4" fill="#fafaff"/><rect x="908.9" fill="#f9f9ff"/><rect x="918.4" fill="#f9f9ff"/><rect x="927.9" fill="#f9f9ff"/><rect x="937.4" fill="#f9f9ff"/><rect x="947.0" fill="#f9f9ff"/><rect x="956.5" fill="#f9f9ff"/><rect x="966.0" fill="#f9f9ff"/><rect x="975.5" fill="#f9f9ff"/><rect x="985.0" fill="#f9f9ff"/><rect x="994.6" fill="#f9f9ff"/><rect x="1004.1" fill="#f9f9ff"/><rect x="1013.6" fill="#f9f9ff"/><rect x="1023.1" fill="#fafaff"/><rect x="1032.6" fill="#fafaff"/><rect x="1042.1" fill="#fafaff"/><rect x="1051.7" fill="#fafaff"/><rect x="1061.2" fill="#fafaff"/><rect x="1070.7" fill="#fafaff"/><rect x="1080.2" fill="#fafaff"/><rect x="1089.7" fill="#fafaff"/><rect x="1099.2" fill="#fafaff"/><rect x="1108.8" fill="#fafaff"/><rect x="1118.3" fill="#fafaff"/><rect x="1127.8" fill="#fafaff"/><rect x="1137.3" fill="#fafaff"/><rect x="1146.8" fill="#fafaff"/><rect x="1156.4" fill="#fafaff"/><rect x="1165.9" fill="#fafaff"/><rect x="1175.4" fill="#fafaff"/><rect x="1184.9" fill="#fafaff"/><rect x="1194.4" fill="#fafaff"/><rect x="1203.9" fill="#fafaff"/><rect x="1213.5" fill="#fbfbff"/><rect x="1223.0" fill="#fcfcff"/><rect x="1232.5" fill="#fcfcff"/><rect x="1242.0" fill="#fcfcff"/></g><g transform="translate(0 532.9)"><rect x="680.5" fill="#fdfdff"/><rect x="690.0" fill="#fdfdff"/><rect x="699.5" fill="#fcfcff"/><rect x="709.0" fill="#fcfcff"/><rect x="718.5" fill="#fbfbff"/><rect x="728.1" fill="#fbfbff"/><rect x="737.6" fill="#fbfbff"/><rect x="747.1" fill="#fbfbff"/><rect x="756.6" fill="#fbfbff"/><rect x="766.1" fill="#fbfbff"/><rect x="775.6" fill="#fbfbff"/><rect x="785.2" fill="#fbfbff"/><rect x="794.7" fill="#fbfbff"/><rect x="804.2" fill="#fbfbff"/><rect x="813.7" fill="#fbfbff"/><rect x="823.2" fill="#fbfbff"/><rect x="832.8" fill="#fbfbff"/><rect x="842.3" fill="#fbfbff"/><rect x="851.8" fill="#fbfbff"/><rect x="861.3" fill="#fbfbff"/><rect x="870.8" fill="#fbfbff"/><rect x="880.3" fill="#fbfbff"/><rect x="889.9" fill="#fbfbff"/><rect x="899.4" fill="#fbfbff"/><rect x="908.9" fill="#fbfbff"/><rect x="918.4" fill="#fbfbff"/><rect x="927.9" fill="#fbfbff"/><rect x="937.4" fill="#fbfbff"/><rect x="947.0" fill="#fbfbff"/><rect x="956.5" fill="#fbfbff"/><rect x="966.0" fill="#fbfbff"/><rect x="975.5" fill="#fbfbff"/><rect x="985.0" fill="#fbfbff"/><rect x="994.6" fill="#fbfbff"/><rect x="1004.1" fill="#fbfbff"/><rect x="1013.6" fill="#fbfbff"/><rect x="1023.1" fill="#fbfbff"/><rect x="1032.6" fill="#fbfbff"/><rect x="1042.1" fill="#fbfbff"/><rect x="1051.7" fill="#fbfbff"/><rect x="1061.2" fill="#fbfbff"/><rect x="1070.7" fill="#fbfbff"/><rect x="1080.2" fill="#fbfbff"/><rect x="1089.7" fill="#fbfbff"/><rect x="1099.2" fill="#fbfbff"/><rect x="1108.8" fill="#fbfbff"/><rect x="1118.3" fill="#fbfbff"/><rect x="1127.8" fill="#fbfbff"/><rect x="1137.3" fill="#fbfbff"/><rect x="1146.8" fill="#fbfbff"/><rect x="1156.4" fill="#fbfbff"/><rect x="1165.9" fill="#fbfbff"/><rect x="1175.4" fill="#fbfbff"/><rect x="1184.9" fill="#fbfbff"/><rect x="1194.4" fill="#fbfbff"/><rect x="1203.9" fill="#fbfbff"/><rect x="1213.5" fill="#fcfcff"/><rect x="1223.0" fill="#fdfdff"/><rect x="1232.5" fill="#fdfdff"/><rect x="1242.0" fill="#fdfdff"/></g><g transform="translate(0 542.4)"><rect x="680.5" fill="#fefeff"/><rect x="690.0" fill="#fefeff"/><rect x="699.5" fill="#fdfdff"/><rect x="709.0" fill="#fdfdff"/><rect x="718.5" fill="#fdfdff"/><rect x="728.1" fill="#fcfcff"/><rect x="737.6" fill="#fcfcff"/><rect x="747.1" fill="#fcfcff"/><rect x="756.6" fill="#fcfcff"/><rect x="766.1" fill="#fcfcff"/><rect x="775.6" fill="#fcfcff"/><rect x="785.2" fill="#fcfcff"/><rect x="794.7" fill="#fcfcff"/><rect x="804.2" fill="#fcfcff"/><rect x="813.7" fill="#fcfcff"/><rect x="823.2" fill="#fcfcff"/><rect x="832.8" fill="#fcfcff"/><rect x="842.3" fill="#fcfcff"/><rect x="851.8" fill="#fcfcff"/><rect x="861.3" fill="#fcfcff"/><rect x="870.8" fill="#fcfcff"/><rect x="880.3" fill="#fcfcff"/><rect x="889.9" fill="#fcfcff"/><rect x="899.4" fill="#fcfcff"/><rect x="908.9" fill="#fcfcff"/><rect x="918.4" fill="#fcfcff"/><rect x="927.9" fill="#fcfcff"/><rect x="937.4" fill="#fcfcff"/><rect x="947.0" fill="#fcfcff"/><rect x="956.5" fill="#fcfcff"/><rect x="966.0" fill="#fcfcff"/><rect x="975.5" fill="#fcfcff"/><rect x="985.0" fill="#fcfcff"/><rect x="994.6" fill="#fcfcff"/><rect x="1004.1" fill="#fcfcff"/><rect x="1013.6" fill="#fcfcff"/><rect x="1023.1" fill="#fcfcff"/><rect x="1032.6" fill="#fcfcff"/><rect x="1042.1" fill="#fcfcff"/><rect x="1051.7" fill="#fcfcff"/><rect x="1061.2" fill="#fcfcff"/><rect x="1070.7" fill="#fcfcff"/><rect x="1080.2" fill="#fcfcff"/><rect x="1089.7" fill="#fcfcff"/><rect x="1099.2" fill="#fcfcff"/><rect x="1108.8" fill="#fcfcff"/><rect x="1118.3" fill="#fcfcff"/><rect x="1127.8" fill="#fcfcff"/><rect x="1137.3" fill="#fcfcff"/><rect x="1146.8" fill="#fcfcff"/><rect x="1156.4" fill="#fcfcff"/><rect x="1165.9" fill="#fcfcff"/><rect x="1175.4" fill="#fcfcff"/><rect x="1184.9" fill="#fcfcff"/><rect x="1194.4" fill="#fcfcff"/><rect x="1203.9" fill="#fdfdff"/><rect x="1213.5" fill="#fdfdff"/><rect x="1223.0" fill="#fdfdff"/><rect x="1232.5" fill="#fefeff"/><rect x="1242.0" fill="#fefeff"/></g><g transform="translate(0 551.9)"><rect x="680.5" fill="#fefeff"/><rect x="690.0" fill="#fefeff"/><rect x="699.5" fill="#fefeff"/><rect x="709.0" fill="#fefeff"/><rect x="718.5" fill="#fdfdff"/><rect x="728.1" fill="#fdfdff"/><rect x="737.6" fill="#fdfdff"/><rect x="747.1" fill="#fdfdff"/><rect x="756.6" fill="#fdfdff"/><rect x="766.1" fill="#fdfdff"/><rect x="775.6" fill="#fdfdff"/><rect x="785.2" fill="#fdfdff"/><rect x="794.7" fill="#fdfdff"/><rect x="804.2" fill="#fdfdff"/><rect x="813.7" fill="#fdfdff"/><rect x="823.2" fill="#fdfdff"/><rect x="832.8" fill="#fdfdff"/><rect x="842.3" fill="#fdfdff"/><rect x="851.8" fill="#fdfdff"/><rect x="861.3" fill="#fdfdff"/><rect x="870.8" fill="#fdfdff"/><rect x="880.3" fill="#fdfdff"/><rect x="889.9" fill="#fdfdff"/><rect x="899.4" fill="#fdfdff"/><rect x="908.9" fill="#fdfdff"/><rect x="918.4" fill="#fdfdff"/><rect x="927.9" fill="#fdfdff"/><rect x="937.4" fill="#fdfdff"/><rect x="947.0" fill="#fdfdff"/><rect x="956.5" fill="#fdfdff"/><rect x="966.0" fill="#fdfdff"/><rect x="975.5" fill="#fdfdff"/><rect x="985.0" fill="#fdfdff"/><rect x="994.6" fill="#fdfdff"/><rect x="1004.1" fill="#fdfdff"/><rect x="1013.6" fill="#fdfdff"/><rect x="1023.1" fill="#fdfdff"/><rect x="1032.6" fill="#fdfdff"/><rect x="1042.1" fill="#fdfdff"/><rect x="1051.7" fill="#fdfdff"/><rect x="1061.2" fill="#fdfdff"/><rect x="1070.7" fill="#fdfdff"/><rect x="1080.2" fill="#fdfdff"/><rect x="1089.7" fill="#fdfdff"/><rect x="1099.2" fill="#fdfdff"/><rect x="1108.8" fill="#fdfdff"/><rect x="1118.3" fill="#fdfdff"/><rect x="1127.8" fill="#fdfdff"/><rect x="1137.3" fill="#fdfdff"/><rect x="1146.8" fill="#fdfdff"/><rect x="1156.4" fill="#fdfdff"/><rect x="1165.9" fill="#fdfdff"/><rect x="1175.4" fill="#fdfdff"/><rect x="1184.9" fill="#fdfdff"/><rect x="1194.4" fill="#fdfdff"/><rect x="1203.9" fill="#fdfdff"/><rect x="1213.5" fill="#fefeff"/><rect x="1223.0" fill="#fefeff"/><rect x="1232.5" fill="#fefeff"/><rect x="1242.0" fill="#fefeff"/></g><g transform="translate(0 561.5)"><rect x="680.5" fill="#fefeff"/><rect x="690.0" fill="#fefeff"/><rect x="699.5" fill="#fefeff"/><rect x="709.0" fill="#fefeff"/><rect x="718.5" fill="#fefeff"/><rect x="728.1" fill="#fefeff"/><rect x="737.6" fill="#fefeff"/><rect x="747.1" fill="#fefeff"/><rect x="756.6" fill="#fefeff"/><rect x="766.1" fill="#fefeff"/><rect x="775.6" fill="#fefeff"/><rect x="785.2" fill="#fefeff"/><rect x="794.7" fill="#fefeff"/><rect x="804.2" fill="#fefeff"/><rect x="813.7" fill="#fefeff"/><rect x="823.2" fill="#fefeff"/><rect x="832.8" fill="#fefeff"/><rect x="842.3" fill="#fefeff"/><rect x="851.8" fill="#fefeff"/><rect x="861.3" fill="#fefeff"/><rect x="870.8" fill="#fefeff"/><rect x="880.3" fill="#fefeff"/><rect x="889.9" fill="#fefeff"/><rect x="899.4" fill="#fefeff"/><rect x="908.9" fill="#fefeff"/><rect x="918.4" fill="#fefeff"/><rect x="927.9" fill="#fefeff"/><rect x="937.4" fill="#fefeff"/><rect x="947.0" fill="#fefeff"/><rect x="956.5" fill="#fefeff"/><rect x="966.0" fill="#fefeff"/><rect x="975.5" fill="#fefeff"/><rect x="985.0" fill="#fefeff"/><rect x="994.6" fill="#fefeff"/><rect x="1004.1" fill="#fefeff"/><rect x="1013.6" fill="#fefeff"/><rect x="1023.1" fill="#fefeff"/><rect x="1032.6" fill="#fefeff"/><rect x="1042.1" fill="#fefeff"/><rect x="1051.7" fill="#fefeff"/><rect x="1061.2" fill="#fefeff"/><rect x="1070.7" fill="#fefeff"/><rect x="1080.2" fill="#fefeff"/><rect x="1089.7" fill="#fefeff"/><rect x="1099.2" fill="#fefeff"/><rect x="1108.8" fill="#fefeff"/><rect x="1118.3" fill="#fefeff"/><rect x="1127.8" fill="#fefeff"/><rect x="1137.3" fill="#fefeff"/><rect x="1146.8" fill="#fefeff"/><rect x="1156.4" fill="#fefeff"/><rect x="1165.9" fill="#fefeff"/><rect x="1175.4" fill="#fefeff"/><rect x="1184.9" fill="#fefeff"/><rect x="1194.4" fill="#fefeff"/><rect x="1203.9" fill="#fefeff"/><rect x="1213.5" fill="#fefeff"/><rect x="1223.0" fill="#fefeff"/><rect x="1232.5" fill="#fefeff"/><rect x="1242.0" fill="#fefeff"/></g><g transform="translate(0 571.0)"><rect x="680.5" fill="#ffffff"/><rect x="690.0" fill="#ffffff"/><rect x="699.5" fill="#ffffff"/><rect x="709.0" fill="#fefeff"/><rect x="718.5" fill="#fefeff"/><rect x="728.1" fill="#fefeff"/><rect x="737.6" fill="#fefeff"/><rect x="747.1" fill="#fefeff"/><rect x="756.6" fill="#fefeff"/><rect x="766.1" fill="#fefeff"/><rect x="775.6" fill="#fefeff"/><rect x="785.2" fill="#fefeff"/><rect x="794.7" fill="#fefeff"/><rect x="804.2" fill="#fefeff"/><rect x="813.7" fill="#fefeff"/><rect x="823.2" fill="#fefeff"/><rect x="832.8" fill="#fefeff"/><rect x="842.3" fill="#fefeff"/><rect x="851.8" fill="#fefeff"/><rect x="861.3" fill="#fefeff"/><rect x="870.8" fill="#fefeff"/><rect x="880.3" fill="#fefeff"/><rect x="889.9" fill="#fefeff"/><rect x="899.4" fill="#fefeff"/><rect x="908.9" fill="#fefeff"/><rect x="918.4" fill="#fefeff"/><rect x="927.9" fill="#fefeff"/><rect x="937.4" fill="#fefeff"/><rect x="947.0" fill="#fefeff"/><rect x="956.5" fill="#fefeff"/><rect x="966.0" fill="#fefeff"/><rect x="975.5" fill="#fefeff"/><rect x="985.0" fill="#fefeff"/><rect x="994.6" fill="#fefeff"/><rect x="1004.1" fill="#fefeff"/><rect x="1013.6" fill="#fefeff"/><rect x="1023.1" fill="#fefeff"/><rect x="1032.6" fill="#fefeff"/><rect x="1042.1" fill="#fefeff"/><rect x="1051.7" fill="#fefeff"/><rect x="1061.2" fill="#fefeff"/><rect x="1070.7" fill="#fefeff"/><rect x="1080.2" fill="#fefeff"/><rect x="1089.7" fill="#fefeff"/><rect x="1099.2" fill="#fefeff"/><rect x="1108.8" fill="#fefeff"/><rect x="1118.3" fill="#fefeff"/><rect x="1127.8" fill="#fefeff"/><rect x="1137.3" fill="#fefeff"/><rect x="1146.8" fill="#fefeff"/><rect x="1156.4" fill="#fefeff"/><rect x="1165.9" fill="#fefeff"/><rect x="1175.4" fill="#fefeff"/><rect x="1184.9" fill="#fefeff"/><rect x="1194.4" fill="#fefeff"/><rect x="1203.9" fill="#fefeff"/><rect x="1213.5" fill="#fefeff"/><rect x="1223.0" fill="#ffffff"/><rect x="1232.5" fill="#ffffff"/><rect x="1242.0" fill="#ffffff"/></g><g transform="translate(0 580.5)"><rect x="680.5" fill="#ffffff"/><rect x="690.0" fill="#ffffff"/><rect x="699.5" fill="#ffffff"/><rect x="709.0" fill="#ffffff"/><rect x="718.5" fill="#fefeff"/><rect x="728.1" fill="#fefeff"/><rect x="737.6" fill="#fefeff"/><rect x="747.1" fill="#fefeff"/><rect x="756.6" fill="#fefeff"/><rect x="766.1" fill="#fefeff"/><rect x="775.6" fill="#fefeff"/><rect x="785.2" fill="#fefeff"/><rect x="794.7" fill="#fefeff"/><rect x="804.2" fill="#fefeff"/><rect x="813.7" fill="#fefeff"/><rect x="823.2" fill="#fefeff"/><rect x="832.8" fill="#fefeff"/><rect x="842.3" fill="#fefeff"/><rect x="851.8" fill="#fefeff"/><rect x="861.3" fill="#fefeff"/><rect x="870.8" fill="#fefeff"/><rect x="880.3" fill="#fefeff"/><rect x="889.9" fill="#fefeff"/><rect x="899.4" fill="#fefeff"/><rect x="908.9" fill="#fefeff"/><rect x="918.4" fill="#fefeff"/><rect x="927.9" fill="#fefeff"/><rect x="937.4" fill="#fefeff"/><rect x="947.0" fill="#fefeff"/><rect x="956.5" fill="#fefeff"/><rect x="966.0" fill="#fefeff"/><rect x="975.5" fill="#fefeff"/><rect x="985.0" fill="#fefeff"/><rect x="994.6" fill="#fefeff"/><rect x="1004.1" fill="#fefeff"/><rect x="1013.6" fill="#fefeff"/><rect x="1023.1" fill="#fefeff"/><rect x="1032.6" fill="#fefeff"/><rect x="1042.1" fill="#fefeff"/><rect x="1051.7" fill="#fefeff"/><rect x="1061.2" fill="#fefeff"/><rect x="1070.7" fill="#fefeff"/><rect x="1080.2" fill="#fefeff"/><rect x="1089.7" fill="#fefeff"/><rect x="1099.2" fill="#fefeff"/><rect x="1108.8" fill="#fefeff"/><rect x="1118.3" fill="#fefeff"/><rect x="1127.8" fill="#fefeff"/><rect x="1137.3" fill="#fefeff"/><rect x="1146.8" fill="#fefeff"/><rect x="1156.4" fill="#fefeff"/><rect x="1165.9" fill="#fefeff"/><rect x="1175.4" fill="#fefeff"/><rect x="1184.9" fill="#fefeff"/><rect x="1194.4" fill="#fefeff"/><rect x="1203.9" fill="#fefeff"/><rect x="1213.5" fill="#ffffff"/><rect x="1223.0" fill="#ffffff"/><rect x="1232.5" fill="#ffffff"/><rect x="1242.0" fill="#ffffff"/></g><g transform="translate(0 590.0)"><rect x="680.5" fill="#ffffff"/><rect x="690.0" fill="#ffffff"/><rect x="699.5" fill="#ffffff"/><rect x="709.0" fill="#ffffff"/><rect x="718.5" fill="#fefeff"/><rect x="728.1" fill="#fefeff"/><rect x="737.6" fill="#fefeff"/><rect x="747.1" fill="#fefeff"/><rect x="756.6" fill="#fefeff"/><rect x="766.1" fill="#fefeff"/><rect x="775.6" fill="#fefeff"/><rect x="785.2" fill="#fefeff"/><rect x="794.7" fill="#fefeff"/><rect x="804.2" fill="#fefeff"/><rect x="813.7" fill="#fefeff"/><rect x="823.2" fill="#fefeff"/><rect x="832.8" fill="#fefeff"/><rect x="842.3" fill="#fefeff"/><rect x="851.8" fill="#fefeff"/><rect x="861.3" fill="#fefeff"/><rect x="870.8" fill="#fefeff"/><rect x="880.3" fill="#fefeff"/><rect x="889.9" fill="#fefeff"/><rect x="899.4" fill="#fefeff"/><rect x="908.9" fill="#fefeff"/><rect x="918.4" fill="#fefeff"/><rect x="927.9" fill="#fefeff"/><rect x="937.4" fill="#fefeff"/><rect x="947.0" fill="#fefeff"/><rect x="956.5" fill="#fefeff"/><rect x="966.0" fill="#fefeff"/><rect x="975.5" fill="#fefeff"/><rect x="985.0" fill="#fefeff"/><rect x="994.6" fill="#fefeff"/><rect x="1004.1" fill="#fefeff"/><rect x="1013.6" fill="#fefeff"/><rect x="1023.1" fill="#fefeff"/><rect x="1032.6" fill="#fefeff"/><rect x="1042.1" fill="#fefeff"/><rect x="1051.7" fill="#fefeff"/><rect x="1061.2" fill="#fefeff"/><rect x="1070.7" fill="#fefeff"/><rect x="1080.2" fill="#fefeff"/><rect x="1089.7" fill="#fefeff"/><rect x="1099.2" fill="#fefeff"/><rect x="1108.8" fill="#fefeff"/><rect x="1118.3" fill="#fefeff"/><rect x="1127.8" fill="#fefeff"/><rect x="1137.3" fill="#fefeff"/><rect x="1146.8" fill="#fefeff"/><rect x="1156.4" fill="#fefeff"/><rect x="1165.9" fill="#fefeff"/><rect x="1175.4" fill="#fefeff"/><rect x="1184.9" fill="#fefeff"/><rect x="1194.4" fill="#fefeff"/><rect x="1203.9" fill="#fefeff"/><rect x="1213.5" fill="#ffffff"/><rect x="1223.0" fill="#ffffff"/><rect x="1232.5" fill="#ffffff"/><rect x="1242.0" fill="#ffffff"/></g></g></g><g clip-path="url(#c2f)"><filter id="fhf" x="-10%" y="-10%" width="120%" height="120%" color-interpolation-filters="sRGB"><feGaussianBlur stdDeviation="1.6"/></filter><style>#hf rect{width:4.60px;height:4.60px}</style><g filter="url(#fhf)" style="shape-rendering:crispEdges"><g id="hf"><g transform="translate(0 35.5)"><rect x="872.5" fill="#fcfcff"/><rect x="876.5" fill="#fcfcff"/><rect x="880.5" fill="#fcfcff"/><rect x="884.5" fill="#fbfbff"/><rect x="888.5" fill="#fbfbff"/><rect x="892.5" fill="#fafaff"/><rect x="896.5" fill="#f9f9ff"/><rect x="900.5" fill="#f8f8ff"/><rect x="904.5" fill="#f7f7ff"/><rect x="908.5" fill="#f5f5ff"/><rect x="912.5" fill="#f3f3ff"/><rect x="916.5" fill="#f1f1ff"/><rect x="920.5" fill="#eeeeff"/><rect x="924.5" fill="#ebebff"/><rect x="928.5" fill="#e8e8ff"/><rect x="932.5" fill="#e4e4ff"/><rect x="936.5" fill="#dfdfff"/><rect x="940.5" fill="#dbdbff"/><rect x="944.5" fill="#d7d7ff"/><rect x="948.5" fill="#d3d3ff"/><rect x="952.5" fill="#cfcfff"/><rect x="956.5" fill="#ccccff"/><rect x="960.5" fill="#cbcbff"/><rect x="964.5" fill="#cbcbff"/><rect x="968.5" fill="#ccccff"/><rect x="972.5" fill="#ceceff"/><rect x="976.5" fill="#d1d1ff"/><rect x="980.5" fill="#d5d5ff"/><rect x="984.5" fill="#d9d9ff"/><rect x="988.5" fill="#ddddff"/><rect x="992.5" fill="#e2e2ff"/><rect x="996.5" fill="#e6e6ff"/><rect x="1000.5" fill="#e9e9ff"/><rect x="1004.5" fill="#ececff"/><rect x="1008.5" fill="#efefff"/><rect x="1012.5" fill="#f2f2ff"/><rect x="1016.5" fill="#f4f4ff"/><rect x="1020.5" fill="#f6f6ff"/><rect x="1024.5" fill="#f7f7ff"/><rect x="1028.5" fill="#f9f9ff"/><rect x="1032.5" fill="#fafaff"/><rect x="1036.5" fill="#fbfbff"/><rect x="1040.5" fill="#fbfbff"/><rect x="1044.5" fill="#fcfcff"/><rect x="1048.5" fill="#fcfcff"/><rect x="1052.5" fill="#fcfcff"/><rect x="1056.5" fill="#fcfcff"/></g><g transform="translate(0 39.5)"><rect x="872.5" fill="#fcfcff"/><rect x="876.5" fill="#fcfcff"/><rect x="880.5" fill="#fcfcff"/><rect x="884.5" fill="#fbfbff"/><rect x="888.5" fill="#fbfbff"/><rect x="892.5" fill="#fafaff"/><rect x="896.5" fill="#f9f9ff"/><rect x="900.5" fill="#f8f8ff"/><rect x="904.5" fill="#f7f7ff"/><rect x="908.5" fill="#f5f5ff"/><rect x="912.5" fill="#f3f3ff"/><rect x="916.5" fill="#f1f1ff"/><rect x="920.5" fill="#eeeeff"/><rect x="924.5" fill="#ebebff"/><rect x="928.5" fill="#e8e8ff"/><rect x="932.5" fill="#e4e4ff"/><rect x="936.5" fill="#dfdfff"/><rect x="940.5" fill="#dbdbff"/><rect x="944.5" fill="#d7d7ff"/><rect x="948.5" fill="#d3d3ff"/><rect x="952.5" fill="#cfcfff"/><rect x="956.5" fill="#ccccff"/><rect x="960.5" fill="#cbcbff"/><rect x="964.5" fill="#cbcbff"/><rect x="968.5" fill="#ccccff"/><rect x="972.5" fill="#ceceff"/><rect x="976.5" fill="#d1d1ff"/><rect x="980.5" fill="#d5d5ff"/><rect x="984.5" fill="#d9d9ff"/><rect x="988.5" fill="#ddddff"/><rect x="992.5" fill="#e2e2ff"/><rect x="996.5" fill="#e6e6ff"/><rect x="1000.5" fill="#e9e9ff"/><rect x="1004.5" fill="#ececff"/><rect x="1008.5" fill="#efefff"/><rect x="1012.5" fill="#f2f2ff"/><rect x="1016.5" fill="#f4f4ff"/><rect x="1020.5" fill="#f6f6ff"/><rect x="1024.5" fill="#f7f7ff"/><rect x="1028.5" fill="#f9f9ff"/><rect x="1032.5" fill="#fafaff"/><rect x="1036.5" fill="#fbfbff"/><rect x="1040.5" fill="#fbfbff"/><rect x="1044.5" fill="#fcfcff"/><rect x="1048.5" fill="#fcfcff"/><rect x="1052.5" fill="#fcfcff"/><rect x="1056.5" fill="#fcfcff"/></g><g transform="translate(0 43.5)"><rect x="872.5" fill="#fcfcff"/><rect x="876.5" fill="#fcfcff"/><rect x="880.5" fill="#fcfcff"/><rect x="884.5" fill="#fbfbff"/><rect x="888.5" fill="#fbfbff"/><rect x="892.5" fill="#fafaff"/><rect x="896.5" fill="#f9f9ff"/><rect x="900.5" fill="#f8f8ff"/><rect x="904.5" fill="#f7f7ff"/><rect x="908.5" fill="#f5f5ff"/><rect x="912.5" fill="#f3f3ff"/><rect x="916.5" fill="#f1f1ff"/><rect x="920.5" fill="#eeeeff"/><rect x="924.5" fill="#ebebff"/><rect x="928.5" fill="#e8e8ff"/><rect x="932.5" fill="#e4e4ff"/><rect x="936.5" fill="#dfdfff"/><rect x="940.5" fill="#dbdbff"/><rect x="944.5" fill="#d7d7ff"/><rect x="948.5" fill="#d3d3ff"/><rect x="952.5" fill="#cfcfff"/><rect x="956.5" fill="#ccccff"/><rect x="960.5" fill="#cbcbff"/><rect x="964.5" fill="#cbcbff"/><rect x="968.5" fill="#ccccff"/><rect x="972.5" fill="#ceceff"/><rect x="976.5" fill="#d1d1ff"/><rect x="980.5" fill="#d5d5ff"/><rect x="984.5" fill="#d9d9ff"/><rect x="988.5" fill="#ddddff"/><rect x="992.5" fill="#e2e2ff"/><rect x="996.5" fill="#e6e6ff"/><rect x="1000.5" fill="#e9e9ff"/><rect x="1004.5" fill="#ececff"/><rect x="1008.5" fill="#efefff"/><rect x="1012.5" fill="#f2f2ff"/><rect x="1016.5" fill="#f4f4ff"/><rect x="1020.5" fill="#f6f6ff"/><rect x="1024.5" fill="#f7f7ff"/><rect x="1028.5" fill="#f9f9ff"/><rect x="1032.5" fill="#fafaff"/><rect x="1036.5" fill="#fbfbff"/><rect x="1040.5" fill="#fbfbff"/><rect x="1044.5" fill="#fcfcff"/><rect x="1048.5" fill="#fcfcff"/><rect x="1052.5" fill="#fcfcff"/><rect x="1056.5" fill="#fcfcff"/></g><g transform="translate(0 47.5)"><rect x="872.5" fill="#fcfcff"/><rect x="876.5" fill="#fcfcff"/><rect x="880.5" fill="#fbfbff"/><rect x="884.5" fill="#fbfbff"/><rect x="888.5" fill="#fafaff"/><rect x="892.5" fill="#fafaff"/><rect x="896.5" fill="#f9f9ff"/><rect x="900.5" fill="#f7f7ff"/><rect x="904.5" fill="#f6f6ff"/><rect x="908.5" fill="#f4f4ff"/><rect x="912.5" fill="#f2f2ff"/><rect x="916.5" fill="#efefff"/><rect x="920.5" fill="#ececff"/><rect x="924.5" fill="#e8e8ff"/><rect x="928.5" fill="#e4e4ff"/><rect x="932.5" fill="#e0e0ff"/><rect x="936.5" fill="#dbdbff"/><rect x="940.5" fill="#d6d6ff"/><rect x="944.5" fill="#d1d1ff"/><rect x="948.5" fill="#cdcdff"/><rect x="952.5" fill="#c9c9ff"/><rect x="956.5" fill="#c6c6ff"/><rect x="960.5" fill="#c4c4ff"/><rect x="964.5" fill="#c4c4ff"/><rect x="968.5" fill="#c5c5ff"/><rect x="972.5" fill="#c7c7ff"/><rect x="976.5" fill="#cbcbff"/><rect x="980.5" fill="#cfcfff"/><rect x="984.5" fill="#d4d4ff"/><rect x="988.5" fill="#d9d9ff"/><rect x="992.5" fill="#ddddff"/><rect x="996.5" fill="#e2e2ff"/><rect x="1000.5" fill="#e6e6ff"/><rect x="1004.5" fill="#eaeaff"/><rect x="1008.5" fill="#ededff"/><rect x="1012.5" fill="#f0f0ff"/><rect x="1016.5" fill="#f3f3ff"/><rect x="1020.5" fill="#f5f5ff"/><rect x="1024.5" fill="#f6f6ff"/><rect x="1028.5" fill="#f8f8ff"/><rect x="1032.5" fill="#f9f9ff"/><rect x="1036.5" fill="#fafaff"/><rect x="1040.5" fill="#fbfbff"/><rect x="1044.5" fill="#fbfbff"/><rect x="1048.5" fill="#fcfcff"/><rect x="1052.5" fill="#fcfcff"/><rect x="1056.5" fill="#fcfcff"/></g><g transform="translate(0 51.5)"><rect x="872.5" fill="#fbfbff"/><rect x="876.5" fill="#fbfbff"/><rect x="880.5" fill="#fafaff"/><rect x="884.5" fill="#fafaff"/><rect x="888.5" fill="#f9f9ff"/><rect x="892.5" fill="#f8f8ff"/><rect x="896.5" fill="#f7f7ff"/><rect x="900.5" fill="#f5f5ff"/><rect x="904.5" fill="#f3f3ff"/><rect x="908.5" fill="#f1f1ff"/><rect x="912.5" fill="#eeeeff"/><rect x="916.5" fill="#eaeaff"/><rect x="920.5" fill="#e6e6ff"/><rect x="924.5" fill="#e2e2ff"/><rect x="928.5" fill="#ddddff"/><rect x="932.5" fill="#d7d7ff"/><rect x="936.5" fill="#d1d1ff"/><rect x="940.5" fill="#cbcbff"/><rect x="944.5" fill="#c5c5ff"/><rect x="948.5" fill="#bfbfff"/><rect x="952.5" fill="#babaff"/><rect x="956.5" fill="#b6b6ff"/><rect x="960.5" fill="#b4b4ff"/><rect x="964.5" fill="#b4b4ff"/><rect x="968.5" fill="#b5b5ff"/><rect x="972.5" fill="#b8b8ff"/><rect x="976.5" fill="#bcbcff"/><rect x="980.5" fill="#c2c2ff"/><rect x="984.5" fill="#c8c8ff"/><rect x="988.5" fill="#ceceff"/><rect x="992.5" fill="#d4d4ff"/><rect x="996.5" fill="#dadaff"/><rect x="1000.5" fill="#dfdfff"/><rect x="1004.5" fill="#e4e4ff"/><rect x="1008.5" fill="#e8e8ff"/><rect x="1012.5" fill="#ececff"/><rect x="1016.5" fill="#efefff"/><rect x="1020.5" fill="#f2f2ff"/><rect x="1024.5" fill="#f4f4ff"/><rect x="1028.5" fill="#f6f6ff"/><rect x="1032.5" fill="#f7f7ff"/><rect x="1036.5" fill="#f9f9ff"/><rect x="1040.5" fill="#f9f9ff"/><rect x="1044.5" fill="#fafaff"/><rect x="1048.5" fill="#fbfbff"/><rect x="1052.5" fill="#fbfbff"/><rect x="1056.5" fill="#fbfbff"/></g><g transform="translate(0 55.5)"><rect x="872.5" fill="#fafaff"/><rect x="876.5" fill="#fafaff"/><rect x="880.5" fill="#f9f9ff"/><rect x="884.5" fill="#f9f9ff"/><rect x="888.5" fill="#f8f8ff"/><rect x="892.5" fill="#f6f6ff"/><rect x="896.5" fill="#f5f5ff"/><rect x="900.5" fill="#f3f3ff"/><rect x="904.5" fill="#f0f0ff"/><rect x="908.5" fill="#ededff"/><rect x="912.5" fill="#eaeaff"/><rect x="916.5" fill="#e5e5ff"/><rect x="920.5" fill="#e0e0ff"/><rect x="924.5" fill="#dbdbff"/><rect x="928.5" fill="#d4d4ff"/><rect x="932.5" fill="#cdcdff"/><rect x="936.5" fill="#c6c6ff"/><rect x="940.5" fill="#bebeff"/><rect x="944.5" fill="#b6b6ff"/><rect x="948.5" fill="#afafff"/><rect x="952.5" fill="#a9a9ff"/><rect x="956.5" fill="#a4a4ff"/><rect x="960.5" fill="#a2a2ff"/><rect x="964.5" fill="#a1a1ff"/><rect x="968.5" fill="#a3a3ff"/><rect x="972.5" fill="#a6a6ff"/><rect x="976.5" fill="#acacff"/><rect x="980.5" fill="#b3b3ff"/><rect x="984.5" fill="#babaff"/><rect x="988.5" fill="#c2c2ff"/><rect x="992.5" fill="#c9c9ff"/><rect x="996.5" fill="#d0d0ff"/><rect x="1000.5" fill="#d7d7ff"/><rect x="1004.5" fill="#ddddff"/><rect x="1008.5" fill="#e3e3ff"/><rect x="1012.5" fill="#e7e7ff"/><rect x="1016.5" fill="#ebebff"/><rect x="1020.5" fill="#efefff"/><rect x="1024.5" fill="#f1f1ff"/><rect x="1028.5" fill="#f4f4ff"/><rect x="1032.5" fill="#f6f6ff"/><rect x="1036.5" fill="#f7f7ff"/><rect x="1040.5" fill="#f8f8ff"/><rect x="1044.5" fill="#f9f9ff"/><rect x="1048.5" fill="#fafaff"/><rect x="1052.5" fill="#fafaff"/><rect x="1056.5" fill="#fafaff"/></g><g transform="translate(0 59.5)"><rect x="872.5" fill="#f9f9ff"/><rect x="876.5" fill="#f9f9ff"/><rect x="880.5" fill="#f8f8ff"/><rect x="884.5" fill="#f7f7ff"/><rect x="888.5" fill="#f6f6ff"/><rect x="892.5" fill="#f5f5ff"/><rect x="896.5" fill="#f3f3ff"/><rect x="900.5" fill="#f0f0ff"/><rect x="904.5" fill="#ededff"/><rect x="908.5" fill="#e9e9ff"/><rect x="912.5" fill="#e5e5ff"/><rect x="916.5" fill="#dfdfff"/><rect x="920.5" fill="#d9d9ff"/><rect x="924.5" fill="#d2d2ff"/><rect x="928.5" fill="#cacaff"/><rect x="932.5" fill="#c1c1ff"/><rect x="936.5" fill="#b8b8ff"/><rect x="940.5" fill="#afafff"/><rect x="944.5" fill="#a6a6ff"/><rect x="948.5" fill="#9d9dff"/><rect x="952.5" fill="#9595ff"/><rect x="956.5" fill="#9090ff"/><rect x="960.5" fill="#8d8dff"/><rect x="964.5" fill="#8c8cff"/><rect x="968.5" fill="#8e8eff"/><rect x="972.5" fill="#9292ff"/><rect x="976.5" fill="#9999ff"/><rect x="980.5" fill="#a1a1ff"/><rect x="984.5" fill="#aaaaff"/><rect x="988.5" fill="#b3b3ff"/><rect x="992.5" fill="#bdbdff"/><rect x="996.5" fill="#c5c5ff"/><rect x="1000.5" fill="#ceceff"/><rect x="1004.5" fill="#d5d5ff"/><rect x="1008.5" fill="#dcdcff"/><rect x="1012.5" fill="#e2e2ff"/><rect x="1016.5" fill="#e7e7ff"/><rect x="1020.5" fill="#ebebff"/><rect x="1024.5" fill="#eeeeff"/><rect x="1028.5" fill="#f1f1ff"/><rect x="1032.5" fill="#f3f3ff"/><rect x="1036.5" fill="#f5f5ff"/><rect x="1040.5" fill="#f7f7ff"/><rect x="1044.5" fill="#f8f8ff"/><rect x="1048.5" fill="#f8f8ff"/><rect x="1052.5" fill="#f9f9ff"/><rect x="1056.5" fill="#f9f9ff"/></g><g transform="translate(0 63.5)"><rect x="872.5" fill="#f8f8ff"/><rect x="876.5" fill="#f8f8ff"/><rect x="880.5" fill="#f7f7ff"/><rect x="884.5" fill="#f6f6ff"/><rect x="888.5" fill="#f4f4ff"/><rect x="892.5" fill="#f2f2ff"/><rect x="896.5" fill="#f0f0ff"/><rect x="900.5" fill="#ededff"/><rect x="904.5" fill="#e9e9ff"/><rect x="908.5" fill="#e4e4ff"/><rect x="912.5" fill="#dfdfff"/><rect x="916.5" fill="#d8d8ff"/><rect x="920.5" fill="#d1d1ff"/><rect x="924.5" fill="#c8c8ff"/><rect x="928.5" fill="#bfbfff"/><rect x="932.5" fill="#b4b4ff"/><rect x="936.5" fill="#a9a9ff"/><rect x="940.5" fill="#9e9eff"/><rect x="944.5" fill="#9393ff"/><rect x="948.5" fill="#8888ff"/><rect x="952.5" fill="#7f7fff"/><rect x="956.5" fill="#7979ff"/><rect x="960.5" fill="#7575ff"/><rect x="964.5" fill="#7474ff"/><rect x="968.5" fill="#7676ff"/><rect x="972.5" fill="#7c7cff"/><rect x="976.5" fill="#8484ff"/><rect x="980.5" fill="#8d8dff"/><rect x="984.5" fill="#9898ff"/><rect x="988.5" fill="#a3a3ff"/><rect x="992.5" fill="#aeaeff"/><rect x="996.5" fill="#b9b9ff"/><rect x="1000.5" fill="#c3c3ff"/><rect x="1004.5" fill="#ccccff"/><rect x="1008.5" fill="#d4d4ff"/><rect x="1012.5" fill="#dbdbff"/><rect x="1016.5" fill="#e1e1ff"/><rect x="1020.5" fill="#e7e7ff"/><rect x="1024.5" fill="#ebebff"/><rect x="1028.5" fill="#eeeeff"/><rect x="1032.5" fill="#f1f1ff"/><rect x="1036.5" fill="#f3f3ff"/><rect x="1040.5" fill="#f5f5ff"/><rect x="1044.5" fill="#f6f6ff"/><rect x="1048.5" fill="#f7f7ff"/><rect x="1052.5" fill="#f8f8ff"/><rect x="1056.5" fill="#f8f8ff"/></g><g transform="translate(0 67.5)"><rect x="872.5" fill="#f7f7ff"/><rect x="876.5" fill="#f6f6ff"/><rect x="880.5" fill="#f5f5ff"/><rect x="884.5" fill="#f4f4ff"/><rect x="888.5" fill="#f2f2ff"/><rect x="892.5" fill="#f0f0ff"/><rect x="896.5" fill="#ededff"/><rect x="900.5" fill="#e9e9ff"/><rect x="904.5" fill="#e5e5ff"/><rect x="908.5" fill="#dfdfff"/><rect x="912.5" fill="#d9d9ff"/><rect x="916.5" fill="#d1d1ff"/><rect x="920.5" fill="#c8c8ff"/><rect x="924.5" fill="#bdbdff"/><rect x="928.5" fill="#b2b2ff"/><rect x="932.5" fill="#a6a6ff"/><rect x="936.5" fill="#9898ff"/><rect x="940.5" fill="#8b8bff"/><rect x="944.5" fill="#7e7eff"/><rect x="948.5" fill="#7171ff"/><rect x="952.5" fill="#6767ff"/><rect x="956.5" fill="#5f5fff"/><rect x="960.5" fill="#5a5aff"/><rect x="964.5" fill="#5a5aff"/><rect x="968.5" fill="#5c5cff"/><rect x="972.5" fill="#6363ff"/><rect x="976.5" fill="#6c6cff"/><rect x="980.5" fill="#7777ff"/><rect x="984.5" fill="#8484ff"/><rect x="988.5" fill="#9191ff"/><rect x="992.5" fill="#9e9eff"/><rect x="996.5" fill="#ababff"/><rect x="1000.5" fill="#b7b7ff"/><rect x="1004.5" fill="#c2c2ff"/><rect x="1008.5" fill="#ccccff"/><rect x="1012.5" fill="#d4d4ff"/><rect x="1016.5" fill="#dcdcff"/><rect x="1020.5" fill="#e2e2ff"/><rect x="1024.5" fill="#e7e7ff"/><rect x="1028.5" fill="#ebebff"/><rect x="1032.5" fill="#eeeeff"/><rect x="1036.5" fill="#f1f1ff"/><rect x="1040.5" fill="#f3f3ff"/><rect x="1044.5" fill="#f5f5ff"/><rect x="1048.5" fill="#f6f6ff"/><rect x="1052.5" fill="#f7f7ff"/><rect x="1056.5" fill="#f7f7ff"/></g><g transform="translate(0 71.5)"><rect x="872.5" fill="#f6f6ff"/><rect x="876.5" fill="#f5f5ff"/><rect x="880.5" fill="#f4f4ff"/><rect x="884.5" fill="#f2f2ff"/><rect x="888.5" fill="#f0f0ff"/><rect x="892.5" fill="#ededff"/><rect x="896.5" fill="#eaeaff"/><rect x="900.5" fill="#e6e6ff"/><rect x="904.5" fill="#e0e0ff"/><rect x="908.5" fill="#dadaff"/><rect x="912.5" fill="#d2d2ff"/><rect x="916.5" fill="#c8c8ff"/><rect x="920.5" fill="#bebeff"/><rect x="924.5" fill="#b2b2ff"/><rect x="928.5" fill="#a4a4ff"/><rect x="932.5" fill="#9696ff"/><rect x="936.5" fill="#8686ff"/><rect x="940.5" fill="#7676ff"/><rect x="944.5" fill="#6767ff"/><rect x="948.5" fill="#5959ff"/><rect x="952.5" fill="#4c4cff"/><rect x="956.5" fill="#4343ff"/><rect x="960.5" fill="#3e3eff"/><rect x="964.5" fill="#3d3dff"/><rect x="968.5" fill="#4040ff"/><rect x="972.5" fill="#4747ff"/><rect x="976.5" fill="#5252ff"/><rect x="980.5" fill="#5f5fff"/><rect x="984.5" fill="#6e6eff"/><rect x="988.5" fill="#7e7eff"/><rect x="992.5" fill="#8d8dff"/><rect x="996.5" fill="#9c9cff"/><rect x="1000.5" fill="#aaaaff"/><rect x="1004.5" fill="#b7b7ff"/><rect x="1008.5" fill="#c3c3ff"/><rect x="1012.5" fill="#cdcdff"/><rect x="1016.5" fill="#d5d5ff"/><rect x="1020.5" fill="#ddddff"/><rect x="1024.5" fill="#e3e3ff"/><rect x="1028.5" fill="#e8e8ff"/><rect x="1032.5" fill="#ececff"/><rect x="1036.5" fill="#efefff"/><rect x="1040.5" fill="#f1f1ff"/><rect x="1044.5" fill="#f3f3ff"/><rect x="1048.5" fill="#f4f4ff"/><rect x="1052.5" fill="#f5f5ff"/><rect x="1056.5" fill="#f6f6ff"/></g><g transform="translate(0 75.5)"><rect x="872.5" fill="#f4f4ff"/><rect x="876.5" fill="#f3f3ff"/><rect x="880.5" fill="#f2f2ff"/><rect x="884.5" fill="#f0f0ff"/><rect x="888.5" fill="#eeeeff"/><rect x="892.5" fill="#ebebff"/><rect x="896.5" fill="#e7e7ff"/><rect x="900.5" fill="#e2e2ff"/><rect x="904.5" fill="#dbdbff"/><rect x="908.5" fill="#d4d4ff"/><rect x="912.5" fill="#cacaff"/><rect x="916.5" fill="#c0c0ff"/><rect x="920.5" fill="#b3b3ff"/><rect x="924.5" fill="#a5a5ff"/><rect x="928.5" fill="#9595ff"/><rect x="932.5" fill="#8484ff"/><rect x="936.5" fill="#7373ff"/><rect x="940.5" fill="#6060ff"/><rect x="944.5" fill="#4f4fff"/><rect x="948.5" fill="#3e3eff"/><rect x="952.5" fill="#3030ff"/><rect x="956.5" fill="#2626ff"/><rect x="960.5" fill="#1f1fff"/><rect x="964.5" fill="#1e1eff"/><rect x="968.5" fill="#2222ff"/><rect x="972.5" fill="#2a2aff"/><rect x="976.5" fill="#3636ff"/><rect x="980.5" fill="#4646ff"/><rect x="984.5" fill="#5757ff"/><rect x="988.5" fill="#6969ff"/><rect x="992.5" fill="#7b7bff"/><rect x="996.5" fill="#8c8cff"/><rect x="1000.5" fill="#9c9cff"/><rect x="1004.5" fill="#ababff"/><rect x="1008.5" fill="#b9b9ff"/><rect x="1012.5" fill="#c4c4ff"/><rect x="1016.5" fill="#ceceff"/><rect x="1020.5" fill="#d7d7ff"/><rect x="1024.5" fill="#dedeff"/><rect x="1028.5" fill="#e4e4ff"/><rect x="1032.5" fill="#e8e8ff"/><rect x="1036.5" fill="#ececff"/><rect x="1040.5" fill="#efefff"/><rect x="1044.5" fill="#f1f1ff"/><rect x="1048.5" fill="#f2f2ff"/><rect x="1052.5" fill="#f4f4ff"/><rect x="1056.5" fill="#f4f4ff"/></g><g transform="translate(0 79.5)"><rect x="872.5" fill="#f2f2ff"/><rect x="876.5" fill="#f1f1ff"/><rect x="880.5" fill="#f0f0ff"/><rect x="884.5" fill="#eeeeff"/><rect x="888.5" fill="#ebebff"/><rect x="892.5" fill="#e8e8ff"/><rect x="896.5" fill="#e3e3ff"/><rect x="900.5" fill="#ddddff"/><rect x="904.5" fill="#d6d6ff"/><rect x="908.5" fill="#cdcdff"/><rect x="912.5" fill="#c3c3ff"/><rect x="916.5" fill="#b6b6ff"/><rect x="920.5" fill="#a8a8ff"/><rect x="924.5" fill="#9898ff"/><rect x="928.5" fill="#8686ff"/><rect x="932.5" fill="#7272ff"/><rect x="936.5" fill="#5e5eff"/><rect x="940.5" fill="#4949ff"/><rect x="944.5" fill="#3535ff"/><rect x="948.5" fill="#2222ff"/><rect x="952.5" fill="#1212ff"/><rect x="956.5" fill="#0606ff"/><rect x="960.5" fill="#0000ff"/><rect x="964.5" fill="#0200fd"/><rect x="968.5" fill="#0202ff"/><rect x="972.5" fill="#0c0cff"/><rect x="976.5" fill="#1a1aff"/><rect x="980.5" fill="#2b2bff"/><rect x="984.5" fill="#3e3eff"/><rect x="988.5" fill="#5353ff"/><rect x="992.5" fill="#6767ff"/><rect x="996.5" fill="#7b7bff"/><rect x="1000.5" fill="#8e8eff"/><rect x="1004.5" fill="#9f9fff"/><rect x="1008.5" fill="#aeaeff"/><rect x="1012.5" fill="#bcbcff"/><rect x="1016.5" fill="#c7c7ff"/><rect x="1020.5" fill="#d1d1ff"/><rect x="1024.5" fill="#d9d9ff"/><rect x="1028.5" fill="#e0e0ff"/><rect x="1032.5" fill="#e5e5ff"/><rect x="1036.5" fill="#e9e9ff"/><rect x="1040.5" fill="#ececff"/><rect x="1044.5" fill="#efefff"/><rect x="1048.5" fill="#f1f1ff"/><rect x="1052.5" fill="#f2f2ff"/><rect x="1056.5" fill="#f3f3ff"/></g><g transform="translate(0 83.5)"><rect x="872.5" fill="#f1f1ff"/><rect x="876.5" fill="#f0f0ff"/><rect x="880.5" fill="#eeeeff"/><rect x="884.5" fill="#ececff"/><rect x="888.5" fill="#e9e9ff"/><rect x="892.5" fill="#e5e5ff"/><rect x="896.5" fill="#dfdfff"/><rect x="900.5" fill="#d9d9ff"/><rect x="904.5" fill="#d1d1ff"/><rect x="908.5" fill="#c7c7ff"/><rect x="912.5" fill="#bbbbff"/><rect x="916.5" fill="#acacff"/><rect x="920.5" fill="#9c9cff"/><rect x="924.5" fill="#8a8aff"/><rect x="928.5" fill="#7676ff"/><rect x="932.5" fill="#6060ff"/><rect x="936.5" fill="#4949ff"/><rect x="940.5" fill="#3131ff"/><rect x="944.5" fill="#1b1bff"/><rect x="948.5" fill="#0606ff"/><rect x="952.5" fill="#0c00f3"/><rect x="956.5" fill="#1900e6"/><rect x="960.5" fill="#2100de"/><rect x="964.5" fill="#2300dc"/><rect x="968.5" fill="#1e00e1"/><rect x="972.5" fill="#1400eb"/><rect x="976.5" fill="#0400fb"/><rect x="980.5" fill="#0f0fff"/><rect x="984.5" fill="#2525ff"/><rect x="988.5" fill="#3c3cff"/><rect x="992.5" fill="#5353ff"/><rect x="996.5" fill="#6a6aff"/><rect x="1000.5" fill="#7f7fff"/><rect x="1004.5" fill="#9292ff"/><rect x="1008.5" fill="#a3a3ff"/><rect x="1012.5" fill="#b3b3ff"/><rect x="1016.5" fill="#c0c0ff"/><rect x="1020.5" fill="#cbcbff"/><rect x="1024.5" fill="#d4d4ff"/><rect x="1028.5" fill="#dcdcff"/><rect x="1032.5" fill="#e2e2ff"/><rect x="1036.5" fill="#e6e6ff"/><rect x="1040.5" fill="#eaeaff"/><rect x="1044.5" fill="#ededff"/><rect x="1048.5" fill="#efefff"/><rect x="1052.5" fill="#f0f0ff"/><rect x="1056.5" fill="#f1f1ff"/></g><g transform="translate(0 87.5)"><rect x="872.5" fill="#efefff"/><rect x="876.5" fill="#eeeeff"/><rect x="880.5" fill="#ececff"/><rect x="884.5" fill="#e9e9ff"/><rect x="888.5" fill="#e6e6ff"/><rect x="892.5" fill="#e1e1ff"/><rect x="896.5" fill="#dcdcff"/><rect x="900.5" fill="#d4d4ff"/><rect x="904.5" fill="#cbcbff"/><rect x="908.5" fill="#c0c0ff"/><rect x="912.5" fill="#b2b2ff"/><rect x="916.5" fill="#a3a3ff"/><rect x="920.5" fill="#9191ff"/><rect x="924.5" fill="#7c7cff"/><rect x="928.5" fill="#6666ff"/><rect x="932.5" fill="#4d4dff"/><rect x="936.5" fill="#3333ff"/><rect x="940.5" fill="#1919ff"/><rect x="944.5" fill="#0000ff"/><rect x="948.5" fill="#1700e8"/><rect x="952.5" fill="#2b00d4"/><rect x="956.5" fill="#3a00c5"/><rect x="960.5" fill="#4200bd"/><rect x="964.5" fill="#4400bb"/><rect x="968.5" fill="#3f00c0"/><rect x="972.5" fill="#3300cc"/><rect x="976.5" fill="#2200dd"/><rect x="980.5" fill="#0d00f2"/><rect x="984.5" fill="#0c0cff"/><rect x="988.5" fill="#2525ff"/><rect x="992.5" fill="#3f3fff"/><rect x="996.5" fill="#5858ff"/><rect x="1000.5" fill="#6f6fff"/><rect x="1004.5" fill="#8585ff"/><rect x="1008.5" fill="#9898ff"/><rect x="1012.5" fill="#aaaaff"/><rect x="1016.5" fill="#b8b8ff"/><rect x="1020.5" fill="#c5c5ff"/><rect x="1024.5" fill="#cfcfff"/><rect x="1028.5" fill="#d7d7ff"/><rect x="1032.5" fill="#dedeff"/><rect x="1036.5" fill="#e3e3ff"/><rect x="1040.5" fill="#e7e7ff"/><rect x="1044.5" fill="#eaeaff"/><rect x="1048.5" fill="#ededff"/><rect x="1052.5" fill="#eeeeff"/><rect x="1056.5" fill="#f0f0ff"/></g><g transform="translate(0 91.5)"><rect x="872.5" fill="#ededff"/><rect x="876.5" fill="#ececff"/><rect x="880.5" fill="#eaeaff"/><rect x="884.5" fill="#e7e7ff"/><rect x="888.5" fill="#e3e3ff"/><rect x="892.5" fill="#dedeff"/><rect x="896.5" fill="#d8d8ff"/><rect x="900.5" fill="#d0d0ff"/><rect x="904.5" fill="#c5c5ff"/><rect x="908.5" fill="#b9b9ff"/><rect x="912.5" fill="#aaaaff"/><rect x="916.5" fill="#9999ff"/><rect x="920.5" fill="#8585ff"/><rect x="924.5" fill="#6e6eff"/><rect x="928.5" fill="#5656ff"/><rect x="932.5" fill="#3b3bff"/><rect x="936.5" fill="#1f1fff"/><rect x="940.5" fill="#0202ff"/><rect x="944.5" fill="#1a00e5"/><rect x="948.5" fill="#3300cc"/><rect x="952.5" fill="#4900b6"/><rect x="956.5" fill="#5900a6"/><rect x="960.5" fill="#63009c"/><rect x="964.5" fill="#65009a"/><rect x="968.5" fill="#5f00a0"/><rect x="972.5" fill="#5200ad"/><rect x="976.5" fill="#3f00c0"/><rect x="980.5" fill="#2800d7"/><rect x="984.5" fill="#0d00f2"/><rect x="988.5" fill="#0f0fff"/><rect x="992.5" fill="#2b2bff"/><rect x="996.5" fill="#4646ff"/><rect x="1000.5" fill="#6060ff"/><rect x="1004.5" fill="#7878ff"/><rect x="1008.5" fill="#8e8eff"/><rect x="1012.5" fill="#a1a1ff"/><rect x="1016.5" fill="#b1b1ff"/><rect x="1020.5" fill="#bfbfff"/><rect x="1024.5" fill="#cacaff"/><rect x="1028.5" fill="#d3d3ff"/><rect x="1032.5" fill="#dbdbff"/><rect x="1036.5" fill="#e0e0ff"/><rect x="1040.5" fill="#e5e5ff"/><rect x="1044.5" fill="#e8e8ff"/><rect x="1048.5" fill="#ebebff"/><rect x="1052.5" fill="#ececff"/><rect x="1056.5" fill="#eeeeff"/></g><g transform="translate(0 95.5)"><rect x="872.5" fill="#ebebff"/><rect x="876.5" fill="#eaeaff"/><rect x="880.5" fill="#e7e7ff"/><rect x="884.5" fill="#e4e4ff"/><rect x="888.5" fill="#e0e0ff"/><rect x="892.5" fill="#dbdbff"/><rect x="896.5" fill="#d4d4ff"/><rect x="900.5" fill="#cbcbff"/><rect x="904.5" fill="#c0c0ff"/><rect x="908.5" fill="#b3b3ff"/><rect x="912.5" fill="#a2a2ff"/><rect x="916.5" fill="#9090ff"/><rect x="920.5" fill="#7a7aff"/><rect x="924.5" fill="#6161ff"/><rect x="928.5" fill="#4646ff"/><rect x="932.5" fill="#2929ff"/><rect x="936.5" fill="#0a0aff"/><rect x="940.5" fill="#1500ea"/><rect x="944.5" fill="#3300cc"/><rect x="948.5" fill="#4e00b1"/><rect x="952.5" fill="#660099"/><rect x="956.5" fill="#770088"/><rect x="960.5" fill="#81007e"/><rect x="964.5" fill="#84007b"/><rect x="968.5" fill="#7e0081"/><rect x="972.5" fill="#70008f"/><rect x="976.5" fill="#5b00a4"/><rect x="980.5" fill="#4200bd"/><rect x="984.5" fill="#2500da"/><rect x="988.5" fill="#0700f8"/><rect x="992.5" fill="#1818ff"/><rect x="996.5" fill="#3636ff"/><rect x="1000.5" fill="#5252ff"/><rect x="1004.5" fill="#6c6cff"/><rect x="1008.5" fill="#8383ff"/><rect x="1012.5" fill="#9898ff"/><rect x="1016.5" fill="#aaaaff"/><rect x="1020.5" fill="#b8b8ff"/><rect x="1024.5" fill="#c5c5ff"/><rect x="1028.5" fill="#cfcfff"/><rect x="1032.5" fill="#d7d7ff"/><rect x="1036.5" fill="#ddddff"/><rect x="1040.5" fill="#e2e2ff"/><rect x="1044.5" fill="#e6e6ff"/><rect x="1048.5" fill="#e9e9ff"/><rect x="1052.5" fill="#eaeaff"/><rect x="1056.5" fill="#ececff"/></g><g transform="translate(0 99.5)"><rect x="872.5" fill="#e9e9ff"/><rect x="876.5" fill="#e8e8ff"/><rect x="880.5" fill="#e5e5ff"/><rect x="884.5" fill="#e2e2ff"/><rect x="888.5" fill="#dedeff"/><rect x="892.5" fill="#d8d8ff"/><rect x="896.5" fill="#d0d0ff"/><rect x="900.5" fill="#c7c7ff"/><rect x="904.5" fill="#bbbbff"/><rect x="908.5" fill="#acacff"/><rect x="912.5" fill="#9b9bff"/><rect x="916.5" fill="#8787ff"/><rect x="920.5" fill="#6f6fff"/><rect x="924.5" fill="#5555ff"/><rect x="928.5" fill="#3838ff"/><rect x="932.5" fill="#1919ff"/><rect x="936.5" fill="#0800f7"/><rect x="940.5" fill="#2a00d5"/><rect x="944.5" fill="#4a00b5"/><rect x="948.5" fill="#670098"/><rect x="952.5" fill="#81007e"/><rect x="956.5" fill="#93006c"/><rect x="960.5" fill="#9e0061"/><rect x="964.5" fill="#a1005e"/><rect x="968.5" fill="#9a0065"/><rect x="972.5" fill="#8b0074"/><rect x="976.5" fill="#760089"/><rect x="980.5" fill="#5a00a5"/><rect x="984.5" fill="#3b00c4"/><rect x="988.5" fill="#1b00e4"/><rect x="992.5" fill="#0606ff"/><rect x="996.5" fill="#2626ff"/><rect x="1000.5" fill="#4545ff"/><rect x="1004.5" fill="#6060ff"/><rect x="1008.5" fill="#7979ff"/><rect x="1012.5" fill="#9090ff"/><rect x="1016.5" fill="#a3a3ff"/><rect x="1020.5" fill="#b3b3ff"/><rect x="1024.5" fill="#c0c0ff"/><rect x="1028.5" fill="#cbcbff"/><rect x="1032.5" fill="#d4d4ff"/><rect x="1036.5" fill="#dadaff"/><rect x="1040.5" fill="#e0e0ff"/><rect x="1044.5" fill="#e3e3ff"/><rect x="1048.5" fill="#e6e6ff"/><rect x="1052.5" fill="#e8e8ff"/><rect x="1056.5" fill="#eaeaff"/></g><g transform="translate(0 103.5)"><rect x="872.5" fill="#e7e7ff"/><rect x="876.5" fill="#e6e6ff"/><rect x="880.5" fill="#e3e3ff"/><rect x="884.5" fill="#dfdfff"/><rect x="888.5" fill="#dbdbff"/><rect x="892.5" fill="#d5d5ff"/><rect x="896.5" fill="#cdcdff"/><rect x="900.5" fill="#c2c2ff"/><rect x="904.5" fill="#b6b6ff"/><rect x="908.5" fill="#a7a7ff"/><rect x="912.5" fill="#9494ff"/><rect x="916.5" fill="#7f7fff"/><rect x="920.5" fill="#6666ff"/><rect x="924.5" fill="#4a4aff"/><rect x="928.5" fill="#2b2bff"/><rect x="932.5" fill="#0a0aff"/><rect x="936.5" fill="#1900e6"/><rect x="940.5" fill="#3c00c3"/><rect x="944.5" fill="#5f00a0"/><rect x="948.5" fill="#7e0081"/><rect x="952.5" fill="#990066"/><rect x="956.5" fill="#ad0052"/><rect x="960.5" fill="#b80047"/><rect x="964.5" fill="#bb0044"/><rect x="968.5" fill="#b4004b"/><rect x="972.5" fill="#a4005b"/><rect x="976.5" fill="#8d0072"/><rect x="980.5" fill="#70008f"/><rect x="984.5" fill="#4f00b0"/><rect x="988.5" fill="#2d00d2"/><rect x="992.5" fill="#0a00f5"/><rect x="996.5" fill="#1818ff"/><rect x="1000.5" fill="#3838ff"/><rect x="1004.5" fill="#5656ff"/><rect x="1008.5" fill="#7171ff"/><rect x="1012.5" fill="#8888ff"/><rect x="1016.5" fill="#9c9cff"/><rect x="1020.5" fill="#adadff"/><rect x="1024.5" fill="#bcbcff"/><rect x="1028.5" fill="#c7c7ff"/><rect x="1032.5" fill="#d0d0ff"/><rect x="1036.5" fill="#d7d7ff"/><rect x="1040.5" fill="#ddddff"/><rect x="1044.5" fill="#e1e1ff"/><rect x="1048.5" fill="#e4e4ff"/><rect x="1052.5" fill="#e6e6ff"/><rect x="1056.5" fill="#e8e8ff"/></g><g transform="translate(0 107.5)"><rect x="872.5" fill="#e5e5ff"/><rect x="876.5" fill="#e3e3ff"/><rect x="880.5" fill="#e1e1ff"/><rect x="884.5" fill="#ddddff"/><rect x="888.5" fill="#d8d8ff"/><rect x="892.5" fill="#d2d2ff"/><rect x="896.5" fill="#c9c9ff"/><rect x="900.5" fill="#bfbfff"/><rect x="904.5" fill="#b1b1ff"/><rect x="908.5" fill="#a1a1ff"/><rect x="912.5" fill="#8e8eff"/><rect x="916.5" fill="#7777ff"/><rect x="920.5" fill="#5d5dff"/><rect x="924.5" fill="#4040ff"/><rect x="928.5" fill="#2020ff"/><rect x="932.5" fill="#0300fc"/><rect x="936.5" fill="#2800d7"/><rect x="940.5" fill="#4d00b2"/><rect x="944.5" fill="#71008e"/><rect x="948.5" fill="#92006d"/><rect x="952.5" fill="#ae0051"/><rect x="956.5" fill="#c2003d"/><rect x="960.5" fill="#cf0030"/><rect x="964.5" fill="#d1002e"/><rect x="968.5" fill="#ca0035"/><rect x="972.5" fill="#ba0045"/><rect x="976.5" fill="#a1005e"/><rect x="980.5" fill="#83007c"/><rect x="984.5" fill="#61009e"/><rect x="988.5" fill="#3c00c3"/><rect x="992.5" fill="#1800e7"/><rect x="996.5" fill="#0c0cff"/><rect x="1000.5" fill="#2e2eff"/><rect x="1004.5" fill="#4d4dff"/><rect x="1008.5" fill="#6969ff"/><rect x="1012.5" fill="#8181ff"/><rect x="1016.5" fill="#9696ff"/><rect x="1020.5" fill="#a8a8ff"/><rect x="1024.5" fill="#b7b7ff"/><rect x="1028.5" fill="#c3c3ff"/><rect x="1032.5" fill="#cdcdff"/><rect x="1036.5" fill="#d5d5ff"/><rect x="1040.5" fill="#dadaff"/><rect x="1044.5" fill="#dfdfff"/><rect x="1048.5" fill="#e2e2ff"/><rect x="1052.5" fill="#e4e4ff"/><rect x="1056.5" fill="#e6e6ff"/></g><g transform="translate(0 111.5)"><rect x="872.5" fill="#e4e4ff"/><rect x="876.5" fill="#e1e1ff"/><rect x="880.5" fill="#dfdfff"/><rect x="884.5" fill="#dbdbff"/><rect x="888.5" fill="#d6d6ff"/><rect x="892.5" fill="#cfcfff"/><rect x="896.5" fill="#c6c6ff"/><rect x="900.5" fill="#bbbbff"/><rect x="904.5" fill="#adadff"/><rect x="908.5" fill="#9d9dff"/><rect x="912.5" fill="#8989ff"/><rect x="916.5" fill="#7171ff"/><rect x="920.5" fill="#5656ff"/><rect x="924.5" fill="#3838ff"/><rect x="928.5" fill="#1616ff"/><rect x="932.5" fill="#0e00f1"/><rect x="936.5" fill="#3400cb"/><rect x="940.5" fill="#5a00a5"/><rect x="944.5" fill="#7f0080"/><rect x="948.5" fill="#a2005d"/><rect x="952.5" fill="#bf0040"/><rect x="956.5" fill="#d4002b"/><rect x="960.5" fill="#e1001e"/><rect x="964.5" fill="#e4001b"/><rect x="968.5" fill="#dc0023"/><rect x="972.5" fill="#cb0034"/><rect x="976.5" fill="#b2004d"/><rect x="980.5" fill="#92006d"/><rect x="984.5" fill="#6f0090"/><rect x="988.5" fill="#4900b6"/><rect x="992.5" fill="#2300dc"/><rect x="996.5" fill="#0202ff"/><rect x="1000.5" fill="#2525ff"/><rect x="1004.5" fill="#4545ff"/><rect x="1008.5" fill="#6262ff"/><rect x="1012.5" fill="#7c7cff"/><rect x="1016.5" fill="#9292ff"/><rect x="1020.5" fill="#a4a4ff"/><rect x="1024.5" fill="#b4b4ff"/><rect x="1028.5" fill="#c0c0ff"/><rect x="1032.5" fill="#cacaff"/><rect x="1036.5" fill="#d2d2ff"/><rect x="1040.5" fill="#d8d8ff"/><rect x="1044.5" fill="#ddddff"/><rect x="1048.5" fill="#e0e0ff"/><rect x="1052.5" fill="#e2e2ff"/><rect x="1056.5" fill="#e4e4ff"/></g><g transform="translate(0 115.5)"><rect x="872.5" fill="#e2e2ff"/><rect x="876.5" fill="#dfdfff"/><rect x="880.5" fill="#ddddff"/><rect x="884.5" fill="#d9d9ff"/><rect x="888.5" fill="#d3d3ff"/><rect x="892.5" fill="#ccccff"/><rect x="896.5" fill="#c3c3ff"/><rect x="900.5" fill="#b8b8ff"/><rect x="904.5" fill="#aaaaff"/><rect x="908.5" fill="#9999ff"/><rect x="912.5" fill="#8484ff"/><rect x="916.5" fill="#6c6cff"/><rect x="920.5" fill="#5151ff"/><rect x="924.5" fill="#3232ff"/><rect x="928.5" fill="#0f0fff"/><rect x="932.5" fill="#1600e9"/><rect x="936.5" fill="#3d00c2"/><rect x="940.5" fill="#64009b"/><rect x="944.5" fill="#8a0075"/><rect x="948.5" fill="#ae0051"/><rect x="952.5" fill="#cb0034"/><rect x="956.5" fill="#e2001d"/><rect x="960.5" fill="#ef0010"/><rect x="964.5" fill="#f1000e"/><rect x="968.5" fill="#ea0015"/><rect x="972.5" fill="#d80027"/><rect x="976.5" fill="#be0041"/><rect x="980.5" fill="#9e0061"/><rect x="984.5" fill="#790086"/><rect x="988.5" fill="#5200ad"/><rect x="992.5" fill="#2b00d4"/><rect x="996.5" fill="#0500fa"/><rect x="1000.5" fill="#1e1eff"/><rect x="1004.5" fill="#3f3fff"/><rect x="1008.5" fill="#5d5dff"/><rect x="1012.5" fill="#7777ff"/><rect x="1016.5" fill="#8d8dff"/><rect x="1020.5" fill="#a1a1ff"/><rect x="1024.5" fill="#b0b0ff"/><rect x="1028.5" fill="#bdbdff"/><rect x="1032.5" fill="#c8c8ff"/><rect x="1036.5" fill="#d0d0ff"/><rect x="1040.5" fill="#d6d6ff"/><rect x="1044.5" fill="#dbdbff"/><rect x="1048.5" fill="#dedeff"/><rect x="1052.5" fill="#e1e1ff"/><rect x="1056.5" fill="#e2e2ff"/></g><g transform="translate(0 119.5)"><rect x="872.5" fill="#e0e0ff"/><rect x="876.5" fill="#dedeff"/><rect x="880.5" fill="#dbdbff"/><rect x="884.5" fill="#d7d7ff"/><rect x="888.5" fill="#d1d1ff"/><rect x="892.5" fill="#cacaff"/><rect x="896.5" fill="#c1c1ff"/><rect x="900.5" fill="#b6b6ff"/><rect x="904.5" fill="#a7a7ff"/><rect x="908.5" fill="#9696ff"/><rect x="912.5" fill="#8181ff"/><rect x="916.5" fill="#6969ff"/><rect x="920.5" fill="#4d4dff"/><rect x="924.5" fill="#2d2dff"/><rect x="928.5" fill="#0a0aff"/><rect x="932.5" fill="#1b00e4"/><rect x="936.5" fill="#4300bc"/><rect x="940.5" fill="#6b0094"/><rect x="944.5" fill="#92006d"/><rect x="948.5" fill="#b5004a"/><rect x="952.5" fill="#d4002b"/><rect x="956.5" fill="#ea0015"/><rect x="960.5" fill="#f80007"/><rect x="964.5" fill="#fa0005"/><rect x="968.5" fill="#f2000d"/><rect x="972.5" fill="#e1001e"/><rect x="976.5" fill="#c60039"/><rect x="980.5" fill="#a5005a"/><rect x="984.5" fill="#80007f"/><rect x="988.5" fill="#5900a6"/><rect x="992.5" fill="#3100ce"/><rect x="996.5" fill="#0a00f5"/><rect x="1000.5" fill="#1a1aff"/><rect x="1004.5" fill="#3b3bff"/><rect x="1008.5" fill="#5959ff"/><rect x="1012.5" fill="#7474ff"/><rect x="1016.5" fill="#8a8aff"/><rect x="1020.5" fill="#9e9eff"/><rect x="1024.5" fill="#aeaeff"/><rect x="1028.5" fill="#bbbbff"/><rect x="1032.5" fill="#c5c5ff"/><rect x="1036.5" fill="#cdcdff"/><rect x="1040.5" fill="#d4d4ff"/><rect x="1044.5" fill="#d9d9ff"/><rect x="1048.5" fill="#dcdcff"/><rect x="1052.5" fill="#dfdfff"/><rect x="1056.5" fill="#e1e1ff"/></g><g transform="translate(0 123.5)"><rect x="872.5" fill="#dedeff"/><rect x="876.5" fill="#dcdcff"/><rect x="880.5" fill="#d9d9ff"/><rect x="884.5" fill="#d5d5ff"/><rect x="888.5" fill="#cfcfff"/><rect x="892.5" fill="#c8c8ff"/><rect x="896.5" fill="#bfbfff"/><rect x="900.5" fill="#b4b4ff"/><rect x="904.5" fill="#a5a5ff"/><rect x="908.5" fill="#9494ff"/><rect x="912.5" fill="#7f7fff"/><rect x="916.5" fill="#6767ff"/><rect x="920.5" fill="#4b4bff"/><rect x="924.5" fill="#2b2bff"/><rect x="928.5" fill="#0808ff"/><rect x="932.5" fill="#1e00e1"/><rect x="936.5" fill="#4500ba"/><rect x="940.5" fill="#6e0091"/><rect x="944.5" fill="#95006a"/><rect x="948.5" fill="#b90046"/><rect x="952.5" fill="#d70028"/><rect x="956.5" fill="#ee0011"/><rect x="960.5" fill="#fc0003"/><rect x="964.5" fill="#fe0001"/><rect x="968.5" fill="#f60009"/><rect x="972.5" fill="#e4001b"/><rect x="976.5" fill="#ca0035"/><rect x="980.5" fill="#a80057"/><rect x="984.5" fill="#83007c"/><rect x="988.5" fill="#5b00a4"/><rect x="992.5" fill="#3400cb"/><rect x="996.5" fill="#0d00f2"/><rect x="1000.5" fill="#1818ff"/><rect x="1004.5" fill="#3939ff"/><rect x="1008.5" fill="#5757ff"/><rect x="1012.5" fill="#7171ff"/><rect x="1016.5" fill="#8888ff"/><rect x="1020.5" fill="#9c9cff"/><rect x="1024.5" fill="#acacff"/><rect x="1028.5" fill="#b9b9ff"/><rect x="1032.5" fill="#c3c3ff"/><rect x="1036.5" fill="#ccccff"/><rect x="1040.5" fill="#d2d2ff"/><rect x="1044.5" fill="#d7d7ff"/><rect x="1048.5" fill="#dadaff"/><rect x="1052.5" fill="#ddddff"/><rect x="1056.5" fill="#dfdfff"/></g><g transform="translate(0 127.5)"><rect x="872.5" fill="#dcdcff"/><rect x="876.5" fill="#dadaff"/><rect x="880.5" fill="#d7d7ff"/><rect x="884.5" fill="#d3d3ff"/><rect x="888.5" fill="#ceceff"/><rect x="892.5" fill="#c7c7ff"/><rect x="896.5" fill="#bebeff"/><rect x="900.5" fill="#b2b2ff"/><rect x="904.5" fill="#a4a4ff"/><rect x="908.5" fill="#9393ff"/><rect x="912.5" fill="#7e7eff"/><rect x="916.5" fill="#6666ff"/><rect x="920.5" fill="#4a4aff"/><rect x="924.5" fill="#2b2bff"/><rect x="928.5" fill="#0808ff"/><rect x="932.5" fill="#1e00e1"/><rect x="936.5" fill="#4500ba"/><rect x="940.5" fill="#6d0092"/><rect x="944.5" fill="#94006b"/><rect x="948.5" fill="#b80047"/><rect x="952.5" fill="#d70028"/><rect x="956.5" fill="#ee0011"/><rect x="960.5" fill="#fb0004"/><rect x="964.5" fill="#fe0001"/><rect x="968.5" fill="#f60009"/><rect x="972.5" fill="#e3001c"/><rect x="976.5" fill="#c90036"/><rect x="980.5" fill="#a80057"/><rect x="984.5" fill="#82007d"/><rect x="988.5" fill="#5b00a4"/><rect x="992.5" fill="#3300cc"/><rect x="996.5" fill="#0d00f2"/><rect x="1000.5" fill="#1717ff"/><rect x="1004.5" fill="#3939ff"/><rect x="1008.5" fill="#5656ff"/><rect x="1012.5" fill="#7171ff"/><rect x="1016.5" fill="#8787ff"/><rect x="1020.5" fill="#9a9aff"/><rect x="1024.5" fill="#aaaaff"/><rect x="1028.5" fill="#b7b7ff"/><rect x="1032.5" fill="#c2c2ff"/><rect x="1036.5" fill="#cacaff"/><rect x="1040.5" fill="#d0d0ff"/><rect x="1044.5" fill="#d5d5ff"/><rect x="1048.5" fill="#d9d9ff"/><rect x="1052.5" fill="#dbdbff"/><rect x="1056.5" fill="#ddddff"/></g><g transform="translate(0 131.5)"><rect x="872.5" fill="#dbdbff"/><rect x="876.5" fill="#d9d9ff"/><rect x="880.5" fill="#d6d6ff"/><rect x="884.5" fill="#d2d2ff"/><rect x="888.5" fill="#ccccff"/><rect x="892.5" fill="#c5c5ff"/><rect x="896.5" fill="#bcbcff"/><rect x="900.5" fill="#b1b1ff"/><rect x="904.5" fill="#a3a3ff"/><rect x="908.5" fill="#9292ff"/><rect x="912.5" fill="#7e7eff"/><rect x="916.5" fill="#6666ff"/><rect x="920.5" fill="#4b4bff"/><rect x="924.5" fill="#2c2cff"/><rect x="928.5" fill="#0a0aff"/><rect x="932.5" fill="#1b00e4"/><rect x="936.5" fill="#4200bd"/><rect x="940.5" fill="#690096"/><rect x="944.5" fill="#90006f"/><rect x="948.5" fill="#b3004c"/><rect x="952.5" fill="#d2002d"/><rect x="956.5" fill="#e80017"/><rect x="960.5" fill="#f60009"/><rect x="964.5" fill="#f80007"/><rect x="968.5" fill="#f0000f"/><rect x="972.5" fill="#de0021"/><rect x="976.5" fill="#c4003b"/><rect x="980.5" fill="#a3005c"/><rect x="984.5" fill="#7e0081"/><rect x="988.5" fill="#5700a8"/><rect x="992.5" fill="#3000cf"/><rect x="996.5" fill="#0a00f5"/><rect x="1000.5" fill="#1919ff"/><rect x="1004.5" fill="#3a3aff"/><rect x="1008.5" fill="#5757ff"/><rect x="1012.5" fill="#7171ff"/><rect x="1016.5" fill="#8787ff"/><rect x="1020.5" fill="#9a9aff"/><rect x="1024.5" fill="#aaaaff"/><rect x="1028.5" fill="#b6b6ff"/><rect x="1032.5" fill="#c1c1ff"/><rect x="1036.5" fill="#c9c9ff"/><rect x="1040.5" fill="#cfcfff"/><rect x="1044.5" fill="#d4d4ff"/><rect x="1048.5" fill="#d7d7ff"/><rect x="1052.5" fill="#dadaff"/><rect x="1056.5" fill="#dcdcff"/></g><g transform="translate(0 135.5)"><rect x="872.5" fill="#dadaff"/><rect x="876.5" fill="#d7d7ff"/><rect x="880.5" fill="#d5d5ff"/><rect x="884.5" fill="#d1d1ff"/><rect x="888.5" fill="#cbcbff"/><rect x="892.5" fill="#c4c4ff"/><rect x="896.5" fill="#bcbcff"/><rect x="900.5" fill="#b1b1ff"/><rect x="904.5" fill="#a3a3ff"/><rect x="908.5" fill="#9393ff"/><rect x="912.5" fill="#7f7fff"/><rect x="916.5" fill="#6868ff"/><rect x="920.5" fill="#4d4dff"/><rect x="924.5" fill="#2f2fff"/><rect x="928.5" fill="#0e0eff"/><rect x="932.5" fill="#1600e9"/><rect x="936.5" fill="#3c00c3"/><rect x="940.5" fill="#62009d"/><rect x="944.5" fill="#880077"/><rect x="948.5" fill="#ab0054"/><rect x="952.5" fill="#c90036"/><rect x="956.5" fill="#df0020"/><rect x="960.5" fill="#ec0013"/><rect x="964.5" fill="#ef0010"/><rect x="968.5" fill="#e70018"/><rect x="972.5" fill="#d5002a"/><rect x="976.5" fill="#bb0044"/><rect x="980.5" fill="#9b0064"/><rect x="984.5" fill="#760089"/><rect x="988.5" fill="#5000af"/><rect x="992.5" fill="#2a00d5"/><rect x="996.5" fill="#0500fa"/><rect x="1000.5" fill="#1d1dff"/><rect x="1004.5" fill="#3d3dff"/><rect x="1008.5" fill="#5959ff"/><rect x="1012.5" fill="#7272ff"/><rect x="1016.5" fill="#8888ff"/><rect x="1020.5" fill="#9a9aff"/><rect x="1024.5" fill="#a9a9ff"/><rect x="1028.5" fill="#b6b6ff"/><rect x="1032.5" fill="#c0c0ff"/><rect x="1036.5" fill="#c8c8ff"/><rect x="1040.5" fill="#ceceff"/><rect x="1044.5" fill="#d3d3ff"/><rect x="1048.5" fill="#d6d6ff"/><rect x="1052.5" fill="#d9d9ff"/><rect x="1056.5" fill="#dadaff"/></g><g transform="translate(0 139.5)"><rect x="872.5" fill="#d9d9ff"/><rect x="876.5" fill="#d6d6ff"/><rect x="880.5" fill="#d4d4ff"/><rect x="884.5" fill="#d0d0ff"/><rect x="888.5" fill="#cbcbff"/><rect x="892.5" fill="#c4c4ff"/><rect x="896.5" fill="#bbbbff"/><rect x="900.5" fill="#b1b1ff"/><rect x="904.5" fill="#a4a4ff"/><rect x="908.5" fill="#9494ff"/><rect x="912.5" fill="#8181ff"/><rect x="916.5" fill="#6a6aff"/><rect x="920.5" fill="#5151ff"/><rect x="924.5" fill="#3434ff"/><rect x="928.5" fill="#1414ff"/><rect x="932.5" fill="#0f00f0"/><rect x="936.5" fill="#3300cc"/><rect x="940.5" fill="#5900a6"/><rect x="944.5" fill="#7e0081"/><rect x="948.5" fill="#a0005f"/><rect x="952.5" fill="#bd0042"/><rect x="956.5" fill="#d3002c"/><rect x="960.5" fill="#df0020"/><rect x="964.5" fill="#e2001d"/><rect x="968.5" fill="#da0025"/><rect x="972.5" fill="#c90036"/><rect x="976.5" fill="#af0050"/><rect x="980.5" fill="#90006f"/><rect x="984.5" fill="#6c0093"/><rect x="988.5" fill="#4700b8"/><rect x="992.5" fill="#2200dd"/><rect x="996.5" fill="#0101ff"/><rect x="1000.5" fill="#2323ff"/><rect x="1004.5" fill="#4141ff"/><rect x="1008.5" fill="#5d5dff"/><rect x="1012.5" fill="#7575ff"/><rect x="1016.5" fill="#8989ff"/><rect x="1020.5" fill="#9b9bff"/><rect x="1024.5" fill="#aaaaff"/><rect x="1028.5" fill="#b6b6ff"/><rect x="1032.5" fill="#bfbfff"/><rect x="1036.5" fill="#c7c7ff"/><rect x="1040.5" fill="#cdcdff"/><rect x="1044.5" fill="#d2d2ff"/><rect x="1048.5" fill="#d5d5ff"/><rect x="1052.5" fill="#d8d8ff"/><rect x="1056.5" fill="#d9d9ff"/></g><g transform="translate(0 143.5)"><rect x="872.5" fill="#d8d8ff"/><rect x="876.5" fill="#d6d6ff"/><rect x="880.5" fill="#d3d3ff"/><rect x="884.5" fill="#cfcfff"/><rect x="888.5" fill="#cacaff"/><rect x="892.5" fill="#c4c4ff"/><rect x="896.5" fill="#bbbbff"/><rect x="900.5" fill="#b1b1ff"/><rect x="904.5" fill="#a5a5ff"/><rect x="908.5" fill="#9595ff"/><rect x="912.5" fill="#8383ff"/><rect x="916.5" fill="#6e6eff"/><rect x="920.5" fill="#5555ff"/><rect x="924.5" fill="#3a3aff"/><rect x="928.5" fill="#1b1bff"/><rect x="932.5" fill="#0600f9"/><rect x="936.5" fill="#2900d6"/><rect x="940.5" fill="#4d00b2"/><rect x="944.5" fill="#71008e"/><rect x="948.5" fill="#92006d"/><rect x="952.5" fill="#ae0051"/><rect x="956.5" fill="#c3003c"/><rect x="960.5" fill="#d0002f"/><rect x="964.5" fill="#d2002d"/><rect x="968.5" fill="#ca0035"/><rect x="972.5" fill="#b90046"/><rect x="976.5" fill="#a1005e"/><rect x="980.5" fill="#82007d"/><rect x="984.5" fill="#60009f"/><rect x="988.5" fill="#3c00c3"/><rect x="992.5" fill="#1800e7"/><rect x="996.5" fill="#0a0aff"/><rect x="1000.5" fill="#2a2aff"/><rect x="1004.5" fill="#4747ff"/><rect x="1008.5" fill="#6161ff"/><rect x="1012.5" fill="#7878ff"/><rect x="1016.5" fill="#8c8cff"/><rect x="1020.5" fill="#9c9cff"/><rect x="1024.5" fill="#ababff"/><rect x="1028.5" fill="#b6b6ff"/><rect x="1032.5" fill="#bfbfff"/><rect x="1036.5" fill="#c7c7ff"/><rect x="1040.5" fill="#cdcdff"/><rect x="1044.5" fill="#d1d1ff"/><rect x="1048.5" fill="#d4d4ff"/><rect x="1052.5" fill="#d7d7ff"/><rect x="1056.5" fill="#d9d9ff"/></g><g transform="translate(0 147.5)"><rect x="872.5" fill="#d7d7ff"/><rect x="876.5" fill="#d5d5ff"/><rect x="880.5" fill="#d2d2ff"/><rect x="884.5" fill="#cfcfff"/><rect x="888.5" fill="#cacaff"/><rect x="892.5" fill="#c4c4ff"/><rect x="896.5" fill="#bcbcff"/><rect x="900.5" fill="#b2b2ff"/><rect x="904.5" fill="#a6a6ff"/><rect x="908.5" fill="#9797ff"/><rect x="912.5" fill="#8686ff"/><rect x="916.5" fill="#7272ff"/><rect x="920.5" fill="#5b5bff"/><rect x="924.5" fill="#4141ff"/><rect x="928.5" fill="#2424ff"/><rect x="932.5" fill="#0404ff"/><rect x="936.5" fill="#1e00e1"/><rect x="940.5" fill="#4000bf"/><rect x="944.5" fill="#62009d"/><rect x="948.5" fill="#82007d"/><rect x="952.5" fill="#9d0062"/><rect x="956.5" fill="#b2004d"/><rect x="960.5" fill="#be0041"/><rect x="964.5" fill="#c0003f"/><rect x="968.5" fill="#b90046"/><rect x="972.5" fill="#a80057"/><rect x="976.5" fill="#90006f"/><rect x="980.5" fill="#73008c"/><rect x="984.5" fill="#5200ad"/><rect x="988.5" fill="#2f00d0"/><rect x="992.5" fill="#0d00f2"/><rect x="996.5" fill="#1313ff"/><rect x="1000.5" fill="#3131ff"/><rect x="1004.5" fill="#4d4dff"/><rect x="1008.5" fill="#6666ff"/><rect x="1012.5" fill="#7c7cff"/><rect x="1016.5" fill="#8e8eff"/><rect x="1020.5" fill="#9e9eff"/><rect x="1024.5" fill="#acacff"/><rect x="1028.5" fill="#b7b7ff"/><rect x="1032.5" fill="#c0c0ff"/><rect x="1036.5" fill="#c7c7ff"/><rect x="1040.5" fill="#ccccff"/><rect x="1044.5" fill="#d0d0ff"/><rect x="1048.5" fill="#d4d4ff"/><rect x="1052.5" fill="#d6d6ff"/><rect x="1056.5" fill="#d8d8ff"/></g><g transform="translate(0 151.5)"><rect x="872.5" fill="#d6d6ff"/><rect x="876.5" fill="#d5d5ff"/><rect x="880.5" fill="#d2d2ff"/><rect x="884.5" fill="#ceceff"/><rect x="888.5" fill="#cacaff"/><rect x="892.5" fill="#c4c4ff"/><rect x="896.5" fill="#bcbcff"/><rect x="900.5" fill="#b3b3ff"/><rect x="904.5" fill="#a8a8ff"/><rect x="908.5" fill="#9a9aff"/><rect x="912.5" fill="#8a8aff"/><rect x="916.5" fill="#7777ff"/><rect x="920.5" fill="#6161ff"/><rect x="924.5" fill="#4848ff"/><rect x="928.5" fill="#2d2dff"/><rect x="932.5" fill="#0f0fff"/><rect x="936.5" fill="#1100ee"/><rect x="940.5" fill="#3200cd"/><rect x="944.5" fill="#5300ac"/><rect x="948.5" fill="#71008e"/><rect x="952.5" fill="#8b0074"/><rect x="956.5" fill="#9f0060"/><rect x="960.5" fill="#aa0055"/><rect x="964.5" fill="#ac0053"/><rect x="968.5" fill="#a5005a"/><rect x="972.5" fill="#95006a"/><rect x="976.5" fill="#7e0081"/><rect x="980.5" fill="#62009d"/><rect x="984.5" fill="#4200bd"/><rect x="988.5" fill="#2200dd"/><rect x="992.5" fill="#0100fe"/><rect x="996.5" fill="#1d1dff"/><rect x="1000.5" fill="#3a3aff"/><rect x="1004.5" fill="#5454ff"/><rect x="1008.5" fill="#6b6bff"/><rect x="1012.5" fill="#8080ff"/><rect x="1016.5" fill="#9292ff"/><rect x="1020.5" fill="#a1a1ff"/><rect x="1024.5" fill="#adadff"/><rect x="1028.5" fill="#b8b8ff"/><rect x="1032.5" fill="#c0c0ff"/><rect x="1036.5" fill="#c7c7ff"/><rect x="1040.5" fill="#ccccff"/><rect x="1044.5" fill="#d0d0ff"/><rect x="1048.5" fill="#d3d3ff"/><rect x="1052.5" fill="#d6d6ff"/><rect x="1056.5" fill="#d7d7ff"/></g><g transform="translate(0 155.5)"><rect x="872.5" fill="#d6d6ff"/><rect x="876.5" fill="#d4d4ff"/><rect x="880.5" fill="#d2d2ff"/><rect x="884.5" fill="#ceceff"/><rect x="888.5" fill="#cacaff"/><rect x="892.5" fill="#c4c4ff"/><rect x="896.5" fill="#bdbdff"/><rect x="900.5" fill="#b4b4ff"/><rect x="904.5" fill="#aaaaff"/><rect x="908.5" fill="#9d9dff"/><rect x="912.5" fill="#8d8dff"/><rect x="916.5" fill="#7c7cff"/><rect x="920.5" fill="#6767ff"/><rect x="924.5" fill="#5050ff"/><rect x="928.5" fill="#3636ff"/><rect x="932.5" fill="#1a1aff"/><rect x="936.5" fill="#0400fb"/><rect x="940.5" fill="#2300dc"/><rect x="944.5" fill="#4200bd"/><rect x="948.5" fill="#5f00a0"/><rect x="952.5" fill="#780087"/><rect x="956.5" fill="#8b0074"/><rect x="960.5" fill="#960069"/><rect x="964.5" fill="#980067"/><rect x="968.5" fill="#91006e"/><rect x="972.5" fill="#82007d"/><rect x="976.5" fill="#6c0093"/><rect x="980.5" fill="#5100ae"/><rect x="984.5" fill="#3300cc"/><rect x="988.5" fill="#1400eb"/><rect x="992.5" fill="#0b0bff"/><rect x="996.5" fill="#2828ff"/><rect x="1000.5" fill="#4343ff"/><rect x="1004.5" fill="#5b5bff"/><rect x="1008.5" fill="#7171ff"/><rect x="1012.5" fill="#8484ff"/><rect x="1016.5" fill="#9595ff"/><rect x="1020.5" fill="#a3a3ff"/><rect x="1024.5" fill="#afafff"/><rect x="1028.5" fill="#b9b9ff"/><rect x="1032.5" fill="#c1c1ff"/><rect x="1036.5" fill="#c7c7ff"/><rect x="1040.5" fill="#ccccff"/><rect x="1044.5" fill="#d0d0ff"/><rect x="1048.5" fill="#d3d3ff"/><rect x="1052.5" fill="#d5d5ff"/><rect x="1056.5" fill="#d7d7ff"/></g><g transform="translate(0 159.5)"><rect x="872.5" fill="#d6d6ff"/><rect x="876.5" fill="#d4d4ff"/><rect x="880.5" fill="#d2d2ff"/><rect x="884.5" fill="#ceceff"/><rect x="888.5" fill="#cacaff"/><rect x="892.5" fill="#c5c5ff"/><rect x="896.5" fill="#bebeff"/><rect x="900.5" fill="#b6b6ff"/><rect x="904.5" fill="#acacff"/><rect x="908.5" fill="#a0a0ff"/><rect x="912.5" fill="#9191ff"/><rect x="916.5" fill="#8181ff"/><rect x="920.5" fill="#6e6eff"/><rect x="924.5" fill="#5858ff"/><rect x="928.5" fill="#4040ff"/><rect x="932.5" fill="#2525ff"/><rect x="936.5" fill="#0909ff"/><rect x="940.5" fill="#1500ea"/><rect x="944.5" fill="#3200cd"/><rect x="948.5" fill="#4e00b1"/><rect x="952.5" fill="#65009a"/><rect x="956.5" fill="#770088"/><rect x="960.5" fill="#82007d"/><rect x="964.5" fill="#84007b"/><rect x="968.5" fill="#7d0082"/><rect x="972.5" fill="#6e0091"/><rect x="976.5" fill="#5900a6"/><rect x="980.5" fill="#3f00c0"/><rect x="984.5" fill="#2300dc"/><rect x="988.5" fill="#0600f9"/><rect x="992.5" fill="#1717ff"/><rect x="996.5" fill="#3333ff"/><rect x="1000.5" fill="#4c4cff"/><rect x="1004.5" fill="#6363ff"/><rect x="1008.5" fill="#7777ff"/><rect x="1012.5" fill="#8989ff"/><rect x="1016.5" fill="#9898ff"/><rect x="1020.5" fill="#a6a6ff"/><rect x="1024.5" fill="#b1b1ff"/><rect x="1028.5" fill="#babaff"/><rect x="1032.5" fill="#c2c2ff"/><rect x="1036.5" fill="#c8c8ff"/><rect x="1040.5" fill="#ccccff"/><rect x="1044.5" fill="#d0d0ff"/><rect x="1048.5" fill="#d3d3ff"/><rect x="1052.5" fill="#d5d5ff"/><rect x="1056.5" fill="#d7d7ff"/></g><g transform="translate(0 163.5)"><rect x="872.5" fill="#d6d6ff"/><rect x="876.5" fill="#d4d4ff"/><rect x="880.5" fill="#d2d2ff"/><rect x="884.5" fill="#ceceff"/><rect x="888.5" fill="#cacaff"/><rect x="892.5" fill="#c5c5ff"/><rect x="896.5" fill="#bfbfff"/><rect x="900.5" fill="#b7b7ff"/><rect x="904.5" fill="#aeaeff"/><rect x="908.5" fill="#a2a2ff"/><rect x="912.5" fill="#9595ff"/><rect x="916.5" fill="#8585ff"/><rect x="920.5" fill="#7474ff"/><rect x="924.5" fill="#5f5fff"/><rect x="928.5" fill="#4949ff"/><rect x="932.5" fill="#3030ff"/><rect x="936.5" fill="#1515ff"/><rect x="940.5" fill="#0600f9"/><rect x="944.5" fill="#2200dd"/><rect x="948.5" fill="#3c00c3"/><rect x="952.5" fill="#5300ac"/><rect x="956.5" fill="#64009b"/><rect x="960.5" fill="#6e0091"/><rect x="964.5" fill="#70008f"/><rect x="968.5" fill="#690096"/><rect x="972.5" fill="#5b00a4"/><rect x="976.5" fill="#4700b8"/><rect x="980.5" fill="#2e00d1"/><rect x="984.5" fill="#1300ec"/><rect x="988.5" fill="#0808ff"/><rect x="992.5" fill="#2323ff"/><rect x="996.5" fill="#3d3dff"/><rect x="1000.5" fill="#5454ff"/><rect x="1004.5" fill="#6a6aff"/><rect x="1008.5" fill="#7d7dff"/><rect x="1012.5" fill="#8d8dff"/><rect x="1016.5" fill="#9c9cff"/><rect x="1020.5" fill="#a8a8ff"/><rect x="1024.5" fill="#b3b3ff"/><rect x="1028.5" fill="#bbbbff"/><rect x="1032.5" fill="#c2c2ff"/><rect x="1036.5" fill="#c8c8ff"/><rect x="1040.5" fill="#cdcdff"/><rect x="1044.5" fill="#d0d0ff"/><rect x="1048.5" fill="#d3d3ff"/><rect x="1052.5" fill="#d5d5ff"/><rect x="1056.5" fill="#d7d7ff"/></g><g transform="translate(0 167.5)"><rect x="872.5" fill="#d6d6ff"/><rect x="876.5" fill="#d4d4ff"/><rect x="880.5" fill="#d2d2ff"/><rect x="884.5" fill="#cfcfff"/><rect x="888.5" fill="#cbcbff"/><rect x="892.5" fill="#c6c6ff"/><rect x="896.5" fill="#c0c0ff"/><rect x="900.5" fill="#b8b8ff"/><rect x="904.5" fill="#afafff"/><rect x="908.5" fill="#a5a5ff"/><rect x="912.5" fill="#9898ff"/><rect x="916.5" fill="#8a8aff"/><rect x="920.5" fill="#7979ff"/><rect x="924.5" fill="#6767ff"/><rect x="928.5" fill="#5252ff"/><rect x="932.5" fill="#3a3aff"/><rect x="936.5" fill="#2121ff"/><rect x="940.5" fill="#0707ff"/><rect x="944.5" fill="#1300ec"/><rect x="948.5" fill="#2c00d3"/><rect x="952.5" fill="#4100be"/><rect x="956.5" fill="#5100ae"/><rect x="960.5" fill="#5b00a4"/><rect x="964.5" fill="#5d00a2"/><rect x="968.5" fill="#5600a9"/><rect x="972.5" fill="#4900b6"/><rect x="976.5" fill="#3600c9"/><rect x="980.5" fill="#1e00e1"/><rect x="984.5" fill="#0500fa"/><rect x="988.5" fill="#1515ff"/><rect x="992.5" fill="#2f2fff"/><rect x="996.5" fill="#4747ff"/><rect x="1000.5" fill="#5d5dff"/><rect x="1004.5" fill="#7070ff"/><rect x="1008.5" fill="#8282ff"/><rect x="1012.5" fill="#9292ff"/><rect x="1016.5" fill="#9f9fff"/><rect x="1020.5" fill="#ababff"/><rect x="1024.5" fill="#b4b4ff"/><rect x="1028.5" fill="#bcbcff"/><rect x="1032.5" fill="#c3c3ff"/><rect x="1036.5" fill="#c9c9ff"/><rect x="1040.5" fill="#cdcdff"/><rect x="1044.5" fill="#d0d0ff"/><rect x="1048.5" fill="#d3d3ff"/><rect x="1052.5" fill="#d5d5ff"/><rect x="1056.5" fill="#d6d6ff"/></g><g transform="translate(0 171.5)"><rect x="872.5" fill="#d6d6ff"/><rect x="876.5" fill="#d4d4ff"/><rect x="880.5" fill="#d2d2ff"/><rect x="884.5" fill="#cfcfff"/><rect x="888.5" fill="#cbcbff"/><rect x="892.5" fill="#c6c6ff"/><rect x="896.5" fill="#c1c1ff"/><rect x="900.5" fill="#babaff"/><rect x="904.5" fill="#b1b1ff"/><rect x="908.5" fill="#a7a7ff"/><rect x="912.5" fill="#9c9cff"/><rect x="916.5" fill="#8e8eff"/><rect x="920.5" fill="#7f7fff"/><rect x="924.5" fill="#6d6dff"/><rect x="928.5" fill="#5959ff"/><rect x="932.5" fill="#4444ff"/><rect x="936.5" fill="#2c2cff"/><rect x="940.5" fill="#1414ff"/><rect x="944.5" fill="#0500fa"/><rect x="948.5" fill="#1d00e2"/><rect x="952.5" fill="#3100ce"/><rect x="956.5" fill="#4000bf"/><rect x="960.5" fill="#4900b6"/><rect x="964.5" fill="#4b00b4"/><rect x="968.5" fill="#4500ba"/><rect x="972.5" fill="#3800c7"/><rect x="976.5" fill="#2600d9"/><rect x="980.5" fill="#1000ef"/><rect x="984.5" fill="#0808ff"/><rect x="988.5" fill="#2121ff"/><rect x="992.5" fill="#3939ff"/><rect x="996.5" fill="#5050ff"/><rect x="1000.5" fill="#6464ff"/><rect x="1004.5" fill="#7777ff"/><rect x="1008.5" fill="#8787ff"/><rect x="1012.5" fill="#9595ff"/><rect x="1016.5" fill="#a2a2ff"/><rect x="1020.5" fill="#adadff"/><rect x="1024.5" fill="#b6b6ff"/><rect x="1028.5" fill="#bdbdff"/><rect x="1032.5" fill="#c4c4ff"/><rect x="1036.5" fill="#c9c9ff"/><rect x="1040.5" fill="#cdcdff"/><rect x="1044.5" fill="#d0d0ff"/><rect x="1048.5" fill="#d3d3ff"/><rect x="1052.5" fill="#d5d5ff"/><rect x="1056.5" fill="#d6d6ff"/></g><g transform="translate(0 175.5)"><rect x="872.5" fill="#d5d5ff"/><rect x="876.5" fill="#d4d4ff"/><rect x="880.5" fill="#d1d1ff"/><rect x="884.5" fill="#cfcfff"/><rect x="888.5" fill="#cbcbff"/><rect x="892.5" fill="#c7c7ff"/><rect x="896.5" fill="#c1c1ff"/><rect x="900.5" fill="#bbbbff"/><rect x="904.5" fill="#b3b3ff"/><rect x="908.5" fill="#a9a9ff"/><rect x="912.5" fill="#9e9eff"/><rect x="916.5" fill="#9292ff"/><rect x="920.5" fill="#8383ff"/><rect x="924.5" fill="#7373ff"/><rect x="928.5" fill="#6161ff"/><rect x="932.5" fill="#4c4cff"/><rect x="936.5" fill="#3636ff"/><rect x="940.5" fill="#1f1fff"/><rect x="944.5" fill="#0707ff"/><rect x="948.5" fill="#0f00f0"/><rect x="952.5" fill="#2200dd"/><rect x="956.5" fill="#3100ce"/><rect x="960.5" fill="#3900c6"/><rect x="964.5" fill="#3b00c4"/><rect x="968.5" fill="#3500ca"/><rect x="972.5" fill="#2900d6"/><rect x="976.5" fill="#1700e8"/><rect x="980.5" fill="#0200fd"/><rect x="984.5" fill="#1515ff"/><rect x="988.5" fill="#2c2cff"/><rect x="992.5" fill="#4242ff"/><rect x="996.5" fill="#5858ff"/><rect x="1000.5" fill="#6b6bff"/><rect x="1004.5" fill="#7c7cff"/><rect x="1008.5" fill="#8b8bff"/><rect x="1012.5" fill="#9999ff"/><rect x="1016.5" fill="#a4a4ff"/><rect x="1020.5" fill="#afafff"/><rect x="1024.5" fill="#b7b7ff"/><rect x="1028.5" fill="#bebeff"/><rect x="1032.5" fill="#c4c4ff"/><rect x="1036.5" fill="#c9c9ff"/><rect x="1040.5" fill="#cdcdff"/><rect x="1044.5" fill="#d0d0ff"/><rect x="1048.5" fill="#d3d3ff"/><rect x="1052.5" fill="#d5d5ff"/><rect x="1056.5" fill="#d6d6ff"/></g><g transform="translate(0 179.5)"><rect x="872.5" fill="#d5d5ff"/><rect x="876.5" fill="#d4d4ff"/><rect x="880.5" fill="#d1d1ff"/><rect x="884.5" fill="#cfcfff"/><rect x="888.5" fill="#cbcbff"/><rect x="892.5" fill="#c7c7ff"/><rect x="896.5" fill="#c2c2ff"/><rect x="900.5" fill="#bbbbff"/><rect x="904.5" fill="#b4b4ff"/><rect x="908.5" fill="#ababff"/><rect x="912.5" fill="#a1a1ff"/><rect x="916.5" fill="#9595ff"/><rect x="920.5" fill="#8787ff"/><rect x="924.5" fill="#7878ff"/><rect x="928.5" fill="#6767ff"/><rect x="932.5" fill="#5353ff"/><rect x="936.5" fill="#3f3fff"/><rect x="940.5" fill="#2929ff"/><rect x="944.5" fill="#1212ff"/><rect x="948.5" fill="#0300fc"/><rect x="952.5" fill="#1500ea"/><rect x="956.5" fill="#2300dc"/><rect x="960.5" fill="#2b00d4"/><rect x="964.5" fill="#2c00d3"/><rect x="968.5" fill="#2700d8"/><rect x="972.5" fill="#1b00e4"/><rect x="976.5" fill="#0b00f4"/><rect x="980.5" fill="#0909ff"/><rect x="984.5" fill="#1f1fff"/><rect x="988.5" fill="#3535ff"/><rect x="992.5" fill="#4b4bff"/><rect x="996.5" fill="#5e5eff"/><rect x="1000.5" fill="#7070ff"/><rect x="1004.5" fill="#8181ff"/><rect x="1008.5" fill="#8f8fff"/><rect x="1012.5" fill="#9c9cff"/><rect x="1016.5" fill="#a7a7ff"/><rect x="1020.5" fill="#b0b0ff"/><rect x="1024.5" fill="#b8b8ff"/><rect x="1028.5" fill="#bfbfff"/><rect x="1032.5" fill="#c5c5ff"/><rect x="1036.5" fill="#c9c9ff"/><rect x="1040.5" fill="#cdcdff"/><rect x="1044.5" fill="#d0d0ff"/><rect x="1048.5" fill="#d3d3ff"/><rect x="1052.5" fill="#d5d5ff"/><rect x="1056.5" fill="#d6d6ff"/></g><g transform="translate(0 183.5)"><rect x="872.5" fill="#d5d5ff"/><rect x="876.5" fill="#d3d3ff"/><rect x="880.5" fill="#d1d1ff"/><rect x="884.5" fill="#ceceff"/><rect x="888.5" fill="#cbcbff"/><rect x="892.5" fill="#c7c7ff"/><rect x="896.5" fill="#c2c2ff"/><rect x="900.5" fill="#bcbcff"/><rect x="904.5" fill="#b5b5ff"/><rect x="908.5" fill="#acacff"/><rect x="912.5" fill="#a3a3ff"/><rect x="916.5" fill="#9797ff"/><rect x="920.5" fill="#8b8bff"/><rect x="924.5" fill="#7c7cff"/><rect x="928.5" fill="#6c6cff"/><rect x="932.5" fill="#5a5aff"/><rect x="936.5" fill="#4646ff"/><rect x="940.5" fill="#3131ff"/><rect x="944.5" fill="#1c1cff"/><rect x="948.5" fill="#0808ff"/><rect x="952.5" fill="#0a00f5"/><rect x="956.5" fill="#1700e8"/><rect x="960.5" fill="#1f00e0"/><rect x="964.5" fill="#2000df"/><rect x="968.5" fill="#1b00e4"/><rect x="972.5" fill="#0f00f0"/><rect x="976.5" fill="#0000ff"/><rect x="980.5" fill="#1414ff"/><rect x="984.5" fill="#2828ff"/><rect x="988.5" fill="#3d3dff"/><rect x="992.5" fill="#5151ff"/><rect x="996.5" fill="#6464ff"/><rect x="1000.5" fill="#7575ff"/><rect x="1004.5" fill="#8484ff"/><rect x="1008.5" fill="#9292ff"/><rect x="1012.5" fill="#9e9eff"/><rect x="1016.5" fill="#a8a8ff"/><rect x="1020.5" fill="#b1b1ff"/><rect x="1024.5" fill="#b9b9ff"/><rect x="1028.5" fill="#bfbfff"/><rect x="1032.5" fill="#c5c5ff"/><rect x="1036.5" fill="#cacaff"/><rect x="1040.5" fill="#cdcdff"/><rect x="1044.5" fill="#d0d0ff"/><rect x="1048.5" fill="#d2d2ff"/><rect x="1052.5" fill="#d4d4ff"/><rect x="1056.5" fill="#d6d6ff"/></g><g transform="translate(0 187.5)"><rect x="872.5" fill="#d5d5ff"/><rect x="876.5" fill="#d3d3ff"/><rect x="880.5" fill="#d1d1ff"/><rect x="884.5" fill="#ceceff"/><rect x="888.5" fill="#cbcbff"/><rect x="892.5" fill="#c7c7ff"/><rect x="896.5" fill="#c2c2ff"/><rect x="900.5" fill="#bcbcff"/><rect x="904.5" fill="#b5b5ff"/><rect x="908.5" fill="#adadff"/><rect x="912.5" fill="#a4a4ff"/><rect x="916.5" fill="#9999ff"/><rect x="920.5" fill="#8d8dff"/><rect x="924.5" fill="#7f7fff"/><rect x="928.5" fill="#7070ff"/><rect x="932.5" fill="#5f5fff"/><rect x="936.5" fill="#4c4cff"/><rect x="940.5" fill="#3838ff"/><rect x="944.5" fill="#2424ff"/><rect x="948.5" fill="#1111ff"/><rect x="952.5" fill="#0000ff"/><rect x="956.5" fill="#0d00f2"/><rect x="960.5" fill="#1400eb"/><rect x="964.5" fill="#1500ea"/><rect x="968.5" fill="#1000ef"/><rect x="972.5" fill="#0500fa"/><rect x="976.5" fill="#0a0aff"/><rect x="980.5" fill="#1c1cff"/><rect x="984.5" fill="#3030ff"/><rect x="988.5" fill="#4444ff"/><rect x="992.5" fill="#5757ff"/><rect x="996.5" fill="#6969ff"/><rect x="1000.5" fill="#7979ff"/><rect x="1004.5" fill="#8787ff"/><rect x="1008.5" fill="#9494ff"/><rect x="1012.5" fill="#9f9fff"/><rect x="1016.5" fill="#a9a9ff"/><rect x="1020.5" fill="#b2b2ff"/><rect x="1024.5" fill="#b9b9ff"/><rect x="1028.5" fill="#c0c0ff"/><rect x="1032.5" fill="#c5c5ff"/><rect x="1036.5" fill="#c9c9ff"/><rect x="1040.5" fill="#cdcdff"/><rect x="1044.5" fill="#d0d0ff"/><rect x="1048.5" fill="#d2d2ff"/><rect x="1052.5" fill="#d4d4ff"/><rect x="1056.5" fill="#d5d5ff"/></g><g transform="translate(0 191.5)"><rect x="872.5" fill="#d4d4ff"/><rect x="876.5" fill="#d2d2ff"/><rect x="880.5" fill="#d0d0ff"/><rect x="884.5" fill="#ceceff"/><rect x="888.5" fill="#cacaff"/><rect x="892.5" fill="#c7c7ff"/><rect x="896.5" fill="#c2c2ff"/><rect x="900.5" fill="#bcbcff"/><rect x="904.5" fill="#b5b5ff"/><rect x="908.5" fill="#aeaeff"/><rect x="912.5" fill="#a5a5ff"/><rect x="916.5" fill="#9a9aff"/><rect x="920.5" fill="#8f8fff"/><rect x="924.5" fill="#8282ff"/><rect x="928.5" fill="#7373ff"/><rect x="932.5" fill="#6363ff"/><rect x="936.5" fill="#5151ff"/><rect x="940.5" fill="#3e3eff"/><rect x="944.5" fill="#2b2bff"/><rect x="948.5" fill="#1818ff"/><rect x="952.5" fill="#0808ff"/><rect x="956.5" fill="#0400fb"/><rect x="960.5" fill="#0b00f4"/><rect x="964.5" fill="#0c00f3"/><rect x="968.5" fill="#0700f8"/><rect x="972.5" fill="#0303ff"/><rect x="976.5" fill="#1212ff"/><rect x="980.5" fill="#2323ff"/><rect x="984.5" fill="#3636ff"/><rect x="988.5" fill="#4949ff"/><rect x="992.5" fill="#5c5cff"/><rect x="996.5" fill="#6d6dff"/><rect x="1000.5" fill="#7c7cff"/><rect x="1004.5" fill="#8a8aff"/><rect x="1008.5" fill="#9696ff"/><rect x="1012.5" fill="#a1a1ff"/><rect x="1016.5" fill="#aaaaff"/><rect x="1020.5" fill="#b2b2ff"/><rect x="1024.5" fill="#b9b9ff"/><rect x="1028.5" fill="#c0c0ff"/><rect x="1032.5" fill="#c5c5ff"/><rect x="1036.5" fill="#c9c9ff"/><rect x="1040.5" fill="#cdcdff"/><rect x="1044.5" fill="#cfcfff"/><rect x="1048.5" fill="#d2d2ff"/><rect x="1052.5" fill="#d3d3ff"/><rect x="1056.5" fill="#d5d5ff"/></g><g transform="translate(0 195.5)"><rect x="872.5" fill="#d3d3ff"/><rect x="876.5" fill="#d2d2ff"/><rect x="880.5" fill="#d0d0ff"/><rect x="884.5" fill="#cdcdff"/><rect x="888.5" fill="#cacaff"/><rect x="892.5" fill="#c6c6ff"/><rect x="896.5" fill="#c1c1ff"/><rect x="900.5" fill="#bcbcff"/><rect x="904.5" fill="#b5b5ff"/><rect x="908.5" fill="#aeaeff"/><rect x="912.5" fill="#a5a5ff"/><rect x="916.5" fill="#9b9bff"/><rect x="920.5" fill="#9090ff"/><rect x="924.5" fill="#8383ff"/><rect x="928.5" fill="#7575ff"/><rect x="932.5" fill="#6666ff"/><rect x="936.5" fill="#5454ff"/><rect x="940.5" fill="#4242ff"/><rect x="944.5" fill="#3030ff"/><rect x="948.5" fill="#1e1eff"/><rect x="952.5" fill="#0f0fff"/><rect x="956.5" fill="#0303ff"/><rect x="960.5" fill="#0400fb"/><rect x="964.5" fill="#0500fa"/><rect x="968.5" fill="#0000ff"/><rect x="972.5" fill="#0a0aff"/><rect x="976.5" fill="#1818ff"/><rect x="980.5" fill="#2929ff"/><rect x="984.5" fill="#3b3bff"/><rect x="988.5" fill="#4d4dff"/><rect x="992.5" fill="#5f5fff"/><rect x="996.5" fill="#6f6fff"/><rect x="1000.5" fill="#7e7eff"/><rect x="1004.5" fill="#8b8bff"/><rect x="1008.5" fill="#9797ff"/><rect x="1012.5" fill="#a1a1ff"/><rect x="1016.5" fill="#aaaaff"/><rect x="1020.5" fill="#b2b2ff"/><rect x="1024.5" fill="#b9b9ff"/><rect x="1028.5" fill="#bfbfff"/><rect x="1032.5" fill="#c4c4ff"/><rect x="1036.5" fill="#c8c8ff"/><rect x="1040.5" fill="#ccccff"/><rect x="1044.5" fill="#cfcfff"/><rect x="1048.5" fill="#d1d1ff"/><rect x="1052.5" fill="#d3d3ff"/><rect x="1056.5" fill="#d4d4ff"/></g><g transform="translate(0 199.5)"><rect x="872.5" fill="#d2d2ff"/><rect x="876.5" fill="#d1d1ff"/><rect x="880.5" fill="#cfcfff"/><rect x="884.5" fill="#ccccff"/><rect x="888.5" fill="#c9c9ff"/><rect x="892.5" fill="#c5c5ff"/><rect x="896.5" fill="#c1c1ff"/><rect x="900.5" fill="#bbbbff"/><rect x="904.5" fill="#b5b5ff"/><rect x="908.5" fill="#adadff"/><rect x="912.5" fill="#a5a5ff"/><rect x="916.5" fill="#9b9bff"/><rect x="920.5" fill="#9191ff"/><rect x="924.5" fill="#8484ff"/><rect x="928.5" fill="#7777ff"/><rect x="932.5" fill="#6868ff"/><rect x="936.5" fill="#5757ff"/><rect x="940.5" fill="#4646ff"/><rect x="944.5" fill="#3434ff"/><rect x="948.5" fill="#2323ff"/><rect x="952.5" fill="#1414ff"/><rect x="956.5" fill="#0909ff"/><rect x="960.5" fill="#0202ff"/><rect x="964.5" fill="#0101ff"/><rect x="968.5" fill="#0606ff"/><rect x="972.5" fill="#0f0fff"/><rect x="976.5" fill="#1d1dff"/><rect x="980.5" fill="#2d2dff"/><rect x="984.5" fill="#3f3fff"/><rect x="988.5" fill="#5151ff"/><rect x="992.5" fill="#6161ff"/><rect x="996.5" fill="#7171ff"/><rect x="1000.5" fill="#7f7fff"/><rect x="1004.5" fill="#8c8cff"/><rect x="1008.5" fill="#9797ff"/><rect x="1012.5" fill="#a1a1ff"/><rect x="1016.5" fill="#aaaaff"/><rect x="1020.5" fill="#b2b2ff"/><rect x="1024.5" fill="#b9b9ff"/><rect x="1028.5" fill="#bfbfff"/><rect x="1032.5" fill="#c4c4ff"/><rect x="1036.5" fill="#c8c8ff"/><rect x="1040.5" fill="#cbcbff"/><rect x="1044.5" fill="#ceceff"/><rect x="1048.5" fill="#d0d0ff"/><rect x="1052.5" fill="#d2d2ff"/><rect x="1056.5" fill="#d3d3ff"/></g><g transform="translate(0 203.5)"><rect x="872.5" fill="#d1d1ff"/><rect x="876.5" fill="#d0d0ff"/><rect x="880.5" fill="#ceceff"/><rect x="884.5" fill="#cbcbff"/><rect x="888.5" fill="#c8c8ff"/><rect x="892.5" fill="#c4c4ff"/><rect x="896.5" fill="#c0c0ff"/><rect x="900.5" fill="#babaff"/><rect x="904.5" fill="#b4b4ff"/><rect x="908.5" fill="#adadff"/><rect x="912.5" fill="#a4a4ff"/><rect x="916.5" fill="#9b9bff"/><rect x="920.5" fill="#9191ff"/><rect x="924.5" fill="#8585ff"/><rect x="928.5" fill="#7777ff"/><rect x="932.5" fill="#6969ff"/><rect x="936.5" fill="#5959ff"/><rect x="940.5" fill="#4848ff"/><rect x="944.5" fill="#3737ff"/><rect x="948.5" fill="#2626ff"/><rect x="952.5" fill="#1818ff"/><rect x="956.5" fill="#0d0dff"/><rect x="960.5" fill="#0707ff"/><rect x="964.5" fill="#0606ff"/><rect x="968.5" fill="#0a0aff"/><rect x="972.5" fill="#1414ff"/><rect x="976.5" fill="#2121ff"/><rect x="980.5" fill="#3131ff"/><rect x="984.5" fill="#4242ff"/><rect x="988.5" fill="#5353ff"/><rect x="992.5" fill="#6363ff"/><rect x="996.5" fill="#7272ff"/><rect x="1000.5" fill="#8080ff"/><rect x="1004.5" fill="#8c8cff"/><rect x="1008.5" fill="#9797ff"/><rect x="1012.5" fill="#a1a1ff"/><rect x="1016.5" fill="#aaaaff"/><rect x="1020.5" fill="#b1b1ff"/><rect x="1024.5" fill="#b8b8ff"/><rect x="1028.5" fill="#bebeff"/><rect x="1032.5" fill="#c3c3ff"/><rect x="1036.5" fill="#c7c7ff"/><rect x="1040.5" fill="#cacaff"/><rect x="1044.5" fill="#cdcdff"/><rect x="1048.5" fill="#cfcfff"/><rect x="1052.5" fill="#d1d1ff"/><rect x="1056.5" fill="#d2d2ff"/></g><g transform="translate(0 207.5)"><rect x="872.5" fill="#d0d0ff"/><rect x="876.5" fill="#cfcfff"/><rect x="880.5" fill="#cdcdff"/><rect x="884.5" fill="#cacaff"/><rect x="888.5" fill="#c7c7ff"/><rect x="892.5" fill="#c3c3ff"/><rect x="896.5" fill="#bebeff"/><rect x="900.5" fill="#b9b9ff"/><rect x="904.5" fill="#b3b3ff"/><rect x="908.5" fill="#acacff"/><rect x="912.5" fill="#a4a4ff"/><rect x="916.5" fill="#9a9aff"/><rect x="920.5" fill="#9090ff"/><rect x="924.5" fill="#8484ff"/><rect x="928.5" fill="#7878ff"/><rect x="932.5" fill="#6969ff"/><rect x="936.5" fill="#5a5aff"/><rect x="940.5" fill="#4949ff"/><rect x="944.5" fill="#3939ff"/><rect x="948.5" fill="#2929ff"/><rect x="952.5" fill="#1b1bff"/><rect x="956.5" fill="#1111ff"/><rect x="960.5" fill="#0b0bff"/><rect x="964.5" fill="#0a0aff"/><rect x="968.5" fill="#0e0eff"/><rect x="972.5" fill="#1717ff"/><rect x="976.5" fill="#2424ff"/><rect x="980.5" fill="#3333ff"/><rect x="984.5" fill="#4343ff"/><rect x="988.5" fill="#5454ff"/><rect x="992.5" fill="#6464ff"/><rect x="996.5" fill="#7272ff"/><rect x="1000.5" fill="#8080ff"/><rect x="1004.5" fill="#8c8cff"/><rect x="1008.5" fill="#9797ff"/><rect x="1012.5" fill="#a0a0ff"/><rect x="1016.5" fill="#a9a9ff"/><rect x="1020.5" fill="#b0b0ff"/><rect x="1024.5" fill="#b7b7ff"/><rect x="1028.5" fill="#bdbdff"/><rect x="1032.5" fill="#c1c1ff"/><rect x="1036.5" fill="#c5c5ff"/><rect x="1040.5" fill="#c9c9ff"/><rect x="1044.5" fill="#ccccff"/><rect x="1048.5" fill="#ceceff"/><rect x="1052.5" fill="#d0d0ff"/><rect x="1056.5" fill="#d1d1ff"/></g><g transform="translate(0 211.5)"><rect x="872.5" fill="#cfcfff"/><rect x="876.5" fill="#cdcdff"/><rect x="880.5" fill="#cbcbff"/><rect x="884.5" fill="#c9c9ff"/><rect x="888.5" fill="#c5c5ff"/><rect x="892.5" fill="#c2c2ff"/><rect x="896.5" fill="#bdbdff"/><rect x="900.5" fill="#b8b8ff"/><rect x="904.5" fill="#b2b2ff"/><rect x="908.5" fill="#aaaaff"/><rect x="912.5" fill="#a2a2ff"/><rect x="916.5" fill="#9999ff"/><rect x="920.5" fill="#8f8fff"/><rect x="924.5" fill="#8484ff"/><rect x="928.5" fill="#7777ff"/><rect x="932.5" fill="#6969ff"/><rect x="936.5" fill="#5a5aff"/><rect x="940.5" fill="#4a4aff"/><rect x="944.5" fill="#3a3aff"/><rect x="948.5" fill="#2b2bff"/><rect x="952.5" fill="#1d1dff"/><rect x="956.5" fill="#1313ff"/><rect x="960.5" fill="#0d0dff"/><rect x="964.5" fill="#0c0cff"/><rect x="968.5" fill="#1111ff"/><rect x="972.5" fill="#1919ff"/><rect x="976.5" fill="#2626ff"/><rect x="980.5" fill="#3434ff"/><rect x="984.5" fill="#4444ff"/><rect x="988.5" fill="#5454ff"/><rect x="992.5" fill="#6464ff"/><rect x="996.5" fill="#7272ff"/><rect x="1000.5" fill="#7f7fff"/><rect x="1004.5" fill="#8b8bff"/><rect x="1008.5" fill="#9696ff"/><rect x="1012.5" fill="#9f9fff"/><rect x="1016.5" fill="#a8a8ff"/><rect x="1020.5" fill="#afafff"/><rect x="1024.5" fill="#b6b6ff"/><rect x="1028.5" fill="#bbbbff"/><rect x="1032.5" fill="#c0c0ff"/><rect x="1036.5" fill="#c4c4ff"/><rect x="1040.5" fill="#c7c7ff"/><rect x="1044.5" fill="#cacaff"/><rect x="1048.5" fill="#ccccff"/><rect x="1052.5" fill="#ceceff"/><rect x="1056.5" fill="#cfcfff"/></g><g transform="translate(0 215.5)"><rect x="872.5" fill="#cdcdff"/><rect x="876.5" fill="#ccccff"/><rect x="880.5" fill="#cacaff"/><rect x="884.5" fill="#c7c7ff"/><rect x="888.5" fill="#c4c4ff"/><rect x="892.5" fill="#c0c0ff"/><rect x="896.5" fill="#bbbbff"/><rect x="900.5" fill="#b6b6ff"/><rect x="904.5" fill="#b0b0ff"/><rect x="908.5" fill="#a9a9ff"/><rect x="912.5" fill="#a1a1ff"/><rect x="916.5" fill="#9898ff"/><rect x="920.5" fill="#8e8eff"/><rect x="924.5" fill="#8383ff"/><rect x="928.5" fill="#7676ff"/><rect x="932.5" fill="#6969ff"/><rect x="936.5" fill="#5a5aff"/><rect x="940.5" fill="#4b4bff"/><rect x="944.5" fill="#3b3bff"/><rect x="948.5" fill="#2c2cff"/><rect x="952.5" fill="#1f1fff"/><rect x="956.5" fill="#1515ff"/><rect x="960.5" fill="#1010ff"/><rect x="964.5" fill="#0f0fff"/><rect x="968.5" fill="#1313ff"/><rect x="972.5" fill="#1b1bff"/><rect x="976.5" fill="#2727ff"/><rect x="980.5" fill="#3535ff"/><rect x="984.5" fill="#4545ff"/><rect x="988.5" fill="#5454ff"/><rect x="992.5" fill="#6464ff"/><rect x="996.5" fill="#7272ff"/><rect x="1000.5" fill="#7e7eff"/><rect x="1004.5" fill="#8a8aff"/><rect x="1008.5" fill="#9494ff"/><rect x="1012.5" fill="#9e9eff"/><rect x="1016.5" fill="#a6a6ff"/><rect x="1020.5" fill="#adadff"/><rect x="1024.5" fill="#b4b4ff"/><rect x="1028.5" fill="#babaff"/><rect x="1032.5" fill="#bebeff"/><rect x="1036.5" fill="#c2c2ff"/><rect x="1040.5" fill="#c6c6ff"/><rect x="1044.5" fill="#c9c9ff"/><rect x="1048.5" fill="#cbcbff"/><rect x="1052.5" fill="#cdcdff"/><rect x="1056.5" fill="#ceceff"/></g><g transform="translate(0 219.5)"><rect x="872.5" fill="#ccccff"/><rect x="876.5" fill="#cacaff"/><rect x="880.5" fill="#c8c8ff"/><rect x="884.5" fill="#c5c5ff"/><rect x="888.5" fill="#c2c2ff"/><rect x="892.5" fill="#bebeff"/><rect x="896.5" fill="#babaff"/><rect x="900.5" fill="#b4b4ff"/><rect x="904.5" fill="#aeaeff"/><rect x="908.5" fill="#a7a7ff"/><rect x="912.5" fill="#9f9fff"/><rect x="916.5" fill="#9696ff"/><rect x="920.5" fill="#8c8cff"/><rect x="924.5" fill="#8181ff"/><rect x="928.5" fill="#7575ff"/><rect x="932.5" fill="#6868ff"/><rect x="936.5" fill="#5959ff"/><rect x="940.5" fill="#4a4aff"/><rect x="944.5" fill="#3b3bff"/><rect x="948.5" fill="#2d2dff"/><rect x="952.5" fill="#2020ff"/><rect x="956.5" fill="#1717ff"/><rect x="960.5" fill="#1111ff"/><rect x="964.5" fill="#1010ff"/><rect x="968.5" fill="#1414ff"/><rect x="972.5" fill="#1c1cff"/><rect x="976.5" fill="#2828ff"/><rect x="980.5" fill="#3636ff"/><rect x="984.5" fill="#4545ff"/><rect x="988.5" fill="#5454ff"/><rect x="992.5" fill="#6363ff"/><rect x="996.5" fill="#7171ff"/><rect x="1000.5" fill="#7d7dff"/><rect x="1004.5" fill="#8989ff"/><rect x="1008.5" fill="#9393ff"/><rect x="1012.5" fill="#9c9cff"/><rect x="1016.5" fill="#a4a4ff"/><rect x="1020.5" fill="#acacff"/><rect x="1024.5" fill="#b2b2ff"/><rect x="1028.5" fill="#b8b8ff"/><rect x="1032.5" fill="#bdbdff"/><rect x="1036.5" fill="#c1c1ff"/><rect x="1040.5" fill="#c4c4ff"/><rect x="1044.5" fill="#c7c7ff"/><rect x="1048.5" fill="#c9c9ff"/><rect x="1052.5" fill="#cbcbff"/><rect x="1056.5" fill="#ccccff"/></g><g transform="translate(0 223.5)"><rect x="872.5" fill="#cacaff"/><rect x="876.5" fill="#c8c8ff"/><rect x="880.5" fill="#c6c6ff"/><rect x="884.5" fill="#c3c3ff"/><rect x="888.5" fill="#c0c0ff"/><rect x="892.5" fill="#bcbcff"/><rect x="896.5" fill="#b8b8ff"/><rect x="900.5" fill="#b3b3ff"/><rect x="904.5" fill="#acacff"/><rect x="908.5" fill="#a5a5ff"/><rect x="912.5" fill="#9d9dff"/><rect x="916.5" fill="#9595ff"/><rect x="920.5" fill="#8b8bff"/><rect x="924.5" fill="#8080ff"/><rect x="928.5" fill="#7474ff"/><rect x="932.5" fill="#6767ff"/><rect x="936.5" fill="#5959ff"/><rect x="940.5" fill="#4a4aff"/><rect x="944.5" fill="#3b3bff"/><rect x="948.5" fill="#2d2dff"/><rect x="952.5" fill="#2121ff"/><rect x="956.5" fill="#1818ff"/><rect x="960.5" fill="#1313ff"/><rect x="964.5" fill="#1212ff"/><rect x="968.5" fill="#1616ff"/><rect x="972.5" fill="#1d1dff"/><rect x="976.5" fill="#2929ff"/><rect x="980.5" fill="#3636ff"/><rect x="984.5" fill="#4545ff"/><rect x="988.5" fill="#5353ff"/><rect x="992.5" fill="#6262ff"/><rect x="996.5" fill="#6f6fff"/><rect x="1000.5" fill="#7c7cff"/><rect x="1004.5" fill="#8787ff"/><rect x="1008.5" fill="#9191ff"/><rect x="1012.5" fill="#9a9aff"/><rect x="1016.5" fill="#a3a3ff"/><rect x="1020.5" fill="#aaaaff"/><rect x="1024.5" fill="#b0b0ff"/><rect x="1028.5" fill="#b6b6ff"/><rect x="1032.5" fill="#bbbbff"/><rect x="1036.5" fill="#bfbfff"/><rect x="1040.5" fill="#c2c2ff"/><rect x="1044.5" fill="#c5c5ff"/><rect x="1048.5" fill="#c7c7ff"/><rect x="1052.5" fill="#c9c9ff"/><rect x="1056.5" fill="#cacaff"/></g><g transform="translate(0 227.5)"><rect x="872.5" fill="#c8c8ff"/><rect x="876.5" fill="#c6c6ff"/><rect x="880.5" fill="#c4c4ff"/><rect x="884.5" fill="#c1c1ff"/><rect x="888.5" fill="#bebeff"/><rect x="892.5" fill="#babaff"/><rect x="896.5" fill="#b6b6ff"/><rect x="900.5" fill="#b1b1ff"/><rect x="904.5" fill="#aaaaff"/><rect x="908.5" fill="#a3a3ff"/><rect x="912.5" fill="#9b9bff"/><rect x="916.5" fill="#9393ff"/><rect x="920.5" fill="#8989ff"/><rect x="924.5" fill="#7e7eff"/><rect x="928.5" fill="#7272ff"/><rect x="932.5" fill="#6565ff"/><rect x="936.5" fill="#5858ff"/><rect x="940.5" fill="#4949ff"/><rect x="944.5" fill="#3b3bff"/><rect x="948.5" fill="#2d2dff"/><rect x="952.5" fill="#2222ff"/><rect x="956.5" fill="#1919ff"/><rect x="960.5" fill="#1414ff"/><rect x="964.5" fill="#1313ff"/><rect x="968.5" fill="#1717ff"/><rect x="972.5" fill="#1e1eff"/><rect x="976.5" fill="#2929ff"/><rect x="980.5" fill="#3636ff"/><rect x="984.5" fill="#4444ff"/><rect x="988.5" fill="#5353ff"/><rect x="992.5" fill="#6161ff"/><rect x="996.5" fill="#6e6eff"/><rect x="1000.5" fill="#7a7aff"/><rect x="1004.5" fill="#8585ff"/><rect x="1008.5" fill="#8f8fff"/><rect x="1012.5" fill="#9898ff"/><rect x="1016.5" fill="#a1a1ff"/><rect x="1020.5" fill="#a8a8ff"/><rect x="1024.5" fill="#aeaeff"/><rect x="1028.5" fill="#b4b4ff"/><rect x="1032.5" fill="#b9b9ff"/><rect x="1036.5" fill="#bdbdff"/><rect x="1040.5" fill="#c0c0ff"/><rect x="1044.5" fill="#c3c3ff"/><rect x="1048.5" fill="#c5c5ff"/><rect x="1052.5" fill="#c7c7ff"/><rect x="1056.5" fill="#c8c8ff"/></g><g transform="translate(0 231.5)"><rect x="872.5" fill="#c6c6ff"/><rect x="876.5" fill="#c4c4ff"/><rect x="880.5" fill="#c2c2ff"/><rect x="884.5" fill="#bfbfff"/><rect x="888.5" fill="#bcbcff"/><rect x="892.5" fill="#b8b8ff"/><rect x="896.5" fill="#b4b4ff"/><rect x="900.5" fill="#afafff"/><rect x="904.5" fill="#a8a8ff"/><rect x="908.5" fill="#a1a1ff"/><rect x="912.5" fill="#9a9aff"/><rect x="916.5" fill="#9191ff"/><rect x="920.5" fill="#8787ff"/><rect x="924.5" fill="#7c7cff"/><rect x="928.5" fill="#7171ff"/><rect x="932.5" fill="#6464ff"/><rect x="936.5" fill="#5757ff"/><rect x="940.5" fill="#4949ff"/><rect x="944.5" fill="#3b3bff"/><rect x="948.5" fill="#2e2eff"/><rect x="952.5" fill="#2222ff"/><rect x="956.5" fill="#1a1aff"/><rect x="960.5" fill="#1515ff"/><rect x="964.5" fill="#1414ff"/><rect x="968.5" fill="#1818ff"/><rect x="972.5" fill="#1f1fff"/><rect x="976.5" fill="#2929ff"/><rect x="980.5" fill="#3636ff"/><rect x="984.5" fill="#4444ff"/><rect x="988.5" fill="#5252ff"/><rect x="992.5" fill="#5f5fff"/><rect x="996.5" fill="#6c6cff"/><rect x="1000.5" fill="#7878ff"/><rect x="1004.5" fill="#8383ff"/><rect x="1008.5" fill="#8d8dff"/><rect x="1012.5" fill="#9797ff"/><rect x="1016.5" fill="#9f9fff"/><rect x="1020.5" fill="#a6a6ff"/><rect x="1024.5" fill="#acacff"/><rect x="1028.5" fill="#b2b2ff"/><rect x="1032.5" fill="#b7b7ff"/><rect x="1036.5" fill="#bbbbff"/><rect x="1040.5" fill="#bebeff"/><rect x="1044.5" fill="#c1c1ff"/><rect x="1048.5" fill="#c3c3ff"/><rect x="1052.5" fill="#c5c5ff"/><rect x="1056.5" fill="#c6c6ff"/></g><g transform="translate(0 235.5)"><rect x="872.5" fill="#c4c4ff"/><rect x="876.5" fill="#c2c2ff"/><rect x="880.5" fill="#c0c0ff"/><rect x="884.5" fill="#bdbdff"/><rect x="888.5" fill="#babaff"/><rect x="892.5" fill="#b6b6ff"/><rect x="896.5" fill="#b2b2ff"/><rect x="900.5" fill="#acacff"/><rect x="904.5" fill="#a6a6ff"/><rect x="908.5" fill="#9f9fff"/><rect x="912.5" fill="#9898ff"/><rect x="916.5" fill="#8f8fff"/><rect x="920.5" fill="#8585ff"/><rect x="924.5" fill="#7b7bff"/><rect x="928.5" fill="#6f6fff"/><rect x="932.5" fill="#6363ff"/><rect x="936.5" fill="#5656ff"/><rect x="940.5" fill="#4848ff"/><rect x="944.5" fill="#3a3aff"/><rect x="948.5" fill="#2e2eff"/><rect x="952.5" fill="#2323ff"/><rect x="956.5" fill="#1b1bff"/><rect x="960.5" fill="#1616ff"/><rect x="964.5" fill="#1515ff"/><rect x="968.5" fill="#1818ff"/><rect x="972.5" fill="#2020ff"/><rect x="976.5" fill="#2a2aff"/><rect x="980.5" fill="#3636ff"/><rect x="984.5" fill="#4343ff"/><rect x="988.5" fill="#5151ff"/><rect x="992.5" fill="#5e5eff"/><rect x="996.5" fill="#6b6bff"/><rect x="1000.5" fill="#7777ff"/><rect x="1004.5" fill="#8282ff"/><rect x="1008.5" fill="#8c8cff"/><rect x="1012.5" fill="#9595ff"/><rect x="1016.5" fill="#9d9dff"/><rect x="1020.5" fill="#a4a4ff"/><rect x="1024.5" fill="#aaaaff"/><rect x="1028.5" fill="#b0b0ff"/><rect x="1032.5" fill="#b5b5ff"/><rect x="1036.5" fill="#b9b9ff"/><rect x="1040.5" fill="#bcbcff"/><rect x="1044.5" fill="#bfbfff"/><rect x="1048.5" fill="#c1c1ff"/><rect x="1052.5" fill="#c3c3ff"/><rect x="1056.5" fill="#c4c4ff"/></g><g transform="translate(0 239.5)"><rect x="872.5" fill="#c2c2ff"/><rect x="876.5" fill="#c0c0ff"/><rect x="880.5" fill="#bebeff"/><rect x="884.5" fill="#bbbbff"/><rect x="888.5" fill="#b8b8ff"/><rect x="892.5" fill="#b4b4ff"/><rect x="896.5" fill="#b0b0ff"/><rect x="900.5" fill="#aaaaff"/><rect x="904.5" fill="#a4a4ff"/><rect x="908.5" fill="#9d9dff"/><rect x="912.5" fill="#9696ff"/><rect x="916.5" fill="#8d8dff"/><rect x="920.5" fill="#8383ff"/><rect x="924.5" fill="#7979ff"/><rect x="928.5" fill="#6e6eff"/><rect x="932.5" fill="#6262ff"/><rect x="936.5" fill="#5555ff"/><rect x="940.5" fill="#4747ff"/><rect x="944.5" fill="#3a3aff"/><rect x="948.5" fill="#2e2eff"/><rect x="952.5" fill="#2323ff"/><rect x="956.5" fill="#1b1bff"/><rect x="960.5" fill="#1717ff"/><rect x="964.5" fill="#1616ff"/><rect x="968.5" fill="#1919ff"/><rect x="972.5" fill="#2020ff"/><rect x="976.5" fill="#2a2aff"/><rect x="980.5" fill="#3636ff"/><rect x="984.5" fill="#4343ff"/><rect x="988.5" fill="#5050ff"/><rect x="992.5" fill="#5d5dff"/><rect x="996.5" fill="#6969ff"/><rect x="1000.5" fill="#7575ff"/><rect x="1004.5" fill="#8080ff"/><rect x="1008.5" fill="#8a8aff"/><rect x="1012.5" fill="#9393ff"/><rect x="1016.5" fill="#9b9bff"/><rect x="1020.5" fill="#a2a2ff"/><rect x="1024.5" fill="#a8a8ff"/><rect x="1028.5" fill="#aeaeff"/><rect x="1032.5" fill="#b3b3ff"/><rect x="1036.5" fill="#b7b7ff"/><rect x="1040.5" fill="#babaff"/><rect x="1044.5" fill="#bdbdff"/><rect x="1048.5" fill="#bfbfff"/><rect x="1052.5" fill="#c0c0ff"/><rect x="1056.5" fill="#c2c2ff"/></g><g transform="translate(0 243.5)"><rect x="872.5" fill="#c0c0ff"/><rect x="876.5" fill="#bebeff"/><rect x="880.5" fill="#bcbcff"/><rect x="884.5" fill="#b9b9ff"/><rect x="888.5" fill="#b6b6ff"/><rect x="892.5" fill="#b2b2ff"/><rect x="896.5" fill="#aeaeff"/><rect x="900.5" fill="#a8a8ff"/><rect x="904.5" fill="#a2a2ff"/><rect x="908.5" fill="#9b9bff"/><rect x="912.5" fill="#9494ff"/><rect x="916.5" fill="#8b8bff"/><rect x="920.5" fill="#8282ff"/><rect x="924.5" fill="#7777ff"/><rect x="928.5" fill="#6c6cff"/><rect x="932.5" fill="#6060ff"/><rect x="936.5" fill="#5454ff"/><rect x="940.5" fill="#4747ff"/><rect x="944.5" fill="#3a3aff"/><rect x="948.5" fill="#2e2eff"/><rect x="952.5" fill="#2424ff"/><rect x="956.5" fill="#1d1dff"/><rect x="960.5" fill="#1818ff"/><rect x="964.5" fill="#1818ff"/><rect x="968.5" fill="#1b1bff"/><rect x="972.5" fill="#2121ff"/><rect x="976.5" fill="#2b2bff"/><rect x="980.5" fill="#3636ff"/><rect x="984.5" fill="#4242ff"/><rect x="988.5" fill="#4f4fff"/><rect x="992.5" fill="#5c5cff"/><rect x="996.5" fill="#6868ff"/><rect x="1000.5" fill="#7474ff"/><rect x="1004.5" fill="#7e7eff"/><rect x="1008.5" fill="#8888ff"/><rect x="1012.5" fill="#9191ff"/><rect x="1016.5" fill="#9999ff"/><rect x="1020.5" fill="#a0a0ff"/><rect x="1024.5" fill="#a6a6ff"/><rect x="1028.5" fill="#acacff"/><rect x="1032.5" fill="#b1b1ff"/><rect x="1036.5" fill="#b5b5ff"/><rect x="1040.5" fill="#b8b8ff"/><rect x="1044.5" fill="#bbbbff"/><rect x="1048.5" fill="#bdbdff"/><rect x="1052.5" fill="#bebeff"/><rect x="1056.5" fill="#bfbfff"/></g><g transform="translate(0 247.5)"><rect x="872.5" fill="#bdbdff"/><rect x="876.5" fill="#bcbcff"/><rect x="880.5" fill="#babaff"/><rect x="884.5" fill="#b7b7ff"/><rect x="888.5" fill="#b4b4ff"/><rect x="892.5" fill="#b0b0ff"/><rect x="896.5" fill="#acacff"/><rect x="900.5" fill="#a7a7ff"/><rect x="904.5" fill="#a1a1ff"/><rect x="908.5" fill="#9a9aff"/><rect x="912.5" fill="#9292ff"/><rect x="916.5" fill="#8a8aff"/><rect x="920.5" fill="#8080ff"/><rect x="924.5" fill="#7676ff"/><rect x="928.5" fill="#6b6bff"/><rect x="932.5" fill="#5f5fff"/><rect x="936.5" fill="#5353ff"/><rect x="940.5" fill="#4747ff"/><rect x="944.5" fill="#3a3aff"/><rect x="948.5" fill="#2f2fff"/><rect x="952.5" fill="#2525ff"/><rect x="956.5" fill="#1e1eff"/><rect x="960.5" fill="#1a1aff"/><rect x="964.5" fill="#1919ff"/><rect x="968.5" fill="#1c1cff"/><rect x="972.5" fill="#2222ff"/><rect x="976.5" fill="#2b2bff"/><rect x="980.5" fill="#3636ff"/><rect x="984.5" fill="#4242ff"/><rect x="988.5" fill="#4f4fff"/><rect x="992.5" fill="#5b5bff"/><rect x="996.5" fill="#6767ff"/><rect x="1000.5" fill="#7272ff"/><rect x="1004.5" fill="#7d7dff"/><rect x="1008.5" fill="#8686ff"/><rect x="1012.5" fill="#8f8fff"/><rect x="1016.5" fill="#9797ff"/><rect x="1020.5" fill="#9e9eff"/><rect x="1024.5" fill="#a4a4ff"/><rect x="1028.5" fill="#aaaaff"/><rect x="1032.5" fill="#afafff"/><rect x="1036.5" fill="#b3b3ff"/><rect x="1040.5" fill="#b6b6ff"/><rect x="1044.5" fill="#b8b8ff"/><rect x="1048.5" fill="#bbbbff"/><rect x="1052.5" fill="#bcbcff"/><rect x="1056.5" fill="#bdbdff"/></g><g transform="translate(0 251.5)"><rect x="872.5" fill="#bcbcff"/><rect x="876.5" fill="#babaff"/><rect x="880.5" fill="#b8b8ff"/><rect x="884.5" fill="#b5b5ff"/><rect x="888.5" fill="#b2b2ff"/><rect x="892.5" fill="#aeaeff"/><rect x="896.5" fill="#aaaaff"/><rect x="900.5" fill="#a5a5ff"/><rect x="904.5" fill="#9f9fff"/><rect x="908.5" fill="#9898ff"/><rect x="912.5" fill="#9090ff"/><rect x="916.5" fill="#8888ff"/><rect x="920.5" fill="#7f7fff"/><rect x="924.5" fill="#7575ff"/><rect x="928.5" fill="#6a6aff"/><rect x="932.5" fill="#5f5fff"/><rect x="936.5" fill="#5353ff"/><rect x="940.5" fill="#4747ff"/><rect x="944.5" fill="#3b3bff"/><rect x="948.5" fill="#3030ff"/><rect x="952.5" fill="#2626ff"/><rect x="956.5" fill="#1f1fff"/><rect x="960.5" fill="#1b1bff"/><rect x="964.5" fill="#1b1bff"/><rect x="968.5" fill="#1e1eff"/><rect x="972.5" fill="#2424ff"/><rect x="976.5" fill="#2c2cff"/><rect x="980.5" fill="#3737ff"/><rect x="984.5" fill="#4343ff"/><rect x="988.5" fill="#4f4fff"/><rect x="992.5" fill="#5b5bff"/><rect x="996.5" fill="#6666ff"/><rect x="1000.5" fill="#7171ff"/><rect x="1004.5" fill="#7b7bff"/><rect x="1008.5" fill="#8585ff"/><rect x="1012.5" fill="#8e8eff"/><rect x="1016.5" fill="#9595ff"/><rect x="1020.5" fill="#9d9dff"/><rect x="1024.5" fill="#a3a3ff"/><rect x="1028.5" fill="#a8a8ff"/><rect x="1032.5" fill="#adadff"/><rect x="1036.5" fill="#b1b1ff"/><rect x="1040.5" fill="#b4b4ff"/><rect x="1044.5" fill="#b7b7ff"/><rect x="1048.5" fill="#b9b9ff"/><rect x="1052.5" fill="#babaff"/><rect x="1056.5" fill="#bbbbff"/></g><g transform="translate(0 255.5)"><rect x="872.5" fill="#babaff"/><rect x="876.5" fill="#b8b8ff"/><rect x="880.5" fill="#b6b6ff"/><rect x="884.5" fill="#b4b4ff"/><rect x="888.5" fill="#b0b0ff"/><rect x="892.5" fill="#adadff"/><rect x="896.5" fill="#a8a8ff"/><rect x="900.5" fill="#a3a3ff"/><rect x="904.5" fill="#9d9dff"/><rect x="908.5" fill="#9797ff"/><rect x="912.5" fill="#8f8fff"/><rect x="916.5" fill="#8787ff"/><rect x="920.5" fill="#7e7eff"/><rect x="924.5" fill="#7474ff"/><rect x="928.5" fill="#6969ff"/><rect x="932.5" fill="#5e5eff"/><rect x="936.5" fill="#5353ff"/><rect x="940.5" fill="#4747ff"/><rect x="944.5" fill="#3c3cff"/><rect x="948.5" fill="#3131ff"/><rect x="952.5" fill="#2828ff"/><rect x="956.5" fill="#2121ff"/><rect x="960.5" fill="#1d1dff"/><rect x="964.5" fill="#1d1dff"/><rect x="968.5" fill="#2020ff"/><rect x="972.5" fill="#2525ff"/><rect x="976.5" fill="#2e2eff"/><rect x="980.5" fill="#3838ff"/><rect x="984.5" fill="#4343ff"/><rect x="988.5" fill="#4f4fff"/><rect x="992.5" fill="#5a5aff"/><rect x="996.5" fill="#6666ff"/><rect x="1000.5" fill="#7070ff"/><rect x="1004.5" fill="#7a7aff"/><rect x="1008.5" fill="#8484ff"/><rect x="1012.5" fill="#8c8cff"/><rect x="1016.5" fill="#9494ff"/><rect x="1020.5" fill="#9b9bff"/><rect x="1024.5" fill="#a1a1ff"/><rect x="1028.5" fill="#a7a7ff"/><rect x="1032.5" fill="#ababff"/><rect x="1036.5" fill="#afafff"/><rect x="1040.5" fill="#b2b2ff"/><rect x="1044.5" fill="#b5b5ff"/><rect x="1048.5" fill="#b7b7ff"/><rect x="1052.5" fill="#b8b8ff"/><rect x="1056.5" fill="#b9b9ff"/></g><g transform="translate(0 259.5)"><rect x="872.5" fill="#b8b8ff"/><rect x="876.5" fill="#b6b6ff"/><rect x="880.5" fill="#b4b4ff"/><rect x="884.5" fill="#b2b2ff"/><rect x="888.5" fill="#afafff"/><rect x="892.5" fill="#ababff"/><rect x="896.5" fill="#a7a7ff"/><rect x="900.5" fill="#a2a2ff"/><rect x="904.5" fill="#9c9cff"/><rect x="908.5" fill="#9595ff"/><rect x="912.5" fill="#8e8eff"/><rect x="916.5" fill="#8686ff"/><rect x="920.5" fill="#7d7dff"/><rect x="924.5" fill="#7373ff"/><rect x="928.5" fill="#6969ff"/><rect x="932.5" fill="#5e5eff"/><rect x="936.5" fill="#5353ff"/><rect x="940.5" fill="#4848ff"/><rect x="944.5" fill="#3d3dff"/><rect x="948.5" fill="#3232ff"/><rect x="952.5" fill="#2a2aff"/><rect x="956.5" fill="#2323ff"/><rect x="960.5" fill="#2020ff"/><rect x="964.5" fill="#1f1fff"/><rect x="968.5" fill="#2222ff"/><rect x="972.5" fill="#2727ff"/><rect x="976.5" fill="#2f2fff"/><rect x="980.5" fill="#3939ff"/><rect x="984.5" fill="#4444ff"/><rect x="988.5" fill="#4f4fff"/><rect x="992.5" fill="#5a5aff"/><rect x="996.5" fill="#6565ff"/><rect x="1000.5" fill="#7070ff"/><rect x="1004.5" fill="#7a7aff"/><rect x="1008.5" fill="#8383ff"/><rect x="1012.5" fill="#8b8bff"/><rect x="1016.5" fill="#9393ff"/><rect x="1020.5" fill="#9a9aff"/><rect x="1024.5" fill="#a0a0ff"/><rect x="1028.5" fill="#a5a5ff"/><rect x="1032.5" fill="#aaaaff"/><rect x="1036.5" fill="#adadff"/><rect x="1040.5" fill="#b1b1ff"/><rect x="1044.5" fill="#b3b3ff"/><rect x="1048.5" fill="#b5b5ff"/><rect x="1052.5" fill="#b6b6ff"/><rect x="1056.5" fill="#b7b7ff"/></g><g transform="translate(0 263.5)"><rect x="872.5" fill="#b6b6ff"/><rect x="876.5" fill="#b5b5ff"/><rect x="880.5" fill="#b3b3ff"/><rect x="884.5" fill="#b0b0ff"/><rect x="888.5" fill="#adadff"/><rect x="892.5" fill="#aaaaff"/><rect x="896.5" fill="#a6a6ff"/><rect x="900.5" fill="#a1a1ff"/><rect x="904.5" fill="#9b9bff"/><rect x="908.5" fill="#9494ff"/><rect x="912.5" fill="#8d8dff"/><rect x="916.5" fill="#8585ff"/><rect x="920.5" fill="#7c7cff"/><rect x="924.5" fill="#7373ff"/><rect x="928.5" fill="#6969ff"/><rect x="932.5" fill="#5e5eff"/><rect x="936.5" fill="#5353ff"/><rect x="940.5" fill="#4949ff"/><rect x="944.5" fill="#3e3eff"/><rect x="948.5" fill="#3434ff"/><rect x="952.5" fill="#2c2cff"/><rect x="956.5" fill="#2626ff"/><rect x="960.5" fill="#2222ff"/><rect x="964.5" fill="#2222ff"/><rect x="968.5" fill="#2424ff"/><rect x="972.5" fill="#2929ff"/><rect x="976.5" fill="#3131ff"/><rect x="980.5" fill="#3a3aff"/><rect x="984.5" fill="#4545ff"/><rect x="988.5" fill="#5050ff"/><rect x="992.5" fill="#5b5bff"/><rect x="996.5" fill="#6565ff"/><rect x="1000.5" fill="#6f6fff"/><rect x="1004.5" fill="#7979ff"/><rect x="1008.5" fill="#8282ff"/><rect x="1012.5" fill="#8a8aff"/><rect x="1016.5" fill="#9292ff"/><rect x="1020.5" fill="#9999ff"/><rect x="1024.5" fill="#9f9fff"/><rect x="1028.5" fill="#a4a4ff"/><rect x="1032.5" fill="#a8a8ff"/><rect x="1036.5" fill="#acacff"/><rect x="1040.5" fill="#afafff"/><rect x="1044.5" fill="#b2b2ff"/><rect x="1048.5" fill="#b3b3ff"/><rect x="1052.5" fill="#b5b5ff"/><rect x="1056.5" fill="#b6b6ff"/></g><g transform="translate(0 267.5)"><rect x="872.5" fill="#b5b5ff"/><rect x="876.5" fill="#b4b4ff"/><rect x="880.5" fill="#b2b2ff"/><rect x="884.5" fill="#afafff"/><rect x="888.5" fill="#acacff"/><rect x="892.5" fill="#a9a9ff"/><rect x="896.5" fill="#a4a4ff"/><rect x="900.5" fill="#a0a0ff"/><rect x="904.5" fill="#9a9aff"/><rect x="908.5" fill="#9494ff"/><rect x="912.5" fill="#8c8cff"/><rect x="916.5" fill="#8585ff"/><rect x="920.5" fill="#7c7cff"/><rect x="924.5" fill="#7373ff"/><rect x="928.5" fill="#6969ff"/><rect x="932.5" fill="#5f5fff"/><rect x="936.5" fill="#5454ff"/><rect x="940.5" fill="#4a4aff"/><rect x="944.5" fill="#4040ff"/><rect x="948.5" fill="#3636ff"/><rect x="952.5" fill="#2e2eff"/><rect x="956.5" fill="#2828ff"/><rect x="960.5" fill="#2525ff"/><rect x="964.5" fill="#2525ff"/><rect x="968.5" fill="#2727ff"/><rect x="972.5" fill="#2c2cff"/><rect x="976.5" fill="#3333ff"/><rect x="980.5" fill="#3c3cff"/><rect x="984.5" fill="#4646ff"/><rect x="988.5" fill="#5151ff"/><rect x="992.5" fill="#5b5bff"/><rect x="996.5" fill="#6666ff"/><rect x="1000.5" fill="#6f6fff"/><rect x="1004.5" fill="#7979ff"/><rect x="1008.5" fill="#8282ff"/><rect x="1012.5" fill="#8a8aff"/><rect x="1016.5" fill="#9191ff"/><rect x="1020.5" fill="#9898ff"/><rect x="1024.5" fill="#9e9eff"/><rect x="1028.5" fill="#a3a3ff"/><rect x="1032.5" fill="#a7a7ff"/><rect x="1036.5" fill="#ababff"/><rect x="1040.5" fill="#aeaeff"/><rect x="1044.5" fill="#b0b0ff"/><rect x="1048.5" fill="#b2b2ff"/><rect x="1052.5" fill="#b3b3ff"/><rect x="1056.5" fill="#b4b4ff"/></g><g transform="translate(0 271.5)"><rect x="872.5" fill="#b4b4ff"/><rect x="876.5" fill="#b2b2ff"/><rect x="880.5" fill="#b0b0ff"/><rect x="884.5" fill="#aeaeff"/><rect x="888.5" fill="#ababff"/><rect x="892.5" fill="#a8a8ff"/><rect x="896.5" fill="#a4a4ff"/><rect x="900.5" fill="#9f9fff"/><rect x="904.5" fill="#9999ff"/><rect x="908.5" fill="#9393ff"/><rect x="912.5" fill="#8c8cff"/><rect x="916.5" fill="#8484ff"/><rect x="920.5" fill="#7c7cff"/><rect x="924.5" fill="#7373ff"/><rect x="928.5" fill="#6a6aff"/><rect x="932.5" fill="#6060ff"/><rect x="936.5" fill="#5555ff"/><rect x="940.5" fill="#4b4bff"/><rect x="944.5" fill="#4141ff"/><rect x="948.5" fill="#3939ff"/><rect x="952.5" fill="#3131ff"/><rect x="956.5" fill="#2b2bff"/><rect x="960.5" fill="#2828ff"/><rect x="964.5" fill="#2828ff"/><rect x="968.5" fill="#2a2aff"/><rect x="972.5" fill="#2f2fff"/><rect x="976.5" fill="#3636ff"/><rect x="980.5" fill="#3e3eff"/><rect x="984.5" fill="#4848ff"/><rect x="988.5" fill="#5252ff"/><rect x="992.5" fill="#5c5cff"/><rect x="996.5" fill="#6666ff"/><rect x="1000.5" fill="#7070ff"/><rect x="1004.5" fill="#7979ff"/><rect x="1008.5" fill="#8181ff"/><rect x="1012.5" fill="#8989ff"/><rect x="1016.5" fill="#9191ff"/><rect x="1020.5" fill="#9797ff"/><rect x="1024.5" fill="#9d9dff"/><rect x="1028.5" fill="#a2a2ff"/><rect x="1032.5" fill="#a6a6ff"/><rect x="1036.5" fill="#aaaaff"/><rect x="1040.5" fill="#adadff"/><rect x="1044.5" fill="#afafff"/><rect x="1048.5" fill="#b1b1ff"/><rect x="1052.5" fill="#b2b2ff"/><rect x="1056.5" fill="#b3b3ff"/></g><g transform="translate(0 275.5)"><rect x="872.5" fill="#b3b3ff"/><rect x="876.5" fill="#b1b1ff"/><rect x="880.5" fill="#afafff"/><rect x="884.5" fill="#adadff"/><rect x="888.5" fill="#aaaaff"/><rect x="892.5" fill="#a7a7ff"/><rect x="896.5" fill="#a3a3ff"/><rect x="900.5" fill="#9e9eff"/><rect x="904.5" fill="#9999ff"/><rect x="908.5" fill="#9393ff"/><rect x="912.5" fill="#8c8cff"/><rect x="916.5" fill="#8484ff"/><rect x="920.5" fill="#7c7cff"/><rect x="924.5" fill="#7373ff"/><rect x="928.5" fill="#6a6aff"/><rect x="932.5" fill="#6161ff"/><rect x="936.5" fill="#5757ff"/><rect x="940.5" fill="#4d4dff"/><rect x="944.5" fill="#4444ff"/><rect x="948.5" fill="#3b3bff"/><rect x="952.5" fill="#3434ff"/><rect x="956.5" fill="#2f2fff"/><rect x="960.5" fill="#2c2cff"/><rect x="964.5" fill="#2b2bff"/><rect x="968.5" fill="#2d2dff"/><rect x="972.5" fill="#3232ff"/><rect x="976.5" fill="#3838ff"/><rect x="980.5" fill="#4141ff"/><rect x="984.5" fill="#4a4aff"/><rect x="988.5" fill="#5353ff"/><rect x="992.5" fill="#5d5dff"/><rect x="996.5" fill="#6767ff"/><rect x="1000.5" fill="#7070ff"/><rect x="1004.5" fill="#7979ff"/><rect x="1008.5" fill="#8282ff"/><rect x="1012.5" fill="#8989ff"/><rect x="1016.5" fill="#9090ff"/><rect x="1020.5" fill="#9797ff"/><rect x="1024.5" fill="#9c9cff"/><rect x="1028.5" fill="#a1a1ff"/><rect x="1032.5" fill="#a5a5ff"/><rect x="1036.5" fill="#a9a9ff"/><rect x="1040.5" fill="#acacff"/><rect x="1044.5" fill="#aeaeff"/><rect x="1048.5" fill="#b0b0ff"/><rect x="1052.5" fill="#b1b1ff"/><rect x="1056.5" fill="#b2b2ff"/></g><g transform="translate(0 279.5)"><rect x="872.5" fill="#b2b2ff"/><rect x="876.5" fill="#b0b0ff"/><rect x="880.5" fill="#afafff"/><rect x="884.5" fill="#acacff"/><rect x="888.5" fill="#aaaaff"/><rect x="892.5" fill="#a6a6ff"/><rect x="896.5" fill="#a2a2ff"/><rect x="900.5" fill="#9e9eff"/><rect x="904.5" fill="#9898ff"/><rect x="908.5" fill="#9393ff"/><rect x="912.5" fill="#8c8cff"/><rect x="916.5" fill="#8585ff"/><rect x="920.5" fill="#7d7dff"/><rect x="924.5" fill="#7474ff"/><rect x="928.5" fill="#6b6bff"/><rect x="932.5" fill="#6262ff"/><rect x="936.5" fill="#5959ff"/><rect x="940.5" fill="#4f4fff"/><rect x="944.5" fill="#4646ff"/><rect x="948.5" fill="#3e3eff"/><rect x="952.5" fill="#3737ff"/><rect x="956.5" fill="#3232ff"/><rect x="960.5" fill="#2f2fff"/><rect x="964.5" fill="#2f2fff"/><rect x="968.5" fill="#3131ff"/><rect x="972.5" fill="#3535ff"/><rect x="976.5" fill="#3c3cff"/><rect x="980.5" fill="#4343ff"/><rect x="984.5" fill="#4c4cff"/><rect x="988.5" fill="#5555ff"/><rect x="992.5" fill="#5f5fff"/><rect x="996.5" fill="#6868ff"/><rect x="1000.5" fill="#7171ff"/><rect x="1004.5" fill="#7a7aff"/><rect x="1008.5" fill="#8282ff"/><rect x="1012.5" fill="#8989ff"/><rect x="1016.5" fill="#9090ff"/><rect x="1020.5" fill="#9696ff"/><rect x="1024.5" fill="#9c9cff"/><rect x="1028.5" fill="#a1a1ff"/><rect x="1032.5" fill="#a5a5ff"/><rect x="1036.5" fill="#a8a8ff"/><rect x="1040.5" fill="#ababff"/><rect x="1044.5" fill="#adadff"/><rect x="1048.5" fill="#afafff"/><rect x="1052.5" fill="#b0b0ff"/><rect x="1056.5" fill="#b1b1ff"/></g><g transform="translate(0 283.5)"><rect x="872.5" fill="#b1b1ff"/><rect x="876.5" fill="#b0b0ff"/><rect x="880.5" fill="#aeaeff"/><rect x="884.5" fill="#acacff"/><rect x="888.5" fill="#a9a9ff"/><rect x="892.5" fill="#a6a6ff"/><rect x="896.5" fill="#a2a2ff"/><rect x="900.5" fill="#9e9eff"/><rect x="904.5" fill="#9898ff"/><rect x="908.5" fill="#9393ff"/><rect x="912.5" fill="#8c8cff"/><rect x="916.5" fill="#8585ff"/><rect x="920.5" fill="#7d7dff"/><rect x="924.5" fill="#7575ff"/><rect x="928.5" fill="#6c6cff"/><rect x="932.5" fill="#6464ff"/><rect x="936.5" fill="#5a5aff"/><rect x="940.5" fill="#5151ff"/><rect x="944.5" fill="#4949ff"/><rect x="948.5" fill="#4141ff"/><rect x="952.5" fill="#3b3bff"/><rect x="956.5" fill="#3636ff"/><rect x="960.5" fill="#3333ff"/><rect x="964.5" fill="#3333ff"/><rect x="968.5" fill="#3535ff"/><rect x="972.5" fill="#3939ff"/><rect x="976.5" fill="#3f3fff"/><rect x="980.5" fill="#4646ff"/><rect x="984.5" fill="#4e4eff"/><rect x="988.5" fill="#5757ff"/><rect x="992.5" fill="#6060ff"/><rect x="996.5" fill="#6969ff"/><rect x="1000.5" fill="#7272ff"/><rect x="1004.5" fill="#7a7aff"/><rect x="1008.5" fill="#8282ff"/><rect x="1012.5" fill="#8a8aff"/><rect x="1016.5" fill="#9090ff"/><rect x="1020.5" fill="#9696ff"/><rect x="1024.5" fill="#9c9cff"/><rect x="1028.5" fill="#a0a0ff"/><rect x="1032.5" fill="#a4a4ff"/><rect x="1036.5" fill="#a8a8ff"/><rect x="1040.5" fill="#aaaaff"/><rect x="1044.5" fill="#adadff"/><rect x="1048.5" fill="#aeaeff"/><rect x="1052.5" fill="#b0b0ff"/><rect x="1056.5" fill="#b0b0ff"/></g><g transform="translate(0 287.5)"><rect x="872.5" fill="#b0b0ff"/><rect x="876.5" fill="#afafff"/><rect x="880.5" fill="#adadff"/><rect x="884.5" fill="#ababff"/><rect x="888.5" fill="#a9a9ff"/><rect x="892.5" fill="#a6a6ff"/><rect x="896.5" fill="#a2a2ff"/><rect x="900.5" fill="#9d9dff"/><rect x="904.5" fill="#9898ff"/><rect x="908.5" fill="#9393ff"/><rect x="912.5" fill="#8d8dff"/><rect x="916.5" fill="#8686ff"/><rect x="920.5" fill="#7e7eff"/><rect x="924.5" fill="#7676ff"/><rect x="928.5" fill="#6e6eff"/><rect x="932.5" fill="#6565ff"/><rect x="936.5" fill="#5d5dff"/><rect x="940.5" fill="#5454ff"/><rect x="944.5" fill="#4c4cff"/><rect x="948.5" fill="#4545ff"/><rect x="952.5" fill="#3e3eff"/><rect x="956.5" fill="#3a3aff"/><rect x="960.5" fill="#3737ff"/><rect x="964.5" fill="#3737ff"/><rect x="968.5" fill="#3939ff"/><rect x="972.5" fill="#3d3dff"/><rect x="976.5" fill="#4242ff"/><rect x="980.5" fill="#4949ff"/><rect x="984.5" fill="#5151ff"/><rect x="988.5" fill="#5a5aff"/><rect x="992.5" fill="#6262ff"/><rect x="996.5" fill="#6b6bff"/><rect x="1000.5" fill="#7373ff"/><rect x="1004.5" fill="#7b7bff"/><rect x="1008.5" fill="#8383ff"/><rect x="1012.5" fill="#8a8aff"/><rect x="1016.5" fill="#9191ff"/><rect x="1020.5" fill="#9797ff"/><rect x="1024.5" fill="#9c9cff"/><rect x="1028.5" fill="#a0a0ff"/><rect x="1032.5" fill="#a4a4ff"/><rect x="1036.5" fill="#a7a7ff"/><rect x="1040.5" fill="#aaaaff"/><rect x="1044.5" fill="#acacff"/><rect x="1048.5" fill="#aeaeff"/><rect x="1052.5" fill="#afafff"/><rect x="1056.5" fill="#b0b0ff"/></g><g transform="translate(0 291.5)"><rect x="872.5" fill="#b0b0ff"/><rect x="876.5" fill="#afafff"/><rect x="880.5" fill="#adadff"/><rect x="884.5" fill="#ababff"/><rect x="888.5" fill="#a8a8ff"/><rect x="892.5" fill="#a5a5ff"/><rect x="896.5" fill="#a2a2ff"/><rect x="900.5" fill="#9d9dff"/><rect x="904.5" fill="#9999ff"/><rect x="908.5" fill="#9393ff"/><rect x="912.5" fill="#8d8dff"/><rect x="916.5" fill="#8686ff"/><rect x="920.5" fill="#7f7fff"/><rect x="924.5" fill="#7878ff"/><rect x="928.5" fill="#7070ff"/><rect x="932.5" fill="#6767ff"/><rect x="936.5" fill="#5f5fff"/><rect x="940.5" fill="#5757ff"/><rect x="944.5" fill="#4f4fff"/><rect x="948.5" fill="#4848ff"/><rect x="952.5" fill="#4242ff"/><rect x="956.5" fill="#3e3eff"/><rect x="960.5" fill="#3c3cff"/><rect x="964.5" fill="#3b3bff"/><rect x="968.5" fill="#3d3dff"/><rect x="972.5" fill="#4141ff"/><rect x="976.5" fill="#4646ff"/><rect x="980.5" fill="#4c4cff"/><rect x="984.5" fill="#5454ff"/><rect x="988.5" fill="#5c5cff"/><rect x="992.5" fill="#6464ff"/><rect x="996.5" fill="#6d6dff"/><rect x="1000.5" fill="#7575ff"/><rect x="1004.5" fill="#7d7dff"/><rect x="1008.5" fill="#8484ff"/><rect x="1012.5" fill="#8b8bff"/><rect x="1016.5" fill="#9191ff"/><rect x="1020.5" fill="#9797ff"/><rect x="1024.5" fill="#9c9cff"/><rect x="1028.5" fill="#a0a0ff"/><rect x="1032.5" fill="#a4a4ff"/><rect x="1036.5" fill="#a7a7ff"/><rect x="1040.5" fill="#aaaaff"/><rect x="1044.5" fill="#acacff"/><rect x="1048.5" fill="#adadff"/><rect x="1052.5" fill="#afafff"/><rect x="1056.5" fill="#afafff"/></g><g transform="translate(0 295.5)"><rect x="872.5" fill="#afafff"/><rect x="876.5" fill="#aeaeff"/><rect x="880.5" fill="#adadff"/><rect x="884.5" fill="#ababff"/><rect x="888.5" fill="#a8a8ff"/><rect x="892.5" fill="#a5a5ff"/><rect x="896.5" fill="#a2a2ff"/><rect x="900.5" fill="#9e9eff"/><rect x="904.5" fill="#9999ff"/><rect x="908.5" fill="#9494ff"/><rect x="912.5" fill="#8e8eff"/><rect x="916.5" fill="#8787ff"/><rect x="920.5" fill="#8080ff"/><rect x="924.5" fill="#7979ff"/><rect x="928.5" fill="#7171ff"/><rect x="932.5" fill="#6969ff"/><rect x="936.5" fill="#6161ff"/><rect x="940.5" fill="#5a5aff"/><rect x="944.5" fill="#5252ff"/><rect x="948.5" fill="#4c4cff"/><rect x="952.5" fill="#4646ff"/><rect x="956.5" fill="#4242ff"/><rect x="960.5" fill="#4040ff"/><rect x="964.5" fill="#3f3fff"/><rect x="968.5" fill="#4141ff"/><rect x="972.5" fill="#4545ff"/><rect x="976.5" fill="#4a4aff"/><rect x="980.5" fill="#5050ff"/><rect x="984.5" fill="#5757ff"/><rect x="988.5" fill="#5f5fff"/><rect x="992.5" fill="#6767ff"/><rect x="996.5" fill="#6f6fff"/><rect x="1000.5" fill="#7676ff"/><rect x="1004.5" fill="#7e7eff"/><rect x="1008.5" fill="#8585ff"/><rect x="1012.5" fill="#8c8cff"/><rect x="1016.5" fill="#9292ff"/><rect x="1020.5" fill="#9797ff"/><rect x="1024.5" fill="#9c9cff"/><rect x="1028.5" fill="#a0a0ff"/><rect x="1032.5" fill="#a4a4ff"/><rect x="1036.5" fill="#a7a7ff"/><rect x="1040.5" fill="#a9a9ff"/><rect x="1044.5" fill="#acacff"/><rect x="1048.5" fill="#adadff"/><rect x="1052.5" fill="#aeaeff"/><rect x="1056.5" fill="#afafff"/></g><g transform="translate(0 299.5)"><rect x="872.5" fill="#afafff"/><rect x="876.5" fill="#aeaeff"/><rect x="880.5" fill="#acacff"/><rect x="884.5" fill="#aaaaff"/><rect x="888.5" fill="#a8a8ff"/><rect x="892.5" fill="#a5a5ff"/><rect x="896.5" fill="#a2a2ff"/><rect x="900.5" fill="#9e9eff"/><rect x="904.5" fill="#9999ff"/><rect x="908.5" fill="#9494ff"/><rect x="912.5" fill="#8f8fff"/><rect x="916.5" fill="#8888ff"/><rect x="920.5" fill="#8282ff"/><rect x="924.5" fill="#7b7bff"/><rect x="928.5" fill="#7373ff"/><rect x="932.5" fill="#6c6cff"/><rect x="936.5" fill="#6464ff"/><rect x="940.5" fill="#5d5dff"/><rect x="944.5" fill="#5656ff"/><rect x="948.5" fill="#4f4fff"/><rect x="952.5" fill="#4a4aff"/><rect x="956.5" fill="#4646ff"/><rect x="960.5" fill="#4444ff"/><rect x="964.5" fill="#4444ff"/><rect x="968.5" fill="#4545ff"/><rect x="972.5" fill="#4949ff"/><rect x="976.5" fill="#4d4dff"/><rect x="980.5" fill="#5353ff"/><rect x="984.5" fill="#5a5aff"/><rect x="988.5" fill="#6161ff"/><rect x="992.5" fill="#6969ff"/><rect x="996.5" fill="#7171ff"/><rect x="1000.5" fill="#7878ff"/><rect x="1004.5" fill="#7f7fff"/><rect x="1008.5" fill="#8686ff"/><rect x="1012.5" fill="#8c8cff"/><rect x="1016.5" fill="#9292ff"/><rect x="1020.5" fill="#9898ff"/><rect x="1024.5" fill="#9c9cff"/><rect x="1028.5" fill="#a0a0ff"/><rect x="1032.5" fill="#a4a4ff"/><rect x="1036.5" fill="#a7a7ff"/><rect x="1040.5" fill="#a9a9ff"/><rect x="1044.5" fill="#ababff"/><rect x="1048.5" fill="#adadff"/><rect x="1052.5" fill="#aeaeff"/><rect x="1056.5" fill="#afafff"/></g><g transform="translate(0 303.5)"><rect x="872.5" fill="#afafff"/><rect x="876.5" fill="#aeaeff"/><rect x="880.5" fill="#acacff"/><rect x="884.5" fill="#aaaaff"/><rect x="888.5" fill="#a8a8ff"/><rect x="892.5" fill="#a5a5ff"/><rect x="896.5" fill="#a2a2ff"/><rect x="900.5" fill="#9e9eff"/><rect x="904.5" fill="#9a9aff"/><rect x="908.5" fill="#9595ff"/><rect x="912.5" fill="#8f8fff"/><rect x="916.5" fill="#8989ff"/><rect x="920.5" fill="#8383ff"/><rect x="924.5" fill="#7c7cff"/><rect x="928.5" fill="#7575ff"/><rect x="932.5" fill="#6e6eff"/><rect x="936.5" fill="#6767ff"/><rect x="940.5" fill="#6060ff"/><rect x="944.5" fill="#5959ff"/><rect x="948.5" fill="#5353ff"/><rect x="952.5" fill="#4e4eff"/><rect x="956.5" fill="#4b4bff"/><rect x="960.5" fill="#4949ff"/><rect x="964.5" fill="#4848ff"/><rect x="968.5" fill="#4a4aff"/><rect x="972.5" fill="#4d4dff"/><rect x="976.5" fill="#5151ff"/><rect x="980.5" fill="#5757ff"/><rect x="984.5" fill="#5d5dff"/><rect x="988.5" fill="#6464ff"/><rect x="992.5" fill="#6b6bff"/><rect x="996.5" fill="#7373ff"/><rect x="1000.5" fill="#7a7aff"/><rect x="1004.5" fill="#8181ff"/><rect x="1008.5" fill="#8787ff"/><rect x="1012.5" fill="#8d8dff"/><rect x="1016.5" fill="#9393ff"/><rect x="1020.5" fill="#9898ff"/><rect x="1024.5" fill="#9d9dff"/><rect x="1028.5" fill="#a1a1ff"/><rect x="1032.5" fill="#a4a4ff"/><rect x="1036.5" fill="#a7a7ff"/><rect x="1040.5" fill="#a9a9ff"/><rect x="1044.5" fill="#ababff"/><rect x="1048.5" fill="#adadff"/><rect x="1052.5" fill="#aeaeff"/><rect x="1056.5" fill="#aeaeff"/></g><g transform="translate(0 307.5)"><rect x="872.5" fill="#aeaeff"/><rect x="876.5" fill="#adadff"/><rect x="880.5" fill="#acacff"/><rect x="884.5" fill="#aaaaff"/><rect x="888.5" fill="#a8a8ff"/><rect x="892.5" fill="#a5a5ff"/><rect x="896.5" fill="#a2a2ff"/><rect x="900.5" fill="#9e9eff"/><rect x="904.5" fill="#9a9aff"/><rect x="908.5" fill="#9696ff"/><rect x="912.5" fill="#9090ff"/><rect x="916.5" fill="#8b8bff"/><rect x="920.5" fill="#8484ff"/><rect x="924.5" fill="#7e7eff"/><rect x="928.5" fill="#7777ff"/><rect x="932.5" fill="#7070ff"/><rect x="936.5" fill="#6969ff"/><rect x="940.5" fill="#6363ff"/><rect x="944.5" fill="#5c5cff"/><rect x="948.5" fill="#5757ff"/><rect x="952.5" fill="#5252ff"/><rect x="956.5" fill="#4f4fff"/><rect x="960.5" fill="#4d4dff"/><rect x="964.5" fill="#4d4dff"/><rect x="968.5" fill="#4e4eff"/><rect x="972.5" fill="#5151ff"/><rect x="976.5" fill="#5555ff"/><rect x="980.5" fill="#5a5aff"/><rect x="984.5" fill="#6060ff"/><rect x="988.5" fill="#6767ff"/><rect x="992.5" fill="#6e6eff"/><rect x="996.5" fill="#7575ff"/><rect x="1000.5" fill="#7c7cff"/><rect x="1004.5" fill="#8282ff"/><rect x="1008.5" fill="#8989ff"/><rect x="1012.5" fill="#8e8eff"/><rect x="1016.5" fill="#9494ff"/><rect x="1020.5" fill="#9999ff"/><rect x="1024.5" fill="#9d9dff"/><rect x="1028.5" fill="#a1a1ff"/><rect x="1032.5" fill="#a4a4ff"/><rect x="1036.5" fill="#a7a7ff"/><rect x="1040.5" fill="#a9a9ff"/><rect x="1044.5" fill="#ababff"/><rect x="1048.5" fill="#acacff"/><rect x="1052.5" fill="#adadff"/><rect x="1056.5" fill="#aeaeff"/></g><g transform="translate(0 311.5)"><rect x="872.5" fill="#aeaeff"/><rect x="876.5" fill="#adadff"/><rect x="880.5" fill="#ababff"/><rect x="884.5" fill="#aaaaff"/><rect x="888.5" fill="#a8a8ff"/><rect x="892.5" fill="#a5a5ff"/><rect x="896.5" fill="#a2a2ff"/><rect x="900.5" fill="#9f9fff"/><rect x="904.5" fill="#9b9bff"/><rect x="908.5" fill="#9696ff"/><rect x="912.5" fill="#9191ff"/><rect x="916.5" fill="#8c8cff"/><rect x="920.5" fill="#8686ff"/><rect x="924.5" fill="#8080ff"/><rect x="928.5" fill="#7979ff"/><rect x="932.5" fill="#7373ff"/><rect x="936.5" fill="#6c6cff"/><rect x="940.5" fill="#6666ff"/><rect x="944.5" fill="#6060ff"/><rect x="948.5" fill="#5a5aff"/><rect x="952.5" fill="#5656ff"/><rect x="956.5" fill="#5353ff"/><rect x="960.5" fill="#5151ff"/><rect x="964.5" fill="#5151ff"/><rect x="968.5" fill="#5252ff"/><rect x="972.5" fill="#5555ff"/><rect x="976.5" fill="#5959ff"/><rect x="980.5" fill="#5e5eff"/><rect x="984.5" fill="#6464ff"/><rect x="988.5" fill="#6a6aff"/><rect x="992.5" fill="#7070ff"/><rect x="996.5" fill="#7777ff"/><rect x="1000.5" fill="#7d7dff"/><rect x="1004.5" fill="#8484ff"/><rect x="1008.5" fill="#8a8aff"/><rect x="1012.5" fill="#8f8fff"/><rect x="1016.5" fill="#9595ff"/><rect x="1020.5" fill="#9999ff"/><rect x="1024.5" fill="#9d9dff"/><rect x="1028.5" fill="#a1a1ff"/><rect x="1032.5" fill="#a4a4ff"/><rect x="1036.5" fill="#a7a7ff"/><rect x="1040.5" fill="#a9a9ff"/><rect x="1044.5" fill="#ababff"/><rect x="1048.5" fill="#acacff"/><rect x="1052.5" fill="#adadff"/><rect x="1056.5" fill="#aeaeff"/></g><g transform="translate(0 315.5)"><rect x="872.5" fill="#aeaeff"/><rect x="876.5" fill="#acacff"/><rect x="880.5" fill="#ababff"/><rect x="884.5" fill="#aaaaff"/><rect x="888.5" fill="#a8a8ff"/><rect x="892.5" fill="#a5a5ff"/><rect x="896.5" fill="#a2a2ff"/><rect x="900.5" fill="#9f9fff"/><rect x="904.5" fill="#9b9bff"/><rect x="908.5" fill="#9797ff"/><rect x="912.5" fill="#9292ff"/><rect x="916.5" fill="#8d8dff"/><rect x="920.5" fill="#8787ff"/><rect x="924.5" fill="#8181ff"/><rect x="928.5" fill="#7b7bff"/><rect x="932.5" fill="#7575ff"/><rect x="936.5" fill="#6f6fff"/><rect x="940.5" fill="#6969ff"/><rect x="944.5" fill="#6363ff"/><rect x="948.5" fill="#5e5eff"/><rect x="952.5" fill="#5a5aff"/><rect x="956.5" fill="#5757ff"/><rect x="960.5" fill="#5555ff"/><rect x="964.5" fill="#5555ff"/><rect x="968.5" fill="#5656ff"/><rect x="972.5" fill="#5959ff"/><rect x="976.5" fill="#5d5dff"/><rect x="980.5" fill="#6161ff"/><rect x="984.5" fill="#6767ff"/><rect x="988.5" fill="#6d6dff"/><rect x="992.5" fill="#7373ff"/><rect x="996.5" fill="#7979ff"/><rect x="1000.5" fill="#7f7fff"/><rect x="1004.5" fill="#8585ff"/><rect x="1008.5" fill="#8b8bff"/><rect x="1012.5" fill="#9090ff"/><rect x="1016.5" fill="#9595ff"/><rect x="1020.5" fill="#9a9aff"/><rect x="1024.5" fill="#9e9eff"/><rect x="1028.5" fill="#a1a1ff"/><rect x="1032.5" fill="#a4a4ff"/><rect x="1036.5" fill="#a7a7ff"/><rect x="1040.5" fill="#a9a9ff"/><rect x="1044.5" fill="#ababff"/><rect x="1048.5" fill="#acacff"/><rect x="1052.5" fill="#adadff"/><rect x="1056.5" fill="#aeaeff"/></g><g transform="translate(0 319.5)"><rect x="872.5" fill="#adadff"/><rect x="876.5" fill="#acacff"/><rect x="880.5" fill="#ababff"/><rect x="884.5" fill="#a9a9ff"/><rect x="888.5" fill="#a7a7ff"/><rect x="892.5" fill="#a5a5ff"/><rect x="896.5" fill="#a3a3ff"/><rect x="900.5" fill="#9f9fff"/><rect x="904.5" fill="#9c9cff"/><rect x="908.5" fill="#9898ff"/><rect x="912.5" fill="#9393ff"/><rect x="916.5" fill="#8e8eff"/><rect x="920.5" fill="#8989ff"/><rect x="924.5" fill="#8383ff"/><rect x="928.5" fill="#7d7dff"/><rect x="932.5" fill="#7777ff"/><rect x="936.5" fill="#7171ff"/><rect x="940.5" fill="#6c6cff"/><rect x="944.5" fill="#6666ff"/><rect x="948.5" fill="#6262ff"/><rect x="952.5" fill="#5e5eff"/><rect x="956.5" fill="#5b5bff"/><rect x="960.5" fill="#5a5aff"/><rect x="964.5" fill="#5959ff"/><rect x="968.5" fill="#5b5bff"/><rect x="972.5" fill="#5d5dff"/><rect x="976.5" fill="#6060ff"/><rect x="980.5" fill="#6565ff"/><rect x="984.5" fill="#6a6aff"/><rect x="988.5" fill="#6f6fff"/><rect x="992.5" fill="#7575ff"/><rect x="996.5" fill="#7b7bff"/><rect x="1000.5" fill="#8181ff"/><rect x="1004.5" fill="#8787ff"/><rect x="1008.5" fill="#8c8cff"/><rect x="1012.5" fill="#9191ff"/><rect x="1016.5" fill="#9696ff"/><rect x="1020.5" fill="#9a9aff"/><rect x="1024.5" fill="#9e9eff"/><rect x="1028.5" fill="#a2a2ff"/><rect x="1032.5" fill="#a4a4ff"/><rect x="1036.5" fill="#a7a7ff"/><rect x="1040.5" fill="#a9a9ff"/><rect x="1044.5" fill="#aaaaff"/><rect x="1048.5" fill="#acacff"/><rect x="1052.5" fill="#adadff"/><rect x="1056.5" fill="#adadff"/></g><g transform="translate(0 323.5)"><rect x="872.5" fill="#adadff"/><rect x="876.5" fill="#acacff"/><rect x="880.5" fill="#ababff"/><rect x="884.5" fill="#a9a9ff"/><rect x="888.5" fill="#a7a7ff"/><rect x="892.5" fill="#a5a5ff"/><rect x="896.5" fill="#a3a3ff"/><rect x="900.5" fill="#a0a0ff"/><rect x="904.5" fill="#9c9cff"/><rect x="908.5" fill="#9898ff"/><rect x="912.5" fill="#9494ff"/><rect x="916.5" fill="#8f8fff"/><rect x="920.5" fill="#8a8aff"/><rect x="924.5" fill="#8585ff"/><rect x="928.5" fill="#7f7fff"/><rect x="932.5" fill="#7a7aff"/><rect x="936.5" fill="#7474ff"/><rect x="940.5" fill="#6f6fff"/><rect x="944.5" fill="#6a6aff"/><rect x="948.5" fill="#6565ff"/><rect x="952.5" fill="#6262ff"/><rect x="956.5" fill="#5f5fff"/><rect x="960.5" fill="#5e5eff"/><rect x="964.5" fill="#5e5eff"/><rect x="968.5" fill="#5f5fff"/><rect x="972.5" fill="#6161ff"/><rect x="976.5" fill="#6464ff"/><rect x="980.5" fill="#6868ff"/><rect x="984.5" fill="#6d6dff"/><rect x="988.5" fill="#7272ff"/><rect x="992.5" fill="#7878ff"/><rect x="996.5" fill="#7d7dff"/><rect x="1000.5" fill="#8383ff"/><rect x="1004.5" fill="#8888ff"/><rect x="1008.5" fill="#8e8eff"/><rect x="1012.5" fill="#9292ff"/><rect x="1016.5" fill="#9797ff"/><rect x="1020.5" fill="#9b9bff"/><rect x="1024.5" fill="#9f9fff"/><rect x="1028.5" fill="#a2a2ff"/><rect x="1032.5" fill="#a5a5ff"/><rect x="1036.5" fill="#a7a7ff"/><rect x="1040.5" fill="#a9a9ff"/><rect x="1044.5" fill="#aaaaff"/><rect x="1048.5" fill="#acacff"/><rect x="1052.5" fill="#acacff"/><rect x="1056.5" fill="#adadff"/></g><g transform="translate(0 327.5)"><rect x="872.5" fill="#acacff"/><rect x="876.5" fill="#ababff"/><rect x="880.5" fill="#aaaaff"/><rect x="884.5" fill="#a9a9ff"/><rect x="888.5" fill="#a7a7ff"/><rect x="892.5" fill="#a5a5ff"/><rect x="896.5" fill="#a3a3ff"/><rect x="900.5" fill="#a0a0ff"/><rect x="904.5" fill="#9d9dff"/><rect x="908.5" fill="#9999ff"/><rect x="912.5" fill="#9595ff"/><rect x="916.5" fill="#9090ff"/><rect x="920.5" fill="#8c8cff"/><rect x="924.5" fill="#8686ff"/><rect x="928.5" fill="#8181ff"/><rect x="932.5" fill="#7c7cff"/><rect x="936.5" fill="#7777ff"/><rect x="940.5" fill="#7272ff"/><rect x="944.5" fill="#6d6dff"/><rect x="948.5" fill="#6969ff"/><rect x="952.5" fill="#6565ff"/><rect x="956.5" fill="#6363ff"/><rect x="960.5" fill="#6262ff"/><rect x="964.5" fill="#6262ff"/><rect x="968.5" fill="#6262ff"/><rect x="972.5" fill="#6565ff"/><rect x="976.5" fill="#6868ff"/><rect x="980.5" fill="#6b6bff"/><rect x="984.5" fill="#7070ff"/><rect x="988.5" fill="#7575ff"/><rect x="992.5" fill="#7a7aff"/><rect x="996.5" fill="#7f7fff"/><rect x="1000.5" fill="#8585ff"/><rect x="1004.5" fill="#8a8aff"/><rect x="1008.5" fill="#8f8fff"/><rect x="1012.5" fill="#9393ff"/><rect x="1016.5" fill="#9898ff"/><rect x="1020.5" fill="#9c9cff"/><rect x="1024.5" fill="#9f9fff"/><rect x="1028.5" fill="#a2a2ff"/><rect x="1032.5" fill="#a5a5ff"/><rect x="1036.5" fill="#a7a7ff"/><rect x="1040.5" fill="#a9a9ff"/><rect x="1044.5" fill="#aaaaff"/><rect x="1048.5" fill="#ababff"/><rect x="1052.5" fill="#acacff"/><rect x="1056.5" fill="#adadff"/></g><g transform="translate(0 331.5)"><rect x="872.5" fill="#ababff"/><rect x="876.5" fill="#ababff"/><rect x="880.5" fill="#aaaaff"/><rect x="884.5" fill="#a8a8ff"/><rect x="888.5" fill="#a7a7ff"/><rect x="892.5" fill="#a5a5ff"/><rect x="896.5" fill="#a3a3ff"/><rect x="900.5" fill="#a0a0ff"/><rect x="904.5" fill="#9d9dff"/><rect x="908.5" fill="#9a9aff"/><rect x="912.5" fill="#9696ff"/><rect x="916.5" fill="#9191ff"/><rect x="920.5" fill="#8d8dff"/><rect x="924.5" fill="#8888ff"/><rect x="928.5" fill="#8383ff"/><rect x="932.5" fill="#7e7eff"/><rect x="936.5" fill="#7979ff"/><rect x="940.5" fill="#7474ff"/><rect x="944.5" fill="#7070ff"/><rect x="948.5" fill="#6c6cff"/><rect x="952.5" fill="#6969ff"/><rect x="956.5" fill="#6767ff"/><rect x="960.5" fill="#6666ff"/><rect x="964.5" fill="#6565ff"/><rect x="968.5" fill="#6666ff"/><rect x="972.5" fill="#6868ff"/><rect x="976.5" fill="#6b6bff"/><rect x="980.5" fill="#6f6fff"/><rect x="984.5" fill="#7373ff"/><rect x="988.5" fill="#7878ff"/><rect x="992.5" fill="#7c7cff"/><rect x="996.5" fill="#8181ff"/><rect x="1000.5" fill="#8686ff"/><rect x="1004.5" fill="#8b8bff"/><rect x="1008.5" fill="#9090ff"/><rect x="1012.5" fill="#9494ff"/><rect x="1016.5" fill="#9898ff"/><rect x="1020.5" fill="#9c9cff"/><rect x="1024.5" fill="#9f9fff"/><rect x="1028.5" fill="#a2a2ff"/><rect x="1032.5" fill="#a5a5ff"/><rect x="1036.5" fill="#a7a7ff"/><rect x="1040.5" fill="#a8a8ff"/><rect x="1044.5" fill="#aaaaff"/><rect x="1048.5" fill="#ababff"/><rect x="1052.5" fill="#acacff"/><rect x="1056.5" fill="#adadff"/></g></g></g></g><rect x="851" y="47.5" width="1" height="533.0" fill="#fff"/><rect x="1048" y="47.5" width="1" height="533.0" fill="#fff"/></g><clipPath id="c2"><rect x="699.5" y="47.5" width="533.0" height="533.0"/></clipPath><g clip-path="url(#c2)"><path d="M699.5 316.2H1232.5" stroke="#d01818" stroke-width="1.5" stroke-dasharray="5.5 6.5" stroke-linecap="round" fill="none"/><path d="M921.7 580.5V47.5" stroke="#006400" stroke-width="1.5" stroke-dasharray="5.5 6.5" stroke-linecap="round" fill="none"/><path d="M1008.7 580.5V47.5" stroke="#006400" stroke-width="1.5" stroke-dasharray="5.5 6.5" stroke-linecap="round" fill="none"/></g>
<rect x="699.5" y="47.5" width="533.0" height="533.0" fill="none" stroke="#000" stroke-opacity="0.55" stroke-width="1"/>
<clipPath id="c3"><rect x="59.5" y="687.5" width="533.0" height="533.0"/></clipPath><g clip-path="url(#c3)"><path d="M79.0 1200.3 79.5 1200.2 80.0 1200.1 80.5 1200.1 81.0 1200.0 81.5 1199.9 82.0 1199.9 82.5 1199.8 83.0 1199.7 83.5 1199.7 84.0 1199.6 84.5 1199.6 85.0 1199.5 85.5 1199.5 86.0 1199.4 86.5 1199.4 87.0 1199.3 87.5 1199.3 88.0 1199.3 88.5 1199.2 89.0 1199.2 89.5 1199.2 90.0 1199.2 90.5 1199.1 91.0 1199.1 91.5 1199.1 92.0 1199.1 92.5 1199.1 93.0 1199.0 93.5 1199.0 94.0 1199.0 94.5 1199.0 95.0 1199.0 95.5 1199.0 96.0 1199.0 96.5 1199.0 97.0 1199.0 97.5 1199.0 98.0 1199.0 98.5 1198.9 99.0 1198.9 99.5 1198.9 100.0 1198.9 100.5 1198.9 101.0 1198.9 101.5 1198.9 102.0 1198.9 102.5 1198.9 103.0 1198.9 103.5 1198.9 104.0 1198.9 104.5 1198.9 105.0 1198.9 105.5 1198.9 106.0 1198.9 106.5 1198.9 107.0 1198.9 107.5 1198.9 108.0 1198.9 108.5 1198.8 109.0 1198.8 109.5 1198.8 110.0 1198.8 110.5 1198.8 111.0 1198.8 111.5 1198.7 112.0 1198.7 112.5 1198.7 113.0 1198.7 113.5 1198.7 114.0 1198.6 114.5 1198.6 115.0 1198.6 115.5 1198.5 116.0 1198.5 116.5 1198.4 117.0 1198.4 117.5 1198.4 118.0 1198.3 118.5 1198.3 119.0 1198.2 119.5 1198.1 120.0 1198.1 120.5 1198.0 121.0 1198.0 121.5 1197.9 122.0 1197.8 122.5 1197.7 123.0 1197.7 123.5 1197.6 124.0 1197.5 124.5 1197.4 125.0 1197.3 125.5 1197.2 126.0 1197.1 126.5 1197.0 127.0 1196.9 127.5 1196.8 128.0 1196.7 128.5 1196.5 129.0 1196.4 129.5 1196.3 130.0 1196.1 130.5 1196.0 131.0 1195.9 131.5 1195.7 132.0 1195.5 132.5 1195.4 133.0 1195.2 133.5 1195.0 134.0 1194.9 134.5 1194.7 135.0 1194.5 135.5 1194.3 136.0 1194.1 136.5 1193.9 137.0 1193.7 137.5 1193.5 138.0 1193.2 138.5 1193.0 139.0 1192.8 139.5 1192.5 140.0 1192.3 140.5 1192.0 141.0 1191.8 141.5 1191.5 142.0 1191.2 142.5 1191.0 143.0 1190.7 143.5 1190.4 144.0 1190.1 144.5 1189.8 145.0 1189.5 145.5 1189.1 146.0 1188.8 146.5 1188.5 147.0 1188.1 147.5 1187.8 148.0 1187.4 148.5 1187.0 149.0 1186.7 149.5 1186.3 150.0 1185.9 150.5 1185.5 151.0 1185.1 151.5 1184.7 152.0 1184.2 152.5 1183.8 153.0 1183.4 153.5 1182.9 154.0 1182.5 154.5 1182.0 155.0 1181.5 155.5 1181.0 156.0 1180.5 156.5 1180.0 157.0 1179.5 157.5 1179.0 158.0 1178.5 158.5 1177.9 159.0 1177.4 159.5 1176.8 160.0 1176.3 160.5 1175.7 161.0 1175.1 161.5 1174.5 162.0 1173.9 162.5 1173.3 163.0 1172.6 163.5 1172.0 164.0 1171.4 164.5 1170.7 165.0 1170.0 165.5 1169.3 166.0 1168.6 166.5 1167.9 167.0 1167.2 167.5 1166.5 168.0 1165.7 168.5 1165.0 169.0 1164.2 169.5 1163.4 170.0 1162.6 170.5 1161.8 171.0 1161.0 171.5 1160.1 172.0 1159.3 172.5 1158.4 173.0 1157.5 173.5 1156.6 174.0 1155.6 174.5 1154.7 175.0 1153.7 175.5 1152.7 176.0 1151.7 176.5 1150.7 177.0 1149.6 177.5 1148.5 178.0 1147.4 178.5 1146.3 179.0 1145.2 179.5 1144.0 180.0 1142.9 180.5 1141.6 181.0 1140.4 181.5 1139.2 182.0 1137.9 182.5 1136.6 183.0 1135.3 183.5 1133.9 184.0 1132.5 184.5 1131.1 185.0 1129.7 185.5 1128.2 186.0 1126.8 186.5 1125.2 187.0 1123.7 187.5 1122.1 188.0 1120.5 188.5 1118.9 189.0 1117.3 189.5 1115.6 190.0 1113.9 190.5 1112.1 191.0 1110.3 191.5 1108.5 192.0 1106.7 192.5 1104.8 193.0 1102.9 193.5 1100.9 194.0 1099.0 194.5 1097.0 195.0 1094.9 195.5 1092.8 196.0 1090.7 196.5 1088.6 197.0 1086.4 197.5 1084.2 198.0 1081.9 198.5 1079.6 199.0 1077.3 199.5 1075.0 200.0 1072.6 200.5 1070.1 201.0 1067.7 201.5 1065.2 202.0 1062.6 202.5 1060.0 203.0 1057.4 203.5 1054.8 204.0 1052.1 204.5 1049.3 205.0 1046.6 205.5 1043.8 206.0 1040.9 206.5 1038.0 207.0 1035.1 207.5 1032.1 208.0 1029.1 208.5 1026.1 209.0 1023.1 209.5 1020.0 210.0 1016.9 210.5 1013.8 211.0 1010.8 211.5 1007.7 212.0 1004.7 212.5 1001.7 213.0 998.7 213.5 995.7 214.0 992.8 214.5 989.8 215.0 986.8 215.5 983.8 216.0 980.8 216.5 977.8 217.0 974.8 217.5 971.7 218.0 968.6 218.5 965.5 219.0 962.3 219.5 959.2 220.0 956.0 220.5 952.7 221.0 949.5 221.5 946.2 222.0 943.0 222.5 939.7 223.0 936.4 223.5 933.1 224.0 929.8 224.5 926.5 225.0 923.2 225.5 920.0 226.0 916.7 226.5 913.5 227.0 910.2 227.5 907.0 228.0 903.9 228.5 900.7 229.0 897.6 229.5 894.5 230.0 891.5 230.5 888.5 231.0 885.5 231.5 882.6 232.0 879.7 232.5 876.9 233.0 874.2 233.5 871.5 234.0 868.8 234.5 866.2 235.0 863.6 235.5 861.0 236.0 858.5 236.5 856.0 237.0 853.6 237.5 851.2 238.0 848.8 238.5 846.4 239.0 844.1 239.5 841.8 240.0 839.5 240.5 837.3 241.0 835.1 241.5 832.9 242.0 830.7 242.5 828.5 243.0 826.4 243.5 824.3 244.0 822.2 244.5 820.1 245.0 818.1 245.5 816.1 246.0 814.1 246.5 812.1 247.0 810.2 247.5 808.2 248.0 806.3 248.5 804.4 249.0 802.5 249.5 800.7 250.0 798.8 250.5 797.0 251.0 795.2 251.5 793.4 252.0 791.7 252.5 789.9 253.0 788.2 253.5 786.5 254.0 784.8 254.5 783.1 255.0 781.4 255.5 779.8 256.0 778.1 256.5 776.5 257.0 774.9 257.5 773.3 258.0 771.7 258.5 770.1 259.0 768.6 259.5 767.0 260.0 765.5 260.5 764.0 261.0 762.5 261.5 761.0 262.0 759.5 262.5 758.1 263.0 756.7 263.5 755.2 264.0 753.8 264.5 752.5 265.0 751.1 265.5 749.8 266.0 748.4 266.5 747.1 267.0 745.8 267.5 744.6 268.0 743.3 268.5 742.1 269.0 740.9 269.5 739.7 270.0 738.6 270.5 737.4 271.0 736.3 271.5 735.3 272.0 734.2 272.5 733.2 273.0 732.1 273.5 731.2 274.0 730.2 274.5 729.3 275.0 728.4 275.5 727.5 276.0 726.6 276.5 725.8 277.0 725.0 277.5 724.3 278.0 723.5 278.5 722.8 279.0 722.1 279.5 721.5 280.0 720.9 280.5 720.3 281.0 719.7 281.5 719.2 282.0 718.7 282.5 718.3 283.0 717.8 283.5 717.4 284.0 717.0 284.5 716.7 285.0 716.3 285.5 716.0 286.0 715.8 286.5 715.5 287.0 715.3 287.5 715.1 288.0 714.9 288.5 714.7 289.0 714.6 289.5 714.5 290.0 714.4 290.5 714.3 291.0 714.2 291.5 714.2 292.0 714.1 292.5 714.1 293.0 714.1 293.5 714.2 294.0 714.2 294.5 714.3 295.0 714.3 295.5 714.4 296.0 714.5 296.5 714.6 297.0 714.7 297.5 714.8 298.0 715.0 298.5 715.1 299.0 715.3 299.5 715.5 300.0 715.6 300.5 715.8 301.0 716.0 301.5 716.2 302.0 716.4 302.5 716.6 303.0 716.8 303.5 717.1 304.0 717.3 304.5 717.5 305.0 717.7 305.5 718.0 306.0 718.2 306.5 718.4 307.0 718.7 307.5 718.9 308.0 719.1 308.5 719.4 309.0 719.6 309.5 719.8 310.0 720.0 310.5 720.3 311.0 720.5 311.5 720.7 312.0 720.9 312.5 721.1 313.0 721.3 313.5 721.4 314.0 721.6 314.5 721.8 315.0 721.9 315.5 722.1 316.0 722.2 316.5 722.3 317.0 722.5 317.5 722.6 318.0 722.6 318.5 722.7 319.0 722.8 319.5 722.8 320.0 722.9 320.5 722.9 321.0 722.9 321.5 722.9 322.0 722.8 322.5 722.8 323.0 722.7 323.5 722.6 324.0 722.5 324.5 722.4 325.0 722.3 325.5 722.1 326.0 722.0 326.5 721.8 327.0 721.6 327.5 721.5 328.0 721.3 328.5 721.0 329.0 720.8 329.5 720.6 330.0 720.3 330.5 720.1 331.0 719.8 331.5 719.5 332.0 719.3 332.5 719.0 333.0 718.7 333.5 718.4 334.0 718.1 334.5 717.7 335.0 717.4 335.5 717.1 336.0 716.8 336.5 716.4 337.0 716.1 337.5 715.7 338.0 715.4 338.5 715.0 339.0 714.7 339.5 714.4 340.0 714.0 340.5 713.7 341.0 713.3 341.5 713.0 342.0 712.7 342.5 712.4 343.0 712.1 343.5 711.8 344.0 711.5 344.5 711.3 345.0 711.0 345.5 710.8 346.0 710.5 346.5 710.3 347.0 710.1 347.5 710.0 348.0 709.8 348.5 709.7 349.0 709.6 349.5 709.5 350.0 709.5 350.5 709.4 351.0 709.4 351.5 709.4 352.0 709.5 352.5 709.6 353.0 709.7 353.5 709.8 354.0 710.0 354.5 710.2 355.0 710.5 355.5 710.7 356.0 711.1 356.5 711.4 357.0 711.8 357.5 712.2 358.0 712.7 358.5 713.2 359.0 713.7 359.5 714.3 360.0 715.0 360.5 715.6 361.0 716.3 361.5 717.1 362.0 717.9 362.5 718.7 363.0 719.6 363.5 720.6 364.0 721.6 364.5 722.6 365.0 723.7 365.5 724.8 366.0 726.0 366.5 727.2 367.0 728.5 367.5 729.9 368.0 731.3 368.5 732.7 369.0 734.2 369.5 735.8 370.0 737.4 370.5 739.0 371.0 740.7 371.5 742.4 372.0 744.1 372.5 745.9 373.0 747.7 373.5 749.6 374.0 751.5 374.5 753.4 375.0 755.3 375.5 757.2 376.0 759.1 376.5 761.1 377.0 763.1 377.5 765.0 378.0 767.0 378.5 769.0 379.0 771.0 379.5 773.0 380.0 775.0 380.5 777.0 381.0 779.0 381.5 781.0 382.0 783.1 382.5 785.1 383.0 787.1 383.5 789.1 384.0 791.1 384.5 793.1 385.0 795.1 385.5 797.1 386.0 799.1 386.5 801.0 387.0 803.0 387.5 805.0 388.0 806.9 388.5 808.8 389.0 810.8 389.5 812.7 390.0 814.5 390.5 816.4 391.0 818.3 391.5 820.1 392.0 821.9 392.5 823.7 393.0 825.5 393.5 827.2 394.0 828.9 394.5 830.6 395.0 832.3 395.5 834.0 396.0 835.6 396.5 837.2 397.0 838.7 397.5 840.3 398.0 841.8 398.5 843.2 399.0 844.7 399.5 846.1 400.0 847.4 400.5 848.8 401.0 850.1 401.5 851.3 402.0 852.5 402.5 853.7 403.0 854.8 403.5 855.9 404.0 856.9 404.5 857.9 405.0 858.9 405.5 859.8 406.0 860.6 406.5 861.5 407.0 862.2 407.5 862.9 408.0 863.6 408.5 864.2 409.0 864.7 409.5 865.2 410.0 865.7 410.5 866.1 411.0 866.4 411.5 866.7 412.0 866.9 412.5 867.1 413.0 867.3 413.5 867.3 414.0 867.4 414.5 867.3 415.0 867.3 415.5 867.1 416.0 867.0 416.5 866.7 417.0 866.5 417.5 866.1 418.0 865.8 418.5 865.3 419.0 864.9 419.5 864.3 420.0 863.7 420.5 863.1 421.0 862.4 421.5 861.7 422.0 860.9 422.5 860.1 423.0 859.2 423.5 858.3 424.0 857.3 424.5 856.3 425.0 855.2 425.5 854.1 426.0 852.9 426.5 851.7 427.0 850.4 427.5 849.1 428.0 847.7 428.5 846.3 429.0 844.8 429.5 843.3 430.0 841.7 430.5 840.1 431.0 838.5 431.5 836.8 432.0 835.0 432.5 833.2 433.0 831.4 433.5 829.5 434.0 827.5 434.5 825.6 435.0 823.5 435.5 821.4 436.0 819.3 436.5 817.1 437.0 814.9 437.5 812.7 438.0 810.3 438.5 808.0 439.0 805.6 439.5 803.1 440.0 800.7 440.5 798.1 441.0 795.6 441.5 793.0 442.0 790.4 442.5 787.8 443.0 785.1 443.5 782.5 444.0 779.8 444.5 777.2 445.0 774.5 445.5 771.8 446.0 769.1 446.5 766.5 447.0 763.8 447.5 761.2 448.0 758.6 448.5 756.0 449.0 753.4 449.5 750.9 450.0 748.4 450.5 745.9 451.0 743.5 451.5 741.1 452.0 738.8 452.5 736.5 453.0 734.3 453.5 732.1 454.0 730.0 454.5 728.0 455.0 726.1 455.5 724.2 456.0 722.4 456.5 720.7 457.0 719.1 457.5 717.6 458.0 716.2 458.5 714.9 459.0 713.7 459.5 712.6 460.0 711.6 460.5 710.7 461.0 710.0 461.5 709.3 462.0 708.7 462.5 708.3 463.0 707.9 463.5 707.7 464.0 707.6 464.5 707.6 465.0 707.7 465.5 708.0 466.0 708.3 466.5 708.8 467.0 709.4 467.5 710.2 468.0 711.0 468.5 712.0 469.0 713.1 469.5 714.3 470.0 715.7 470.5 717.1 471.0 718.8 471.5 720.5 472.0 722.4 472.5 724.4 473.0 726.5 473.5 728.8 474.0 731.2 474.5 733.6 475.0 736.2 475.5 738.9 476.0 741.6 476.5 744.5 477.0 747.4 477.5 750.3 478.0 753.4 478.5 756.4 479.0 759.6 479.5 762.7 480.0 765.9 480.5 769.2 481.0 772.4 481.5 775.8 482.0 779.1 482.5 782.5 483.0 785.9 483.5 789.4 484.0 792.9 484.5 796.5 485.0 800.0 485.5 803.6 486.0 807.3 486.5 811.0 487.0 814.7 487.5 818.5 488.0 822.3 488.5 826.1 489.0 830.0 489.5 833.9 490.0 837.9 490.5 841.9 491.0 845.9 491.5 850.0 492.0 854.1 492.5 858.2 493.0 862.4 493.5 866.6 494.0 870.9 494.5 875.1 495.0 879.5 495.5 883.8 496.0 888.2 496.5 892.6 497.0 897.0 497.5 901.4 498.0 905.9 498.5 910.4 499.0 914.9 499.5 919.4 500.0 924.0 500.5 928.7 501.0 933.4 501.5 938.2 502.0 943.1 502.5 948.1 503.0 953.2 503.5 958.4 504.0 963.8 504.5 969.3 505.0 974.8 505.5 980.4 506.0 985.9 506.5 991.5 507.0 997.0 507.5 1002.5 508.0 1007.8 508.5 1013.1 509.0 1018.2 509.5 1023.2 510.0 1028.1 510.5 1032.8 511.0 1037.3 511.5 1041.6 512.0 1045.7 512.5 1049.6 513.0 1053.3 513.5 1057.0 514.0 1060.5 514.5 1063.9 515.0 1067.3 515.5 1070.6 516.0 1073.8 516.5 1077.1 517.0 1080.4 517.5 1083.6 518.0 1086.9 518.5 1090.1 519.0 1093.3 519.5 1096.5 520.0 1099.7 520.5 1102.8 521.0 1105.9 521.5 1109.0 522.0 1112.0 522.5 1115.0 523.0 1117.9 523.5 1120.8 524.0 1123.7 524.5 1126.5 525.0 1129.2 525.5 1131.8 526.0 1134.4 526.5 1136.9 527.0 1139.3 527.5 1141.7 528.0 1144.0 528.5 1146.2 529.0 1148.4 529.5 1150.4 530.0 1152.5 530.5 1154.4 531.0 1156.3 531.5 1158.2 532.0 1159.9 532.5 1161.7 533.0 1163.3 533.5 1164.9 534.0 1166.5 534.5 1168.0 535.0 1169.5 535.5 1170.9 536.0 1172.2 536.5 1173.5 537.0 1174.8 537.5 1176.0 538.0 1177.2 538.5 1178.4 539.0 1179.5 539.5 1180.6 540.0 1181.6 540.5 1182.6 541.0 1183.6 541.5 1184.5 542.0 1185.4 542.5 1186.2 543.0 1187.1 543.5 1187.9 544.0 1188.6 544.5 1189.4 545.0 1190.1 545.5 1190.8 546.0 1191.4 546.5 1192.0 547.0 1192.6 547.5 1193.2 548.0 1193.7 548.5 1194.3 549.0 1194.7 549.5 1195.2 550.0 1195.7 550.5 1196.1 551.0 1196.5 551.5 1196.8 552.0 1197.2 552.5 1197.5 553.0 1197.8 553.5 1198.1 554.0 1198.4 554.5 1198.6 555.0 1198.9 555.5 1199.1 556.0 1199.3 556.5 1199.5 557.0 1199.6 557.5 1199.8 558.0 1199.9 558.5 1200.0 559.0 1200.1 559.5 1200.2 560.0 1200.3 560.5 1200.4 561.0 1200.4 561.5 1200.4 562.0 1200.4 562.5 1200.4 563.0 1200.4 563.5 1200.4 564.0 1200.4 564.5 1200.4 565.0 1200.4 565.5 1200.4 566.0 1200.4 566.5 1200.4 567.0 1200.4 567.5 1200.4 568.0 1200.4 568.5 1200.4 569.0 1200.4 569.5 1200.4 570.0 1200.4 570.5 1200.3 571.0 1200.3 571.5 1200.3 572.0 1200.2 572.5 1200.2Z" fill="#f5deb3" stroke="#000" stroke-width="1.25" stroke-linejoin="round"/><path d="M324.2 1220.5V687.5" stroke="#c80c0c" stroke-width="1.5" stroke-dasharray="5.5 6.5" stroke-linecap="round" fill="none"/></g>
<rect x="59.5" y="687.5" width="533.0" height="533.0" fill="none" stroke="#000" stroke-opacity="0.55" stroke-width="1"/>
<clipPath id="c4"><rect x="699.5" y="687.5" width="533.0" height="533.0"/></clipPath><g clip-path="url(#c4)"><path d="M719.1 1200.4 719.6 1200.3 720.1 1200.2 720.6 1200.1 721.1 1200.0 721.6 1200.0 722.1 1199.9 722.6 1199.8 723.1 1199.8 723.6 1199.7 724.1 1199.6 724.6 1199.6 725.1 1199.5 725.6 1199.4 726.1 1199.3 726.6 1199.2 727.1 1199.1 727.6 1199.0 728.1 1198.8 728.6 1198.7 729.1 1198.6 729.6 1198.4 730.1 1198.2 730.6 1198.0 731.1 1197.8 731.6 1197.5 732.1 1197.3 732.6 1197.0 733.1 1196.7 733.6 1196.3 734.1 1196.0 734.6 1195.6 735.1 1195.2 735.6 1194.7 736.1 1194.2 736.6 1193.7 737.1 1193.2 737.6 1192.6 738.1 1192.0 738.6 1191.4 739.1 1190.7 739.6 1190.0 740.1 1189.2 740.6 1188.4 741.1 1187.6 741.6 1186.7 742.1 1185.7 742.6 1184.8 743.1 1183.7 743.6 1182.7 744.1 1181.5 744.6 1180.4 745.1 1179.2 745.6 1178.0 746.1 1176.7 746.6 1175.4 747.1 1174.0 747.6 1172.6 748.1 1171.2 748.6 1169.7 749.1 1168.2 749.6 1166.6 750.1 1165.1 750.6 1163.4 751.1 1161.8 751.6 1160.1 752.1 1158.4 752.6 1156.7 753.1 1154.9 753.6 1153.1 754.1 1151.3 754.6 1149.5 755.1 1147.7 755.6 1145.9 756.1 1144.1 756.6 1142.3 757.1 1140.6 757.6 1138.8 758.1 1137.1 758.6 1135.3 759.1 1133.7 759.6 1132.0 760.1 1130.4 760.6 1128.9 761.1 1127.3 761.6 1125.9 762.1 1124.5 762.6 1123.1 763.1 1121.8 763.6 1120.5 764.1 1119.3 764.6 1118.2 765.1 1117.0 765.6 1116.0 766.1 1114.9 766.6 1114.0 767.1 1113.0 767.6 1112.1 768.1 1111.3 768.6 1110.4 769.1 1109.7 769.6 1108.9 770.1 1108.2 770.6 1107.6 771.1 1107.0 771.6 1106.4 772.1 1105.8 772.6 1105.3 773.1 1104.8 773.6 1104.4 774.1 1104.0 774.6 1103.6 775.1 1103.2 775.6 1102.9 776.1 1102.6 776.6 1102.3 777.1 1102.1 777.6 1101.8 778.1 1101.6 778.6 1101.4 779.1 1101.3 779.6 1101.1 780.1 1101.0 780.6 1100.9 781.1 1100.8 781.6 1100.8 782.1 1100.7 782.6 1100.7 783.1 1100.6 783.6 1100.6 784.1 1100.6 784.6 1100.6 785.1 1100.6 785.6 1100.6 786.1 1100.6 786.6 1100.7 787.1 1100.7 787.6 1100.7 788.1 1100.8 788.6 1100.8 789.1 1100.8 789.6 1100.9 790.1 1100.9 790.6 1100.9 791.1 1101.0 791.6 1101.0 792.1 1101.0 792.6 1101.0 793.1 1101.0 793.6 1100.9 794.1 1100.9 794.6 1100.9 795.1 1100.8 795.6 1100.8 796.1 1100.7 796.6 1100.6 797.1 1100.5 797.6 1100.4 798.1 1100.3 798.6 1100.2 799.1 1100.1 799.6 1100.0 800.1 1099.9 800.6 1099.8 801.1 1099.6 801.6 1099.5 802.1 1099.4 802.6 1099.3 803.1 1099.1 803.6 1099.0 804.1 1098.9 804.6 1098.8 805.1 1098.6 805.6 1098.5 806.1 1098.4 806.6 1098.3 807.1 1098.2 807.6 1098.1 808.1 1098.0 808.6 1097.9 809.1 1097.9 809.6 1097.8 810.1 1097.7 810.6 1097.7 811.1 1097.7 811.6 1097.6 812.1 1097.6 812.6 1097.6 813.1 1097.6 813.6 1097.7 814.1 1097.7 814.6 1097.8 815.1 1097.8 815.6 1097.9 816.1 1098.0 816.6 1098.1 817.1 1098.3 817.6 1098.4 818.1 1098.5 818.6 1098.7 819.1 1098.9 819.6 1099.0 820.1 1099.2 820.6 1099.4 821.1 1099.6 821.6 1099.8 822.1 1100.0 822.6 1100.2 823.1 1100.4 823.6 1100.6 824.1 1100.8 824.6 1101.0 825.1 1101.2 825.6 1101.4 826.1 1101.6 826.6 1101.8 827.1 1102.0 827.6 1102.1 828.1 1102.3 828.6 1102.5 829.1 1102.7 829.6 1102.8 830.1 1103.0 830.6 1103.1 831.1 1103.2 831.6 1103.4 832.1 1103.5 832.6 1103.6 833.1 1103.6 833.6 1103.7 834.1 1103.8 834.6 1103.8 835.1 1103.8 835.6 1103.9 836.1 1103.9 836.6 1103.9 837.1 1103.9 837.6 1103.8 838.1 1103.8 838.6 1103.8 839.1 1103.7 839.6 1103.7 840.1 1103.6 840.6 1103.5 841.1 1103.4 841.6 1103.4 842.1 1103.3 842.6 1103.2 843.1 1103.1 843.6 1103.0 844.1 1102.9 844.6 1102.7 845.1 1102.6 845.6 1102.5 846.1 1102.4 846.6 1102.3 847.1 1102.1 847.6 1102.0 848.1 1101.9 848.6 1101.8 849.1 1101.7 849.6 1101.5 850.1 1101.4 850.6 1101.3 851.1 1101.2 851.6 1101.1 852.1 1100.9 852.6 1100.8 853.1 1100.7 853.6 1100.6 854.1 1100.5 854.6 1100.3 855.1 1100.2 855.6 1100.1 856.1 1100.0 856.6 1099.8 857.1 1099.7 857.6 1099.6 858.1 1099.5 858.6 1099.3 859.1 1099.2 859.6 1099.1 860.1 1098.9 860.6 1098.8 861.1 1098.7 861.6 1098.5 862.1 1098.4 862.6 1098.3 863.1 1098.1 863.6 1098.0 864.1 1097.8 864.6 1097.7 865.1 1097.5 865.6 1097.4 866.1 1097.2 866.6 1097.1 867.1 1096.9 867.6 1096.7 868.1 1096.6 868.6 1096.4 869.1 1096.2 869.6 1096.0 870.1 1095.9 870.6 1095.7 871.1 1095.5 871.6 1095.3 872.1 1095.1 872.6 1094.9 873.1 1094.7 873.6 1094.5 874.1 1094.3 874.6 1094.1 875.1 1093.8 875.6 1093.6 876.1 1093.4 876.6 1093.1 877.1 1092.9 877.6 1092.7 878.1 1092.4 878.6 1092.2 879.1 1091.9 879.6 1091.6 880.1 1091.4 880.6 1091.1 881.1 1090.8 881.6 1090.5 882.1 1090.3 882.6 1090.0 883.1 1089.7 883.6 1089.4 884.1 1089.0 884.6 1088.7 885.1 1088.4 885.6 1088.1 886.1 1087.7 886.6 1087.4 887.1 1087.0 887.6 1086.7 888.1 1086.3 888.6 1085.9 889.1 1085.6 889.6 1085.2 890.1 1084.8 890.6 1084.4 891.1 1084.0 891.6 1083.6 892.1 1083.2 892.6 1082.7 893.1 1082.3 893.6 1081.8 894.1 1081.4 894.6 1080.9 895.1 1080.5 895.6 1080.0 896.1 1079.5 896.6 1079.0 897.1 1078.5 897.6 1078.0 898.1 1077.5 898.6 1077.0 899.1 1076.4 899.6 1075.9 900.1 1075.3 900.6 1074.8 901.1 1074.2 901.6 1073.6 902.1 1073.0 902.6 1072.4 903.1 1071.8 903.6 1071.2 904.1 1070.5 904.6 1069.8 905.1 1069.1 905.6 1068.4 906.1 1067.7 906.6 1066.9 907.1 1066.1 907.6 1065.3 908.1 1064.5 908.6 1063.6 909.1 1062.7 909.6 1061.8 910.1 1060.8 910.6 1059.8 911.1 1058.8 911.6 1057.8 912.1 1056.7 912.6 1055.5 913.1 1054.4 913.6 1053.2 914.1 1051.9 914.6 1050.6 915.1 1049.3 915.6 1047.9 916.1 1046.5 916.6 1045.0 917.1 1043.5 917.6 1042.0 918.1 1040.4 918.6 1038.7 919.1 1037.0 919.6 1035.2 920.1 1033.4 920.6 1031.5 921.1 1029.6 921.6 1027.6 922.1 1025.5 922.6 1023.4 923.1 1021.2 923.6 1019.0 924.1 1016.7 924.6 1014.4 925.1 1011.9 925.6 1009.4 926.1 1006.9 926.6 1004.2 927.1 1001.5 927.6 998.8 928.1 995.9 928.6 993.0 929.1 990.0 929.6 986.9 930.1 983.8 930.6 980.5 931.1 977.2 931.6 973.8 932.1 970.4 932.6 966.8 933.1 963.2 933.6 959.5 934.1 955.7 934.6 951.8 935.1 947.8 935.6 943.8 936.1 939.6 936.6 935.4 937.1 931.1 937.6 926.7 938.1 922.2 938.6 917.6 939.1 912.9 939.6 908.1 940.1 903.3 940.6 898.3 941.1 893.3 941.6 888.2 942.1 882.9 942.6 877.6 943.1 872.2 943.6 866.7 944.1 861.2 944.6 855.6 945.1 849.9 945.6 844.2 946.1 838.6 946.6 832.9 947.1 827.2 947.6 821.6 948.1 816.0 948.6 810.4 949.1 805.0 949.6 799.6 950.1 794.3 950.6 789.1 951.1 784.0 951.6 779.1 952.1 774.3 952.6 769.6 953.1 765.1 953.6 760.7 954.1 756.5 954.6 752.5 955.1 748.7 955.6 745.0 956.1 741.6 956.6 738.3 957.1 735.2 957.6 732.2 958.1 729.5 958.6 726.9 959.1 724.4 959.6 722.2 960.1 720.0 960.6 718.1 961.1 716.3 961.6 714.6 962.1 713.1 962.6 711.8 963.1 710.6 963.6 709.5 964.1 708.7 964.6 708.0 965.1 707.4 965.6 707.1 966.1 706.9 966.6 706.8 967.1 707.0 967.6 707.3 968.1 707.8 968.6 708.5 969.1 709.3 969.6 710.4 970.1 711.6 970.6 713.1 971.1 714.7 971.6 716.5 972.1 718.5 972.6 720.7 973.1 723.1 973.6 725.7 974.1 728.5 974.6 731.5 975.1 734.8 975.6 738.2 976.1 741.8 976.6 745.7 977.1 749.7 977.6 753.9 978.1 758.3 978.6 762.8 979.1 767.6 979.6 772.4 980.1 777.5 980.6 782.6 981.1 787.9 981.6 793.3 982.1 798.9 982.6 804.5 983.1 810.2 983.6 816.0 984.1 821.8 984.6 827.6 985.1 833.4 985.6 839.1 986.1 844.8 986.6 850.4 987.1 856.0 987.6 861.5 988.1 866.9 988.6 872.4 989.1 877.8 989.6 883.2 990.1 888.6 990.6 894.0 991.1 899.5 991.6 904.9 992.1 910.3 992.6 915.6 993.1 920.9 993.6 926.0 994.1 931.1 994.6 936.0 995.1 940.7 995.6 945.2 996.1 949.6 996.6 953.8 997.1 957.9 997.6 961.7 998.1 965.5 998.6 969.1 999.1 972.5 999.6 975.8 1000.1 979.0 1000.6 982.1 1001.1 985.1 1001.6 988.0 1002.1 990.7 1002.6 993.4 1003.1 996.0 1003.6 998.5 1004.1 1001.0 1004.6 1003.3 1005.1 1005.7 1005.6 1007.9 1006.1 1010.1 1006.6 1012.3 1007.1 1014.5 1007.6 1016.6 1008.1 1018.7 1008.6 1020.8 1009.1 1022.8 1009.6 1024.9 1010.1 1026.9 1010.6 1028.9 1011.1 1030.9 1011.6 1032.9 1012.1 1034.8 1012.6 1036.7 1013.1 1038.6 1013.6 1040.4 1014.1 1042.3 1014.6 1044.0 1015.1 1045.8 1015.6 1047.5 1016.1 1049.2 1016.6 1050.8 1017.1 1052.4 1017.6 1054.0 1018.1 1055.5 1018.6 1057.0 1019.1 1058.4 1019.6 1059.8 1020.1 1061.1 1020.6 1062.4 1021.1 1063.6 1021.6 1064.8 1022.1 1065.9 1022.6 1066.9 1023.1 1067.9 1023.6 1068.9 1024.1 1069.8 1024.6 1070.7 1025.1 1071.6 1025.6 1072.4 1026.1 1073.2 1026.6 1074.0 1027.1 1074.7 1027.6 1075.4 1028.1 1076.1 1028.6 1076.8 1029.1 1077.4 1029.6 1078.1 1030.1 1078.7 1030.6 1079.4 1031.1 1080.0 1031.6 1080.6 1032.1 1081.3 1032.6 1081.9 1033.1 1082.5 1033.6 1083.1 1034.1 1083.7 1034.6 1084.3 1035.1 1084.9 1035.6 1085.5 1036.1 1086.1 1036.6 1086.6 1037.1 1087.2 1037.6 1087.8 1038.1 1088.4 1038.6 1088.9 1039.1 1089.5 1039.6 1090.0 1040.1 1090.6 1040.6 1091.1 1041.1 1091.7 1041.6 1092.2 1042.1 1092.8 1042.6 1093.3 1043.1 1093.8 1043.6 1094.4 1044.1 1094.9 1044.6 1095.4 1045.1 1096.0 1045.6 1096.5 1046.1 1097.0 1046.6 1097.5 1047.1 1098.1 1047.6 1098.6 1048.1 1099.1 1048.6 1099.5 1049.1 1100.0 1049.6 1100.5 1050.1 1100.9 1050.6 1101.3 1051.1 1101.7 1051.6 1102.1 1052.1 1102.5 1052.6 1102.8 1053.1 1103.1 1053.6 1103.4 1054.1 1103.6 1054.6 1103.9 1055.1 1104.0 1055.6 1104.2 1056.1 1104.3 1056.6 1104.3 1057.1 1104.4 1057.6 1104.4 1058.1 1104.3 1058.6 1104.2 1059.1 1104.1 1059.6 1104.0 1060.1 1103.8 1060.6 1103.6 1061.1 1103.4 1061.6 1103.2 1062.1 1103.0 1062.6 1102.8 1063.1 1102.5 1063.6 1102.3 1064.1 1102.1 1064.6 1101.8 1065.1 1101.6 1065.6 1101.4 1066.1 1101.2 1066.6 1101.1 1067.1 1100.9 1067.6 1100.8 1068.1 1100.6 1068.6 1100.5 1069.1 1100.5 1069.6 1100.4 1070.1 1100.3 1070.6 1100.3 1071.1 1100.2 1071.6 1100.2 1072.1 1100.2 1072.6 1100.2 1073.1 1100.2 1073.6 1100.2 1074.1 1100.3 1074.6 1100.3 1075.1 1100.4 1075.6 1100.4 1076.1 1100.5 1076.6 1100.6 1077.1 1100.6 1077.6 1100.7 1078.1 1100.8 1078.6 1100.9 1079.1 1101.0 1079.6 1101.1 1080.1 1101.3 1080.6 1101.4 1081.1 1101.5 1081.6 1101.6 1082.1 1101.8 1082.6 1101.9 1083.1 1102.0 1083.6 1102.2 1084.1 1102.3 1084.6 1102.4 1085.1 1102.6 1085.6 1102.7 1086.1 1102.8 1086.6 1103.0 1087.1 1103.1 1087.6 1103.2 1088.1 1103.3 1088.6 1103.5 1089.1 1103.6 1089.6 1103.7 1090.1 1103.8 1090.6 1103.9 1091.1 1104.0 1091.6 1104.1 1092.1 1104.2 1092.6 1104.2 1093.1 1104.3 1093.6 1104.4 1094.1 1104.4 1094.6 1104.4 1095.1 1104.5 1095.6 1104.5 1096.1 1104.5 1096.6 1104.5 1097.1 1104.5 1097.6 1104.5 1098.1 1104.4 1098.6 1104.4 1099.1 1104.3 1099.6 1104.2 1100.1 1104.1 1100.6 1104.0 1101.1 1103.9 1101.6 1103.8 1102.1 1103.6 1102.6 1103.5 1103.1 1103.3 1103.6 1103.2 1104.1 1103.0 1104.6 1102.8 1105.1 1102.6 1105.6 1102.5 1106.1 1102.3 1106.6 1102.1 1107.1 1101.8 1107.6 1101.6 1108.1 1101.4 1108.6 1101.2 1109.1 1101.0 1109.6 1100.8 1110.1 1100.6 1110.6 1100.3 1111.1 1100.1 1111.6 1099.9 1112.1 1099.7 1112.6 1099.5 1113.1 1099.3 1113.6 1099.1 1114.1 1098.9 1114.6 1098.7 1115.1 1098.5 1115.6 1098.3 1116.1 1098.1 1116.6 1098.0 1117.1 1097.8 1117.6 1097.7 1118.1 1097.5 1118.6 1097.4 1119.1 1097.3 1119.6 1097.2 1120.1 1097.1 1120.6 1097.0 1121.1 1096.9 1121.6 1096.8 1122.1 1096.7 1122.6 1096.6 1123.1 1096.6 1123.6 1096.5 1124.1 1096.5 1124.6 1096.4 1125.1 1096.4 1125.6 1096.3 1126.1 1096.3 1126.6 1096.3 1127.1 1096.3 1127.6 1096.2 1128.1 1096.2 1128.6 1096.2 1129.1 1096.2 1129.6 1096.2 1130.1 1096.2 1130.6 1096.2 1131.1 1096.2 1131.6 1096.2 1132.1 1096.2 1132.6 1096.2 1133.1 1096.2 1133.6 1096.2 1134.1 1096.2 1134.6 1096.3 1135.1 1096.3 1135.6 1096.3 1136.1 1096.3 1136.6 1096.3 1137.1 1096.3 1137.6 1096.3 1138.1 1096.3 1138.6 1096.3 1139.1 1096.3 1139.6 1096.3 1140.1 1096.3 1140.6 1096.3 1141.1 1096.3 1141.6 1096.3 1142.1 1096.3 1142.6 1096.3 1143.1 1096.3 1143.6 1096.3 1144.1 1096.3 1144.6 1096.3 1145.1 1096.3 1145.6 1096.3 1146.1 1096.4 1146.6 1096.4 1147.1 1096.5 1147.6 1096.5 1148.1 1096.6 1148.6 1096.7 1149.1 1096.8 1149.6 1096.9 1150.1 1097.0 1150.6 1097.2 1151.1 1097.3 1151.6 1097.5 1152.1 1097.7 1152.6 1097.9 1153.1 1098.2 1153.6 1098.4 1154.1 1098.7 1154.6 1099.0 1155.1 1099.4 1155.6 1099.7 1156.1 1100.1 1156.6 1100.5 1157.1 1100.9 1157.6 1101.4 1158.1 1101.9 1158.6 1102.4 1159.1 1103.0 1159.6 1103.6 1160.1 1104.2 1160.6 1104.8 1161.1 1105.5 1161.6 1106.2 1162.1 1106.9 1162.6 1107.7 1163.1 1108.5 1163.6 1109.4 1164.1 1110.2 1164.6 1111.1 1165.1 1112.1 1165.6 1113.1 1166.1 1114.1 1166.6 1115.1 1167.1 1116.2 1167.6 1117.3 1168.1 1118.5 1168.6 1119.7 1169.1 1120.9 1169.6 1122.1 1170.1 1123.4 1170.6 1124.8 1171.1 1126.2 1171.6 1127.6 1172.1 1129.0 1172.6 1130.5 1173.1 1132.0 1173.6 1133.5 1174.1 1135.1 1174.6 1136.7 1175.1 1138.2 1175.6 1139.9 1176.1 1141.5 1176.6 1143.1 1177.1 1144.7 1177.6 1146.4 1178.1 1148.0 1178.6 1149.7 1179.1 1151.3 1179.6 1153.0 1180.1 1154.6 1180.6 1156.2 1181.1 1157.8 1181.6 1159.4 1182.1 1161.0 1182.6 1162.5 1183.1 1164.1 1183.6 1165.6 1184.1 1167.0 1184.6 1168.5 1185.1 1169.9 1185.6 1171.3 1186.1 1172.7 1186.6 1174.0 1187.1 1175.3 1187.6 1176.6 1188.1 1177.9 1188.6 1179.1 1189.1 1180.3 1189.6 1181.4 1190.1 1182.5 1190.6 1183.6 1191.1 1184.7 1191.6 1185.7 1192.1 1186.7 1192.6 1187.6 1193.1 1188.5 1193.6 1189.4 1194.1 1190.2 1194.6 1191.0 1195.1 1191.8 1195.6 1192.5 1196.1 1193.1 1196.6 1193.8 1197.1 1194.4 1197.6 1194.9 1198.1 1195.4 1198.6 1195.9 1199.1 1196.4 1199.6 1196.8 1200.1 1197.2 1200.6 1197.5 1201.1 1197.8 1201.6 1198.2 1202.1 1198.4 1202.6 1198.7 1203.1 1198.9 1203.6 1199.1 1204.1 1199.3 1204.6 1199.4 1205.1 1199.6 1205.6 1199.7 1206.1 1199.8 1206.6 1199.9 1207.1 1200.0 1207.6 1200.1 1208.1 1200.1 1208.6 1200.2 1209.1 1200.2 1209.6 1200.2 1210.1 1200.2 1210.6 1200.3 1211.1 1200.3 1211.6 1200.3 1212.1 1200.3 1212.6 1200.3Z" fill="#f5deb3" stroke="#000" stroke-width="1.25" stroke-linejoin="round"/><path d="M931.0 1220.5V687.5" stroke="#1a7a1a" stroke-width="1.5" stroke-dasharray="5.5 6.5" stroke-linecap="round" fill="none"/><path d="M1000.0 1220.5V687.5" stroke="#1a7a1a" stroke-width="1.5" stroke-dasharray="5.5 6.5" stroke-linecap="round" fill="none"/></g><path d="M1017 703.4H1041.4" stroke="#006400" stroke-width="1.4" stroke-dasharray="2 2.47" fill="none"/><path d="M1017 718.9H1041.4" stroke="#dd5555" stroke-width="1.8" stroke-dasharray="2 2.47" fill="none"/><ellipse cx="1028.9" cy="734.4" rx="3" ry="2.6" fill="#0000ff"/><text x="1052" y="707.8" font-size="12.85">enrichment zone = 81</text><text x="1052" y="723.2" font-size="12.85">motif score threshold = 87.700</text><text x="1052" y="738.6" font-size="12.85">centrality p-val = -4.0569</text>
<rect x="699.5" y="687.5" width="533.0" height="533.0" fill="none" stroke="#000" stroke-opacity="0.55" stroke-width="1"/>
<path d="M126.5 580.5H525.5M126.5 580.5v6M226.5 580.5v6M325.5 580.5v6M425.5 580.5v6M525.5 580.5v6" fill="none" stroke="#000" stroke-opacity="0.55" stroke-width="1"/>
<text x="126.5" y="602.0" text-anchor="middle" font-size="10.67">-400</text>
<text x="226.5" y="602.0" text-anchor="middle" font-size="10.67">-200</text>
<text x="325.5" y="602.0" text-anchor="middle" font-size="10.67">0</text>
<text x="425.5" y="602.0" text-anchor="middle" font-size="10.67">200</text>
<text x="525.5" y="602.0" text-anchor="middle" font-size="10.67">400</text>
<path d="M59.5 574.5V65.5M59.5 574.5h-6M59.5 472.5h-6M59.5 370.5h-6M59.5 269.5h-6M59.5 167.5h-6M59.5 65.5h-6" fill="none" stroke="#000" stroke-opacity="0.55" stroke-width="1"/>
<text transform="translate(44.8 574.5) rotate(-90)" text-anchor="middle" font-size="10.67">75</text>
<text transform="translate(44.8 472.5) rotate(-90)" text-anchor="middle" font-size="10.67">80</text>
<text transform="translate(44.8 370.5) rotate(-90)" text-anchor="middle" font-size="10.67">85</text>
<text transform="translate(44.8 269.5) rotate(-90)" text-anchor="middle" font-size="10.67">90</text>
<text transform="translate(44.8 167.5) rotate(-90)" text-anchor="middle" font-size="10.67">95</text>
<text transform="translate(44.8 65.5) rotate(-90)" text-anchor="middle" font-size="10.67">100</text>
<text x="323.0" y="31.9" text-anchor="middle" font-size="21.6" font-weight="bold">Top hit for each peak</text>
<text x="326.0" y="625.9" text-anchor="middle" font-size="16">Distance to peak summit</text>
<text transform="translate(21.799999999999997 314.0) rotate(-90)" text-anchor="middle" font-size="16">Motif score</text>
<path d="M750.5 580.5H1180.5M750.5 580.5v6M858.5 580.5v6M965.5 580.5v6M1073.5 580.5v6M1180.5 580.5v6" fill="none" stroke="#000" stroke-opacity="0.55" stroke-width="1"/>
<text x="750.5" y="602.0" text-anchor="middle" font-size="10.67">-400</text>
<text x="858.5" y="602.0" text-anchor="middle" font-size="10.67">-200</text>
<text x="965.5" y="602.0" text-anchor="middle" font-size="10.67">0</text>
<text x="1073.5" y="602.0" text-anchor="middle" font-size="10.67">200</text>
<text x="1180.5" y="602.0" text-anchor="middle" font-size="10.67">400</text>
<path d="M699.5 484.5V155.5M699.5 484.5h-6M699.5 375.5h-6M699.5 265.5h-6M699.5 155.5h-6" fill="none" stroke="#000" stroke-opacity="0.55" stroke-width="1"/>
<text transform="translate(684.8 484.5) rotate(-90)" text-anchor="middle" font-size="10.67">80</text>
<text transform="translate(684.8 375.5) rotate(-90)" text-anchor="middle" font-size="10.67">85</text>
<text transform="translate(684.8 265.5) rotate(-90)" text-anchor="middle" font-size="10.67">90</text>
<text transform="translate(684.8 155.5) rotate(-90)" text-anchor="middle" font-size="10.67">95</text>
<text x="966.0" y="31.9" text-anchor="middle" font-size="21.6" font-weight="bold">Density heat map for the top hits</text>
<text x="966.0" y="625.9" text-anchor="middle" font-size="16">Distance to peak summit</text>
<text transform="translate(661.8 314.0) rotate(-90)" text-anchor="middle" font-size="16">Motif score</text>
<path d="M106.5 1220.5H535.5M106.5 1220.5v6M192.5 1220.5v6M278.5 1220.5v6M363.5 1220.5v6M449.5 1220.5v6M535.5 1220.5v6" fill="none" stroke="#000" stroke-opacity="0.55" stroke-width="1"/>
<text x="106.5" y="1242.0" text-anchor="middle" font-size="10.67">75</text>
<text x="192.5" y="1242.0" text-anchor="middle" font-size="10.67">80</text>
<text x="278.5" y="1242.0" text-anchor="middle" font-size="10.67">85</text>
<text x="363.5" y="1242.0" text-anchor="middle" font-size="10.67">90</text>
<text x="449.5" y="1242.0" text-anchor="middle" font-size="10.67">95</text>
<text x="535.5" y="1242.0" text-anchor="middle" font-size="10.67">100</text>
<path d="M59.5 1200.5V744.5M59.5 1200.5h-6M59.5 1124.5h-6M59.5 1048.5h-6M59.5 972.5h-6M59.5 896.5h-6M59.5 820.5h-6M59.5 744.5h-6" fill="none" stroke="#000" stroke-opacity="0.55" stroke-width="1"/>
<text transform="translate(44.8 1200.5) rotate(-90)" text-anchor="middle" font-size="10.67">0.00</text>
<text transform="translate(44.8 1124.5) rotate(-90)" text-anchor="middle" font-size="10.67">0.01</text>
<text transform="translate(44.8 1048.5) rotate(-90)" text-anchor="middle" font-size="10.67">0.02</text>
<text transform="translate(44.8 972.5) rotate(-90)" text-anchor="middle" font-size="10.67">0.03</text>
<text transform="translate(44.8 896.5) rotate(-90)" text-anchor="middle" font-size="10.67">0.04</text>
<text transform="translate(44.8 820.5) rotate(-90)" text-anchor="middle" font-size="10.67">0.05</text>
<text transform="translate(44.8 744.5) rotate(-90)" text-anchor="middle" font-size="10.67">0.06</text>
<text x="326.0" y="671.9" text-anchor="middle" font-size="21.6" font-weight="bold">Motif score threshold: 87.700</text>
<text x="326.0" y="1265.9" text-anchor="middle" font-size="16">Motif score</text>
<text transform="translate(21.799999999999997 954.0) rotate(-90)" text-anchor="middle" font-size="16">Density</text>
<path d="M710.5 1220.5H1221.5M710.5 1220.5v6M795.5 1220.5v6M880.5 1220.5v6M966.5 1220.5v6M1051.5 1220.5v6M1136.5 1220.5v6M1221.5 1220.5v6" fill="none" stroke="#000" stroke-opacity="0.55" stroke-width="1"/>
<text x="710.5" y="1242.0" text-anchor="middle" font-size="10.67">-600</text>
<text x="795.5" y="1242.0" text-anchor="middle" font-size="10.67">-400</text>
<text x="880.5" y="1242.0" text-anchor="middle" font-size="10.67">-200</text>
<text x="966.5" y="1242.0" text-anchor="middle" font-size="10.67">0</text>
<text x="1051.5" y="1242.0" text-anchor="middle" font-size="10.67">200</text>
<text x="1136.5" y="1242.0" text-anchor="middle" font-size="10.67">400</text>
<text x="1221.5" y="1242.0" text-anchor="middle" font-size="10.67">600</text>
<path d="M699.5 1200.5V744.5M699.5 1200.5h-6M699.5 1124.5h-6M699.5 1048.5h-6M699.5 972.5h-6M699.5 896.5h-6M699.5 820.5h-6M699.5 744.5h-6" fill="none" stroke="#000" stroke-opacity="0.55" stroke-width="1"/>
<text transform="translate(684.8 1200.5) rotate(-90)" text-anchor="middle" font-size="10.67">0.0000</text>
<text transform="translate(684.8 1124.5) rotate(-90)" text-anchor="middle" font-size="10.67">0.0005</text>
<text transform="translate(684.8 1048.5) rotate(-90)" text-anchor="middle" font-size="10.67">0.0010</text>
<text transform="translate(684.8 972.5) rotate(-90)" text-anchor="middle" font-size="10.67">0.0015</text>
<text transform="translate(684.8 896.5) rotate(-90)" text-anchor="middle" font-size="10.67">0.0020</text>
<text transform="translate(684.8 820.5) rotate(-90)" text-anchor="middle" font-size="10.67">0.0025</text>
<text transform="translate(684.8 744.5) rotate(-90)" text-anchor="middle" font-size="10.67">0.0030</text>
<text x="966.0" y="671.9" text-anchor="middle" font-size="21.6" font-weight="bold">Enrichment zone: 81.00</text>
<text x="966.0" y="1265.9" text-anchor="middle" font-size="16">Distance to peak summit</text>
<text transform="translate(661.8 954.0) rotate(-90)" text-anchor="middle" font-size="16">Density</text></svg>
</body></html>
